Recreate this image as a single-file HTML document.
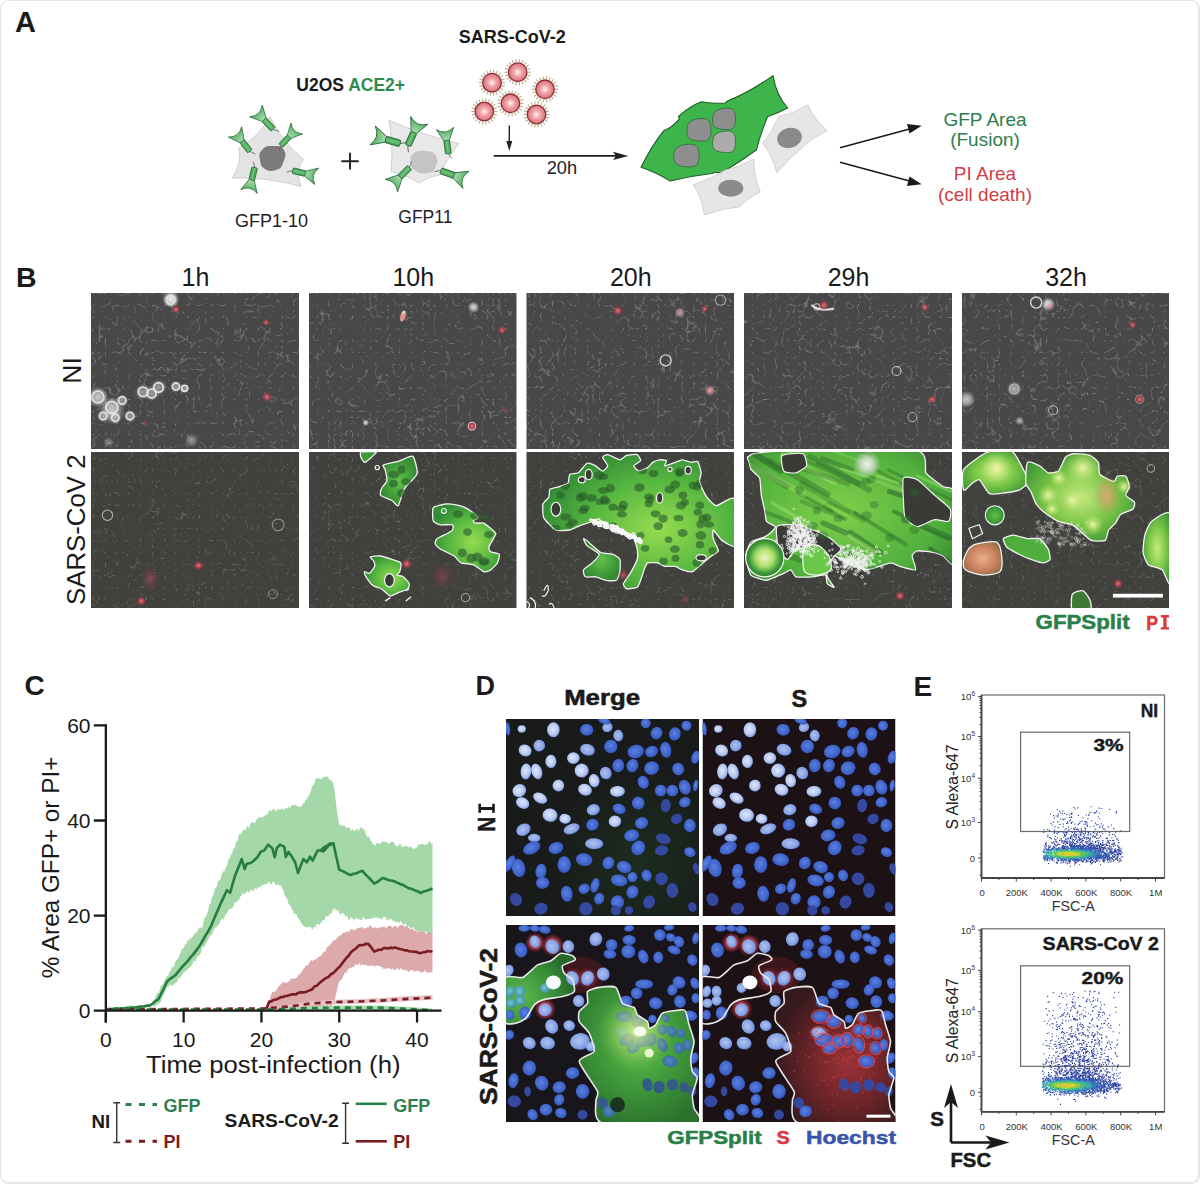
<!DOCTYPE html>
<html><head><meta charset="utf-8"><title>Figure</title>
<style>
html,body{margin:0;padding:0;background:#fff;}
body{width:1200px;height:1184px;overflow:hidden;position:relative;font-family:'Liberation Sans',sans-serif;}
#frame{position:absolute;left:0;top:0;width:1200px;height:1184px;box-sizing:border-box;border-style:solid;border-color:#e6e6e6;border-width:1px 2px 2px 1px;border-radius:9px;}
svg text{font-family:'Liberation Sans',sans-serif;}
</style></head><body>
<div id="frame"></div>
<svg width="1200" height="1184" viewBox="0 0 1200 1184" style="position:absolute;left:0;top:0">
<defs>
<linearGradient id="gstalk" x1="0" x2="1" y1="0" y2="0"><stop offset="0" stop-color="#3f9a4e"/><stop offset="0.5" stop-color="#6cc57a"/><stop offset="1" stop-color="#3f9a4e"/></linearGradient>
<linearGradient id="gcup" x1="0" x2="0" y1="0" y2="1"><stop offset="0" stop-color="#4fae5e"/><stop offset="1" stop-color="#a8dcb0"/></linearGradient>
<radialGradient id="vgrad" cx="0.5" cy="0.5" r="0.5"><stop offset="0" stop-color="#fff4f5"/><stop offset="0.45" stop-color="#f0a5aa"/><stop offset="1" stop-color="#d9717a"/></radialGradient>
</defs>
<text x="15" y="31.5" font-size="29" font-weight="bold" fill="#1a1a1a" text-anchor="start" >A</text>
<text x="296.3" y="90.8" font-size="17.5" font-weight="bold" fill="#1a1a1a">U2OS <tspan fill="#2e8b4e">ACE2+</tspan></text>
<text x="458.8" y="43" font-size="18" font-weight="bold" fill="#1a1a1a" text-anchor="start" >SARS-CoV-2</text>
<text x="235" y="226.5" font-size="18" font-weight="normal" fill="#222" text-anchor="start" >GFP1-10</text>
<text x="398.3" y="223" font-size="17.5" font-weight="normal" fill="#222" text-anchor="start" >GFP11</text>
<path d="M341.3,161.2 H358.7 M350,152.8 V169.5" stroke="#222" stroke-width="1.9"/>
<path d="M238.5,148.3 Q257.49,138.2 270,117 Q282.84,142.56 303.5,159.5 Q294.85,169.67 300.8,186.5 Q266.96,176.88 232,178 Q242.67,161.99 238.5,148.3Z" fill="#e4e4e4" stroke="#c6c6c6" stroke-width="0.8"/>
<path d="M262,150 C265.47,146.27 267.13,146 273,146 C278.87,146 281.33,145.47 284,150 C286.67,154.53 285.13,157.67 283,163 C280.87,168.33 280.8,168.4 276,170 C271.2,171.6 269.27,171.67 265,169 C260.73,166.33 260.8,165.07 260,160 C259.2,154.93 258.53,153.73 262,150Z" fill="#7b7b7b"/>
<g transform="translate(250.2,151.8) rotate(-37.51) scale(1.04)"><path d="M0,-1 C0.5,1.5 1.8,3 2.8,4.5" fill="none" stroke="#555" stroke-width="0.7"/><rect x="-2.7" y="-13" width="5.4" height="12.5" rx="0.9" fill="url(#gstalk)" stroke="#2a6434" stroke-width="0.7"/><path d="M-2.5,-12.8 C-4,-16 -6.2,-20 -8,-24 Q0,-17.5 8,-24 C6.2,-20 4,-16 2.5,-12.8 Z" fill="url(#gcup)" stroke="#2a6434" stroke-width="0.7" stroke-linejoin="round"/></g>
<g transform="translate(273.5,129.7) rotate(-43.1) scale(1.07)"><path d="M0,-1 C0.5,1.5 1.8,3 2.8,4.5" fill="none" stroke="#555" stroke-width="0.7"/><rect x="-2.7" y="-13" width="5.4" height="12.5" rx="0.9" fill="url(#gstalk)" stroke="#2a6434" stroke-width="0.7"/><path d="M-2.5,-12.8 C-4,-16 -6.2,-20 -8,-24 Q0,-17.5 8,-24 C6.2,-20 4,-16 2.5,-12.8 Z" fill="url(#gcup)" stroke="#2a6434" stroke-width="0.7" stroke-linejoin="round"/></g>
<g transform="translate(280.5,146) rotate(42.97) scale(1)"><path d="M0,-1 C0.5,1.5 1.8,3 2.8,4.5" fill="none" stroke="#555" stroke-width="0.7"/><rect x="-2.7" y="-13" width="5.4" height="12.5" rx="0.9" fill="url(#gstalk)" stroke="#2a6434" stroke-width="0.7"/><path d="M-2.5,-12.8 C-4,-16 -6.2,-20 -8,-24 Q0,-17.5 8,-24 C6.2,-20 4,-16 2.5,-12.8 Z" fill="url(#gcup)" stroke="#2a6434" stroke-width="0.7" stroke-linejoin="round"/></g>
<g transform="translate(292.2,170.5) rotate(103.32) scale(1.05)"><path d="M0,-1 C0.5,1.5 1.8,3 2.8,4.5" fill="none" stroke="#555" stroke-width="0.7"/><rect x="-2.7" y="-13" width="5.4" height="12.5" rx="0.9" fill="url(#gstalk)" stroke="#2a6434" stroke-width="0.7"/><path d="M-2.5,-12.8 C-4,-16 -6.2,-20 -8,-24 Q0,-17.5 8,-24 C6.2,-20 4,-16 2.5,-12.8 Z" fill="url(#gcup)" stroke="#2a6434" stroke-width="0.7" stroke-linejoin="round"/></g>
<g transform="translate(254.8,167) rotate(193.32) scale(1.05)"><path d="M0,-1 C0.5,1.5 1.8,3 2.8,4.5" fill="none" stroke="#555" stroke-width="0.7"/><rect x="-2.7" y="-13" width="5.4" height="12.5" rx="0.9" fill="url(#gstalk)" stroke="#2a6434" stroke-width="0.7"/><path d="M-2.5,-12.8 C-4,-16 -6.2,-20 -8,-24 Q0,-17.5 8,-24 C6.2,-20 4,-16 2.5,-12.8 Z" fill="url(#gcup)" stroke="#2a6434" stroke-width="0.7" stroke-linejoin="round"/></g>
<path d="M389,120.3 Q423.48,135.22 459,143.7 Q445.92,159.28 440,175 Q428.45,176.58 419.3,183 Q406.89,175.26 391,172 Q393.56,147.67 389,120.3Z" fill="#e8e8e8" stroke="#c6c6c6" stroke-width="0.8"/>
<path d="M413,154 C416.73,150.8 418.87,150.47 425,151 C431.13,151.53 433.33,151.47 436,156 C438.67,160.53 437.13,163.47 435,168 C432.87,172.53 433.07,172.2 428,173 C422.93,173.8 420.53,173.67 416,171 C411.47,168.33 411.8,167.53 411,163 C410.2,158.47 409.27,157.2 413,154Z" fill="#c4c4c4"/>
<g transform="translate(400.7,143.7) rotate(-73.68) scale(1.22)"><path d="M0,-1 C0.5,1.5 1.8,3 2.8,4.5" fill="none" stroke="#555" stroke-width="0.7"/><rect x="-2.7" y="-13" width="5.4" height="12.5" rx="0.9" fill="url(#gstalk)" stroke="#2a6434" stroke-width="0.7"/><path d="M-2.5,-12.8 C-4,-16 -6.2,-20 -8,-24 Q0,-17.5 8,-24 C6.2,-20 4,-16 2.5,-12.8 Z" fill="url(#gcup)" stroke="#2a6434" stroke-width="0.7" stroke-linejoin="round"/></g>
<g transform="translate(407.7,146) rotate(24.29) scale(1.17)"><path d="M0,-1 C0.5,1.5 1.8,3 2.8,4.5" fill="none" stroke="#555" stroke-width="0.7"/><rect x="-2.7" y="-13" width="5.4" height="12.5" rx="0.9" fill="url(#gstalk)" stroke="#2a6434" stroke-width="0.7"/><path d="M-2.5,-12.8 C-4,-16 -6.2,-20 -8,-24 Q0,-17.5 8,-24 C6.2,-20 4,-16 2.5,-12.8 Z" fill="url(#gcup)" stroke="#2a6434" stroke-width="0.7" stroke-linejoin="round"/></g>
<g transform="translate(448.5,154.2) rotate(-7.76) scale(1.08)"><path d="M0,-1 C0.5,1.5 1.8,3 2.8,4.5" fill="none" stroke="#555" stroke-width="0.7"/><rect x="-2.7" y="-13" width="5.4" height="12.5" rx="0.9" fill="url(#gstalk)" stroke="#2a6434" stroke-width="0.7"/><path d="M-2.5,-12.8 C-4,-16 -6.2,-20 -8,-24 Q0,-17.5 8,-24 C6.2,-20 4,-16 2.5,-12.8 Z" fill="url(#gcup)" stroke="#2a6434" stroke-width="0.7" stroke-linejoin="round"/></g>
<g transform="translate(410,167) rotate(225) scale(1.1)"><path d="M0,-1 C0.5,1.5 1.8,3 2.8,4.5" fill="none" stroke="#555" stroke-width="0.7"/><rect x="-2.7" y="-13" width="5.4" height="12.5" rx="0.9" fill="url(#gstalk)" stroke="#2a6434" stroke-width="0.7"/><path d="M-2.5,-12.8 C-4,-16 -6.2,-20 -8,-24 Q0,-17.5 8,-24 C6.2,-20 4,-16 2.5,-12.8 Z" fill="url(#gcup)" stroke="#2a6434" stroke-width="0.7" stroke-linejoin="round"/></g>
<g transform="translate(440.3,170.5) rotate(109.89) scale(1.14)"><path d="M0,-1 C0.5,1.5 1.8,3 2.8,4.5" fill="none" stroke="#555" stroke-width="0.7"/><rect x="-2.7" y="-13" width="5.4" height="12.5" rx="0.9" fill="url(#gstalk)" stroke="#2a6434" stroke-width="0.7"/><path d="M-2.5,-12.8 C-4,-16 -6.2,-20 -8,-24 Q0,-17.5 8,-24 C6.2,-20 4,-16 2.5,-12.8 Z" fill="url(#gcup)" stroke="#2a6434" stroke-width="0.7" stroke-linejoin="round"/></g>
<g><line x1="502.1" y1="82.7" x2="505.1" y2="82.7" stroke="#b9b38f" stroke-width="1.2"/><line x1="501.69" y1="85.55" x2="504.57" y2="86.39" stroke="#b9b38f" stroke-width="1.2"/><line x1="500.5" y1="88.16" x2="503.02" y2="89.78" stroke="#b9b38f" stroke-width="1.2"/><line x1="498.61" y1="90.33" x2="500.58" y2="92.6" stroke="#b9b38f" stroke-width="1.2"/><line x1="496.2" y1="91.89" x2="497.44" y2="94.62" stroke="#b9b38f" stroke-width="1.2"/><line x1="493.44" y1="92.7" x2="493.86" y2="95.67" stroke="#b9b38f" stroke-width="1.2"/><line x1="490.56" y1="92.7" x2="490.14" y2="95.67" stroke="#b9b38f" stroke-width="1.2"/><line x1="487.8" y1="91.89" x2="486.56" y2="94.62" stroke="#b9b38f" stroke-width="1.2"/><line x1="485.39" y1="90.33" x2="483.42" y2="92.6" stroke="#b9b38f" stroke-width="1.2"/><line x1="483.5" y1="88.16" x2="480.98" y2="89.78" stroke="#b9b38f" stroke-width="1.2"/><line x1="482.31" y1="85.55" x2="479.43" y2="86.39" stroke="#b9b38f" stroke-width="1.2"/><line x1="481.9" y1="82.7" x2="478.9" y2="82.7" stroke="#b9b38f" stroke-width="1.2"/><line x1="482.31" y1="79.85" x2="479.43" y2="79.01" stroke="#b9b38f" stroke-width="1.2"/><line x1="483.5" y1="77.24" x2="480.98" y2="75.62" stroke="#b9b38f" stroke-width="1.2"/><line x1="485.39" y1="75.07" x2="483.42" y2="72.8" stroke="#b9b38f" stroke-width="1.2"/><line x1="487.8" y1="73.51" x2="486.56" y2="70.78" stroke="#b9b38f" stroke-width="1.2"/><line x1="490.56" y1="72.7" x2="490.14" y2="69.73" stroke="#b9b38f" stroke-width="1.2"/><line x1="493.44" y1="72.7" x2="493.86" y2="69.73" stroke="#b9b38f" stroke-width="1.2"/><line x1="496.2" y1="73.51" x2="497.44" y2="70.78" stroke="#b9b38f" stroke-width="1.2"/><line x1="498.61" y1="75.07" x2="500.58" y2="72.8" stroke="#b9b38f" stroke-width="1.2"/><line x1="500.5" y1="77.24" x2="503.02" y2="75.62" stroke="#b9b38f" stroke-width="1.2"/><line x1="501.69" y1="79.85" x2="504.57" y2="79.01" stroke="#b9b38f" stroke-width="1.2"/><circle cx="492" cy="82.7" r="9.3" fill="url(#vgrad)" stroke="#8e2b32" stroke-width="1.3"/></g>
<g><line x1="527.8" y1="72.2" x2="530.8" y2="72.2" stroke="#b9b38f" stroke-width="1.2"/><line x1="527.39" y1="75.05" x2="530.27" y2="75.89" stroke="#b9b38f" stroke-width="1.2"/><line x1="526.2" y1="77.66" x2="528.72" y2="79.28" stroke="#b9b38f" stroke-width="1.2"/><line x1="524.31" y1="79.83" x2="526.28" y2="82.1" stroke="#b9b38f" stroke-width="1.2"/><line x1="521.9" y1="81.39" x2="523.14" y2="84.12" stroke="#b9b38f" stroke-width="1.2"/><line x1="519.14" y1="82.2" x2="519.56" y2="85.17" stroke="#b9b38f" stroke-width="1.2"/><line x1="516.26" y1="82.2" x2="515.84" y2="85.17" stroke="#b9b38f" stroke-width="1.2"/><line x1="513.5" y1="81.39" x2="512.26" y2="84.12" stroke="#b9b38f" stroke-width="1.2"/><line x1="511.09" y1="79.83" x2="509.12" y2="82.1" stroke="#b9b38f" stroke-width="1.2"/><line x1="509.2" y1="77.66" x2="506.68" y2="79.28" stroke="#b9b38f" stroke-width="1.2"/><line x1="508.01" y1="75.05" x2="505.13" y2="75.89" stroke="#b9b38f" stroke-width="1.2"/><line x1="507.6" y1="72.2" x2="504.6" y2="72.2" stroke="#b9b38f" stroke-width="1.2"/><line x1="508.01" y1="69.35" x2="505.13" y2="68.51" stroke="#b9b38f" stroke-width="1.2"/><line x1="509.2" y1="66.74" x2="506.68" y2="65.12" stroke="#b9b38f" stroke-width="1.2"/><line x1="511.09" y1="64.57" x2="509.12" y2="62.3" stroke="#b9b38f" stroke-width="1.2"/><line x1="513.5" y1="63.01" x2="512.26" y2="60.28" stroke="#b9b38f" stroke-width="1.2"/><line x1="516.26" y1="62.2" x2="515.84" y2="59.23" stroke="#b9b38f" stroke-width="1.2"/><line x1="519.14" y1="62.2" x2="519.56" y2="59.23" stroke="#b9b38f" stroke-width="1.2"/><line x1="521.9" y1="63.01" x2="523.14" y2="60.28" stroke="#b9b38f" stroke-width="1.2"/><line x1="524.31" y1="64.57" x2="526.28" y2="62.3" stroke="#b9b38f" stroke-width="1.2"/><line x1="526.2" y1="66.74" x2="528.72" y2="65.12" stroke="#b9b38f" stroke-width="1.2"/><line x1="527.39" y1="69.35" x2="530.27" y2="68.51" stroke="#b9b38f" stroke-width="1.2"/><circle cx="517.7" cy="72.2" r="9.3" fill="url(#vgrad)" stroke="#8e2b32" stroke-width="1.3"/></g>
<g><line x1="555.1" y1="89.3" x2="558.1" y2="89.3" stroke="#b9b38f" stroke-width="1.2"/><line x1="554.69" y1="92.15" x2="557.57" y2="92.99" stroke="#b9b38f" stroke-width="1.2"/><line x1="553.5" y1="94.76" x2="556.02" y2="96.38" stroke="#b9b38f" stroke-width="1.2"/><line x1="551.61" y1="96.93" x2="553.58" y2="99.2" stroke="#b9b38f" stroke-width="1.2"/><line x1="549.2" y1="98.49" x2="550.44" y2="101.22" stroke="#b9b38f" stroke-width="1.2"/><line x1="546.44" y1="99.3" x2="546.86" y2="102.27" stroke="#b9b38f" stroke-width="1.2"/><line x1="543.56" y1="99.3" x2="543.14" y2="102.27" stroke="#b9b38f" stroke-width="1.2"/><line x1="540.8" y1="98.49" x2="539.56" y2="101.22" stroke="#b9b38f" stroke-width="1.2"/><line x1="538.39" y1="96.93" x2="536.42" y2="99.2" stroke="#b9b38f" stroke-width="1.2"/><line x1="536.5" y1="94.76" x2="533.98" y2="96.38" stroke="#b9b38f" stroke-width="1.2"/><line x1="535.31" y1="92.15" x2="532.43" y2="92.99" stroke="#b9b38f" stroke-width="1.2"/><line x1="534.9" y1="89.3" x2="531.9" y2="89.3" stroke="#b9b38f" stroke-width="1.2"/><line x1="535.31" y1="86.45" x2="532.43" y2="85.61" stroke="#b9b38f" stroke-width="1.2"/><line x1="536.5" y1="83.84" x2="533.98" y2="82.22" stroke="#b9b38f" stroke-width="1.2"/><line x1="538.39" y1="81.67" x2="536.42" y2="79.4" stroke="#b9b38f" stroke-width="1.2"/><line x1="540.8" y1="80.11" x2="539.56" y2="77.38" stroke="#b9b38f" stroke-width="1.2"/><line x1="543.56" y1="79.3" x2="543.14" y2="76.33" stroke="#b9b38f" stroke-width="1.2"/><line x1="546.44" y1="79.3" x2="546.86" y2="76.33" stroke="#b9b38f" stroke-width="1.2"/><line x1="549.2" y1="80.11" x2="550.44" y2="77.38" stroke="#b9b38f" stroke-width="1.2"/><line x1="551.61" y1="81.67" x2="553.58" y2="79.4" stroke="#b9b38f" stroke-width="1.2"/><line x1="553.5" y1="83.84" x2="556.02" y2="82.22" stroke="#b9b38f" stroke-width="1.2"/><line x1="554.69" y1="86.45" x2="557.57" y2="85.61" stroke="#b9b38f" stroke-width="1.2"/><circle cx="545" cy="89.3" r="9.3" fill="url(#vgrad)" stroke="#8e2b32" stroke-width="1.3"/></g>
<g><line x1="520.6" y1="103.3" x2="523.6" y2="103.3" stroke="#b9b38f" stroke-width="1.2"/><line x1="520.19" y1="106.15" x2="523.07" y2="106.99" stroke="#b9b38f" stroke-width="1.2"/><line x1="519" y1="108.76" x2="521.52" y2="110.38" stroke="#b9b38f" stroke-width="1.2"/><line x1="517.11" y1="110.93" x2="519.08" y2="113.2" stroke="#b9b38f" stroke-width="1.2"/><line x1="514.7" y1="112.49" x2="515.94" y2="115.22" stroke="#b9b38f" stroke-width="1.2"/><line x1="511.94" y1="113.3" x2="512.36" y2="116.27" stroke="#b9b38f" stroke-width="1.2"/><line x1="509.06" y1="113.3" x2="508.64" y2="116.27" stroke="#b9b38f" stroke-width="1.2"/><line x1="506.3" y1="112.49" x2="505.06" y2="115.22" stroke="#b9b38f" stroke-width="1.2"/><line x1="503.89" y1="110.93" x2="501.92" y2="113.2" stroke="#b9b38f" stroke-width="1.2"/><line x1="502" y1="108.76" x2="499.48" y2="110.38" stroke="#b9b38f" stroke-width="1.2"/><line x1="500.81" y1="106.15" x2="497.93" y2="106.99" stroke="#b9b38f" stroke-width="1.2"/><line x1="500.4" y1="103.3" x2="497.4" y2="103.3" stroke="#b9b38f" stroke-width="1.2"/><line x1="500.81" y1="100.45" x2="497.93" y2="99.61" stroke="#b9b38f" stroke-width="1.2"/><line x1="502" y1="97.84" x2="499.48" y2="96.22" stroke="#b9b38f" stroke-width="1.2"/><line x1="503.89" y1="95.67" x2="501.92" y2="93.4" stroke="#b9b38f" stroke-width="1.2"/><line x1="506.3" y1="94.11" x2="505.06" y2="91.38" stroke="#b9b38f" stroke-width="1.2"/><line x1="509.06" y1="93.3" x2="508.64" y2="90.33" stroke="#b9b38f" stroke-width="1.2"/><line x1="511.94" y1="93.3" x2="512.36" y2="90.33" stroke="#b9b38f" stroke-width="1.2"/><line x1="514.7" y1="94.11" x2="515.94" y2="91.38" stroke="#b9b38f" stroke-width="1.2"/><line x1="517.11" y1="95.67" x2="519.08" y2="93.4" stroke="#b9b38f" stroke-width="1.2"/><line x1="519" y1="97.84" x2="521.52" y2="96.22" stroke="#b9b38f" stroke-width="1.2"/><line x1="520.19" y1="100.45" x2="523.07" y2="99.61" stroke="#b9b38f" stroke-width="1.2"/><circle cx="510.5" cy="103.3" r="9.3" fill="url(#vgrad)" stroke="#8e2b32" stroke-width="1.3"/></g>
<g><line x1="494.4" y1="111.5" x2="497.4" y2="111.5" stroke="#b9b38f" stroke-width="1.2"/><line x1="493.99" y1="114.35" x2="496.87" y2="115.19" stroke="#b9b38f" stroke-width="1.2"/><line x1="492.8" y1="116.96" x2="495.32" y2="118.58" stroke="#b9b38f" stroke-width="1.2"/><line x1="490.91" y1="119.13" x2="492.88" y2="121.4" stroke="#b9b38f" stroke-width="1.2"/><line x1="488.5" y1="120.69" x2="489.74" y2="123.42" stroke="#b9b38f" stroke-width="1.2"/><line x1="485.74" y1="121.5" x2="486.16" y2="124.47" stroke="#b9b38f" stroke-width="1.2"/><line x1="482.86" y1="121.5" x2="482.44" y2="124.47" stroke="#b9b38f" stroke-width="1.2"/><line x1="480.1" y1="120.69" x2="478.86" y2="123.42" stroke="#b9b38f" stroke-width="1.2"/><line x1="477.69" y1="119.13" x2="475.72" y2="121.4" stroke="#b9b38f" stroke-width="1.2"/><line x1="475.8" y1="116.96" x2="473.28" y2="118.58" stroke="#b9b38f" stroke-width="1.2"/><line x1="474.61" y1="114.35" x2="471.73" y2="115.19" stroke="#b9b38f" stroke-width="1.2"/><line x1="474.2" y1="111.5" x2="471.2" y2="111.5" stroke="#b9b38f" stroke-width="1.2"/><line x1="474.61" y1="108.65" x2="471.73" y2="107.81" stroke="#b9b38f" stroke-width="1.2"/><line x1="475.8" y1="106.04" x2="473.28" y2="104.42" stroke="#b9b38f" stroke-width="1.2"/><line x1="477.69" y1="103.87" x2="475.72" y2="101.6" stroke="#b9b38f" stroke-width="1.2"/><line x1="480.1" y1="102.31" x2="478.86" y2="99.58" stroke="#b9b38f" stroke-width="1.2"/><line x1="482.86" y1="101.5" x2="482.44" y2="98.53" stroke="#b9b38f" stroke-width="1.2"/><line x1="485.74" y1="101.5" x2="486.16" y2="98.53" stroke="#b9b38f" stroke-width="1.2"/><line x1="488.5" y1="102.31" x2="489.74" y2="99.58" stroke="#b9b38f" stroke-width="1.2"/><line x1="490.91" y1="103.87" x2="492.88" y2="101.6" stroke="#b9b38f" stroke-width="1.2"/><line x1="492.8" y1="106.04" x2="495.32" y2="104.42" stroke="#b9b38f" stroke-width="1.2"/><line x1="493.99" y1="108.65" x2="496.87" y2="107.81" stroke="#b9b38f" stroke-width="1.2"/><circle cx="484.3" cy="111.5" r="9.3" fill="url(#vgrad)" stroke="#8e2b32" stroke-width="1.3"/></g>
<g><line x1="546.6" y1="114.5" x2="549.6" y2="114.5" stroke="#b9b38f" stroke-width="1.2"/><line x1="546.19" y1="117.35" x2="549.07" y2="118.19" stroke="#b9b38f" stroke-width="1.2"/><line x1="545" y1="119.96" x2="547.52" y2="121.58" stroke="#b9b38f" stroke-width="1.2"/><line x1="543.11" y1="122.13" x2="545.08" y2="124.4" stroke="#b9b38f" stroke-width="1.2"/><line x1="540.7" y1="123.69" x2="541.94" y2="126.42" stroke="#b9b38f" stroke-width="1.2"/><line x1="537.94" y1="124.5" x2="538.36" y2="127.47" stroke="#b9b38f" stroke-width="1.2"/><line x1="535.06" y1="124.5" x2="534.64" y2="127.47" stroke="#b9b38f" stroke-width="1.2"/><line x1="532.3" y1="123.69" x2="531.06" y2="126.42" stroke="#b9b38f" stroke-width="1.2"/><line x1="529.89" y1="122.13" x2="527.92" y2="124.4" stroke="#b9b38f" stroke-width="1.2"/><line x1="528" y1="119.96" x2="525.48" y2="121.58" stroke="#b9b38f" stroke-width="1.2"/><line x1="526.81" y1="117.35" x2="523.93" y2="118.19" stroke="#b9b38f" stroke-width="1.2"/><line x1="526.4" y1="114.5" x2="523.4" y2="114.5" stroke="#b9b38f" stroke-width="1.2"/><line x1="526.81" y1="111.65" x2="523.93" y2="110.81" stroke="#b9b38f" stroke-width="1.2"/><line x1="528" y1="109.04" x2="525.48" y2="107.42" stroke="#b9b38f" stroke-width="1.2"/><line x1="529.89" y1="106.87" x2="527.92" y2="104.6" stroke="#b9b38f" stroke-width="1.2"/><line x1="532.3" y1="105.31" x2="531.06" y2="102.58" stroke="#b9b38f" stroke-width="1.2"/><line x1="535.06" y1="104.5" x2="534.64" y2="101.53" stroke="#b9b38f" stroke-width="1.2"/><line x1="537.94" y1="104.5" x2="538.36" y2="101.53" stroke="#b9b38f" stroke-width="1.2"/><line x1="540.7" y1="105.31" x2="541.94" y2="102.58" stroke="#b9b38f" stroke-width="1.2"/><line x1="543.11" y1="106.87" x2="545.08" y2="104.6" stroke="#b9b38f" stroke-width="1.2"/><line x1="545" y1="109.04" x2="547.52" y2="107.42" stroke="#b9b38f" stroke-width="1.2"/><line x1="546.19" y1="111.65" x2="549.07" y2="110.81" stroke="#b9b38f" stroke-width="1.2"/><circle cx="536.5" cy="114.5" r="9.3" fill="url(#vgrad)" stroke="#8e2b32" stroke-width="1.3"/></g>
<path d="M509.3,125.5 V146" stroke="#222" stroke-width="1.4"/><path d="M506.3,141 L509.3,151 L512.3,141 Z" fill="#222"/>
<path d="M493.7,155.9 H620" stroke="#222" stroke-width="1.6"/><path d="M613,151.8 L628.3,155.9 L613,160 L616,155.9 Z" fill="#222"/>
<text x="546.7" y="173.5" font-size="18.2" font-weight="normal" fill="#222" text-anchor="start" >20h</text>
<path d="M641,167.3 Q652,145 663.9,130.6 Q672,128 679.5,118.7 L678.5,116.5 Q690,106 701.5,101.8 Q714,104 725,103 L728,100.8 Q750,92 773,75.6 Q776,95 787.7,108 Q778,113 767.5,116.8 Q760,135 756.5,149.8 Q740,162 721.7,172.8 Q714,172 712,173.5 Q690,176 670.3,181 Q655,172 641,167.3 Z" fill="#3db54a" stroke="#1d5e2a" stroke-width="1.1" stroke-linejoin="round"/>
<path d="M677.3,147.3 C681.24,144.28 692.54,142.87 696.3,145.8 C700.06,148.73 699.45,159.45 697.8,163.3 C696.15,167.15 691.52,166.98 687.3,166.8 C683.08,166.62 676.63,165.88 674.8,162.3 C672.97,158.73 673.36,150.33 677.3,147.3Z" fill="#8e8e8e" stroke="#2b5e33" stroke-width="0.7"/>
<path d="M690.3,121.6 C694.06,118.57 704.72,117.17 708.3,120.1 C711.88,123.03 711.36,133.75 709.8,137.6 C708.24,141.45 703.83,141.28 699.8,141.1 C695.77,140.92 689.54,140.17 687.8,136.6 C686.06,133.03 686.54,124.62 690.3,121.6Z" fill="#8e8e8e" stroke="#2b5e33" stroke-width="0.7"/>
<path d="M715.9,111.1 C719.48,108.26 729.51,106.85 732.9,109.6 C736.29,112.35 735.87,122.43 734.4,126.1 C732.93,129.77 728.75,129.78 724.9,129.6 C721.05,129.42 715.05,128.49 713.4,125.1 C711.75,121.71 712.32,113.94 715.9,111.1Z" fill="#8e8e8e" stroke="#2b5e33" stroke-width="0.7"/>
<path d="M715.9,134 C719.48,131.16 729.51,129.75 732.9,132.5 C736.29,135.25 735.87,145.33 734.4,149 C732.93,152.67 728.75,152.68 724.9,152.5 C721.05,152.32 715.05,151.39 713.4,148 C711.75,144.61 712.32,136.84 715.9,134Z" fill="#ababab" stroke="#2b5e33" stroke-width="0.7"/>
<path d="M762.9,143.4 Q773.39,130.74 778.5,116.8 Q793.15,113.8 807.8,104.9 Q814.49,119.88 827,130.6 Q813.7,137.21 806,144.3 Q791.57,155.76 776.7,172.75 Q772.6,155.36 762.9,143.4Z" fill="#e6e6e6" stroke="#c8c8c8" stroke-width="0.8"/>
<ellipse cx="789.5" cy="137.9" rx="12.5" ry="10" fill="#8a8a8a" transform="rotate(-15 789.5 137.9)"/>
<path d="M693.3,184.7 Q711.72,178.61 725.3,170 Q738.34,167.31 753.8,159 Q753.7,176.99 760.2,192 Q747.63,197.97 740,206.7 Q723.03,208.05 704.3,214.9 Q702.48,198.37 693.3,184.7Z" fill="#e6e6e6" stroke="#c8c8c8" stroke-width="0.8"/>
<ellipse cx="730.8" cy="188.3" rx="12.5" ry="8.5" fill="#8a8a8a"/>
<path d="M840,147.7 L916,127.3" stroke="#1a1a1a" stroke-width="1.5"/><path d="M907,124 L921.7,125.7 L909.5,133.5 Z" fill="#1a1a1a"/>
<path d="M840,162.3 L916,182.7" stroke="#1a1a1a" stroke-width="1.5"/><path d="M909.5,176.5 L921.7,184.3 L907,186 Z" fill="#1a1a1a"/>
<text x="985" y="125.7" font-size="19" font-weight="normal" fill="#2e7d4c" text-anchor="middle" >GFP Area</text>
<text x="985" y="145.8" font-size="19" font-weight="normal" fill="#2e7d4c" text-anchor="middle" >(Fusion)</text>
<text x="985" y="179.7" font-size="19" font-weight="normal" fill="#d23c46" text-anchor="middle" >PI Area</text>
<text x="985" y="200.8" font-size="19" font-weight="normal" fill="#d23c46" text-anchor="middle" >(cell death)</text>
<defs>
<filter id="tex1" x="0" y="0" width="1" height="1" filterUnits="objectBoundingBox" color-interpolation-filters="sRGB">
 <feTurbulence type="turbulence" baseFrequency="0.085" numOctaves="2" seed="4" result="t"/>
 <feColorMatrix in="t" type="matrix" values="0 0 0 0 1  0 0 0 0 1  0 0 0 0 1  -2.6 0 0 0 0.26" result="c"/>
 <feGaussianBlur in="c" stdDeviation="0.7"/>
</filter>
<filter id="tex2" x="0" y="0" width="1" height="1" filterUnits="objectBoundingBox" color-interpolation-filters="sRGB">
 <feTurbulence type="turbulence" baseFrequency="0.085" numOctaves="2" seed="9" result="t"/>
 <feColorMatrix in="t" type="matrix" values="0 0 0 0 1  0 0 0 0 1  0 0 0 0 1  -2.6 0 0 0 0.2" result="c"/>
 <feGaussianBlur in="c" stdDeviation="0.7"/>
</filter>
<radialGradient id="rdot"><stop offset="0" stop-color="#f07880"/><stop offset="0.45" stop-color="#c84854" stop-opacity="0.75"/><stop offset="1" stop-color="#a03040" stop-opacity="0"/></radialGradient>
<radialGradient id="wdot"><stop offset="0" stop-color="#ffffff"/><stop offset="0.5" stop-color="#e0e0e0" stop-opacity="0.8"/><stop offset="1" stop-color="#d0d0d0" stop-opacity="0"/></radialGradient>
<radialGradient id="pdot"><stop offset="0" stop-color="#b85060" stop-opacity="0.6"/><stop offset="1" stop-color="#803040" stop-opacity="0"/></radialGradient>
<radialGradient id="g2"><stop offset="0" stop-color="#62c04a"/><stop offset="1" stop-color="#348c34"/></radialGradient>
<radialGradient id="g3" cx="0.6" cy="0.55" r="0.6"><stop offset="0" stop-color="#96dc50"/><stop offset="0.6" stop-color="#56b640"/><stop offset="1" stop-color="#348e36"/></radialGradient>
<radialGradient id="g4" cx="0.45" cy="0.45" r="0.7"><stop offset="0" stop-color="#80d04c"/><stop offset="0.7" stop-color="#4fae3c"/><stop offset="1" stop-color="#347e32"/></radialGradient>
<radialGradient id="g5" cx="0.5" cy="0.5" r="0.6"><stop offset="0" stop-color="#c8e880"/><stop offset="0.5" stop-color="#7cc848"/><stop offset="1" stop-color="#3d9436"/></radialGradient>
<radialGradient id="gball" cx="0.5" cy="0.5" r="0.5"><stop offset="0" stop-color="#e8f4c0"/><stop offset="0.45" stop-color="#b0e070"/><stop offset="0.8" stop-color="#3e9e38"/><stop offset="1" stop-color="#2e7a30"/></radialGradient>
<radialGradient id="gorange" cx="0.5" cy="0.5" r="0.6"><stop offset="0" stop-color="#e8b088"/><stop offset="0.6" stop-color="#c88060"/><stop offset="1" stop-color="#8a6a40"/></radialGradient>
</defs>
<text x="16" y="287" font-size="28.5" font-weight="bold" fill="#1a1a1a" text-anchor="start" >B</text>
<text x="195.5" y="285.8" font-size="25" font-weight="normal" fill="#1a1a1a" text-anchor="middle" font-family="'Liberation Mono', monospace" >1h</text>
<text x="413.25" y="285.8" font-size="25" font-weight="normal" fill="#1a1a1a" text-anchor="middle" font-family="'Liberation Mono', monospace" >10h</text>
<text x="630.75" y="285.8" font-size="25" font-weight="normal" fill="#1a1a1a" text-anchor="middle" font-family="'Liberation Mono', monospace" >20h</text>
<text x="848.5" y="285.8" font-size="25" font-weight="normal" fill="#1a1a1a" text-anchor="middle" font-family="'Liberation Mono', monospace" >29h</text>
<text x="1066" y="285.8" font-size="25" font-weight="normal" fill="#1a1a1a" text-anchor="middle" font-family="'Liberation Mono', monospace" >32h</text>
<text transform="translate(81.3,370.5) rotate(-90)" font-family="'Liberation Mono', monospace" font-size="26.5" fill="#1a1a1a" text-anchor="middle">NI</text>
<text transform="translate(85,529.7) rotate(-90)" font-family="'Liberation Mono', monospace" font-size="25.8" fill="#1a1a1a" text-anchor="middle">SARS-CoV 2</text>
<text x="1035.6" y="629" font-size="19.7" font-weight="bold" fill="#2a7f48" stroke="#2a7f48" stroke-width="0.5" textLength="94" lengthAdjust="spacingAndGlyphs">GFPSplit</text>
<text x="1146.2" y="629.6" font-size="20" font-weight="bold" fill="#d93a3a" stroke="#d93a3a" stroke-width="0.5" textLength="11.8" lengthAdjust="spacingAndGlyphs">P</text>
<path d="M1160.8,615.1 H1169 V617.5 H1166.6 V627.2 H1169 V629.6 H1160.8 V627.2 H1163.3 V617.5 H1160.8 Z" fill="#d93a3a"/>
<rect x="91" y="293" width="208" height="156" fill="#484848"/><rect x="91" y="293" width="208" height="156" fill="#fff" filter="url(#tex1)"/><svg x="91" y="293" width="208" height="156" viewBox="0 0 1200 900" preserveAspectRatio="none"><circle cx="300" cy="570" r="48" fill="url(#wdot)" opacity="0.45"/><circle cx="300" cy="570" r="27.2" fill="none" stroke="#e8e8e8" stroke-width="11" opacity="0.9"/><circle cx="350" cy="580" r="45" fill="url(#wdot)" opacity="0.45"/><circle cx="350" cy="580" r="25.5" fill="none" stroke="#e8e8e8" stroke-width="11" opacity="0.9"/><circle cx="390" cy="545" r="48" fill="url(#wdot)" opacity="0.45"/><circle cx="390" cy="545" r="27.2" fill="none" stroke="#e8e8e8" stroke-width="11" opacity="0.9"/><circle cx="490" cy="540" r="36" fill="url(#wdot)" opacity="0.45"/><circle cx="490" cy="540" r="20.4" fill="none" stroke="#e8e8e8" stroke-width="11" opacity="0.9"/><circle cx="540" cy="550" r="30" fill="url(#wdot)" opacity="0.45"/><circle cx="540" cy="550" r="17" fill="none" stroke="#e8e8e8" stroke-width="11" opacity="0.9"/><circle cx="40" cy="600" r="60" fill="url(#wdot)" opacity="0.45"/><circle cx="40" cy="600" r="34" fill="none" stroke="#e8e8e8" stroke-width="11" opacity="0.9"/><circle cx="120" cy="660" r="60" fill="url(#wdot)" opacity="0.45"/><circle cx="120" cy="660" r="34" fill="none" stroke="#e8e8e8" stroke-width="11" opacity="0.9"/><circle cx="70" cy="710" r="37.5" fill="url(#wdot)" opacity="0.45"/><circle cx="70" cy="710" r="21.25" fill="none" stroke="#e8e8e8" stroke-width="11" opacity="0.9"/><circle cx="140" cy="720" r="37.5" fill="url(#wdot)" opacity="0.45"/><circle cx="140" cy="720" r="21.25" fill="none" stroke="#e8e8e8" stroke-width="11" opacity="0.9"/><circle cx="180" cy="620" r="37.5" fill="url(#wdot)" opacity="0.45"/><circle cx="180" cy="620" r="21.25" fill="none" stroke="#e8e8e8" stroke-width="11" opacity="0.9"/><circle cx="225" cy="710" r="37.5" fill="url(#wdot)" opacity="0.45"/><circle cx="225" cy="710" r="21.25" fill="none" stroke="#e8e8e8" stroke-width="11" opacity="0.9"/><circle cx="460" cy="40" r="45" fill="url(#wdot)" opacity="0.45"/><circle cx="460" cy="40" r="25.5" fill="none" stroke="#e8e8e8" stroke-width="11" opacity="0.9"/><circle cx="460" cy="35" r="50" fill="url(#wdot)" opacity="0.9"/><circle cx="120" cy="680" r="80" fill="url(#wdot)" opacity="0.5"/><circle cx="40" cy="600" r="60" fill="url(#wdot)" opacity="0.5"/><circle cx="490" cy="95" r="26" fill="url(#rdot)" opacity="1"/><circle cx="1010" cy="170" r="22" fill="url(#rdot)" opacity="1"/><circle cx="1015" cy="600" r="30" fill="url(#rdot)" opacity="1"/><circle cx="310" cy="750" r="26" fill="url(#pdot)" opacity="1"/><circle cx="580" cy="850" r="40" fill="url(#wdot)" opacity="0.4"/><circle cx="100" cy="860" r="30" fill="url(#wdot)" opacity="0.3"/></svg>
<rect x="309" y="293" width="207.5" height="156" fill="#484848"/><rect x="309" y="293" width="207.5" height="156" fill="#fff" filter="url(#tex1)"/><svg x="309" y="293" width="207.5" height="156" viewBox="0 0 1200 900" preserveAspectRatio="none"><ellipse cx="543" cy="133" rx="14" ry="32" fill="#ffe0d0" opacity="0.9" transform="rotate(15 543 133)"/><circle cx="543" cy="140" r="30" fill="url(#rdot)" opacity="0.6"/><circle cx="952" cy="82" r="34" fill="url(#wdot)" opacity="0.8"/><circle cx="1116" cy="215" r="26" fill="url(#rdot)" opacity="1"/><circle cx="942" cy="768" r="34" fill="url(#rdot)" opacity="1"/><circle cx="942" cy="768" r="22" fill="none" stroke="#e8e8e8" stroke-width="6" opacity="0.8"/><circle cx="1137" cy="676" r="26" fill="url(#pdot)" opacity="1"/><circle cx="328" cy="748" r="20" fill="url(#wdot)" opacity="0.8"/></svg>
<rect x="526.5" y="293" width="207.5" height="156" fill="#484848"/><rect x="526.5" y="293" width="207.5" height="156" fill="#fff" filter="url(#tex1)"/><svg x="526.5" y="293" width="207.5" height="156" viewBox="0 0 1200 900" preserveAspectRatio="none"><circle cx="528" cy="102" r="30" fill="url(#rdot)" opacity="1"/><circle cx="887" cy="113" r="30" fill="url(#wdot)" opacity="0.7"/><circle cx="887" cy="113" r="20" fill="url(#rdot)" opacity="0.6"/><circle cx="1030" cy="92" r="22" fill="url(#rdot)" opacity="1"/><circle cx="805" cy="389" r="32" fill="none" stroke="#e8e8e8" stroke-width="8" opacity="0.85"/><circle cx="1061" cy="563" r="30" fill="url(#rdot)" opacity="1"/><circle cx="1061" cy="563" r="34" fill="url(#wdot)" opacity="0.4"/><circle cx="1122" cy="41" r="30" fill="none" stroke="#e8e8e8" stroke-width="6" opacity="0.6"/></svg>
<rect x="744" y="293" width="208" height="156" fill="#484848"/><rect x="744" y="293" width="208" height="156" fill="#fff" filter="url(#tex1)"/><svg x="744" y="293" width="208" height="156" viewBox="0 0 1200 900" preserveAspectRatio="none"><path d="M390,70 Q440,110 520,90" fill="none" stroke="#f4f4f4" stroke-width="12" opacity="0.85"/><circle cx="420" cy="80" r="18" fill="none" stroke="#e8e8e8" stroke-width="6" opacity="0.8"/><circle cx="461" cy="70" r="30" fill="url(#rdot)" opacity="1"/><circle cx="1044" cy="82" r="24" fill="url(#rdot)" opacity="1"/><circle cx="1085" cy="614" r="26" fill="url(#rdot)" opacity="1"/><circle cx="880" cy="450" r="26" fill="none" stroke="#e8e8e8" stroke-width="6" opacity="0.8"/><circle cx="972" cy="716" r="26" fill="none" stroke="#e8e8e8" stroke-width="6" opacity="0.6"/></svg>
<rect x="962" y="293" width="207" height="156" fill="#484848"/><rect x="962" y="293" width="207" height="156" fill="#fff" filter="url(#tex1)"/><svg x="962" y="293" width="207" height="156" viewBox="0 0 1200 900" preserveAspectRatio="none"><circle cx="430" cy="55" r="32" fill="none" stroke="#e8e8e8" stroke-width="8" opacity="0.9"/><circle cx="500" cy="65" r="40" fill="url(#wdot)" opacity="0.95"/><circle cx="510" cy="75" r="24" fill="url(#rdot)" opacity="0.5"/><circle cx="989" cy="184" r="24" fill="url(#rdot)" opacity="1"/><circle cx="1030" cy="614" r="30" fill="url(#rdot)" opacity="1"/><circle cx="1030" cy="614" r="24" fill="none" stroke="#e8e8e8" stroke-width="5" opacity="0.5"/><circle cx="303" cy="553" r="45" fill="url(#wdot)" opacity="0.6"/><circle cx="303" cy="553" r="28" fill="none" stroke="#e8e8e8" stroke-width="6" opacity="0.6"/><circle cx="27" cy="614" r="50" fill="url(#wdot)" opacity="0.7"/><circle cx="528" cy="676" r="26" fill="none" stroke="#e8e8e8" stroke-width="6" opacity="0.7"/><circle cx="334" cy="737" r="26" fill="url(#wdot)" opacity="0.6"/></svg>
<rect x="91" y="452" width="208" height="156" fill="#41413e"/><rect x="91" y="452" width="208" height="156" fill="#fff" filter="url(#tex2)"/><svg x="91" y="452" width="208" height="156" viewBox="0 0 1200 900" preserveAspectRatio="none"><circle cx="95" cy="365" r="30" fill="none" stroke="#e8e8e8" stroke-width="6" opacity="0.7"/><circle cx="1080" cy="420" r="34" fill="none" stroke="#e8e8e8" stroke-width="6" opacity="0.5"/><circle cx="1050" cy="820" r="26" fill="none" stroke="#e8e8e8" stroke-width="5" opacity="0.5"/><circle cx="620" cy="655" r="30" fill="url(#rdot)" opacity="1"/><circle cx="290" cy="860" r="30" fill="url(#rdot)" opacity="1"/><ellipse cx="340" cy="730" rx="55" ry="75" fill="url(#pdot)"/></svg>
<rect x="309" y="452" width="207.5" height="156" fill="#41413e"/><rect x="309" y="452" width="207.5" height="156" fill="#fff" filter="url(#tex2)"/><svg x="309" y="452" width="207.5" height="156" viewBox="0 0 1200 900" preserveAspectRatio="none"><circle cx="565" cy="645" r="32" fill="url(#rdot)" opacity="1"/><ellipse cx="770" cy="720" rx="70" ry="90" fill="url(#pdot)" opacity="0.7"/><circle cx="905" cy="840" r="24" fill="none" stroke="#e8e8e8" stroke-width="6" opacity="0.6"/><path d="M430,75 C438.17,69.75 497.17,58.5 510,55 C522.83,51.5 529.5,48.5 540,45 C550.5,41.5 590.08,15.67 600,25 C609.92,34.33 629.67,104.58 625,125 C620.33,145.42 569.92,186.58 560,200 C550.08,213.42 545.25,227.17 540,240 C534.75,252.83 522,305.33 515,310 C508,314.67 491.67,287 480,280 C468.33,273 422,258.17 415,250 C408,241.83 415.92,219.92 420,210 C424.08,200.08 447.67,177.83 450,165 C452.33,152.17 442.33,110.5 440,100 C437.67,89.5 421.83,80.25 430,75Z" fill="url(#g2)" stroke="#f4f4f4" stroke-width="1.3" vector-effect="non-scaling-stroke" stroke-linejoin="round" /><path d="M300,0 C306,-2 386.67,-2.67 390,0 C393.33,2.67 354.67,36 350,40 C345.33,44 323.33,60.67 320,60 C316.67,59.33 301.33,34 300,30 C298.67,26 294,2 300,0Z" fill="#3f9a3a" stroke="#f4f4f4" stroke-width="1.3" vector-effect="non-scaling-stroke" stroke-linejoin="round" /><path d="M720,320 C727.5,314 777,301.5 790,300 C803,298.5 839,303 850,305 C861,307 890,315.5 900,320 C910,324.5 942,344 950,350 C958,356 980,375.5 980,380 C980,384.5 952,392 950,395 C948,398 954,408.5 960,410 C966,411.5 1001,407 1010,410 C1019,413 1043,434 1050,440 C1057,446 1079,463 1080,470 C1081,477 1064,502 1060,510 C1056,518 1041,543.5 1040,550 C1039,556.5 1044,571 1050,575 C1056,579 1096,583.5 1100,590 C1104,596.5 1095,631 1090,640 C1085,649 1058,675 1050,680 C1042,685 1020,693 1010,690 C1000,687 963,655 950,650 C937,645 891,645 880,640 C869,635 848,606 840,600 C832,594 808,584 800,580 C792,576 767,565 760,560 C753,555 732,536 730,530 C728,524 733,506 740,500 C747,494 791,475 800,470 C809,465 827,455 830,450 C833,445 837,423 830,420 C823,417 771,422 760,420 C749,418 724.5,406 720,400 C715.5,394 715,368 715,360 C715,352 712.5,326 720,320Z" fill="url(#g3)" stroke="#f4f4f4" stroke-width="1.3" vector-effect="non-scaling-stroke" stroke-linejoin="round" /><path d="M355,605 C358.5,602 397.5,598.5 410,600 C422.5,601.5 468,616 480,620 C492,624 525.5,633 530,640 C534.5,647 527,683 525,690 C523,697 508,707 510,710 C512,713 538,715 545,720 C552,725 577.5,753 580,760 C582.5,767 576,785 570,790 C564,795 530,806 520,810 C510,814 480,832 470,830 C460,828 430,796 420,790 C410,784 379,777 370,770 C361,763 335,728 330,720 C325,712 318,692 320,690 C322,688 344,703 350,700 C356,697 377.5,667 380,660 C382.5,653 377.5,635.5 375,630 C372.5,624.5 351.5,608 355,605Z" fill="url(#g3)" stroke="#f4f4f4" stroke-width="1.3" vector-effect="non-scaling-stroke" stroke-linejoin="round" /><ellipse cx="465" cy="740" rx="28" ry="38" fill="#3a3a36" stroke="#f4f4f4" stroke-width="1.2" vector-effect="non-scaling-stroke"/><ellipse cx="488.56" cy="182.52" rx="25.7" ry="22.83" fill="#2a5e2c" opacity="0.62"/><ellipse cx="535.09" cy="101.14" rx="22.13" ry="24.7" fill="#2a5e2c" opacity="0.62"/><ellipse cx="491.12" cy="129.84" rx="31.96" ry="21.76" fill="#2a5e2c" opacity="0.62"/><ellipse cx="560.38" cy="170.98" rx="28.39" ry="19.2" fill="#2a5e2c" opacity="0.62"/><ellipse cx="536.18" cy="237.57" rx="27.23" ry="23.93" fill="#2a5e2c" opacity="0.62"/><ellipse cx="961.28" cy="368.57" rx="29.58" ry="22.73" fill="#2a5e2c" opacity="0.62"/><ellipse cx="861.34" cy="358.99" rx="30.66" ry="21.78" fill="#2a5e2c" opacity="0.62"/><ellipse cx="974.08" cy="604.86" rx="29.14" ry="25.37" fill="#2a5e2c" opacity="0.62"/><ellipse cx="886.64" cy="582.26" rx="26.45" ry="25.48" fill="#2a5e2c" opacity="0.62"/><ellipse cx="1017.29" cy="378.26" rx="23.36" ry="19.74" fill="#2a5e2c" opacity="0.62"/><ellipse cx="1040.68" cy="476.49" rx="28.27" ry="20.41" fill="#2a5e2c" opacity="0.62"/><ellipse cx="916.96" cy="461.9" rx="25.51" ry="22.68" fill="#2a5e2c" opacity="0.62"/><ellipse cx="937.75" cy="612.22" rx="28.82" ry="25.43" fill="#2a5e2c" opacity="0.62"/><ellipse cx="1011.23" cy="637.39" rx="28.71" ry="19.3" fill="#2a5e2c" opacity="0.62"/><ellipse cx="1012.37" cy="629.74" rx="31.05" ry="22.55" fill="#2a5e2c" opacity="0.62"/><path d="M440,860 L470,840 M560,860 L590,835 M560,800 L580,790" stroke="#f4f4f4" stroke-width="8"/><circle cx="780" cy="340" r="14" fill="none" stroke="#f4f4f4" stroke-width="1.2" vector-effect="non-scaling-stroke"/><circle cx="395" cy="90" r="12" fill="none" stroke="#f4f4f4" stroke-width="1.2" vector-effect="non-scaling-stroke"/></svg>
<rect x="526.5" y="452" width="207.5" height="156" fill="#41413e"/><rect x="526.5" y="452" width="207.5" height="156" fill="#fff" filter="url(#tex2)"/><svg x="526.5" y="452" width="207.5" height="156" viewBox="0 0 1200 900" preserveAspectRatio="none"><defs><clipPath id="clipT3"><path d="M95,300 C97.5,290 126.67,267.08 130,260 C133.33,252.92 130,220 135,215 C140,210 181.25,202.92 190,200 C198.75,197.08 235,185.83 240,180 C245,174.17 245,135 250,130 C255,125 291.67,125.42 300,120 C308.33,114.58 341.67,68.33 350,65 C358.33,61.67 392.5,76.25 400,80 C407.5,83.75 434.17,110 440,110 C445.83,110 470,86.67 470,80 C470,73.33 440,35.42 440,30 C440,24.58 461.67,13.75 470,15 C478.33,16.25 530.83,44.58 540,45 C549.17,45.42 571.67,22.5 580,20 C588.33,17.5 633.33,12.5 640,15 C646.67,17.5 661.67,44.58 660,50 C658.33,55.42 620.83,75 620,80 C619.17,85 643.33,109.17 650,110 C656.67,110.83 693.33,94.17 700,90 C706.67,85.83 724.17,63.75 730,60 C735.83,56.25 763.33,45.83 770,45 C776.67,44.17 807.5,47.08 810,50 C812.5,52.92 795.83,79.17 800,80 C804.17,80.83 851.67,62.92 860,60 C868.33,57.08 892.5,45 900,45 C907.5,45 942.5,59.17 950,60 C957.5,60.83 985,50 990,55 C995,60 1009.17,110.42 1010,120 C1010.83,129.58 998.33,160 1000,170 C1001.67,180 1025,230.83 1030,240 C1035,249.17 1054.17,274.17 1060,280 C1065.83,285.83 1088.33,310.83 1100,310 C1111.67,309.17 1190.83,250.83 1200,270 C1209.17,289.17 1215.83,520 1210,540 C1204.17,560 1140.83,517.5 1130,510 C1119.17,502.5 1084.17,450.83 1080,450 C1075.83,449.17 1077.5,490 1080,500 C1082.5,510 1110.83,561.67 1110,570 C1109.17,578.33 1077.5,594.17 1070,600 C1062.5,605.83 1029.17,632.5 1020,640 C1010.83,647.5 970,686.67 960,690 C950,693.33 908.33,682.5 900,680 C891.67,677.5 868.33,661.67 860,660 C851.67,658.33 808.33,661.67 800,660 C791.67,658.33 768.33,641.67 760,640 C751.67,638.33 706.67,636.67 700,640 C693.33,643.33 683.33,671.67 680,680 C676.67,688.33 663.33,731.67 660,740 C656.67,748.33 646.67,775.83 640,780 C633.33,784.17 586.67,791.67 580,790 C573.33,788.33 558.33,767.5 560,760 C561.67,752.5 593.33,711.67 600,700 C606.67,688.33 636.67,631.67 640,620 C643.33,608.33 641.67,570 640,560 C638.33,550 626.67,509.17 620,500 C613.33,490.83 571.67,456.67 560,450 C548.33,443.33 493.33,424.17 480,420 C466.67,415.83 413.33,400 400,400 C386.67,400 332.5,415.83 320,420 C307.5,424.17 262.5,447.5 250,450 C237.5,452.5 182.5,455.83 170,450 C157.5,444.17 106.25,392.5 100,380 C93.75,367.5 92.5,310 95,300Z"/></clipPath></defs><path d="M95,300 C97.5,290 126.67,267.08 130,260 C133.33,252.92 130,220 135,215 C140,210 181.25,202.92 190,200 C198.75,197.08 235,185.83 240,180 C245,174.17 245,135 250,130 C255,125 291.67,125.42 300,120 C308.33,114.58 341.67,68.33 350,65 C358.33,61.67 392.5,76.25 400,80 C407.5,83.75 434.17,110 440,110 C445.83,110 470,86.67 470,80 C470,73.33 440,35.42 440,30 C440,24.58 461.67,13.75 470,15 C478.33,16.25 530.83,44.58 540,45 C549.17,45.42 571.67,22.5 580,20 C588.33,17.5 633.33,12.5 640,15 C646.67,17.5 661.67,44.58 660,50 C658.33,55.42 620.83,75 620,80 C619.17,85 643.33,109.17 650,110 C656.67,110.83 693.33,94.17 700,90 C706.67,85.83 724.17,63.75 730,60 C735.83,56.25 763.33,45.83 770,45 C776.67,44.17 807.5,47.08 810,50 C812.5,52.92 795.83,79.17 800,80 C804.17,80.83 851.67,62.92 860,60 C868.33,57.08 892.5,45 900,45 C907.5,45 942.5,59.17 950,60 C957.5,60.83 985,50 990,55 C995,60 1009.17,110.42 1010,120 C1010.83,129.58 998.33,160 1000,170 C1001.67,180 1025,230.83 1030,240 C1035,249.17 1054.17,274.17 1060,280 C1065.83,285.83 1088.33,310.83 1100,310 C1111.67,309.17 1190.83,250.83 1200,270 C1209.17,289.17 1215.83,520 1210,540 C1204.17,560 1140.83,517.5 1130,510 C1119.17,502.5 1084.17,450.83 1080,450 C1075.83,449.17 1077.5,490 1080,500 C1082.5,510 1110.83,561.67 1110,570 C1109.17,578.33 1077.5,594.17 1070,600 C1062.5,605.83 1029.17,632.5 1020,640 C1010.83,647.5 970,686.67 960,690 C950,693.33 908.33,682.5 900,680 C891.67,677.5 868.33,661.67 860,660 C851.67,658.33 808.33,661.67 800,660 C791.67,658.33 768.33,641.67 760,640 C751.67,638.33 706.67,636.67 700,640 C693.33,643.33 683.33,671.67 680,680 C676.67,688.33 663.33,731.67 660,740 C656.67,748.33 646.67,775.83 640,780 C633.33,784.17 586.67,791.67 580,790 C573.33,788.33 558.33,767.5 560,760 C561.67,752.5 593.33,711.67 600,700 C606.67,688.33 636.67,631.67 640,620 C643.33,608.33 641.67,570 640,560 C638.33,550 626.67,509.17 620,500 C613.33,490.83 571.67,456.67 560,450 C548.33,443.33 493.33,424.17 480,420 C466.67,415.83 413.33,400 400,400 C386.67,400 332.5,415.83 320,420 C307.5,424.17 262.5,447.5 250,450 C237.5,452.5 182.5,455.83 170,450 C157.5,444.17 106.25,392.5 100,380 C93.75,367.5 92.5,310 95,300Z" fill="url(#g3)" stroke="#f4f4f4" stroke-width="1.3" vector-effect="non-scaling-stroke" stroke-linejoin="round" /><path d="M330,500 C331,498 350,512 360,520 C370,528 416,573 430,580 C444,587 489,586 500,590 C511,594 536,610 540,620 C544,630 542,678 540,690 C538,702 528,735 520,740 C512,745 472,742 460,740 C448,738 412,722 400,720 C388,718 347,724 340,720 C333,716 326,688 330,680 C334,672 371,649 380,640 C389,631 423,600 420,590 C417,580 359,549 350,540 C341,531 329,502 330,500Z" fill="url(#g2)" stroke="#f4f4f4" stroke-width="1.3" vector-effect="non-scaling-stroke" stroke-linejoin="round" /><g clip-path="url(#clipT3)"><ellipse cx="828.13" cy="216.12" rx="30.32" ry="22.59" fill="#2a5e2c" opacity="0.62"/><ellipse cx="420.71" cy="134.9" rx="30.54" ry="25.92" fill="#2a5e2c" opacity="0.62"/><ellipse cx="234.09" cy="540.33" rx="26.1" ry="19.21" fill="#2a5e2c" opacity="0.62"/><ellipse cx="429.2" cy="522.84" rx="30.73" ry="18.35" fill="#2a5e2c" opacity="0.62"/><ellipse cx="733.81" cy="124.72" rx="29.18" ry="20.65" fill="#2a5e2c" opacity="0.62"/><ellipse cx="986.86" cy="639.35" rx="27.05" ry="25.99" fill="#2a5e2c" opacity="0.62"/><ellipse cx="444.19" cy="142.33" rx="28" ry="18.25" fill="#2a5e2c" opacity="0.62"/><ellipse cx="337.52" cy="324.36" rx="28.1" ry="19.25" fill="#2a5e2c" opacity="0.62"/><ellipse cx="190.31" cy="577.28" rx="25.14" ry="25.67" fill="#2a5e2c" opacity="0.62"/><ellipse cx="1001.83" cy="307.78" rx="26.6" ry="22.16" fill="#2a5e2c" opacity="0.62"/><ellipse cx="761.69" cy="427.61" rx="27.59" ry="22.96" fill="#2a5e2c" opacity="0.62"/><ellipse cx="1043.59" cy="378.86" rx="26.31" ry="23.76" fill="#2a5e2c" opacity="0.62"/><ellipse cx="375.75" cy="265.6" rx="31.78" ry="22.17" fill="#2a5e2c" opacity="0.62"/><ellipse cx="671.01" cy="106.3" rx="26.15" ry="22.64" fill="#2a5e2c" opacity="0.62"/><ellipse cx="169.05" cy="438.69" rx="28.32" ry="18.48" fill="#2a5e2c" opacity="0.62"/><ellipse cx="745.97" cy="356.44" rx="28.79" ry="20.82" fill="#2a5e2c" opacity="0.62"/><ellipse cx="821.6" cy="505.92" rx="22.22" ry="18.48" fill="#2a5e2c" opacity="0.62"/><ellipse cx="792.22" cy="629.82" rx="24.51" ry="21.65" fill="#2a5e2c" opacity="0.62"/><ellipse cx="713.04" cy="276.01" rx="25.64" ry="20.5" fill="#2a5e2c" opacity="0.62"/><ellipse cx="500.7" cy="427.59" rx="25" ry="21.02" fill="#2a5e2c" opacity="0.62"/><ellipse cx="883.66" cy="114.81" rx="27.69" ry="23.88" fill="#2a5e2c" opacity="0.62"/><ellipse cx="444.52" cy="222.4" rx="30.04" ry="19.91" fill="#2a5e2c" opacity="0.62"/><ellipse cx="328.02" cy="339.38" rx="28.98" ry="18.81" fill="#2a5e2c" opacity="0.62"/><ellipse cx="455.87" cy="283.56" rx="30.34" ry="21.51" fill="#2a5e2c" opacity="0.62"/><ellipse cx="962.76" cy="193.11" rx="25.37" ry="23.2" fill="#2a5e2c" opacity="0.62"/><ellipse cx="990.65" cy="348.11" rx="24.25" ry="18.97" fill="#2a5e2c" opacity="0.62"/><ellipse cx="653.15" cy="204.94" rx="30.07" ry="24.71" fill="#2a5e2c" opacity="0.62"/><ellipse cx="324.41" cy="253.23" rx="30.07" ry="23.14" fill="#2a5e2c" opacity="0.62"/><ellipse cx="915.94" cy="289.91" rx="23.3" ry="20.34" fill="#2a5e2c" opacity="0.62"/><ellipse cx="904.17" cy="249.15" rx="25.46" ry="21.34" fill="#2a5e2c" opacity="0.62"/><ellipse cx="548.78" cy="325.24" rx="31.21" ry="19.25" fill="#2a5e2c" opacity="0.62"/><ellipse cx="154.43" cy="618.8" rx="30.8" ry="25.9" fill="#2a5e2c" opacity="0.62"/><ellipse cx="562.63" cy="622.59" rx="31.27" ry="19.78" fill="#2a5e2c" opacity="0.62"/><ellipse cx="858.25" cy="560.18" rx="28.63" ry="22.15" fill="#2a5e2c" opacity="0.62"/><ellipse cx="424.59" cy="287.59" rx="24.27" ry="18.54" fill="#2a5e2c" opacity="0.62"/><ellipse cx="709.24" cy="257.86" rx="30.1" ry="18.36" fill="#2a5e2c" opacity="0.62"/><ellipse cx="1008.43" cy="481.54" rx="31.24" ry="25.17" fill="#2a5e2c" opacity="0.62"/><ellipse cx="1004.69" cy="417.32" rx="22.13" ry="23.96" fill="#2a5e2c" opacity="0.62"/><ellipse cx="313.23" cy="264.94" rx="28.63" ry="22.2" fill="#2a5e2c" opacity="0.62"/><ellipse cx="543.06" cy="616.47" rx="28.12" ry="20.73" fill="#2a5e2c" opacity="0.62"/><ellipse cx="389.85" cy="573.92" rx="26.77" ry="24.26" fill="#2a5e2c" opacity="0.62"/><ellipse cx="484.25" cy="208.53" rx="27.35" ry="24.53" fill="#2a5e2c" opacity="0.62"/><ellipse cx="312.74" cy="535.42" rx="31.22" ry="24.45" fill="#2a5e2c" opacity="0.62"/><ellipse cx="932.32" cy="104.13" rx="28.29" ry="24.9" fill="#2a5e2c" opacity="0.62"/><ellipse cx="197.44" cy="249.27" rx="24.69" ry="22.22" fill="#2a5e2c" opacity="0.62"/><ellipse cx="551.83" cy="360.1" rx="29.76" ry="18.01" fill="#2a5e2c" opacity="0.62"/><ellipse cx="202.09" cy="169.77" rx="23.25" ry="18.55" fill="#2a5e2c" opacity="0.62"/><ellipse cx="1075.96" cy="569.95" rx="22.86" ry="22.02" fill="#2a5e2c" opacity="0.62"/><ellipse cx="450.1" cy="273.02" rx="25.51" ry="23.18" fill="#2a5e2c" opacity="0.62"/><ellipse cx="707.28" cy="298.46" rx="23.91" ry="20.63" fill="#2a5e2c" opacity="0.62"/><ellipse cx="267.57" cy="405.54" rx="29.16" ry="21.04" fill="#2a5e2c" opacity="0.62"/><ellipse cx="225.91" cy="198.21" rx="25.73" ry="22.84" fill="#2a5e2c" opacity="0.62"/><ellipse cx="893.49" cy="309.15" rx="30.01" ry="22.98" fill="#2a5e2c" opacity="0.62"/><ellipse cx="560.01" cy="304.83" rx="26.96" ry="23.62" fill="#2a5e2c" opacity="0.62"/><ellipse cx="549.49" cy="481.77" rx="26.61" ry="19.96" fill="#2a5e2c" opacity="0.62"/><ellipse cx="659.05" cy="482.34" rx="22.72" ry="21.4" fill="#2a5e2c" opacity="0.62"/><ellipse cx="554.56" cy="583.82" rx="31.36" ry="20.99" fill="#2a5e2c" opacity="0.62"/><ellipse cx="1002.96" cy="535" rx="24.62" ry="21.71" fill="#2a5e2c" opacity="0.62"/><ellipse cx="266.99" cy="547.27" rx="28.62" ry="25.1" fill="#2a5e2c" opacity="0.62"/><ellipse cx="902.85" cy="467.16" rx="29.34" ry="22.51" fill="#2a5e2c" opacity="0.62"/><ellipse cx="247.98" cy="423.27" rx="22.05" ry="19.15" fill="#2a5e2c" opacity="0.62"/><ellipse cx="885.59" cy="124.37" rx="22.92" ry="18.79" fill="#2a5e2c" opacity="0.62"/><ellipse cx="986.44" cy="198.53" rx="22.23" ry="24.73" fill="#2a5e2c" opacity="0.62"/><ellipse cx="265.22" cy="564.17" rx="28.74" ry="24.69" fill="#2a5e2c" opacity="0.62"/><ellipse cx="1054.79" cy="418.49" rx="29.99" ry="18.29" fill="#2a5e2c" opacity="0.62"/><ellipse cx="879.05" cy="381.23" rx="29.15" ry="18.85" fill="#2a5e2c" opacity="0.62"/><ellipse cx="861.52" cy="614.01" rx="22.61" ry="20.59" fill="#2a5e2c" opacity="0.62"/><ellipse cx="685.78" cy="555.43" rx="24.42" ry="19.44" fill="#2a5e2c" opacity="0.62"/><ellipse cx="387.47" cy="438.79" rx="29.54" ry="21.15" fill="#2a5e2c" opacity="0.62"/><ellipse cx="499.1" cy="318.15" rx="25.5" ry="21.35" fill="#2a5e2c" opacity="0.62"/><ellipse cx="229.1" cy="375.17" rx="31.73" ry="21.3" fill="#2a5e2c" opacity="0.62"/><ellipse cx="860.04" cy="188.34" rx="28.91" ry="24.05" fill="#2a5e2c" opacity="0.62"/><ellipse cx="790.16" cy="384.4" rx="26.84" ry="23.14" fill="#2a5e2c" opacity="0.62"/><ellipse cx="1002.53" cy="182.13" rx="22.96" ry="23.99" fill="#2a5e2c" opacity="0.62"/><ellipse cx="1020.78" cy="384.49" rx="26.43" ry="23.75" fill="#2a5e2c" opacity="0.62"/></g><ellipse cx="170" cy="330" rx="28" ry="40" fill="#3a3a36" stroke="#f4f4f4" stroke-width="1.2" vector-effect="non-scaling-stroke"/><ellipse cx="360" cy="130" rx="20" ry="30" fill="#3a3a36" stroke="#f4f4f4" stroke-width="1.2" vector-effect="non-scaling-stroke"/><ellipse cx="320" cy="160" rx="20" ry="18" fill="#3a3a36" stroke="#f4f4f4" stroke-width="1.2" vector-effect="non-scaling-stroke"/><ellipse cx="770" cy="265" rx="18" ry="30" fill="#3a3a36" stroke="#f4f4f4" stroke-width="1.2" vector-effect="non-scaling-stroke"/><ellipse cx="935" cy="105" rx="18" ry="22" fill="#3a3a36" stroke="#f4f4f4" stroke-width="1.2" vector-effect="non-scaling-stroke"/><ellipse cx="1010" cy="610" rx="30" ry="18" fill="#3a3a36" stroke="#f4f4f4" stroke-width="1.2" vector-effect="non-scaling-stroke"/><ellipse cx="830" cy="100" rx="12" ry="12" fill="#3a3a36" stroke="#f4f4f4" stroke-width="1.2" vector-effect="non-scaling-stroke"/><path d="M100,800 Q130,740 125,800 Q110,840 90,830 M20,840 Q60,860 50,900 M0,860 Q30,880 10,900 M130,880 Q150,860 160,900" fill="none" stroke="#f4f4f4" stroke-width="1.2" vector-effect="non-scaling-stroke"/><circle cx="372.47" cy="393.49" r="7" fill="none" stroke="#f8f8f8" stroke-width="8" opacity="0.95"/><circle cx="386.05" cy="395.72" r="7.16" fill="none" stroke="#f8f8f8" stroke-width="8" opacity="0.95"/><circle cx="392.59" cy="414.55" r="7.48" fill="none" stroke="#f8f8f8" stroke-width="8" opacity="0.95"/><circle cx="396.93" cy="400.42" r="10.27" fill="none" stroke="#f8f8f8" stroke-width="8" opacity="0.95"/><circle cx="398.03" cy="397.36" r="7.09" fill="none" stroke="#f8f8f8" stroke-width="8" opacity="0.95"/><circle cx="388.55" cy="404.38" r="7.91" fill="none" stroke="#f8f8f8" stroke-width="8" opacity="0.95"/><circle cx="396.13" cy="402.15" r="7.61" fill="none" stroke="#f8f8f8" stroke-width="8" opacity="0.95"/><circle cx="414.58" cy="397.22" r="10.96" fill="none" stroke="#f8f8f8" stroke-width="8" opacity="0.95"/><circle cx="411.51" cy="411.15" r="8.34" fill="none" stroke="#f8f8f8" stroke-width="8" opacity="0.95"/><circle cx="424.03" cy="418.59" r="8.79" fill="none" stroke="#f8f8f8" stroke-width="8" opacity="0.95"/><circle cx="419.55" cy="417" r="10.28" fill="none" stroke="#f8f8f8" stroke-width="8" opacity="0.95"/><circle cx="421.61" cy="418.62" r="10.8" fill="none" stroke="#f8f8f8" stroke-width="8" opacity="0.95"/><circle cx="427.22" cy="405.8" r="7.17" fill="none" stroke="#f8f8f8" stroke-width="8" opacity="0.95"/><circle cx="437.22" cy="419.59" r="10.79" fill="none" stroke="#f8f8f8" stroke-width="8" opacity="0.95"/><circle cx="444.49" cy="408.8" r="6.95" fill="none" stroke="#f8f8f8" stroke-width="8" opacity="0.95"/><circle cx="434.21" cy="408.62" r="9.52" fill="none" stroke="#f8f8f8" stroke-width="8" opacity="0.95"/><circle cx="452.61" cy="429.96" r="7.28" fill="none" stroke="#f8f8f8" stroke-width="8" opacity="0.95"/><circle cx="456.76" cy="414.94" r="8.12" fill="none" stroke="#f8f8f8" stroke-width="8" opacity="0.95"/><circle cx="457.5" cy="409.99" r="6.46" fill="none" stroke="#f8f8f8" stroke-width="8" opacity="0.95"/><circle cx="464.01" cy="417.19" r="7.78" fill="none" stroke="#f8f8f8" stroke-width="8" opacity="0.95"/><circle cx="461.93" cy="429.38" r="6.03" fill="none" stroke="#f8f8f8" stroke-width="8" opacity="0.95"/><circle cx="460.04" cy="424.15" r="8.43" fill="none" stroke="#f8f8f8" stroke-width="8" opacity="0.95"/><circle cx="461.04" cy="429.79" r="10.78" fill="none" stroke="#f8f8f8" stroke-width="8" opacity="0.95"/><circle cx="469.38" cy="430.14" r="6.6" fill="none" stroke="#f8f8f8" stroke-width="8" opacity="0.95"/><circle cx="470.59" cy="435.04" r="6.56" fill="none" stroke="#f8f8f8" stroke-width="8" opacity="0.95"/><circle cx="489.29" cy="443.36" r="6.48" fill="none" stroke="#f8f8f8" stroke-width="8" opacity="0.95"/><circle cx="494.59" cy="429.92" r="9.86" fill="none" stroke="#f8f8f8" stroke-width="8" opacity="0.95"/><circle cx="494.18" cy="429.25" r="9.38" fill="none" stroke="#f8f8f8" stroke-width="8" opacity="0.95"/><circle cx="495.7" cy="445.09" r="7.33" fill="none" stroke="#f8f8f8" stroke-width="8" opacity="0.95"/><circle cx="502.1" cy="450.98" r="9.36" fill="none" stroke="#f8f8f8" stroke-width="8" opacity="0.95"/><circle cx="500.87" cy="428.79" r="8.47" fill="none" stroke="#f8f8f8" stroke-width="8" opacity="0.95"/><circle cx="500.45" cy="447.29" r="9.39" fill="none" stroke="#f8f8f8" stroke-width="8" opacity="0.95"/><circle cx="509.59" cy="433.85" r="9.23" fill="none" stroke="#f8f8f8" stroke-width="8" opacity="0.95"/><circle cx="515.14" cy="435.34" r="10.45" fill="none" stroke="#f8f8f8" stroke-width="8" opacity="0.95"/><circle cx="519.73" cy="435.36" r="10.66" fill="none" stroke="#f8f8f8" stroke-width="8" opacity="0.95"/><circle cx="511.39" cy="442.78" r="9.6" fill="none" stroke="#f8f8f8" stroke-width="8" opacity="0.95"/><circle cx="526.34" cy="450.63" r="9.24" fill="none" stroke="#f8f8f8" stroke-width="8" opacity="0.95"/><circle cx="526.98" cy="445.44" r="6.88" fill="none" stroke="#f8f8f8" stroke-width="8" opacity="0.95"/><circle cx="521.65" cy="458.33" r="9.77" fill="none" stroke="#f8f8f8" stroke-width="8" opacity="0.95"/><circle cx="537.04" cy="460.61" r="7.8" fill="none" stroke="#f8f8f8" stroke-width="8" opacity="0.95"/><circle cx="534.38" cy="452.25" r="10.36" fill="none" stroke="#f8f8f8" stroke-width="8" opacity="0.95"/><circle cx="533.01" cy="457.27" r="7.24" fill="none" stroke="#f8f8f8" stroke-width="8" opacity="0.95"/><circle cx="554.45" cy="454.68" r="7.66" fill="none" stroke="#f8f8f8" stroke-width="8" opacity="0.95"/><circle cx="549.68" cy="461.57" r="9.86" fill="none" stroke="#f8f8f8" stroke-width="8" opacity="0.95"/><circle cx="552.47" cy="471.76" r="6.56" fill="none" stroke="#f8f8f8" stroke-width="8" opacity="0.95"/><circle cx="554.49" cy="452.49" r="6.56" fill="none" stroke="#f8f8f8" stroke-width="8" opacity="0.95"/><circle cx="570.7" cy="471.73" r="6.92" fill="none" stroke="#f8f8f8" stroke-width="8" opacity="0.95"/><circle cx="560.54" cy="464.7" r="9.72" fill="none" stroke="#f8f8f8" stroke-width="8" opacity="0.95"/><circle cx="579.58" cy="475.68" r="8.96" fill="none" stroke="#f8f8f8" stroke-width="8" opacity="0.95"/><circle cx="567.52" cy="467.57" r="6.97" fill="none" stroke="#f8f8f8" stroke-width="8" opacity="0.95"/><circle cx="580.66" cy="474.04" r="7.01" fill="none" stroke="#f8f8f8" stroke-width="8" opacity="0.95"/><circle cx="578" cy="481.73" r="6.15" fill="none" stroke="#f8f8f8" stroke-width="8" opacity="0.95"/><circle cx="595.28" cy="486.53" r="10.75" fill="none" stroke="#f8f8f8" stroke-width="8" opacity="0.95"/><circle cx="589.2" cy="478.8" r="8.92" fill="none" stroke="#f8f8f8" stroke-width="8" opacity="0.95"/><circle cx="599.21" cy="492.45" r="9.43" fill="none" stroke="#f8f8f8" stroke-width="8" opacity="0.95"/><circle cx="595.19" cy="490.96" r="8.42" fill="none" stroke="#f8f8f8" stroke-width="8" opacity="0.95"/><circle cx="606.43" cy="489.04" r="6.01" fill="none" stroke="#f8f8f8" stroke-width="8" opacity="0.95"/><circle cx="614.49" cy="489.05" r="8.46" fill="none" stroke="#f8f8f8" stroke-width="8" opacity="0.95"/><circle cx="612.57" cy="485.26" r="6.97" fill="none" stroke="#f8f8f8" stroke-width="8" opacity="0.95"/><circle cx="616.71" cy="475.27" r="8.5" fill="none" stroke="#f8f8f8" stroke-width="8" opacity="0.95"/><circle cx="623.5" cy="488.57" r="8.83" fill="none" stroke="#f8f8f8" stroke-width="8" opacity="0.95"/><circle cx="635.02" cy="503.03" r="6.68" fill="none" stroke="#f8f8f8" stroke-width="8" opacity="0.95"/><circle cx="635.02" cy="497.46" r="6.25" fill="none" stroke="#f8f8f8" stroke-width="8" opacity="0.95"/><circle cx="628.64" cy="488.52" r="6.39" fill="none" stroke="#f8f8f8" stroke-width="8" opacity="0.95"/><circle cx="636.93" cy="510.04" r="7.62" fill="none" stroke="#f8f8f8" stroke-width="8" opacity="0.95"/><circle cx="648.89" cy="505.5" r="6.67" fill="none" stroke="#f8f8f8" stroke-width="8" opacity="0.95"/><circle cx="652.6" cy="504.96" r="10.63" fill="none" stroke="#f8f8f8" stroke-width="8" opacity="0.95"/><circle cx="653.18" cy="510.96" r="7.72" fill="none" stroke="#f8f8f8" stroke-width="8" opacity="0.95"/><circle cx="659.36" cy="518.49" r="10.31" fill="none" stroke="#f8f8f8" stroke-width="8" opacity="0.95"/><circle cx="654.49" cy="515.79" r="8.43" fill="none" stroke="#f8f8f8" stroke-width="8" opacity="0.95"/><circle cx="560" cy="710" r="34" fill="url(#rdot)" opacity="0.6"/><circle cx="920" cy="850" r="30" fill="url(#pdot)" opacity="1"/></svg>
<rect x="744" y="452" width="208" height="156" fill="#41413e"/><rect x="744" y="452" width="208" height="156" fill="#fff" filter="url(#tex2)"/><svg x="744" y="452" width="208" height="156" viewBox="0 0 1200 900" preserveAspectRatio="none"><defs><clipPath id="clipT4"><path d="M20,30 C22.5,25.83 45,12.92 60,10 C75,7.08 121.67,-3.75 200,-5 C278.33,-6.25 929.17,-15.42 1000,-5 C1070.83,5.42 1037.5,102.92 1050,120 C1062.5,137.08 1136.67,190.83 1150,200 C1163.33,209.17 1205,193.33 1210,230 C1215,266.67 1215,609.17 1210,640 C1205,670.83 1159.17,605 1150,600 C1140.83,595 1112.5,582.5 1100,580 C1087.5,577.5 1010.83,568.33 1000,570 C989.17,571.67 970.83,590.83 970,600 C969.17,609.17 995.83,675 990,680 C984.17,685 911.67,663.33 900,660 C888.33,656.67 860,640 850,640 C840,640 792.5,656.67 780,660 C767.5,663.33 715,681.67 700,680 C685,678.33 615,646.67 600,640 C585,633.33 530,599.17 520,600 C510,600.83 483.33,640 480,650 C476.67,660 476.67,709.17 480,720 C483.33,730.83 520,776.67 520,780 C520,783.33 484.17,765.83 480,760 C475.83,754.17 476.67,713.33 470,710 C463.33,706.67 414.17,719.17 400,720 C385.83,720.83 310.83,723.33 300,720 C289.17,716.67 275.83,681.67 270,680 C264.17,678.33 241.67,695 230,700 C218.33,705 145.83,739.17 130,740 C114.17,740.83 50,721.67 40,710 C30,698.33 10,615.83 10,600 C10,584.17 30.83,529.17 40,520 C49.17,510.83 110,495 120,490 C130,485 155,465 160,460 C165,455 182.5,435 180,430 C177.5,425 135,407.5 130,400 C125,392.5 122.5,352.5 120,340 C117.5,327.5 102.5,265.83 100,250 C97.5,234.17 95,162.5 90,150 C85,137.5 45,107.5 40,100 C35,92.5 31.67,65.83 30,60 C28.33,54.17 17.5,34.17 20,30Z"/></clipPath></defs><path d="M20,30 C22.5,25.83 45,12.92 60,10 C75,7.08 121.67,-3.75 200,-5 C278.33,-6.25 929.17,-15.42 1000,-5 C1070.83,5.42 1037.5,102.92 1050,120 C1062.5,137.08 1136.67,190.83 1150,200 C1163.33,209.17 1205,193.33 1210,230 C1215,266.67 1215,609.17 1210,640 C1205,670.83 1159.17,605 1150,600 C1140.83,595 1112.5,582.5 1100,580 C1087.5,577.5 1010.83,568.33 1000,570 C989.17,571.67 970.83,590.83 970,600 C969.17,609.17 995.83,675 990,680 C984.17,685 911.67,663.33 900,660 C888.33,656.67 860,640 850,640 C840,640 792.5,656.67 780,660 C767.5,663.33 715,681.67 700,680 C685,678.33 615,646.67 600,640 C585,633.33 530,599.17 520,600 C510,600.83 483.33,640 480,650 C476.67,660 476.67,709.17 480,720 C483.33,730.83 520,776.67 520,780 C520,783.33 484.17,765.83 480,760 C475.83,754.17 476.67,713.33 470,710 C463.33,706.67 414.17,719.17 400,720 C385.83,720.83 310.83,723.33 300,720 C289.17,716.67 275.83,681.67 270,680 C264.17,678.33 241.67,695 230,700 C218.33,705 145.83,739.17 130,740 C114.17,740.83 50,721.67 40,710 C30,698.33 10,615.83 10,600 C10,584.17 30.83,529.17 40,520 C49.17,510.83 110,495 120,490 C130,485 155,465 160,460 C165,455 182.5,435 180,430 C177.5,425 135,407.5 130,400 C125,392.5 122.5,352.5 120,340 C117.5,327.5 102.5,265.83 100,250 C97.5,234.17 95,162.5 90,150 C85,137.5 45,107.5 40,100 C35,92.5 31.67,65.83 30,60 C28.33,54.17 17.5,34.17 20,30Z" fill="url(#g4)" stroke="#f4f4f4" stroke-width="1.3" vector-effect="non-scaling-stroke" stroke-linejoin="round" /><g clip-path="url(#clipT4)"><path d="M30.95,-70.11 L164.62,-18.25" stroke="#245a26" stroke-width="22.18" opacity="0.39" stroke-linecap="round"/><path d="M-18.42,496.25 L145.87,575.76" stroke="#245a26" stroke-width="24.07" opacity="0.48" stroke-linecap="round"/><path d="M381.75,26.41 L720.98,218.46" stroke="#2c6a2c" stroke-width="34.07" opacity="0.38" stroke-linecap="round"/><path d="M333.83,181.27 L686.55,392.09" stroke="#2c6a2c" stroke-width="32.36" opacity="0.29" stroke-linecap="round"/><path d="M451.99,36.71 L622.94,101.42" stroke="#2c6a2c" stroke-width="25.09" opacity="0.44" stroke-linecap="round"/><path d="M67.11,326.08 L303.21,416.5" stroke="#245a26" stroke-width="22.48" opacity="0.35" stroke-linecap="round"/><path d="M-60.59,399.8 L121.13,461.05" stroke="#2c6a2c" stroke-width="12.69" opacity="0.54" stroke-linecap="round"/><path d="M162.69,-34.01 L408.23,58.46" stroke="#9ee070" stroke-width="15.02" opacity="0.52" stroke-linecap="round"/><path d="M613.3,465.22 L785.71,580.21" stroke="#2c6a2c" stroke-width="32.52" opacity="0.54" stroke-linecap="round"/><path d="M486.28,292.79 L604.71,344.01" stroke="#2c6a2c" stroke-width="20.24" opacity="0.27" stroke-linecap="round"/><path d="M422.47,-37.43 L709.93,65.36" stroke="#9ee070" stroke-width="14.35" opacity="0.3" stroke-linecap="round"/><path d="M-56.07,-62.24 L210.97,107.26" stroke="#245a26" stroke-width="35.4" opacity="0.48" stroke-linecap="round"/><path d="M307.98,235.04 L506.05,342.76" stroke="#2c6a2c" stroke-width="19.92" opacity="0.43" stroke-linecap="round"/><path d="M1035.85,-38.55 L1213.04,70.45" stroke="#245a26" stroke-width="25.19" opacity="0.41" stroke-linecap="round"/><path d="M543.82,444.84 L749.39,570.31" stroke="#9ee070" stroke-width="22.03" opacity="0.53" stroke-linecap="round"/><path d="M331.08,28.75 L657.77,181.19" stroke="#2c6a2c" stroke-width="32.27" opacity="0.39" stroke-linecap="round"/><path d="M223.35,18.82 L521.03,175.05" stroke="#9ee070" stroke-width="30.12" opacity="0.53" stroke-linecap="round"/><path d="M-48.72,20.17 L246.92,198.97" stroke="#245a26" stroke-width="31.72" opacity="0.45" stroke-linecap="round"/><path d="M16.5,66.02 L345.08,242.77" stroke="#9ee070" stroke-width="34.68" opacity="0.38" stroke-linecap="round"/><path d="M976.27,413 L1177.48,502.25" stroke="#245a26" stroke-width="17.07" opacity="0.49" stroke-linecap="round"/><path d="M998.85,136.93 L1191.93,227.81" stroke="#9ee070" stroke-width="17.47" opacity="0.46" stroke-linecap="round"/><path d="M1073.17,554.81 L1208.62,645.37" stroke="#245a26" stroke-width="17.98" opacity="0.54" stroke-linecap="round"/><path d="M164.1,293.72 L375.96,418.51" stroke="#9ee070" stroke-width="20.29" opacity="0.51" stroke-linecap="round"/><path d="M838.61,227.24 L1129.2,325.38" stroke="#245a26" stroke-width="27.55" opacity="0.51" stroke-linecap="round"/><path d="M21.69,560.23 L206.64,626.61" stroke="#2c6a2c" stroke-width="17.79" opacity="0.5" stroke-linecap="round"/><path d="M638.51,349.26 L934.15,533.63" stroke="#2c6a2c" stroke-width="22.47" opacity="0.45" stroke-linecap="round"/><path d="M833.37,104.31 L1198.79,275.48" stroke="#2c6a2c" stroke-width="17.36" opacity="0.41" stroke-linecap="round"/><path d="M457.01,409.61 L588.27,466.78" stroke="#2c6a2c" stroke-width="31.59" opacity="0.53" stroke-linecap="round"/><path d="M723.62,155.25 L1059.35,271.33" stroke="#9ee070" stroke-width="17.57" opacity="0.36" stroke-linecap="round"/><path d="M1094.89,134.64 L1330.07,217.22" stroke="#245a26" stroke-width="20.4" opacity="0.47" stroke-linecap="round"/><path d="M148.32,53.11 L480.5,243.06" stroke="#2c6a2c" stroke-width="36.21" opacity="0.41" stroke-linecap="round"/><path d="M402.49,563.64 L729.63,777.66" stroke="#2c6a2c" stroke-width="35.24" opacity="0.54" stroke-linecap="round"/><path d="M463.27,311.3 L572.31,382.98" stroke="#245a26" stroke-width="16.8" opacity="0.28" stroke-linecap="round"/><path d="M766.83,106.01 L1009.86,236.47" stroke="#245a26" stroke-width="17.07" opacity="0.31" stroke-linecap="round"/><path d="M490.11,-73.66 L733.02,20.3" stroke="#2c6a2c" stroke-width="15.72" opacity="0.38" stroke-linecap="round"/><path d="M990.16,210.69 L1153.74,289.76" stroke="#9ee070" stroke-width="19.39" opacity="0.36" stroke-linecap="round"/><path d="M867.22,343.98 L1232.61,513.59" stroke="#2c6a2c" stroke-width="24.33" opacity="0.55" stroke-linecap="round"/><path d="M167.14,569.57 L363.02,635" stroke="#2c6a2c" stroke-width="35.06" opacity="0.49" stroke-linecap="round"/><path d="M256.88,69.82 L600.85,182.65" stroke="#245a26" stroke-width="28.36" opacity="0.29" stroke-linecap="round"/><path d="M-74.97,565.08 L25.3,632.05" stroke="#2c6a2c" stroke-width="21.23" opacity="0.54" stroke-linecap="round"/><path d="M335.39,286.85 L583.31,386.11" stroke="#2c6a2c" stroke-width="23.24" opacity="0.35" stroke-linecap="round"/><path d="M-38.48,282.21 L97.9,340.06" stroke="#245a26" stroke-width="29.47" opacity="0.4" stroke-linecap="round"/><path d="M767.47,137.67 L889.55,178.75" stroke="#9ee070" stroke-width="16.31" opacity="0.48" stroke-linecap="round"/><path d="M576.49,567.47 L869.14,746.54" stroke="#2c6a2c" stroke-width="25.23" opacity="0.5" stroke-linecap="round"/><path d="M562.23,95.72 L724.25,149.21" stroke="#9ee070" stroke-width="13.57" opacity="0.49" stroke-linecap="round"/></g><path d="M190,430 C200,416 279,418 300,420 C321,422 380,442 400,450 C420,458 484,489 500,500 C516,511 558,550 560,560 C562,570 528,592 520,600 C512,608 494,644 480,640 C466,636 398,568 380,560 C362,552 313,554 300,560 C287,566 260,620 250,620 C240,620 206,579 200,560 C194,541 180,444 190,430Z" fill="#3a3a36" stroke="#f4f4f4" stroke-width="1.2" vector-effect="non-scaling-stroke"/><path d="M360,540 C372,532 412.67,532 430,540 C447.33,548 480.67,581.33 490,600 C499.33,618.67 509.33,665.33 500,680 C490.67,694.67 440,708.67 420,710 C400,711.33 360.67,704.67 350,690 C339.33,675.33 338.67,620 340,600 C341.33,580 348,548 360,540Z" fill="#6ac848" stroke="#f4f4f4" stroke-width="1.3" vector-effect="non-scaling-stroke" stroke-linejoin="round" /><path d="M920,150 C928,138 982,150 1000,160 C1018,170 1081,233 1100,250 C1119,267 1182,315 1190,330 C1198,345 1189,394 1180,400 C1171,406 1118,387 1100,390 C1082,393 1017,431 1000,430 C983,429 938,395 930,380 C922,365 921,303 920,280 C919,257 912,162 920,150Z" fill="#3a3a36" stroke="#f4f4f4" stroke-width="1.2" vector-effect="non-scaling-stroke"/><path d="M220,20 C231,10 326,4 340,10 C354,16 364,69 360,80 C356,91 313,117 300,120 C287,123 238,120 230,110 C222,100 209,30 220,20Z" fill="#3a3a36" stroke="#f4f4f4" stroke-width="1.2" vector-effect="non-scaling-stroke"/><circle cx="120" cy="610" r="110" fill="url(#gball)" stroke="#f4f4f4" stroke-width="1.2" vector-effect="non-scaling-stroke"/><circle cx="710" cy="70" r="80" fill="url(#wdot)" opacity="0.9"/><circle cx="255" cy="488" r="8" fill="none" stroke="#f4f4f4" stroke-width="5" opacity="0.9"/><circle cx="572" cy="616" r="7" fill="none" stroke="#f4f4f4" stroke-width="5" opacity="0.9"/><circle cx="352" cy="512" r="8" fill="none" stroke="#f4f4f4" stroke-width="5" opacity="0.9"/><circle cx="337" cy="446" r="5" fill="none" stroke="#f4f4f4" stroke-width="5" opacity="0.9"/><circle cx="318" cy="560" r="6" fill="none" stroke="#f4f4f4" stroke-width="5" opacity="0.9"/><circle cx="380" cy="513" r="5" fill="none" stroke="#f4f4f4" stroke-width="5" opacity="0.9"/><circle cx="299" cy="479" r="5" fill="none" stroke="#f4f4f4" stroke-width="5" opacity="0.9"/><circle cx="667" cy="633" r="7" fill="none" stroke="#f4f4f4" stroke-width="5" opacity="0.9"/><circle cx="631" cy="662" r="4" fill="none" stroke="#f4f4f4" stroke-width="5" opacity="0.9"/><circle cx="255" cy="506" r="8" fill="none" stroke="#f4f4f4" stroke-width="5" opacity="0.9"/><circle cx="314" cy="542" r="7" fill="none" stroke="#f4f4f4" stroke-width="5" opacity="0.9"/><circle cx="622" cy="627" r="5" fill="none" stroke="#f4f4f4" stroke-width="5" opacity="0.9"/><circle cx="304" cy="562" r="6" fill="none" stroke="#f4f4f4" stroke-width="5" opacity="0.9"/><circle cx="289" cy="525" r="8" fill="none" stroke="#f4f4f4" stroke-width="5" opacity="0.9"/><circle cx="400" cy="478" r="7" fill="none" stroke="#f4f4f4" stroke-width="5" opacity="0.9"/><circle cx="314" cy="481" r="8" fill="none" stroke="#f4f4f4" stroke-width="5" opacity="0.9"/><circle cx="817" cy="581" r="7" fill="none" stroke="#f4f4f4" stroke-width="5" opacity="0.9"/><circle cx="379" cy="494" r="5" fill="none" stroke="#f4f4f4" stroke-width="5" opacity="0.9"/><circle cx="676" cy="661" r="4" fill="none" stroke="#f4f4f4" stroke-width="5" opacity="0.9"/><circle cx="311" cy="426" r="6" fill="none" stroke="#f4f4f4" stroke-width="5" opacity="0.9"/><circle cx="374" cy="502" r="4" fill="none" stroke="#f4f4f4" stroke-width="5" opacity="0.9"/><circle cx="602" cy="673" r="4" fill="none" stroke="#f4f4f4" stroke-width="5" opacity="0.9"/><circle cx="304" cy="495" r="5" fill="none" stroke="#f4f4f4" stroke-width="5" opacity="0.9"/><circle cx="599" cy="630" r="4" fill="none" stroke="#f4f4f4" stroke-width="5" opacity="0.9"/><circle cx="358" cy="527" r="5" fill="none" stroke="#f4f4f4" stroke-width="5" opacity="0.9"/><circle cx="510" cy="563" r="4" fill="none" stroke="#f4f4f4" stroke-width="5" opacity="0.9"/><circle cx="362" cy="544" r="4" fill="none" stroke="#f4f4f4" stroke-width="5" opacity="0.9"/><circle cx="665" cy="608" r="8" fill="none" stroke="#f4f4f4" stroke-width="5" opacity="0.9"/><circle cx="326" cy="438" r="8" fill="none" stroke="#f4f4f4" stroke-width="5" opacity="0.9"/><circle cx="283" cy="534" r="5" fill="none" stroke="#f4f4f4" stroke-width="5" opacity="0.9"/><circle cx="287" cy="513" r="7" fill="none" stroke="#f4f4f4" stroke-width="5" opacity="0.9"/><circle cx="329" cy="417" r="5" fill="none" stroke="#f4f4f4" stroke-width="5" opacity="0.9"/><circle cx="699" cy="611" r="8" fill="none" stroke="#f4f4f4" stroke-width="5" opacity="0.9"/><circle cx="317" cy="489" r="7" fill="none" stroke="#f4f4f4" stroke-width="5" opacity="0.9"/><circle cx="306" cy="486" r="4" fill="none" stroke="#f4f4f4" stroke-width="5" opacity="0.9"/><circle cx="290" cy="479" r="7" fill="none" stroke="#f4f4f4" stroke-width="5" opacity="0.9"/><circle cx="272" cy="515" r="5" fill="none" stroke="#f4f4f4" stroke-width="5" opacity="0.9"/><circle cx="655" cy="663" r="6" fill="none" stroke="#f4f4f4" stroke-width="5" opacity="0.9"/><circle cx="548" cy="586" r="7" fill="none" stroke="#f4f4f4" stroke-width="5" opacity="0.9"/><circle cx="580" cy="670" r="5" fill="none" stroke="#f4f4f4" stroke-width="5" opacity="0.9"/><circle cx="626" cy="644" r="7" fill="none" stroke="#f4f4f4" stroke-width="5" opacity="0.9"/><circle cx="402" cy="497" r="5" fill="none" stroke="#f4f4f4" stroke-width="5" opacity="0.9"/><circle cx="327" cy="526" r="5" fill="none" stroke="#f4f4f4" stroke-width="5" opacity="0.9"/><circle cx="683" cy="669" r="6" fill="none" stroke="#f4f4f4" stroke-width="5" opacity="0.9"/><circle cx="708" cy="633" r="6" fill="none" stroke="#f4f4f4" stroke-width="5" opacity="0.9"/><circle cx="626" cy="648" r="5" fill="none" stroke="#f4f4f4" stroke-width="5" opacity="0.9"/><circle cx="378" cy="527" r="4" fill="none" stroke="#f4f4f4" stroke-width="5" opacity="0.9"/><circle cx="383" cy="554" r="5" fill="none" stroke="#f4f4f4" stroke-width="5" opacity="0.9"/><circle cx="707" cy="622" r="5" fill="none" stroke="#f4f4f4" stroke-width="5" opacity="0.9"/><circle cx="387" cy="458" r="4" fill="none" stroke="#f4f4f4" stroke-width="5" opacity="0.9"/><circle cx="329" cy="500" r="4" fill="none" stroke="#f4f4f4" stroke-width="5" opacity="0.9"/><circle cx="353" cy="477" r="6" fill="none" stroke="#f4f4f4" stroke-width="5" opacity="0.9"/><circle cx="401" cy="514" r="5" fill="none" stroke="#f4f4f4" stroke-width="5" opacity="0.9"/><circle cx="282" cy="560" r="8" fill="none" stroke="#f4f4f4" stroke-width="5" opacity="0.9"/><circle cx="298" cy="556" r="6" fill="none" stroke="#f4f4f4" stroke-width="5" opacity="0.9"/><circle cx="646" cy="641" r="5" fill="none" stroke="#f4f4f4" stroke-width="5" opacity="0.9"/><circle cx="672" cy="636" r="8" fill="none" stroke="#f4f4f4" stroke-width="5" opacity="0.9"/><circle cx="342" cy="452" r="6" fill="none" stroke="#f4f4f4" stroke-width="5" opacity="0.9"/><circle cx="602" cy="623" r="5" fill="none" stroke="#f4f4f4" stroke-width="5" opacity="0.9"/><circle cx="493" cy="569" r="5" fill="none" stroke="#f4f4f4" stroke-width="5" opacity="0.9"/><circle cx="282" cy="436" r="8" fill="none" stroke="#f4f4f4" stroke-width="5" opacity="0.9"/><circle cx="383" cy="442" r="5" fill="none" stroke="#f4f4f4" stroke-width="5" opacity="0.9"/><circle cx="570" cy="698" r="7" fill="none" stroke="#f4f4f4" stroke-width="5" opacity="0.9"/><circle cx="295" cy="439" r="8" fill="none" stroke="#f4f4f4" stroke-width="5" opacity="0.9"/><circle cx="301" cy="564" r="8" fill="none" stroke="#f4f4f4" stroke-width="5" opacity="0.9"/><circle cx="233" cy="487" r="6" fill="none" stroke="#f4f4f4" stroke-width="5" opacity="0.9"/><circle cx="343" cy="472" r="8" fill="none" stroke="#f4f4f4" stroke-width="5" opacity="0.9"/><circle cx="701" cy="600" r="5" fill="none" stroke="#f4f4f4" stroke-width="5" opacity="0.9"/><circle cx="361" cy="491" r="6" fill="none" stroke="#f4f4f4" stroke-width="5" opacity="0.9"/><circle cx="279" cy="465" r="5" fill="none" stroke="#f4f4f4" stroke-width="5" opacity="0.9"/><circle cx="584" cy="692" r="6" fill="none" stroke="#f4f4f4" stroke-width="5" opacity="0.9"/><circle cx="564" cy="612" r="7" fill="none" stroke="#f4f4f4" stroke-width="5" opacity="0.9"/><circle cx="583" cy="586" r="8" fill="none" stroke="#f4f4f4" stroke-width="5" opacity="0.9"/><circle cx="369" cy="533" r="8" fill="none" stroke="#f4f4f4" stroke-width="5" opacity="0.9"/><circle cx="673" cy="590" r="7" fill="none" stroke="#f4f4f4" stroke-width="5" opacity="0.9"/><circle cx="331" cy="602" r="7" fill="none" stroke="#f4f4f4" stroke-width="5" opacity="0.9"/><circle cx="645" cy="658" r="5" fill="none" stroke="#f4f4f4" stroke-width="5" opacity="0.9"/><circle cx="321" cy="513" r="8" fill="none" stroke="#f4f4f4" stroke-width="5" opacity="0.9"/><circle cx="655" cy="652" r="4" fill="none" stroke="#f4f4f4" stroke-width="5" opacity="0.9"/><circle cx="299" cy="503" r="8" fill="none" stroke="#f4f4f4" stroke-width="5" opacity="0.9"/><circle cx="337" cy="575" r="6" fill="none" stroke="#f4f4f4" stroke-width="5" opacity="0.9"/><circle cx="601" cy="631" r="5" fill="none" stroke="#f4f4f4" stroke-width="5" opacity="0.9"/><circle cx="379" cy="529" r="6" fill="none" stroke="#f4f4f4" stroke-width="5" opacity="0.9"/><circle cx="354" cy="554" r="6" fill="none" stroke="#f4f4f4" stroke-width="5" opacity="0.9"/><circle cx="289" cy="537" r="6" fill="none" stroke="#f4f4f4" stroke-width="5" opacity="0.9"/><circle cx="274" cy="442" r="4" fill="none" stroke="#f4f4f4" stroke-width="5" opacity="0.9"/><circle cx="346" cy="478" r="5" fill="none" stroke="#f4f4f4" stroke-width="5" opacity="0.9"/><circle cx="352" cy="533" r="7" fill="none" stroke="#f4f4f4" stroke-width="5" opacity="0.9"/><circle cx="368" cy="477" r="4" fill="none" stroke="#f4f4f4" stroke-width="5" opacity="0.9"/><circle cx="288" cy="447" r="7" fill="none" stroke="#f4f4f4" stroke-width="5" opacity="0.9"/><circle cx="562" cy="590" r="7" fill="none" stroke="#f4f4f4" stroke-width="5" opacity="0.9"/><circle cx="309" cy="546" r="8" fill="none" stroke="#f4f4f4" stroke-width="5" opacity="0.9"/><circle cx="705" cy="600" r="6" fill="none" stroke="#f4f4f4" stroke-width="5" opacity="0.9"/><circle cx="580" cy="637" r="4" fill="none" stroke="#f4f4f4" stroke-width="5" opacity="0.9"/><circle cx="361" cy="587" r="7" fill="none" stroke="#f4f4f4" stroke-width="5" opacity="0.9"/><circle cx="382" cy="594" r="6" fill="none" stroke="#f4f4f4" stroke-width="5" opacity="0.9"/><circle cx="490" cy="638" r="6" fill="none" stroke="#f4f4f4" stroke-width="5" opacity="0.9"/><circle cx="319" cy="432" r="7" fill="none" stroke="#f4f4f4" stroke-width="5" opacity="0.9"/><circle cx="318" cy="478" r="6" fill="none" stroke="#f4f4f4" stroke-width="5" opacity="0.9"/><circle cx="286" cy="541" r="5" fill="none" stroke="#f4f4f4" stroke-width="5" opacity="0.9"/><circle cx="262" cy="509" r="5" fill="none" stroke="#f4f4f4" stroke-width="5" opacity="0.9"/><circle cx="335" cy="523" r="5" fill="none" stroke="#f4f4f4" stroke-width="5" opacity="0.9"/><circle cx="283" cy="555" r="5" fill="none" stroke="#f4f4f4" stroke-width="5" opacity="0.9"/><circle cx="738" cy="600" r="5" fill="none" stroke="#f4f4f4" stroke-width="5" opacity="0.9"/><circle cx="306" cy="537" r="4" fill="none" stroke="#f4f4f4" stroke-width="5" opacity="0.9"/><circle cx="659" cy="632" r="8" fill="none" stroke="#f4f4f4" stroke-width="5" opacity="0.9"/><circle cx="393" cy="562" r="4" fill="none" stroke="#f4f4f4" stroke-width="5" opacity="0.9"/><circle cx="183" cy="509" r="4" fill="none" stroke="#f4f4f4" stroke-width="5" opacity="0.9"/><circle cx="571" cy="635" r="6" fill="none" stroke="#f4f4f4" stroke-width="5" opacity="0.9"/><circle cx="713" cy="614" r="5" fill="none" stroke="#f4f4f4" stroke-width="5" opacity="0.9"/><circle cx="351" cy="483" r="4" fill="none" stroke="#f4f4f4" stroke-width="5" opacity="0.9"/><circle cx="409" cy="500" r="4" fill="none" stroke="#f4f4f4" stroke-width="5" opacity="0.9"/><circle cx="668" cy="679" r="7" fill="none" stroke="#f4f4f4" stroke-width="5" opacity="0.9"/><circle cx="289" cy="453" r="8" fill="none" stroke="#f4f4f4" stroke-width="5" opacity="0.9"/><circle cx="353" cy="523" r="8" fill="none" stroke="#f4f4f4" stroke-width="5" opacity="0.9"/><circle cx="296" cy="518" r="4" fill="none" stroke="#f4f4f4" stroke-width="5" opacity="0.9"/><circle cx="358" cy="425" r="5" fill="none" stroke="#f4f4f4" stroke-width="5" opacity="0.9"/><circle cx="389" cy="536" r="4" fill="none" stroke="#f4f4f4" stroke-width="5" opacity="0.9"/><circle cx="581" cy="584" r="7" fill="none" stroke="#f4f4f4" stroke-width="5" opacity="0.9"/><circle cx="600" cy="583" r="4" fill="none" stroke="#f4f4f4" stroke-width="5" opacity="0.9"/><circle cx="735" cy="645" r="6" fill="none" stroke="#f4f4f4" stroke-width="5" opacity="0.9"/><circle cx="292" cy="568" r="8" fill="none" stroke="#f4f4f4" stroke-width="5" opacity="0.9"/><circle cx="359" cy="509" r="4" fill="none" stroke="#f4f4f4" stroke-width="5" opacity="0.9"/><circle cx="742" cy="594" r="7" fill="none" stroke="#f4f4f4" stroke-width="5" opacity="0.9"/><circle cx="330" cy="505" r="5" fill="none" stroke="#f4f4f4" stroke-width="5" opacity="0.9"/><circle cx="294" cy="531" r="8" fill="none" stroke="#f4f4f4" stroke-width="5" opacity="0.9"/><circle cx="313" cy="467" r="4" fill="none" stroke="#f4f4f4" stroke-width="5" opacity="0.9"/><circle cx="302" cy="481" r="6" fill="none" stroke="#f4f4f4" stroke-width="5" opacity="0.9"/><circle cx="509" cy="529" r="5" fill="none" stroke="#f4f4f4" stroke-width="5" opacity="0.9"/><circle cx="663" cy="671" r="7" fill="none" stroke="#f4f4f4" stroke-width="5" opacity="0.9"/><circle cx="673" cy="659" r="6" fill="none" stroke="#f4f4f4" stroke-width="5" opacity="0.9"/><circle cx="428" cy="455" r="4" fill="none" stroke="#f4f4f4" stroke-width="5" opacity="0.9"/><circle cx="609" cy="665" r="5" fill="none" stroke="#f4f4f4" stroke-width="5" opacity="0.9"/><circle cx="632" cy="634" r="4" fill="none" stroke="#f4f4f4" stroke-width="5" opacity="0.9"/><circle cx="632" cy="551" r="4" fill="none" stroke="#f4f4f4" stroke-width="5" opacity="0.9"/><circle cx="318" cy="488" r="6" fill="none" stroke="#f4f4f4" stroke-width="5" opacity="0.9"/><circle cx="371" cy="503" r="5" fill="none" stroke="#f4f4f4" stroke-width="5" opacity="0.9"/><circle cx="518" cy="623" r="8" fill="none" stroke="#f4f4f4" stroke-width="5" opacity="0.9"/><circle cx="287" cy="480" r="7" fill="none" stroke="#f4f4f4" stroke-width="5" opacity="0.9"/><circle cx="316" cy="466" r="4" fill="none" stroke="#f4f4f4" stroke-width="5" opacity="0.9"/><circle cx="329" cy="419" r="4" fill="none" stroke="#f4f4f4" stroke-width="5" opacity="0.9"/><circle cx="366" cy="489" r="8" fill="none" stroke="#f4f4f4" stroke-width="5" opacity="0.9"/><circle cx="573" cy="620" r="6" fill="none" stroke="#f4f4f4" stroke-width="5" opacity="0.9"/><circle cx="309" cy="461" r="7" fill="none" stroke="#f4f4f4" stroke-width="5" opacity="0.9"/><circle cx="271" cy="598" r="5" fill="none" stroke="#f4f4f4" stroke-width="5" opacity="0.9"/><circle cx="277" cy="434" r="7" fill="none" stroke="#f4f4f4" stroke-width="5" opacity="0.9"/><circle cx="358" cy="522" r="6" fill="none" stroke="#f4f4f4" stroke-width="5" opacity="0.9"/><circle cx="331" cy="420" r="6" fill="none" stroke="#f4f4f4" stroke-width="5" opacity="0.9"/><circle cx="662" cy="619" r="6" fill="none" stroke="#f4f4f4" stroke-width="5" opacity="0.9"/><circle cx="302" cy="566" r="8" fill="none" stroke="#f4f4f4" stroke-width="5" opacity="0.9"/><circle cx="287" cy="521" r="6" fill="none" stroke="#f4f4f4" stroke-width="5" opacity="0.9"/><circle cx="348" cy="456" r="8" fill="none" stroke="#f4f4f4" stroke-width="5" opacity="0.9"/><circle cx="366" cy="471" r="6" fill="none" stroke="#f4f4f4" stroke-width="5" opacity="0.9"/><circle cx="385" cy="441" r="4" fill="none" stroke="#f4f4f4" stroke-width="5" opacity="0.9"/><circle cx="364" cy="443" r="6" fill="none" stroke="#f4f4f4" stroke-width="5" opacity="0.9"/><circle cx="272" cy="498" r="7" fill="none" stroke="#f4f4f4" stroke-width="5" opacity="0.9"/><circle cx="383" cy="522" r="4" fill="none" stroke="#f4f4f4" stroke-width="5" opacity="0.9"/><circle cx="267" cy="469" r="8" fill="none" stroke="#f4f4f4" stroke-width="5" opacity="0.9"/><circle cx="348" cy="454" r="6" fill="none" stroke="#f4f4f4" stroke-width="5" opacity="0.9"/><circle cx="354" cy="521" r="8" fill="none" stroke="#f4f4f4" stroke-width="5" opacity="0.9"/><circle cx="690" cy="650" r="8" fill="none" stroke="#f4f4f4" stroke-width="5" opacity="0.9"/><circle cx="306" cy="434" r="6" fill="none" stroke="#f4f4f4" stroke-width="5" opacity="0.9"/><circle cx="623" cy="619" r="6" fill="none" stroke="#f4f4f4" stroke-width="5" opacity="0.9"/><circle cx="591" cy="662" r="5" fill="none" stroke="#f4f4f4" stroke-width="5" opacity="0.9"/><circle cx="339" cy="532" r="5" fill="none" stroke="#f4f4f4" stroke-width="5" opacity="0.9"/><circle cx="683" cy="594" r="7" fill="none" stroke="#f4f4f4" stroke-width="5" opacity="0.9"/><circle cx="257" cy="469" r="8" fill="none" stroke="#f4f4f4" stroke-width="5" opacity="0.9"/><circle cx="329" cy="497" r="7" fill="none" stroke="#f4f4f4" stroke-width="5" opacity="0.9"/><circle cx="642" cy="642" r="5" fill="none" stroke="#f4f4f4" stroke-width="5" opacity="0.9"/><circle cx="656" cy="584" r="5" fill="none" stroke="#f4f4f4" stroke-width="5" opacity="0.9"/><circle cx="336" cy="532" r="7" fill="none" stroke="#f4f4f4" stroke-width="5" opacity="0.9"/><circle cx="588" cy="628" r="6" fill="none" stroke="#f4f4f4" stroke-width="5" opacity="0.9"/><circle cx="255" cy="455" r="6" fill="none" stroke="#f4f4f4" stroke-width="5" opacity="0.9"/><circle cx="341" cy="544" r="4" fill="none" stroke="#f4f4f4" stroke-width="5" opacity="0.9"/><circle cx="340" cy="421" r="7" fill="none" stroke="#f4f4f4" stroke-width="5" opacity="0.9"/><circle cx="648" cy="686" r="7" fill="none" stroke="#f4f4f4" stroke-width="5" opacity="0.9"/><circle cx="348" cy="538" r="7" fill="none" stroke="#f4f4f4" stroke-width="5" opacity="0.9"/><circle cx="404" cy="525" r="7" fill="none" stroke="#f4f4f4" stroke-width="5" opacity="0.9"/><circle cx="374" cy="459" r="4" fill="none" stroke="#f4f4f4" stroke-width="5" opacity="0.9"/><circle cx="287" cy="328" r="4" fill="none" stroke="#f4f4f4" stroke-width="5" opacity="0.9"/><circle cx="338" cy="452" r="8" fill="none" stroke="#f4f4f4" stroke-width="5" opacity="0.9"/><circle cx="347" cy="472" r="6" fill="none" stroke="#f4f4f4" stroke-width="5" opacity="0.9"/><circle cx="306" cy="423" r="8" fill="none" stroke="#f4f4f4" stroke-width="5" opacity="0.9"/><circle cx="278" cy="475" r="4" fill="none" stroke="#f4f4f4" stroke-width="5" opacity="0.9"/><circle cx="318" cy="534" r="6" fill="none" stroke="#f4f4f4" stroke-width="5" opacity="0.9"/><circle cx="692" cy="677" r="8" fill="none" stroke="#f4f4f4" stroke-width="5" opacity="0.9"/><circle cx="327" cy="503" r="5" fill="none" stroke="#f4f4f4" stroke-width="5" opacity="0.9"/><circle cx="391" cy="506" r="8" fill="none" stroke="#f4f4f4" stroke-width="5" opacity="0.9"/><circle cx="296" cy="454" r="5" fill="none" stroke="#f4f4f4" stroke-width="5" opacity="0.9"/><circle cx="379" cy="502" r="6" fill="none" stroke="#f4f4f4" stroke-width="5" opacity="0.9"/><circle cx="638" cy="600" r="7" fill="none" stroke="#f4f4f4" stroke-width="5" opacity="0.9"/><circle cx="649" cy="637" r="4" fill="none" stroke="#f4f4f4" stroke-width="5" opacity="0.9"/><circle cx="334" cy="484" r="6" fill="none" stroke="#f4f4f4" stroke-width="5" opacity="0.9"/><circle cx="385" cy="448" r="5" fill="none" stroke="#f4f4f4" stroke-width="5" opacity="0.9"/><circle cx="367" cy="494" r="5" fill="none" stroke="#f4f4f4" stroke-width="5" opacity="0.9"/><circle cx="709" cy="572" r="7" fill="none" stroke="#f4f4f4" stroke-width="5" opacity="0.9"/><circle cx="331" cy="446" r="7" fill="none" stroke="#f4f4f4" stroke-width="5" opacity="0.9"/><circle cx="284" cy="493" r="6" fill="none" stroke="#f4f4f4" stroke-width="5" opacity="0.9"/><circle cx="691" cy="602" r="7" fill="none" stroke="#f4f4f4" stroke-width="5" opacity="0.9"/><circle cx="333" cy="437" r="5" fill="none" stroke="#f4f4f4" stroke-width="5" opacity="0.9"/><circle cx="648" cy="707" r="6" fill="none" stroke="#f4f4f4" stroke-width="5" opacity="0.9"/><circle cx="287" cy="569" r="4" fill="none" stroke="#f4f4f4" stroke-width="5" opacity="0.9"/><circle cx="347" cy="545" r="5" fill="none" stroke="#f4f4f4" stroke-width="5" opacity="0.9"/><circle cx="382" cy="487" r="8" fill="none" stroke="#f4f4f4" stroke-width="5" opacity="0.9"/><circle cx="633" cy="616" r="7" fill="none" stroke="#f4f4f4" stroke-width="5" opacity="0.9"/><circle cx="390" cy="524" r="6" fill="none" stroke="#f4f4f4" stroke-width="5" opacity="0.9"/><circle cx="638" cy="703" r="6" fill="none" stroke="#f4f4f4" stroke-width="5" opacity="0.9"/><circle cx="659" cy="555" r="8" fill="none" stroke="#f4f4f4" stroke-width="5" opacity="0.9"/><circle cx="731" cy="651" r="8" fill="none" stroke="#f4f4f4" stroke-width="5" opacity="0.9"/><circle cx="606" cy="634" r="8" fill="none" stroke="#f4f4f4" stroke-width="5" opacity="0.9"/><circle cx="787" cy="598" r="5" fill="none" stroke="#f4f4f4" stroke-width="5" opacity="0.9"/><circle cx="730" cy="598" r="5" fill="none" stroke="#f4f4f4" stroke-width="5" opacity="0.9"/><circle cx="689" cy="645" r="4" fill="none" stroke="#f4f4f4" stroke-width="5" opacity="0.9"/><circle cx="689" cy="641" r="5" fill="none" stroke="#f4f4f4" stroke-width="5" opacity="0.9"/><circle cx="724" cy="590" r="7" fill="none" stroke="#f4f4f4" stroke-width="5" opacity="0.9"/><circle cx="273" cy="516" r="5" fill="none" stroke="#f4f4f4" stroke-width="5" opacity="0.9"/><circle cx="588" cy="624" r="5" fill="none" stroke="#f4f4f4" stroke-width="5" opacity="0.9"/><circle cx="342" cy="486" r="8" fill="none" stroke="#f4f4f4" stroke-width="5" opacity="0.9"/><circle cx="290" cy="507" r="4" fill="none" stroke="#f4f4f4" stroke-width="5" opacity="0.9"/><circle cx="353" cy="449" r="6" fill="none" stroke="#f4f4f4" stroke-width="5" opacity="0.9"/><circle cx="727" cy="623" r="7" fill="none" stroke="#f4f4f4" stroke-width="5" opacity="0.9"/><circle cx="277" cy="472" r="5" fill="none" stroke="#f4f4f4" stroke-width="5" opacity="0.9"/><circle cx="600" cy="651" r="6" fill="none" stroke="#f4f4f4" stroke-width="5" opacity="0.9"/><circle cx="575" cy="645" r="6" fill="none" stroke="#f4f4f4" stroke-width="5" opacity="0.9"/><circle cx="283" cy="431" r="4" fill="none" stroke="#f4f4f4" stroke-width="5" opacity="0.9"/><circle cx="581" cy="638" r="4" fill="none" stroke="#f4f4f4" stroke-width="5" opacity="0.9"/><circle cx="661" cy="580" r="4" fill="none" stroke="#f4f4f4" stroke-width="5" opacity="0.9"/><circle cx="592" cy="634" r="4" fill="none" stroke="#f4f4f4" stroke-width="5" opacity="0.9"/><circle cx="431" cy="461" r="4" fill="none" stroke="#f4f4f4" stroke-width="5" opacity="0.9"/><circle cx="598" cy="653" r="4" fill="none" stroke="#f4f4f4" stroke-width="5" opacity="0.9"/><circle cx="233" cy="423" r="5" fill="none" stroke="#f4f4f4" stroke-width="5" opacity="0.9"/><circle cx="559" cy="661" r="5" fill="none" stroke="#f4f4f4" stroke-width="5" opacity="0.9"/><circle cx="281" cy="561" r="5" fill="none" stroke="#f4f4f4" stroke-width="5" opacity="0.9"/><circle cx="327" cy="527" r="8" fill="none" stroke="#f4f4f4" stroke-width="5" opacity="0.9"/><circle cx="644" cy="570" r="8" fill="none" stroke="#f4f4f4" stroke-width="5" opacity="0.9"/><circle cx="386" cy="445" r="6" fill="none" stroke="#f4f4f4" stroke-width="5" opacity="0.9"/><circle cx="286" cy="544" r="4" fill="none" stroke="#f4f4f4" stroke-width="5" opacity="0.9"/><circle cx="401" cy="562" r="7" fill="none" stroke="#f4f4f4" stroke-width="5" opacity="0.9"/><circle cx="339" cy="462" r="8" fill="none" stroke="#f4f4f4" stroke-width="5" opacity="0.9"/><circle cx="579" cy="574" r="7" fill="none" stroke="#f4f4f4" stroke-width="5" opacity="0.9"/><circle cx="320" cy="516" r="8" fill="none" stroke="#f4f4f4" stroke-width="5" opacity="0.9"/><circle cx="265" cy="446" r="7" fill="none" stroke="#f4f4f4" stroke-width="5" opacity="0.9"/><circle cx="314" cy="452" r="8" fill="none" stroke="#f4f4f4" stroke-width="5" opacity="0.9"/><circle cx="650" cy="648" r="8" fill="none" stroke="#f4f4f4" stroke-width="5" opacity="0.9"/><circle cx="332" cy="607" r="4" fill="none" stroke="#f4f4f4" stroke-width="5" opacity="0.9"/><circle cx="465" cy="611" r="4" fill="none" stroke="#f4f4f4" stroke-width="5" opacity="0.9"/><circle cx="523" cy="660" r="8" fill="none" stroke="#f4f4f4" stroke-width="5" opacity="0.9"/><circle cx="481" cy="592" r="5" fill="none" stroke="#f4f4f4" stroke-width="5" opacity="0.9"/><circle cx="328" cy="473" r="8" fill="none" stroke="#f4f4f4" stroke-width="5" opacity="0.9"/><circle cx="406" cy="495" r="7" fill="none" stroke="#f4f4f4" stroke-width="5" opacity="0.9"/><circle cx="334" cy="574" r="6" fill="none" stroke="#f4f4f4" stroke-width="5" opacity="0.9"/><circle cx="594" cy="623" r="5" fill="none" stroke="#f4f4f4" stroke-width="5" opacity="0.9"/><circle cx="573" cy="548" r="6" fill="none" stroke="#f4f4f4" stroke-width="5" opacity="0.9"/><circle cx="363" cy="533" r="6" fill="none" stroke="#f4f4f4" stroke-width="5" opacity="0.9"/><circle cx="290" cy="449" r="8" fill="none" stroke="#f4f4f4" stroke-width="5" opacity="0.9"/><circle cx="353" cy="571" r="6" fill="none" stroke="#f4f4f4" stroke-width="5" opacity="0.9"/><circle cx="637" cy="634" r="5" fill="none" stroke="#f4f4f4" stroke-width="5" opacity="0.9"/><circle cx="622" cy="676" r="5" fill="none" stroke="#f4f4f4" stroke-width="5" opacity="0.9"/><circle cx="759" cy="578" r="4" fill="none" stroke="#f4f4f4" stroke-width="5" opacity="0.9"/><circle cx="307" cy="487" r="7" fill="none" stroke="#f4f4f4" stroke-width="5" opacity="0.9"/><circle cx="691" cy="643" r="6" fill="none" stroke="#f4f4f4" stroke-width="5" opacity="0.9"/><circle cx="287" cy="536" r="4" fill="none" stroke="#f4f4f4" stroke-width="5" opacity="0.9"/><circle cx="310" cy="543" r="8" fill="none" stroke="#f4f4f4" stroke-width="5" opacity="0.9"/><circle cx="663" cy="630" r="4" fill="none" stroke="#f4f4f4" stroke-width="5" opacity="0.9"/><circle cx="577" cy="551" r="4" fill="none" stroke="#f4f4f4" stroke-width="5" opacity="0.9"/><circle cx="323" cy="482" r="6" fill="none" stroke="#f4f4f4" stroke-width="5" opacity="0.9"/><circle cx="671" cy="642" r="6" fill="none" stroke="#f4f4f4" stroke-width="5" opacity="0.9"/><circle cx="286" cy="408" r="5" fill="none" stroke="#f4f4f4" stroke-width="5" opacity="0.9"/><circle cx="287" cy="408" r="7" fill="none" stroke="#f4f4f4" stroke-width="5" opacity="0.9"/><circle cx="294" cy="462" r="7" fill="none" stroke="#f4f4f4" stroke-width="5" opacity="0.9"/><circle cx="351" cy="519" r="4" fill="none" stroke="#f4f4f4" stroke-width="5" opacity="0.9"/><circle cx="620" cy="645" r="7" fill="none" stroke="#f4f4f4" stroke-width="5" opacity="0.9"/><circle cx="619" cy="661" r="6" fill="none" stroke="#f4f4f4" stroke-width="5" opacity="0.9"/><circle cx="256" cy="554" r="7" fill="none" stroke="#f4f4f4" stroke-width="5" opacity="0.9"/><circle cx="695" cy="669" r="8" fill="none" stroke="#f4f4f4" stroke-width="5" opacity="0.9"/><circle cx="704" cy="645" r="8" fill="none" stroke="#f4f4f4" stroke-width="5" opacity="0.9"/><circle cx="656" cy="618" r="5" fill="none" stroke="#f4f4f4" stroke-width="5" opacity="0.9"/><circle cx="504" cy="598" r="4" fill="none" stroke="#f4f4f4" stroke-width="5" opacity="0.9"/><circle cx="248" cy="515" r="4" fill="none" stroke="#f4f4f4" stroke-width="5" opacity="0.9"/><circle cx="253" cy="431" r="5" fill="none" stroke="#f4f4f4" stroke-width="5" opacity="0.9"/><circle cx="612" cy="624" r="8" fill="none" stroke="#f4f4f4" stroke-width="5" opacity="0.9"/><circle cx="582" cy="660" r="4" fill="none" stroke="#f4f4f4" stroke-width="5" opacity="0.9"/><circle cx="357" cy="506" r="4" fill="none" stroke="#f4f4f4" stroke-width="5" opacity="0.9"/><circle cx="602" cy="568" r="6" fill="none" stroke="#f4f4f4" stroke-width="5" opacity="0.9"/><circle cx="372" cy="478" r="8" fill="none" stroke="#f4f4f4" stroke-width="5" opacity="0.9"/><circle cx="281" cy="580" r="5" fill="none" stroke="#f4f4f4" stroke-width="5" opacity="0.9"/><circle cx="751" cy="648" r="5" fill="none" stroke="#f4f4f4" stroke-width="5" opacity="0.9"/><circle cx="589" cy="647" r="4" fill="none" stroke="#f4f4f4" stroke-width="5" opacity="0.9"/><circle cx="556" cy="623" r="4" fill="none" stroke="#f4f4f4" stroke-width="5" opacity="0.9"/><circle cx="412" cy="544" r="7" fill="none" stroke="#f4f4f4" stroke-width="5" opacity="0.9"/><circle cx="619" cy="647" r="5" fill="none" stroke="#f4f4f4" stroke-width="5" opacity="0.9"/><circle cx="503" cy="681" r="7" fill="none" stroke="#f4f4f4" stroke-width="5" opacity="0.9"/><circle cx="292" cy="385" r="4" fill="none" stroke="#f4f4f4" stroke-width="5" opacity="0.9"/><circle cx="592" cy="576" r="5" fill="none" stroke="#f4f4f4" stroke-width="5" opacity="0.9"/><circle cx="530" cy="638" r="6" fill="none" stroke="#f4f4f4" stroke-width="5" opacity="0.9"/><circle cx="636" cy="572" r="5" fill="none" stroke="#f4f4f4" stroke-width="5" opacity="0.9"/><circle cx="246" cy="586" r="4" fill="none" stroke="#f4f4f4" stroke-width="5" opacity="0.9"/><circle cx="594" cy="596" r="4" fill="none" stroke="#f4f4f4" stroke-width="5" opacity="0.9"/><circle cx="585" cy="647" r="7" fill="none" stroke="#f4f4f4" stroke-width="5" opacity="0.9"/><circle cx="379" cy="499" r="6" fill="none" stroke="#f4f4f4" stroke-width="5" opacity="0.9"/><circle cx="500" cy="628" r="6" fill="none" stroke="#f4f4f4" stroke-width="5" opacity="0.9"/><circle cx="657" cy="661" r="4" fill="none" stroke="#f4f4f4" stroke-width="5" opacity="0.9"/><circle cx="744" cy="613" r="5" fill="none" stroke="#f4f4f4" stroke-width="5" opacity="0.9"/><circle cx="385" cy="448" r="4" fill="none" stroke="#f4f4f4" stroke-width="5" opacity="0.9"/><circle cx="267" cy="558" r="8" fill="none" stroke="#f4f4f4" stroke-width="5" opacity="0.9"/><circle cx="405" cy="507" r="5" fill="none" stroke="#f4f4f4" stroke-width="5" opacity="0.9"/><circle cx="590" cy="629" r="8" fill="none" stroke="#f4f4f4" stroke-width="5" opacity="0.9"/><circle cx="618" cy="604" r="6" fill="none" stroke="#f4f4f4" stroke-width="5" opacity="0.9"/><circle cx="772" cy="572" r="7" fill="none" stroke="#f4f4f4" stroke-width="5" opacity="0.9"/><circle cx="372" cy="507" r="4" fill="none" stroke="#f4f4f4" stroke-width="5" opacity="0.9"/><circle cx="628" cy="655" r="4" fill="none" stroke="#f4f4f4" stroke-width="5" opacity="0.9"/><circle cx="309" cy="395" r="8" fill="none" stroke="#f4f4f4" stroke-width="5" opacity="0.9"/><circle cx="692" cy="621" r="5" fill="none" stroke="#f4f4f4" stroke-width="5" opacity="0.9"/><circle cx="285" cy="506" r="5" fill="none" stroke="#f4f4f4" stroke-width="5" opacity="0.9"/><circle cx="217" cy="539" r="6" fill="none" stroke="#f4f4f4" stroke-width="5" opacity="0.9"/><circle cx="641" cy="662" r="6" fill="none" stroke="#f4f4f4" stroke-width="5" opacity="0.9"/><circle cx="352" cy="471" r="4" fill="none" stroke="#f4f4f4" stroke-width="5" opacity="0.9"/><circle cx="592" cy="685" r="4" fill="none" stroke="#f4f4f4" stroke-width="5" opacity="0.9"/><circle cx="349" cy="511" r="7" fill="none" stroke="#f4f4f4" stroke-width="5" opacity="0.9"/><circle cx="541" cy="671" r="8" fill="none" stroke="#f4f4f4" stroke-width="5" opacity="0.9"/><circle cx="370" cy="485" r="6" fill="none" stroke="#f4f4f4" stroke-width="5" opacity="0.9"/><circle cx="676" cy="606" r="4" fill="none" stroke="#f4f4f4" stroke-width="5" opacity="0.9"/><circle cx="621" cy="634" r="8" fill="none" stroke="#f4f4f4" stroke-width="5" opacity="0.9"/><circle cx="313" cy="552" r="5" fill="none" stroke="#f4f4f4" stroke-width="5" opacity="0.9"/><circle cx="349" cy="509" r="4" fill="none" stroke="#f4f4f4" stroke-width="5" opacity="0.9"/><circle cx="643" cy="654" r="7" fill="none" stroke="#f4f4f4" stroke-width="5" opacity="0.9"/><circle cx="402" cy="487" r="7" fill="none" stroke="#f4f4f4" stroke-width="5" opacity="0.9"/><circle cx="599" cy="543" r="4" fill="none" stroke="#f4f4f4" stroke-width="5" opacity="0.9"/><circle cx="569" cy="702" r="5" fill="none" stroke="#f4f4f4" stroke-width="5" opacity="0.9"/><circle cx="691" cy="676" r="5" fill="none" stroke="#f4f4f4" stroke-width="5" opacity="0.9"/><circle cx="314" cy="545" r="8" fill="none" stroke="#f4f4f4" stroke-width="5" opacity="0.9"/><circle cx="290" cy="489" r="6" fill="none" stroke="#f4f4f4" stroke-width="5" opacity="0.9"/><circle cx="665" cy="609" r="5" fill="none" stroke="#f4f4f4" stroke-width="5" opacity="0.9"/><circle cx="622" cy="590" r="8" fill="none" stroke="#f4f4f4" stroke-width="5" opacity="0.9"/><circle cx="263" cy="525" r="7" fill="none" stroke="#f4f4f4" stroke-width="5" opacity="0.9"/><circle cx="669" cy="577" r="4" fill="none" stroke="#f4f4f4" stroke-width="5" opacity="0.9"/><circle cx="357" cy="567" r="4" fill="none" stroke="#f4f4f4" stroke-width="5" opacity="0.9"/><circle cx="327" cy="497" r="5" fill="none" stroke="#f4f4f4" stroke-width="5" opacity="0.9"/><circle cx="326" cy="567" r="7" fill="none" stroke="#f4f4f4" stroke-width="5" opacity="0.9"/><circle cx="558" cy="727" r="6" fill="none" stroke="#f4f4f4" stroke-width="5" opacity="0.9"/><circle cx="595" cy="542" r="6" fill="none" stroke="#f4f4f4" stroke-width="5" opacity="0.9"/><circle cx="652" cy="591" r="8" fill="none" stroke="#f4f4f4" stroke-width="5" opacity="0.9"/><circle cx="258" cy="463" r="8" fill="none" stroke="#f4f4f4" stroke-width="5" opacity="0.9"/><circle cx="585" cy="622" r="5" fill="none" stroke="#f4f4f4" stroke-width="5" opacity="0.9"/><circle cx="270" cy="548" r="8" fill="none" stroke="#f4f4f4" stroke-width="5" opacity="0.9"/><circle cx="258" cy="539" r="8" fill="none" stroke="#f4f4f4" stroke-width="5" opacity="0.9"/><circle cx="684" cy="660" r="5" fill="none" stroke="#f4f4f4" stroke-width="5" opacity="0.9"/><circle cx="224" cy="556" r="5" fill="none" stroke="#f4f4f4" stroke-width="5" opacity="0.9"/><circle cx="358" cy="444" r="5" fill="none" stroke="#f4f4f4" stroke-width="5" opacity="0.9"/><circle cx="713" cy="683" r="4" fill="none" stroke="#f4f4f4" stroke-width="5" opacity="0.9"/><circle cx="697" cy="682" r="7" fill="none" stroke="#f4f4f4" stroke-width="5" opacity="0.9"/><circle cx="376" cy="502" r="7" fill="none" stroke="#f4f4f4" stroke-width="5" opacity="0.9"/><circle cx="609" cy="623" r="7" fill="none" stroke="#f4f4f4" stroke-width="5" opacity="0.9"/><circle cx="624" cy="619" r="6" fill="none" stroke="#f4f4f4" stroke-width="5" opacity="0.9"/><circle cx="676" cy="570" r="7" fill="none" stroke="#f4f4f4" stroke-width="5" opacity="0.9"/><circle cx="563" cy="568" r="7" fill="none" stroke="#f4f4f4" stroke-width="5" opacity="0.9"/><circle cx="319" cy="472" r="5" fill="none" stroke="#f4f4f4" stroke-width="5" opacity="0.9"/><circle cx="345" cy="466" r="6" fill="none" stroke="#f4f4f4" stroke-width="5" opacity="0.9"/><circle cx="320" cy="493" r="6" fill="none" stroke="#f4f4f4" stroke-width="5" opacity="0.9"/><circle cx="348" cy="492" r="6" fill="none" stroke="#f4f4f4" stroke-width="5" opacity="0.9"/><circle cx="276" cy="504" r="5" fill="none" stroke="#f4f4f4" stroke-width="5" opacity="0.9"/><circle cx="324" cy="535" r="8" fill="none" stroke="#f4f4f4" stroke-width="5" opacity="0.9"/><circle cx="366" cy="460" r="6" fill="none" stroke="#f4f4f4" stroke-width="5" opacity="0.9"/><circle cx="387" cy="506" r="6" fill="none" stroke="#f4f4f4" stroke-width="5" opacity="0.9"/><circle cx="267" cy="460" r="7" fill="none" stroke="#f4f4f4" stroke-width="5" opacity="0.9"/><circle cx="282" cy="557" r="6" fill="none" stroke="#f4f4f4" stroke-width="5" opacity="0.9"/><circle cx="611" cy="628" r="6" fill="none" stroke="#f4f4f4" stroke-width="5" opacity="0.9"/><circle cx="323" cy="516" r="8" fill="none" stroke="#f4f4f4" stroke-width="5" opacity="0.9"/><circle cx="645" cy="589" r="8" fill="none" stroke="#f4f4f4" stroke-width="5" opacity="0.9"/><circle cx="653" cy="620" r="6" fill="none" stroke="#f4f4f4" stroke-width="5" opacity="0.9"/><circle cx="279" cy="424" r="6" fill="none" stroke="#f4f4f4" stroke-width="5" opacity="0.9"/><circle cx="309" cy="487" r="8" fill="none" stroke="#f4f4f4" stroke-width="5" opacity="0.9"/><circle cx="372" cy="550" r="7" fill="none" stroke="#f4f4f4" stroke-width="5" opacity="0.9"/><circle cx="656" cy="644" r="6" fill="none" stroke="#f4f4f4" stroke-width="5" opacity="0.9"/><circle cx="718" cy="608" r="8" fill="none" stroke="#f4f4f4" stroke-width="5" opacity="0.9"/><circle cx="615" cy="651" r="7" fill="none" stroke="#f4f4f4" stroke-width="5" opacity="0.9"/><circle cx="584" cy="661" r="7" fill="none" stroke="#f4f4f4" stroke-width="5" opacity="0.9"/><circle cx="593" cy="646" r="5" fill="none" stroke="#f4f4f4" stroke-width="5" opacity="0.9"/><circle cx="737" cy="586" r="6" fill="none" stroke="#f4f4f4" stroke-width="5" opacity="0.9"/><circle cx="366" cy="462" r="4" fill="none" stroke="#f4f4f4" stroke-width="5" opacity="0.9"/><circle cx="306" cy="451" r="8" fill="none" stroke="#f4f4f4" stroke-width="5" opacity="0.9"/><circle cx="541" cy="691" r="5" fill="none" stroke="#f4f4f4" stroke-width="5" opacity="0.9"/><circle cx="723" cy="693" r="4" fill="none" stroke="#f4f4f4" stroke-width="5" opacity="0.9"/><circle cx="319" cy="553" r="6" fill="none" stroke="#f4f4f4" stroke-width="5" opacity="0.9"/><circle cx="639" cy="616" r="8" fill="none" stroke="#f4f4f4" stroke-width="5" opacity="0.9"/><circle cx="666" cy="670" r="6" fill="none" stroke="#f4f4f4" stroke-width="5" opacity="0.9"/><circle cx="593" cy="608" r="8" fill="none" stroke="#f4f4f4" stroke-width="5" opacity="0.9"/><circle cx="278" cy="570" r="7" fill="none" stroke="#f4f4f4" stroke-width="5" opacity="0.9"/><circle cx="292" cy="411" r="6" fill="none" stroke="#f4f4f4" stroke-width="5" opacity="0.9"/><circle cx="699" cy="760" r="4" fill="none" stroke="#f4f4f4" stroke-width="5" opacity="0.9"/><circle cx="631" cy="576" r="7" fill="none" stroke="#f4f4f4" stroke-width="5" opacity="0.9"/><circle cx="372" cy="404" r="6" fill="none" stroke="#f4f4f4" stroke-width="5" opacity="0.9"/><circle cx="297" cy="507" r="6" fill="none" stroke="#f4f4f4" stroke-width="5" opacity="0.9"/><circle cx="686" cy="633" r="5" fill="none" stroke="#f4f4f4" stroke-width="5" opacity="0.9"/><circle cx="250" cy="532" r="8" fill="none" stroke="#f4f4f4" stroke-width="5" opacity="0.9"/><circle cx="634" cy="607" r="4" fill="none" stroke="#f4f4f4" stroke-width="5" opacity="0.9"/><circle cx="267" cy="512" r="5" fill="none" stroke="#f4f4f4" stroke-width="5" opacity="0.9"/><circle cx="709" cy="657" r="7" fill="none" stroke="#f4f4f4" stroke-width="5" opacity="0.9"/><circle cx="392" cy="469" r="6" fill="none" stroke="#f4f4f4" stroke-width="5" opacity="0.9"/><circle cx="604" cy="541" r="8" fill="none" stroke="#f4f4f4" stroke-width="5" opacity="0.9"/><circle cx="288" cy="483" r="6" fill="none" stroke="#f4f4f4" stroke-width="5" opacity="0.9"/><circle cx="429" cy="569" r="5" fill="none" stroke="#f4f4f4" stroke-width="5" opacity="0.9"/><circle cx="356" cy="467" r="6" fill="none" stroke="#f4f4f4" stroke-width="5" opacity="0.9"/><circle cx="288" cy="551" r="8" fill="none" stroke="#f4f4f4" stroke-width="5" opacity="0.9"/><circle cx="703" cy="650" r="8" fill="none" stroke="#f4f4f4" stroke-width="5" opacity="0.9"/><circle cx="338" cy="481" r="6" fill="none" stroke="#f4f4f4" stroke-width="5" opacity="0.9"/><circle cx="349" cy="578" r="7" fill="none" stroke="#f4f4f4" stroke-width="5" opacity="0.9"/><circle cx="391" cy="599" r="7" fill="none" stroke="#f4f4f4" stroke-width="5" opacity="0.9"/><circle cx="630" cy="568" r="5" fill="none" stroke="#f4f4f4" stroke-width="5" opacity="0.9"/><circle cx="662" cy="616" r="7" fill="none" stroke="#f4f4f4" stroke-width="5" opacity="0.9"/><circle cx="567" cy="621" r="6" fill="none" stroke="#f4f4f4" stroke-width="5" opacity="0.9"/><circle cx="320" cy="402" r="8" fill="none" stroke="#f4f4f4" stroke-width="5" opacity="0.9"/><circle cx="795" cy="665" r="6" fill="none" stroke="#f4f4f4" stroke-width="5" opacity="0.9"/><circle cx="340" cy="555" r="7" fill="none" stroke="#f4f4f4" stroke-width="5" opacity="0.9"/><circle cx="271" cy="568" r="7" fill="none" stroke="#f4f4f4" stroke-width="5" opacity="0.9"/><circle cx="372" cy="538" r="6" fill="none" stroke="#f4f4f4" stroke-width="5" opacity="0.9"/><circle cx="311" cy="542" r="6" fill="none" stroke="#f4f4f4" stroke-width="5" opacity="0.9"/><circle cx="561" cy="545" r="6" fill="none" stroke="#f4f4f4" stroke-width="5" opacity="0.9"/><circle cx="601" cy="641" r="7" fill="none" stroke="#f4f4f4" stroke-width="5" opacity="0.9"/><circle cx="298" cy="395" r="4" fill="none" stroke="#f4f4f4" stroke-width="5" opacity="0.9"/><circle cx="310" cy="493" r="4" fill="none" stroke="#f4f4f4" stroke-width="5" opacity="0.9"/><circle cx="586" cy="621" r="6" fill="none" stroke="#f4f4f4" stroke-width="5" opacity="0.9"/><circle cx="610" cy="612" r="6" fill="none" stroke="#f4f4f4" stroke-width="5" opacity="0.9"/><circle cx="524" cy="627" r="8" fill="none" stroke="#f4f4f4" stroke-width="5" opacity="0.9"/><circle cx="555" cy="578" r="6" fill="none" stroke="#f4f4f4" stroke-width="5" opacity="0.9"/><circle cx="783" cy="631" r="5" fill="none" stroke="#f4f4f4" stroke-width="5" opacity="0.9"/><circle cx="574" cy="661" r="6" fill="none" stroke="#f4f4f4" stroke-width="5" opacity="0.9"/><circle cx="617" cy="650" r="5" fill="none" stroke="#f4f4f4" stroke-width="5" opacity="0.9"/><circle cx="330" cy="501" r="6" fill="none" stroke="#f4f4f4" stroke-width="5" opacity="0.9"/><circle cx="688" cy="572" r="5" fill="none" stroke="#f4f4f4" stroke-width="5" opacity="0.9"/><circle cx="659" cy="690" r="5" fill="none" stroke="#f4f4f4" stroke-width="5" opacity="0.9"/><circle cx="326" cy="577" r="5" fill="none" stroke="#f4f4f4" stroke-width="5" opacity="0.9"/><circle cx="623" cy="612" r="5" fill="none" stroke="#f4f4f4" stroke-width="5" opacity="0.9"/><circle cx="662" cy="610" r="7" fill="none" stroke="#f4f4f4" stroke-width="5" opacity="0.9"/><circle cx="681" cy="720" r="8" fill="none" stroke="#f4f4f4" stroke-width="5" opacity="0.9"/><circle cx="358" cy="475" r="7" fill="none" stroke="#f4f4f4" stroke-width="5" opacity="0.9"/><circle cx="687" cy="626" r="7" fill="none" stroke="#f4f4f4" stroke-width="5" opacity="0.9"/><circle cx="394" cy="496" r="4" fill="none" stroke="#f4f4f4" stroke-width="5" opacity="0.9"/><circle cx="325" cy="535" r="7" fill="none" stroke="#f4f4f4" stroke-width="5" opacity="0.9"/><circle cx="572" cy="554" r="7" fill="none" stroke="#f4f4f4" stroke-width="5" opacity="0.9"/><circle cx="320" cy="409" r="8" fill="none" stroke="#f4f4f4" stroke-width="5" opacity="0.9"/><circle cx="292" cy="527" r="6" fill="none" stroke="#f4f4f4" stroke-width="5" opacity="0.9"/><circle cx="713" cy="649" r="8" fill="none" stroke="#f4f4f4" stroke-width="5" opacity="0.9"/><circle cx="341" cy="469" r="4" fill="none" stroke="#f4f4f4" stroke-width="5" opacity="0.9"/><circle cx="677" cy="615" r="6" fill="none" stroke="#f4f4f4" stroke-width="5" opacity="0.9"/><circle cx="557" cy="590" r="4" fill="none" stroke="#f4f4f4" stroke-width="5" opacity="0.9"/><circle cx="703" cy="684" r="7" fill="none" stroke="#f4f4f4" stroke-width="5" opacity="0.9"/><circle cx="697" cy="624" r="8" fill="none" stroke="#f4f4f4" stroke-width="5" opacity="0.9"/><circle cx="628" cy="625" r="7" fill="none" stroke="#f4f4f4" stroke-width="5" opacity="0.9"/><circle cx="468" cy="582" r="5" fill="none" stroke="#f4f4f4" stroke-width="5" opacity="0.9"/><circle cx="274" cy="503" r="7" fill="none" stroke="#f4f4f4" stroke-width="5" opacity="0.9"/><circle cx="340" cy="579" r="6" fill="none" stroke="#f4f4f4" stroke-width="5" opacity="0.9"/><circle cx="377" cy="457" r="8" fill="none" stroke="#f4f4f4" stroke-width="5" opacity="0.9"/><circle cx="334" cy="569" r="4" fill="none" stroke="#f4f4f4" stroke-width="5" opacity="0.9"/><circle cx="653" cy="633" r="5" fill="none" stroke="#f4f4f4" stroke-width="5" opacity="0.9"/><circle cx="480" cy="648" r="8" fill="none" stroke="#f4f4f4" stroke-width="5" opacity="0.9"/><circle cx="311" cy="383" r="7" fill="none" stroke="#f4f4f4" stroke-width="5" opacity="0.9"/><circle cx="569" cy="687" r="7" fill="none" stroke="#f4f4f4" stroke-width="5" opacity="0.9"/><circle cx="395" cy="517" r="4" fill="none" stroke="#f4f4f4" stroke-width="5" opacity="0.9"/><circle cx="537" cy="663" r="4" fill="none" stroke="#f4f4f4" stroke-width="5" opacity="0.9"/><circle cx="356" cy="537" r="4" fill="none" stroke="#f4f4f4" stroke-width="5" opacity="0.9"/><circle cx="663" cy="646" r="8" fill="none" stroke="#f4f4f4" stroke-width="5" opacity="0.9"/><circle cx="337" cy="488" r="5" fill="none" stroke="#f4f4f4" stroke-width="5" opacity="0.9"/><circle cx="536" cy="642" r="5" fill="none" stroke="#f4f4f4" stroke-width="5" opacity="0.9"/><circle cx="690" cy="627" r="7" fill="none" stroke="#f4f4f4" stroke-width="5" opacity="0.9"/><circle cx="524" cy="637" r="4" fill="none" stroke="#f4f4f4" stroke-width="5" opacity="0.9"/><circle cx="659" cy="643" r="6" fill="none" stroke="#f4f4f4" stroke-width="5" opacity="0.9"/><circle cx="318" cy="442" r="6" fill="none" stroke="#f4f4f4" stroke-width="5" opacity="0.9"/><circle cx="370" cy="570" r="5" fill="none" stroke="#f4f4f4" stroke-width="5" opacity="0.9"/><circle cx="784" cy="578" r="5" fill="none" stroke="#f4f4f4" stroke-width="5" opacity="0.9"/><circle cx="668" cy="657" r="5" fill="none" stroke="#f4f4f4" stroke-width="5" opacity="0.9"/><circle cx="359" cy="505" r="7" fill="none" stroke="#f4f4f4" stroke-width="5" opacity="0.9"/><circle cx="554" cy="615" r="8" fill="none" stroke="#f4f4f4" stroke-width="5" opacity="0.9"/><circle cx="292" cy="487" r="5" fill="none" stroke="#f4f4f4" stroke-width="5" opacity="0.9"/><circle cx="303" cy="462" r="7" fill="none" stroke="#f4f4f4" stroke-width="5" opacity="0.9"/><circle cx="365" cy="512" r="5" fill="none" stroke="#f4f4f4" stroke-width="5" opacity="0.9"/><circle cx="494" cy="638" r="4" fill="none" stroke="#f4f4f4" stroke-width="5" opacity="0.9"/><circle cx="660" cy="674" r="5" fill="none" stroke="#f4f4f4" stroke-width="5" opacity="0.9"/><circle cx="623" cy="563" r="5" fill="none" stroke="#f4f4f4" stroke-width="5" opacity="0.9"/><circle cx="643" cy="628" r="5" fill="none" stroke="#f4f4f4" stroke-width="5" opacity="0.9"/><circle cx="377" cy="420" r="5" fill="none" stroke="#f4f4f4" stroke-width="5" opacity="0.9"/><circle cx="328" cy="378" r="6" fill="none" stroke="#f4f4f4" stroke-width="5" opacity="0.9"/><circle cx="648" cy="645" r="4" fill="none" stroke="#f4f4f4" stroke-width="5" opacity="0.9"/><circle cx="584" cy="660" r="7" fill="none" stroke="#f4f4f4" stroke-width="5" opacity="0.9"/><circle cx="306" cy="453" r="7" fill="none" stroke="#f4f4f4" stroke-width="5" opacity="0.9"/><circle cx="264" cy="581" r="4" fill="none" stroke="#f4f4f4" stroke-width="5" opacity="0.9"/><circle cx="390" cy="420" r="5" fill="none" stroke="#f4f4f4" stroke-width="5" opacity="0.9"/><circle cx="716" cy="698" r="7" fill="none" stroke="#f4f4f4" stroke-width="5" opacity="0.9"/><circle cx="406" cy="577" r="4" fill="none" stroke="#f4f4f4" stroke-width="5" opacity="0.9"/><circle cx="698" cy="618" r="4" fill="none" stroke="#f4f4f4" stroke-width="5" opacity="0.9"/><circle cx="624" cy="644" r="6" fill="none" stroke="#f4f4f4" stroke-width="5" opacity="0.9"/><circle cx="274" cy="434" r="8" fill="none" stroke="#f4f4f4" stroke-width="5" opacity="0.9"/><circle cx="371" cy="579" r="8" fill="none" stroke="#f4f4f4" stroke-width="5" opacity="0.9"/><circle cx="666" cy="591" r="4" fill="none" stroke="#f4f4f4" stroke-width="5" opacity="0.9"/><circle cx="677" cy="571" r="5" fill="none" stroke="#f4f4f4" stroke-width="5" opacity="0.9"/><circle cx="764" cy="548" r="7" fill="none" stroke="#f4f4f4" stroke-width="5" opacity="0.9"/><circle cx="682" cy="659" r="8" fill="none" stroke="#f4f4f4" stroke-width="5" opacity="0.9"/><circle cx="330" cy="474" r="4" fill="none" stroke="#f4f4f4" stroke-width="5" opacity="0.9"/><circle cx="701" cy="611" r="7" fill="none" stroke="#f4f4f4" stroke-width="5" opacity="0.9"/><circle cx="421" cy="479" r="7" fill="none" stroke="#f4f4f4" stroke-width="5" opacity="0.9"/><circle cx="731" cy="634" r="5" fill="none" stroke="#f4f4f4" stroke-width="5" opacity="0.9"/><circle cx="374" cy="539" r="7" fill="none" stroke="#f4f4f4" stroke-width="5" opacity="0.9"/><circle cx="602" cy="614" r="8" fill="none" stroke="#f4f4f4" stroke-width="5" opacity="0.9"/><circle cx="413" cy="518" r="7" fill="none" stroke="#f4f4f4" stroke-width="5" opacity="0.9"/><circle cx="315" cy="477" r="5" fill="none" stroke="#f4f4f4" stroke-width="5" opacity="0.9"/><circle cx="364" cy="543" r="6" fill="none" stroke="#f4f4f4" stroke-width="5" opacity="0.9"/><circle cx="832" cy="541" r="5" fill="none" stroke="#f4f4f4" stroke-width="5" opacity="0.9"/><circle cx="527" cy="636" r="7" fill="none" stroke="#f4f4f4" stroke-width="5" opacity="0.9"/><circle cx="307" cy="471" r="5" fill="none" stroke="#f4f4f4" stroke-width="5" opacity="0.9"/><circle cx="647" cy="637" r="4" fill="none" stroke="#f4f4f4" stroke-width="5" opacity="0.9"/><circle cx="321" cy="520" r="4" fill="none" stroke="#f4f4f4" stroke-width="5" opacity="0.9"/><circle cx="687" cy="592" r="6" fill="none" stroke="#f4f4f4" stroke-width="5" opacity="0.9"/><circle cx="304" cy="483" r="7" fill="none" stroke="#f4f4f4" stroke-width="5" opacity="0.9"/><circle cx="348" cy="452" r="7" fill="none" stroke="#f4f4f4" stroke-width="5" opacity="0.9"/><circle cx="676" cy="629" r="5" fill="none" stroke="#f4f4f4" stroke-width="5" opacity="0.9"/><circle cx="334" cy="438" r="8" fill="none" stroke="#f4f4f4" stroke-width="5" opacity="0.9"/><circle cx="385" cy="518" r="4" fill="none" stroke="#f4f4f4" stroke-width="5" opacity="0.9"/><circle cx="640" cy="629" r="5" fill="none" stroke="#f4f4f4" stroke-width="5" opacity="0.9"/><circle cx="613" cy="606" r="8" fill="none" stroke="#f4f4f4" stroke-width="5" opacity="0.9"/><circle cx="348" cy="393" r="6" fill="none" stroke="#f4f4f4" stroke-width="5" opacity="0.9"/><ellipse cx="982.74" cy="236.1" rx="28.82" ry="23.36" fill="#2c6e2a" opacity="0.4"/><ellipse cx="930.15" cy="391.61" rx="28.43" ry="18.71" fill="#2c6e2a" opacity="0.4"/><ellipse cx="702.03" cy="167.6" rx="29.39" ry="20.13" fill="#2c6e2a" opacity="0.4"/><ellipse cx="840.35" cy="496.19" rx="26.73" ry="22.71" fill="#2c6e2a" opacity="0.4"/><ellipse cx="940.16" cy="390.07" rx="27.66" ry="24" fill="#2c6e2a" opacity="0.4"/><ellipse cx="734.41" cy="158.32" rx="26.73" ry="22.69" fill="#2c6e2a" opacity="0.4"/><ellipse cx="705.66" cy="366.26" rx="31.61" ry="24.79" fill="#2c6e2a" opacity="0.4"/><ellipse cx="541.78" cy="386.45" rx="25.69" ry="19.06" fill="#2c6e2a" opacity="0.4"/><ellipse cx="454.95" cy="481.7" rx="31.38" ry="24.19" fill="#2c6e2a" opacity="0.4"/><ellipse cx="751.45" cy="303.5" rx="25.65" ry="21.43" fill="#2c6e2a" opacity="0.4"/><ellipse cx="319.29" cy="218.33" rx="27.53" ry="22.84" fill="#2c6e2a" opacity="0.4"/><ellipse cx="419.99" cy="337.99" rx="23.62" ry="23.12" fill="#2c6e2a" opacity="0.4"/><ellipse cx="395.69" cy="426.21" rx="30.44" ry="22.69" fill="#2c6e2a" opacity="0.4"/><ellipse cx="982.49" cy="448.65" rx="28.77" ry="25.04" fill="#2c6e2a" opacity="0.4"/><circle cx="900" cy="830" r="30" fill="url(#rdot)" opacity="1"/></svg>
<rect x="962" y="452" width="207" height="156" fill="#41413e"/><rect x="962" y="452" width="207" height="156" fill="#fff" filter="url(#tex2)"/><svg x="962" y="452" width="207" height="156" viewBox="0 0 1200 900" preserveAspectRatio="none"><path d="M10,100 C24,78 122,10.5 150,0 C178,-10.5 268,-18 290,-5 C312,8 361,111.5 370,130 C379,148.5 384,171 380,180 C376,189 343,214.5 330,220 C317,225.5 267,233 250,235 C233,237 175,247.5 160,240 C145,232.5 110,166 100,160 C90,154 69,174 60,180 C51,186 15,228 10,220 C5,212 -4,122 10,100Z" fill="url(#g5)" stroke="#f4f4f4" stroke-width="1.3" vector-effect="non-scaling-stroke" stroke-linejoin="round" /><path d="M380,60 C388,50 438,74 450,80 C462,86 489,117 500,120 C511,123 550,119 560,110 C570,101 591,40 600,30 C609,20 636,11 650,10 C664,9 726,15 740,20 C754,25 784,49 790,60 C796,71 791,119 800,130 C809,141 870,169 880,170 C890,171 893,143 900,140 C907,137 943,134 950,140 C957,146 970,189 970,200 C970,211 947,241 950,250 C953,259 996,282 1000,290 C1004,298 998,323 990,330 C982,337 930,352 920,360 C910,368 897,401 890,410 C883,419 856,440 850,450 C844,460 840,504 830,510 C820,516 763,514 750,510 C737,506 711,479 700,470 C689,461 654,427 640,420 C626,413 576,407 560,400 C544,393 493,360 480,350 C467,340 438,312 430,300 C422,288 406,242 400,230 C394,218 372,197 370,180 C368,163 372,70 380,60Z" fill="url(#g5)" stroke="#f4f4f4" stroke-width="1.3" vector-effect="non-scaling-stroke" stroke-linejoin="round" /><defs><radialGradient id="ybright"><stop offset="0" stop-color="#f4f8b0" stop-opacity="0.9"/><stop offset="1" stop-color="#c8e870" stop-opacity="0"/></radialGradient><radialGradient id="pinkr"><stop offset="0" stop-color="#f0a080" stop-opacity="0.8"/><stop offset="1" stop-color="#d08060" stop-opacity="0"/></radialGradient></defs><circle cx="700" cy="90" r="100" fill="url(#ybright)"/><circle cx="560" cy="150" r="50" fill="url(#ybright)"/><circle cx="500" cy="250" r="60" fill="url(#ybright)"/><circle cx="640" cy="280" r="55" fill="url(#ybright)"/><circle cx="760" cy="420" r="60" fill="url(#ybright)"/><circle cx="520" cy="330" r="45" fill="url(#ybright)"/><circle cx="200" cy="90" r="90" fill="url(#ybright)"/><circle cx="940" cy="200" r="45" fill="url(#ybright)"/><circle cx="1150" cy="540" r="90" fill="url(#ybright)"/><ellipse cx="840" cy="250" rx="80" ry="120" fill="url(#pinkr)"/><circle cx="190" cy="365" r="55" fill="url(#g2)" stroke="#f4f4f4" stroke-width="1.2" vector-effect="non-scaling-stroke"/><path d="M10,620 C15.33,601.33 34.67,553.33 60,540 C85.33,526.67 177.33,512 200,520 C222.67,528 227.33,577.33 230,600 C232.67,622.67 234.67,675.33 220,690 C205.33,704.67 146.67,711.33 120,710 C93.33,708.67 34.67,692 20,680 C5.33,668 4.67,638.67 10,620Z" fill="url(#gorange)" stroke="#f4f4f4" stroke-width="1.3" vector-effect="non-scaling-stroke" stroke-linejoin="round" /><path d="M240,500 C244,493 286,480 300,480 C314,480 365,498 380,500 C395,502 438,494 450,500 C462,506 494,548 500,560 C506,572 513,612 510,620 C507,628 481,640 470,640 C459,640 414,625 400,620 C386,615 344,597 330,590 C316,583 269,559 260,550 C251,541 236,507 240,500Z" fill="#4fae3e" stroke="#f4f4f4" stroke-width="1.3" vector-effect="non-scaling-stroke" stroke-linejoin="round" /><path d="M1060,480 C1065,462 1085,412 1100,400 C1115,388 1199,324 1210,360 C1221,396 1215,728 1210,760 C1205,792 1173,691 1160,680 C1147,669 1091,660 1080,650 C1069,640 1052,597 1050,580 C1048,563 1055,498 1060,480Z" fill="url(#g5)" stroke="#f4f4f4" stroke-width="1.3" vector-effect="non-scaling-stroke" stroke-linejoin="round" /><path d="M640,820 C646,809 690,797 700,800 C710,803 735.5,839 740,850 C744.5,861 755,904 745,910 C735,916 650.5,919 640,910 C629.5,901 634,831 640,820Z" fill="#3e7a36" stroke="#f4f4f4" stroke-width="1.3" vector-effect="non-scaling-stroke" stroke-linejoin="round" /><circle cx="501.32" cy="415.59" r="8.54" fill="none" stroke="#f0f0f0" stroke-width="2.5" opacity="0.8"/><circle cx="686.44" cy="470.6" r="6.98" fill="none" stroke="#f0f0f0" stroke-width="2.5" opacity="0.8"/><circle cx="477.18" cy="490.1" r="8.23" fill="none" stroke="#f0f0f0" stroke-width="2.5" opacity="0.8"/><circle cx="714.73" cy="471.33" r="8.06" fill="none" stroke="#f0f0f0" stroke-width="2.5" opacity="0.8"/><circle cx="703.75" cy="500.12" r="4.46" fill="none" stroke="#f0f0f0" stroke-width="2.5" opacity="0.8"/><circle cx="519.52" cy="458.76" r="6.53" fill="none" stroke="#f0f0f0" stroke-width="2.5" opacity="0.8"/><circle cx="516.06" cy="436.16" r="6.56" fill="none" stroke="#f0f0f0" stroke-width="2.5" opacity="0.8"/><circle cx="565.33" cy="528.53" r="5.98" fill="none" stroke="#f0f0f0" stroke-width="2.5" opacity="0.8"/><circle cx="615.77" cy="416.35" r="5.09" fill="none" stroke="#f0f0f0" stroke-width="2.5" opacity="0.8"/><circle cx="552.41" cy="404.15" r="4.36" fill="none" stroke="#f0f0f0" stroke-width="2.5" opacity="0.8"/><circle cx="569.62" cy="495.07" r="6.53" fill="none" stroke="#f0f0f0" stroke-width="2.5" opacity="0.8"/><circle cx="460.07" cy="462.02" r="4.44" fill="none" stroke="#f0f0f0" stroke-width="2.5" opacity="0.8"/><circle cx="635.1" cy="405.76" r="4.36" fill="none" stroke="#f0f0f0" stroke-width="2.5" opacity="0.8"/><circle cx="481.5" cy="404.45" r="4.89" fill="none" stroke="#f0f0f0" stroke-width="2.5" opacity="0.8"/><circle cx="549.92" cy="450.1" r="7.46" fill="none" stroke="#f0f0f0" stroke-width="2.5" opacity="0.8"/><circle cx="452.75" cy="456.02" r="4.4" fill="none" stroke="#f0f0f0" stroke-width="2.5" opacity="0.8"/><circle cx="605.58" cy="449.13" r="6.66" fill="none" stroke="#f0f0f0" stroke-width="2.5" opacity="0.8"/><circle cx="525.25" cy="469.98" r="6.14" fill="none" stroke="#f0f0f0" stroke-width="2.5" opacity="0.8"/><circle cx="668.82" cy="500.37" r="4.93" fill="none" stroke="#f0f0f0" stroke-width="2.5" opacity="0.8"/><circle cx="476.55" cy="462.3" r="7.27" fill="none" stroke="#f0f0f0" stroke-width="2.5" opacity="0.8"/><circle cx="471.99" cy="449.98" r="6.79" fill="none" stroke="#f0f0f0" stroke-width="2.5" opacity="0.8"/><circle cx="675.68" cy="521.24" r="6.3" fill="none" stroke="#f0f0f0" stroke-width="2.5" opacity="0.8"/><circle cx="697.26" cy="441.64" r="5.5" fill="none" stroke="#f0f0f0" stroke-width="2.5" opacity="0.8"/><circle cx="585.57" cy="523.86" r="7.72" fill="none" stroke="#f0f0f0" stroke-width="2.5" opacity="0.8"/><circle cx="513.54" cy="460.46" r="4.43" fill="none" stroke="#f0f0f0" stroke-width="2.5" opacity="0.8"/><circle cx="707.64" cy="462.73" r="4.47" fill="none" stroke="#f0f0f0" stroke-width="2.5" opacity="0.8"/><circle cx="529.96" cy="470.02" r="4.04" fill="none" stroke="#f0f0f0" stroke-width="2.5" opacity="0.8"/><circle cx="508.52" cy="430.06" r="8.45" fill="none" stroke="#f0f0f0" stroke-width="2.5" opacity="0.8"/><circle cx="522.32" cy="463.7" r="8.03" fill="none" stroke="#f0f0f0" stroke-width="2.5" opacity="0.8"/><circle cx="615.7" cy="479.48" r="5.1" fill="none" stroke="#f0f0f0" stroke-width="2.5" opacity="0.8"/><circle cx="687.82" cy="440.19" r="4.12" fill="none" stroke="#f0f0f0" stroke-width="2.5" opacity="0.8"/><circle cx="464.68" cy="495.34" r="5.85" fill="none" stroke="#f0f0f0" stroke-width="2.5" opacity="0.8"/><circle cx="512.33" cy="495.5" r="4.93" fill="none" stroke="#f0f0f0" stroke-width="2.5" opacity="0.8"/><circle cx="714.54" cy="537.6" r="4.14" fill="none" stroke="#f0f0f0" stroke-width="2.5" opacity="0.8"/><circle cx="602.02" cy="496.49" r="4.21" fill="none" stroke="#f0f0f0" stroke-width="2.5" opacity="0.8"/><circle cx="623.06" cy="446.34" r="7.19" fill="none" stroke="#f0f0f0" stroke-width="2.5" opacity="0.8"/><circle cx="461.81" cy="518.18" r="5.61" fill="none" stroke="#f0f0f0" stroke-width="2.5" opacity="0.8"/><circle cx="635.3" cy="492.18" r="6.41" fill="none" stroke="#f0f0f0" stroke-width="2.5" opacity="0.8"/><circle cx="455.9" cy="428.96" r="7.27" fill="none" stroke="#f0f0f0" stroke-width="2.5" opacity="0.8"/><circle cx="566.32" cy="426.05" r="5.52" fill="none" stroke="#f0f0f0" stroke-width="2.5" opacity="0.8"/><circle cx="628.42" cy="528.95" r="5.02" fill="none" stroke="#f0f0f0" stroke-width="2.5" opacity="0.8"/><circle cx="544.91" cy="491.53" r="4.43" fill="none" stroke="#f0f0f0" stroke-width="2.5" opacity="0.8"/><circle cx="675.03" cy="518.42" r="8.12" fill="none" stroke="#f0f0f0" stroke-width="2.5" opacity="0.8"/><circle cx="684.97" cy="464.62" r="4.68" fill="none" stroke="#f0f0f0" stroke-width="2.5" opacity="0.8"/><circle cx="684.58" cy="505.14" r="6.78" fill="none" stroke="#f0f0f0" stroke-width="2.5" opacity="0.8"/><circle cx="563.32" cy="531.09" r="6.98" fill="none" stroke="#f0f0f0" stroke-width="2.5" opacity="0.8"/><circle cx="534.65" cy="483.67" r="5.16" fill="none" stroke="#f0f0f0" stroke-width="2.5" opacity="0.8"/><circle cx="488.54" cy="429.39" r="6.38" fill="none" stroke="#f0f0f0" stroke-width="2.5" opacity="0.8"/><circle cx="633.26" cy="535.64" r="6.54" fill="none" stroke="#f0f0f0" stroke-width="2.5" opacity="0.8"/><circle cx="483.5" cy="537.39" r="5.21" fill="none" stroke="#f0f0f0" stroke-width="2.5" opacity="0.8"/><circle cx="440" cy="412.73" r="5.75" fill="none" stroke="#f0f0f0" stroke-width="2.5" opacity="0.8"/><circle cx="657.74" cy="498.07" r="7" fill="none" stroke="#f0f0f0" stroke-width="2.5" opacity="0.8"/><circle cx="516.97" cy="460.79" r="7.72" fill="none" stroke="#f0f0f0" stroke-width="2.5" opacity="0.8"/><circle cx="673.02" cy="423.6" r="7.94" fill="none" stroke="#f0f0f0" stroke-width="2.5" opacity="0.8"/><circle cx="602.4" cy="516.64" r="4.07" fill="none" stroke="#f0f0f0" stroke-width="2.5" opacity="0.8"/><circle cx="616.86" cy="460.3" r="7.11" fill="none" stroke="#f0f0f0" stroke-width="2.5" opacity="0.8"/><circle cx="438.71" cy="494.24" r="6.34" fill="none" stroke="#f0f0f0" stroke-width="2.5" opacity="0.8"/><circle cx="520.05" cy="408.93" r="6.84" fill="none" stroke="#f0f0f0" stroke-width="2.5" opacity="0.8"/><circle cx="591.35" cy="498.34" r="4.85" fill="none" stroke="#f0f0f0" stroke-width="2.5" opacity="0.8"/><circle cx="562.38" cy="467.25" r="6.45" fill="none" stroke="#f0f0f0" stroke-width="2.5" opacity="0.8"/><circle cx="622.3" cy="426.62" r="6.77" fill="none" stroke="#f0f0f0" stroke-width="2.5" opacity="0.8"/><circle cx="464.62" cy="507.75" r="7.93" fill="none" stroke="#f0f0f0" stroke-width="2.5" opacity="0.8"/><circle cx="646.78" cy="528.37" r="5.25" fill="none" stroke="#f0f0f0" stroke-width="2.5" opacity="0.8"/><circle cx="436.15" cy="483.14" r="4.99" fill="none" stroke="#f0f0f0" stroke-width="2.5" opacity="0.8"/><circle cx="499.1" cy="457.25" r="4.58" fill="none" stroke="#f0f0f0" stroke-width="2.5" opacity="0.8"/><circle cx="499.66" cy="501.89" r="5.99" fill="none" stroke="#f0f0f0" stroke-width="2.5" opacity="0.8"/><circle cx="667.5" cy="422.91" r="7.78" fill="none" stroke="#f0f0f0" stroke-width="2.5" opacity="0.8"/><circle cx="578.38" cy="429.9" r="8.71" fill="none" stroke="#f0f0f0" stroke-width="2.5" opacity="0.8"/><circle cx="477.49" cy="433.22" r="8.15" fill="none" stroke="#f0f0f0" stroke-width="2.5" opacity="0.8"/><circle cx="590.62" cy="536.24" r="4.01" fill="none" stroke="#f0f0f0" stroke-width="2.5" opacity="0.8"/><circle cx="495.61" cy="501" r="5.23" fill="none" stroke="#f0f0f0" stroke-width="2.5" opacity="0.8"/><circle cx="662.5" cy="470.22" r="4.31" fill="none" stroke="#f0f0f0" stroke-width="2.5" opacity="0.8"/><circle cx="580.55" cy="427.65" r="5.79" fill="none" stroke="#f0f0f0" stroke-width="2.5" opacity="0.8"/><circle cx="446.4" cy="400.09" r="4.33" fill="none" stroke="#f0f0f0" stroke-width="2.5" opacity="0.8"/><circle cx="499.88" cy="410.47" r="6.5" fill="none" stroke="#f0f0f0" stroke-width="2.5" opacity="0.8"/><circle cx="616.43" cy="513.14" r="5.37" fill="none" stroke="#f0f0f0" stroke-width="2.5" opacity="0.8"/><circle cx="550.3" cy="469.38" r="5.79" fill="none" stroke="#f0f0f0" stroke-width="2.5" opacity="0.8"/><circle cx="591.62" cy="412.98" r="6.62" fill="none" stroke="#f0f0f0" stroke-width="2.5" opacity="0.8"/><circle cx="664.16" cy="514.24" r="5.59" fill="none" stroke="#f0f0f0" stroke-width="2.5" opacity="0.8"/><circle cx="432.2" cy="516.26" r="7.37" fill="none" stroke="#f0f0f0" stroke-width="2.5" opacity="0.8"/><circle cx="462.05" cy="448.26" r="5.05" fill="none" stroke="#f0f0f0" stroke-width="2.5" opacity="0.8"/><circle cx="666.59" cy="442.2" r="7.46" fill="none" stroke="#f0f0f0" stroke-width="2.5" opacity="0.8"/><circle cx="525.35" cy="447.04" r="6.53" fill="none" stroke="#f0f0f0" stroke-width="2.5" opacity="0.8"/><circle cx="659.13" cy="496.83" r="8.76" fill="none" stroke="#f0f0f0" stroke-width="2.5" opacity="0.8"/><circle cx="475.18" cy="497.5" r="4.41" fill="none" stroke="#f0f0f0" stroke-width="2.5" opacity="0.8"/><circle cx="697.35" cy="451.75" r="7.23" fill="none" stroke="#f0f0f0" stroke-width="2.5" opacity="0.8"/><circle cx="439.11" cy="508.56" r="5.05" fill="none" stroke="#f0f0f0" stroke-width="2.5" opacity="0.8"/><circle cx="500.16" cy="520.84" r="7.83" fill="none" stroke="#f0f0f0" stroke-width="2.5" opacity="0.8"/><circle cx="632.65" cy="417.34" r="4.64" fill="none" stroke="#f0f0f0" stroke-width="2.5" opacity="0.8"/><circle cx="480.07" cy="458.07" r="4.61" fill="none" stroke="#f0f0f0" stroke-width="2.5" opacity="0.8"/><circle cx="559.48" cy="527.32" r="7.25" fill="none" stroke="#f0f0f0" stroke-width="2.5" opacity="0.8"/><circle cx="712.16" cy="529.83" r="8.93" fill="none" stroke="#f0f0f0" stroke-width="2.5" opacity="0.8"/><circle cx="565.11" cy="529.33" r="7.29" fill="none" stroke="#f0f0f0" stroke-width="2.5" opacity="0.8"/><circle cx="669.6" cy="506.62" r="4.75" fill="none" stroke="#f0f0f0" stroke-width="2.5" opacity="0.8"/><circle cx="656.77" cy="534.55" r="7.11" fill="none" stroke="#f0f0f0" stroke-width="2.5" opacity="0.8"/><circle cx="460.9" cy="494.72" r="7.39" fill="none" stroke="#f0f0f0" stroke-width="2.5" opacity="0.8"/><circle cx="464.12" cy="435.99" r="5.66" fill="none" stroke="#f0f0f0" stroke-width="2.5" opacity="0.8"/><circle cx="693.22" cy="539.82" r="8.41" fill="none" stroke="#f0f0f0" stroke-width="2.5" opacity="0.8"/><circle cx="668.56" cy="517.05" r="4.25" fill="none" stroke="#f0f0f0" stroke-width="2.5" opacity="0.8"/><circle cx="436.74" cy="404.28" r="7.33" fill="none" stroke="#f0f0f0" stroke-width="2.5" opacity="0.8"/><circle cx="515.46" cy="421.72" r="4.41" fill="none" stroke="#f0f0f0" stroke-width="2.5" opacity="0.8"/><circle cx="597.89" cy="513.7" r="8.27" fill="none" stroke="#f0f0f0" stroke-width="2.5" opacity="0.8"/><circle cx="577.6" cy="498.61" r="6.84" fill="none" stroke="#f0f0f0" stroke-width="2.5" opacity="0.8"/><circle cx="574.72" cy="444.25" r="4.21" fill="none" stroke="#f0f0f0" stroke-width="2.5" opacity="0.8"/><circle cx="559.86" cy="442.32" r="4.12" fill="none" stroke="#f0f0f0" stroke-width="2.5" opacity="0.8"/><circle cx="440.92" cy="439.73" r="6.09" fill="none" stroke="#f0f0f0" stroke-width="2.5" opacity="0.8"/><circle cx="482.34" cy="518.81" r="7.83" fill="none" stroke="#f0f0f0" stroke-width="2.5" opacity="0.8"/><circle cx="515.15" cy="505.33" r="4.78" fill="none" stroke="#f0f0f0" stroke-width="2.5" opacity="0.8"/><circle cx="588.72" cy="449.53" r="4.61" fill="none" stroke="#f0f0f0" stroke-width="2.5" opacity="0.8"/><circle cx="571.6" cy="419.88" r="7.33" fill="none" stroke="#f0f0f0" stroke-width="2.5" opacity="0.8"/><circle cx="711.35" cy="535.91" r="4.03" fill="none" stroke="#f0f0f0" stroke-width="2.5" opacity="0.8"/><circle cx="571.27" cy="539.53" r="7.39" fill="none" stroke="#f0f0f0" stroke-width="2.5" opacity="0.8"/><circle cx="552.29" cy="463.46" r="4.84" fill="none" stroke="#f0f0f0" stroke-width="2.5" opacity="0.8"/><circle cx="675.91" cy="470.31" r="4.63" fill="none" stroke="#f0f0f0" stroke-width="2.5" opacity="0.8"/><circle cx="638.78" cy="532.72" r="7.99" fill="none" stroke="#f0f0f0" stroke-width="2.5" opacity="0.8"/><circle cx="719.55" cy="406.6" r="6.03" fill="none" stroke="#f0f0f0" stroke-width="2.5" opacity="0.8"/><circle cx="563.54" cy="410.02" r="8.37" fill="none" stroke="#f0f0f0" stroke-width="2.5" opacity="0.8"/><circle cx="525.01" cy="408" r="5.49" fill="none" stroke="#f0f0f0" stroke-width="2.5" opacity="0.8"/><circle cx="539.06" cy="458.92" r="4.49" fill="none" stroke="#f0f0f0" stroke-width="2.5" opacity="0.8"/><circle cx="462.23" cy="521.59" r="8.92" fill="none" stroke="#f0f0f0" stroke-width="2.5" opacity="0.8"/><path d="M40,440 L100,420 L120,470 L60,500 Z" fill="none" stroke="#f4f4f4" stroke-width="1.2" vector-effect="non-scaling-stroke"/><circle cx="905" cy="760" r="30" fill="url(#rdot)" opacity="1"/><circle cx="1095" cy="95" r="22" fill="none" stroke="#e8e8e8" stroke-width="6" opacity="0.6"/><rect x="875" y="818" width="290" height="22" fill="#ffffff"/></svg>
<text x="24.5" y="695" font-size="28" font-weight="bold" fill="#1a1a1a" text-anchor="start" >C</text>
<path d="M105.83,1010.5 L107.05,1010.41 L108.26,1006.43 L109.48,1006.5 L110.69,1009.75 L111.91,1009.25 L113.12,1008.9 L114.34,1007.26 L115.56,1008.51 L116.77,1008.46 L117.99,1008.29 L119.2,1006.37 L120.42,1007.51 L121.63,1007.29 L122.85,1008.69 L124.06,1009.82 L125.28,1009.57 L126.49,1007.73 L127.71,1007.23 L128.92,1006.4 L130.14,1005.32 L131.35,1005.23 L132.57,1007.1 L133.78,1006.39 L135,1006.61 L136.21,1008.8 L137.43,1007.14 L138.65,1007.23 L139.86,1005.75 L141.08,1004.76 L142.29,1006.03 L143.51,1005.14 L144.72,1006.73 L145.94,1008.82 L147.15,1007.34 L148.37,1005.11 L149.58,1008.19 L150.83,1005.57 L152.08,1003.11 L153.33,1001.68 L154.58,998.86 L155.83,996.79 L157.08,992.69 L158.33,993.26 L159.58,990.99 L160.83,985.28 L162.08,985.7 L163.33,983.34 L164.58,980.04 L165.83,978.15 L167.08,975.79 L168.28,975.64 L169.48,971.72 L170.69,971.11 L171.89,966.95 L173.09,967.22 L174.29,965.24 L175.49,961.25 L176.69,959.66 L177.89,959.15 L179.09,956.23 L180.29,953.13 L181.49,949.9 L182.7,948.3 L183.9,947.89 L185.1,943.48 L186.3,944.69 L187.5,939.81 L188.71,941.43 L189.93,937.56 L191.15,939.2 L192.36,936.88 L193.58,934.77 L194.79,933.62 L196.01,932.99 L197.22,931.5 L198.44,929.07 L199.65,927.39 L200.87,927.52 L202.08,928.16 L203.3,923.39 L204.51,917.57 L205.73,917.45 L206.94,913.63 L208.16,911.03 L209.37,904.47 L210.59,903.51 L211.8,897.09 L213.02,896.3 L214.24,891.22 L215.45,887.62 L216.67,887.07 L217.96,881.09 L219.26,880.33 L220.55,879.2 L221.85,873.92 L223.15,871.18 L224.44,871.53 L225.74,866.93 L227.04,865.63 L228.33,860.02 L229.63,858.4 L230.92,854.48 L232.22,853.61 L233.52,847.93 L234.81,848.69 L236.11,841.52 L237.41,841.54 L238.7,835.35 L240,833.3 L241.3,834.62 L242.59,830.6 L243.89,829.58 L245.18,830.68 L246.48,828.2 L247.78,825.56 L249.07,828.59 L250.37,823.77 L251.67,822.13 L252.92,822.54 L254.17,822.8 L255.42,822.42 L256.67,818.71 L257.92,818.76 L259.17,816.48 L260.42,817.38 L261.67,817.84 L262.92,816.78 L264.17,816.56 L265.42,814.98 L266.67,814.51 L267.92,812.88 L269.17,810.92 L270.37,809.66 L271.57,811.41 L272.77,809.72 L273.97,808.6 L275.17,809.95 L276.37,811.66 L277.57,808.2 L278.77,810.04 L279.97,809.03 L281.17,809.39 L282.38,807.59 L283.58,811.01 L284.78,807.75 L285.98,809.11 L287.18,808.11 L288.38,806.18 L289.58,808.38 L290.8,806.18 L292.01,805.45 L293.23,804.98 L294.44,805.18 L295.66,804.52 L296.87,806.53 L298.09,805.61 L299.3,807.34 L300.52,806.75 L301.73,806.65 L302.95,802.94 L304.16,803.51 L305.46,800.06 L306.76,798.97 L308.05,796.52 L309.35,794.7 L310.65,791.71 L311.94,787.12 L313.24,785.26 L314.54,783.12 L315.83,778.24 L317.13,778.05 L318.42,779.37 L319.72,777.73 L321.02,780.1 L322.31,777.66 L323.61,776.71 L324.91,776.75 L326.2,776.64 L327.5,776.26 L328.96,779.05 L330.41,780.26 L331.87,781.04 L333.33,783.96 L334.79,792.28 L336.25,805.54 L337.71,816 L339.16,825.17 L340.46,824.52 L341.76,825.51 L343.05,826.47 L344.35,824.78 L345.65,827.05 L346.94,828.17 L348.24,827.3 L349.53,827.56 L350.83,831.33 L352.13,829.25 L353.42,829.76 L354.72,831.37 L356.02,829.84 L357.31,828.26 L358.61,831.15 L359.91,828.3 L361.2,826.59 L362.5,829.36 L363.79,828.73 L365.09,831.58 L366.39,835.87 L367.68,837.08 L368.98,836.13 L370.28,839.99 L371.57,841.76 L372.87,844.03 L374.16,844.76 L375.41,845.81 L376.66,842.92 L377.91,843.22 L379.16,842.98 L380.41,844.83 L381.66,840.43 L382.91,842.79 L384.13,840.56 L385.34,842.47 L386.56,841.92 L387.78,842.48 L388.99,844 L390.21,842.66 L391.42,841.7 L392.64,841.95 L393.85,842.01 L395.07,845.64 L396.28,844.96 L397.5,846.61 L398.71,845.67 L399.93,842.98 L401.14,846.01 L402.36,846.77 L403.57,846.78 L404.79,846.03 L406,845.66 L407.22,846.34 L408.43,848.08 L409.65,846 L410.87,847.37 L412.08,847.4 L413.28,849.16 L414.48,848.15 L415.68,848.37 L416.88,847.61 L418.09,844.89 L419.29,844.26 L420.49,845.05 L421.69,843.7 L422.89,844.09 L424.09,844.86 L425.29,845.57 L426.49,843.76 L427.69,844.44 L428.89,840.92 L430.1,841.72 L431.3,844.2 L432.5,841.67 L432.5,933.95 L431.2,934.85 L429.9,933.83 L428.61,934.44 L427.31,934.21 L426.02,931.64 L424.72,931.11 L423.42,934.08 L422.13,931.44 L420.83,931.02 L419.53,933.42 L418.24,930.67 L416.94,931.48 L415.65,929.39 L414.35,929.4 L413.05,926.8 L411.76,928.08 L410.46,928.37 L409.16,926.34 L407.91,926.69 L406.66,925.89 L405.41,922.94 L404.16,925.2 L402.91,924.01 L401.66,922.33 L400.41,920.73 L399.16,923.54 L397.91,921.45 L396.66,921.92 L395.41,922.03 L394.16,920.86 L392.91,921.16 L391.66,918.54 L390.44,920.08 L389.21,918.58 L387.98,920.47 L386.75,920.17 L385.52,916.96 L384.3,917.04 L383.07,917.29 L381.84,920.2 L380.61,918.01 L379.38,918.7 L378.16,917.32 L376.93,918.06 L375.7,917.5 L374.47,917.29 L373.24,918.15 L372.02,918.07 L370.79,919.27 L369.56,918.3 L368.33,919.21 L367.08,919.03 L365.83,919.67 L364.58,918.5 L363.33,916.57 L362.08,919.46 L360.83,919.98 L359.58,919.85 L358.33,918.61 L357.08,919.29 L355.83,917.38 L354.58,919.97 L353.33,919.04 L352.08,917.99 L350.83,917.21 L349.58,919.64 L348.33,919.46 L347.08,915.12 L345.83,917.24 L344.58,914.95 L343.33,913.19 L342.08,913.03 L340.83,914.2 L339.58,913.89 L338.33,909.84 L337.08,911.39 L335.83,908.39 L334.58,910.35 L333.33,908.07 L332.04,911.89 L330.74,913.91 L329.44,913.63 L328.15,917.22 L326.85,916.09 L325.55,916.78 L324.26,920.49 L322.96,919.84 L321.66,922.12 L320.41,923.59 L319.16,925.02 L317.91,923.83 L316.66,924 L315.41,927.93 L314.16,926.34 L312.91,929.54 L311.66,929.09 L310.41,926.8 L309.16,926.92 L307.91,926.95 L306.66,927.24 L305.41,926.84 L304.16,926.49 L302.95,925.03 L301.73,924.61 L300.52,921.17 L299.3,919.17 L298.09,918.62 L296.87,914.99 L295.66,913.54 L294.44,914.55 L293.23,911.02 L292.01,909.43 L290.8,905.58 L289.58,905.49 L288.33,903.24 L287.08,898.08 L285.83,897.55 L284.58,894.69 L283.33,889.49 L282.08,888.84 L280.83,885.28 L279.54,885.81 L278.24,884.18 L276.94,885.27 L275.65,885.07 L274.35,881.88 L273.05,881.71 L271.76,883.85 L270.46,884.68 L269.17,881.5 L267.87,882.97 L266.57,884.17 L265.28,883.72 L263.98,884.55 L262.68,884.99 L261.39,885.86 L260.09,887.42 L258.79,886.89 L257.5,887.84 L256.28,889.91 L255.07,887.41 L253.85,890.07 L252.64,891.22 L251.42,890 L250.21,890.14 L248.99,892.95 L247.78,891.18 L246.56,891.46 L245.35,892.93 L244.13,894.47 L242.92,892.57 L241.7,894.91 L240.48,896.42 L239.27,899.87 L238.05,899.75 L236.84,902.88 L235.62,901.59 L234.41,903.72 L233.19,906.43 L231.98,908.83 L230.76,908.55 L229.55,909.11 L228.33,910.15 L227.04,913.4 L225.74,913.67 L224.44,917.75 L223.15,919.5 L221.85,918.5 L220.55,920.5 L219.26,924.24 L217.96,925.2 L216.67,927.47 L215.45,927.57 L214.24,928.66 L213.02,931.25 L211.8,935.2 L210.59,935.06 L209.37,937.3 L208.16,939.53 L206.94,941.48 L205.73,943.39 L204.51,947.38 L203.3,946.26 L202.08,947.6 L200.87,953.06 L199.65,954.5 L198.44,956.63 L197.22,956.12 L196.01,959.89 L194.79,961.5 L193.58,960.38 L192.36,964.17 L191.15,966.24 L189.93,967.25 L188.71,968.37 L187.5,969.15 L186.2,970.66 L184.91,971.5 L183.61,972.16 L182.31,975.54 L181.02,975.63 L179.72,979.02 L178.43,977.25 L177.13,981.98 L175.83,982.44 L174.58,984.19 L173.33,984.92 L172.08,985.76 L170.83,985.31 L169.58,983.88 L168.33,987.65 L167.08,986.19 L165.83,989.2 L164.58,993.15 L163.33,995.1 L162.08,997.15 L160.83,1001.75 L159.58,1002.95 L158.33,1004.36 L157.11,1004.12 L155.89,1006.66 L154.67,1005.23 L153.45,1006.56 L152.23,1004.95 L151.01,1004.44 L149.79,1005.9 L148.57,1007.13 L147.34,1004.66 L146.12,1007.25 L144.9,1007.88 L143.68,1007.52 L142.46,1007.7 L141.24,1004.55 L140.02,1007.14 L138.8,1008.18 L137.58,1005.04 L136.36,1006.04 L135.14,1006.13 L133.91,1007.28 L132.69,1006.97 L131.47,1007.28 L130.25,1008.6 L129.03,1005.61 L127.81,1005.93 L126.59,1006.33 L125.37,1006.43 L124.15,1006.31 L122.93,1010.04 L121.71,1009.67 L120.48,1006.71 L119.26,1008.48 L118.04,1007.84 L116.82,1007.95 L115.6,1008.2 L114.38,1009.49 L113.16,1009.36 L111.94,1008.57 L110.72,1007.99 L109.5,1008.65 L108.28,1007.94 L107.05,1009.78 L105.83,1009.66 Z" fill="#9fd6a4" opacity="0.95"/>
<path d="M266.25,1008.58 L267.71,1004.17 L269.17,1001.04 L270.62,996.31 L272.08,992.03 L273.33,991.79 L274.58,992.09 L275.83,990.48 L277.08,989.13 L278.33,986.25 L279.58,985.94 L280.83,983.91 L282.08,982.97 L283.33,982.15 L284.58,981.85 L285.83,983.36 L287.08,982.44 L288.33,981.75 L289.58,981.11 L290.83,978.66 L292.08,978.39 L293.33,978.71 L294.58,978.4 L295.83,978.15 L297.08,977.6 L298.33,974.59 L299.63,974.53 L300.92,973.11 L302.22,970.99 L303.52,968.38 L304.81,967.65 L306.11,964.88 L307.41,965.79 L308.7,963.97 L310,961.39 L311.29,960 L312.59,961.18 L313.89,959.52 L315.18,959.8 L316.48,959.05 L317.78,957.38 L319.07,956.45 L320.37,956.36 L321.66,955.21 L322.96,952.78 L324.26,951.59 L325.55,951.49 L326.85,947.56 L328.15,945.95 L329.44,946.07 L330.74,943.41 L332.04,942.56 L333.33,940.75 L334.63,939.39 L335.92,940.38 L337.22,937 L338.52,936.68 L339.81,935.08 L341.11,935.4 L342.41,933.36 L343.7,932.62 L345,932.82 L346.29,931.22 L347.59,931.61 L348.89,932.32 L350.18,929.59 L351.48,929.15 L352.78,929.32 L354.07,930.61 L355.37,929.84 L356.66,928.38 L357.96,928.33 L359.26,927.55 L360.55,928.07 L361.85,926.5 L363.15,928.14 L364.44,928.41 L365.74,928.26 L367.03,927.28 L368.33,927.63 L369.63,924.97 L370.92,925.94 L372.22,928.13 L373.52,927.72 L374.81,926.79 L376.11,928.55 L377.41,927.74 L378.7,928.5 L380,927.09 L381.23,926.7 L382.45,927.39 L383.68,926.39 L384.91,927.04 L386.14,928.71 L387.37,926.74 L388.59,925.7 L389.82,925.73 L391.05,926.02 L392.28,927.79 L393.51,926.45 L394.73,926.16 L395.96,925.5 L397.19,928.08 L398.42,926.33 L399.65,925.6 L400.87,925.08 L402.1,924.99 L403.33,925.25 L404.58,927.2 L405.83,926.03 L407.08,926.12 L408.33,927.89 L409.58,927.58 L410.83,930.24 L412.08,928.03 L413.33,929.67 L414.58,930.82 L415.83,930.14 L417.08,932.29 L418.33,931.18 L419.58,930.89 L420.83,931.81 L422.13,930.85 L423.42,932.17 L424.72,931.81 L426.02,933.9 L427.31,933.89 L428.61,933.05 L429.9,931.81 L431.2,932.64 L432.5,933.54 L432.5,971.83 L431.25,972.18 L430,972.34 L428.75,972.78 L427.5,972.18 L426.25,972.72 L425,970.04 L423.75,971.35 L422.5,972.79 L421.25,971.9 L420,972.66 L418.75,970.3 L417.5,971.36 L416.25,970.7 L415,971.59 L413.77,971.52 L412.54,969.69 L411.31,970.15 L410.09,970.18 L408.86,971.94 L407.63,971.33 L406.4,969.36 L405.17,971.12 L403.94,968.99 L402.72,970.27 L401.49,968.65 L400.26,968.12 L399.03,970.58 L397.8,968.44 L396.58,968.3 L395.35,970.45 L394.12,969.96 L392.89,968.06 L391.66,969.92 L390.44,968.5 L389.21,968.77 L387.98,967.19 L386.75,969.25 L385.52,968.34 L384.3,969.02 L383.07,968.65 L381.84,966.71 L380.61,966.74 L379.38,966 L378.16,965.79 L376.93,965.39 L375.7,965.95 L374.47,966.7 L373.24,964.75 L372.02,966.62 L370.79,965.44 L369.56,965.21 L368.33,966.58 L367.03,965.4 L365.74,964.75 L364.44,965.08 L363.15,965.59 L361.85,963.48 L360.55,966.08 L359.26,963.06 L357.96,965.08 L356.66,965.2 L355.37,963.69 L354.07,966.97 L352.78,966.68 L351.48,968.29 L350.18,967.55 L348.89,968.64 L347.59,970.01 L346.29,973.31 L345,972 L343.54,975.87 L342.08,978.58 L340.62,980.8 L339.16,981.2 L337.71,987.06 L336.25,993.41 L334.79,999.99 L333.33,1003.82 L332.04,1005.91 L330.74,1006.21 L329.44,1006.56 L328.15,1004.26 L326.85,1007.15 L325.55,1004.74 L324.26,1005.65 L322.96,1006.63 L321.66,1007.71 L320.37,1006.14 L319.07,1008.05 L317.78,1007.08 L316.48,1006.54 L315.18,1006.72 L313.89,1006.46 L312.59,1006.33 L311.29,1006.7 L310,1008.48 L308.7,1009.47 L307.41,1007.03 L306.11,1006.75 L304.81,1009.63 L303.52,1008.34 L302.22,1008.02 L300.92,1007.58 L299.63,1008.71 L298.33,1009.48 L297.1,1008.41 L295.88,1008.36 L294.65,1007.3 L293.42,1009.93 L292.19,1007.33 L290.96,1008.75 L289.74,1009.84 L288.51,1007.76 L287.28,1009.61 L286.05,1010.31 L284.82,1009.4 L283.59,1009.91 L282.37,1007.92 L281.14,1008.95 L279.91,1008.14 L278.68,1010.27 L277.45,1008.67 L276.23,1009.19 L275,1009.37 Z" fill="#dba5a8" opacity="0.95"/>
<path d="M275,1009.66 L304.16,1006.75 L333.33,1005.58 L377.08,1005.58 L406.25,1006.75 L432.5,1008.5 L432.5,1011.41 L275,1011.41 Z" fill="#a8dcae"/>
<path d="M263.33,1007.91 L289.58,1005 L310,1001.5 L333.33,999.75 L356.66,999.16 L380,998 L403.33,996.25 L432.5,995.08 L432.5,999.75 L403.33,1001.5 L380,1002.66 L356.66,1003.83 L333.33,1004.41 L310,1005.58 L289.58,1007.91 L263.33,1009.66 Z" fill="#e8c4c6"/>
<path d="M105.83,1009.64 L108.43,1009.5 L111.02,1009.04 L113.61,1008.67 L116.2,1008.28 L118.8,1008.71 L121.39,1008.37 L123.98,1008.47 L126.57,1007.96 L129.17,1008.16 L131.72,1007.42 L134.27,1007.6 L136.82,1007.25 L139.37,1006.67 L141.93,1006.49 L144.48,1006.33 L147.03,1005.6 L149.58,1005.63 L152.5,1003.72 L155.42,1001.09 L158.33,999.44 L161.25,993.5 L164.17,987.81 L167.08,981.52 L170,978.87 L172.92,977.07 L175.83,974.65 L178.75,971.04 L181.67,967.45 L184.58,964.26 L187.5,961.37 L190.42,957.41 L193.33,954.36 L196.25,950.39 L199.17,946.4 L202.08,941.7 L205,936.33 L207.92,931.74 L210.83,926.62 L213.75,919.46 L216.67,912.77 L219.58,906.01 L223.23,898.09 L226.87,890.22 L230.08,892.87 L235.04,875.67 L238.39,867.57 L241.75,858.99 L244.67,869.16 L246.71,863.75 L249.62,863.3 L252.54,861.81 L257.5,857.07 L260.71,851.73 L264.21,850.54 L268.29,844.6 L272.37,848.36 L274.71,857.09 L276.75,848.11 L279.96,844.62 L284.33,846.8 L285.79,856.98 L288.42,851.83 L291.77,856.54 L295.12,862.22 L298.04,872.95 L300.66,865.98 L303.29,858.99 L306.79,862.26 L310,856.73 L312.62,860.58 L317.58,850.57 L320.5,850.45 L323.41,851.51 L326.77,847.72 L330.12,843.32 L327.3,845.7 L324.48,846.88 L321.66,849.39 L324.58,847.85 L327.5,846.19 L330.41,844.93 L333.33,843.08 L336.25,856.55 L339.16,869.64 L342.08,870.85 L345,872.26 L347.91,873.93 L350.83,875.13 L353.75,873.74 L356.66,873.24 L359.58,871.72 L362.5,870.82 L365.41,874.37 L368.33,877.1 L371.25,880.25 L374.16,883.62 L377.08,882.09 L380,879.94 L382.91,877.9 L385.83,878.96 L388.75,880.26 L391.66,880.53 L394.58,881.54 L397.5,882.84 L400.41,884.06 L403.33,885.21 L406.25,886.85 L409.16,888.31 L412.08,889.1 L415,890.41 L417.91,891.44 L420.83,892.98 L423.75,891.45 L426.66,890.66 L429.58,889.85 L432.5,888.33" fill="none" stroke="#277c42" stroke-width="2.6" stroke-linejoin="round"/>
<path d="M266.25,1009.13 L269.17,1001.59 L271.5,1001.42 L273.83,999.73 L276.17,999.51 L278.5,998.39 L280.83,997.09 L283.02,997.17 L285.21,995.97 L287.39,995.97 L289.58,994.92 L291.77,994.4 L293.96,994.32 L296.14,994.34 L298.33,992.8 L300.66,992.36 L303,992.34 L305.33,992.21 L307.66,991.11 L310,990.27 L312.33,989.33 L314.66,986.28 L317,985.67 L319.33,983.12 L321.66,981.17 L324,979.38 L326.33,977.9 L328.66,976.86 L331,974.22 L333.33,973.03 L335.52,970.92 L337.71,968.36 L339.89,966.42 L342.08,963.55 L344.27,960.63 L346.46,957.92 L348.64,955.67 L350.83,952.4 L353.02,950.42 L355.21,948.97 L357.39,946.96 L359.58,944.93 L361.77,945.25 L363.96,944.76 L366.14,943.75 L368.33,943.85 L371.25,947.43 L374.16,951.57 L376.5,950.78 L378.83,949.58 L381.16,949.96 L383.5,948.17 L385.83,948.01 L388.16,948.48 L390.5,947.64 L392.83,948.11 L395.16,947.48 L397.5,948.36 L399.83,949.08 L402.16,949.39 L404.5,950.4 L406.83,950.2 L409.16,951.31 L411.5,951.46 L413.83,951.74 L416.16,951.85 L418.5,952.68 L420.83,953.12 L423.16,952.17 L425.5,952.14 L427.83,951.01 L430.16,951.61 L432.5,951.04" fill="none" stroke="#7a1c22" stroke-width="2.6" stroke-linejoin="round"/>
<path d="M105.83,1009.37 L263.33,1008.5 L289.58,1006.46 L310,1003.54 L333.33,1002.08 L356.66,1001.5 L380,1000.62 L403.33,999.16 L432.5,997.71" fill="none" stroke="#7a1c22" stroke-width="2.6" stroke-dasharray="6,5"/>
<path d="M105.83,1009.66 L263.33,1009.66 L304.16,1008.21 L333.33,1007.62 L377.08,1007.62 L406.25,1008.79 L432.5,1010.25" fill="none" stroke="#277c42" stroke-width="2.6" stroke-dasharray="6,5" stroke-dashoffset="3"/>
<path d="M105.85,724.2 V1022.5 M105.85,1010.7 H441.5" stroke="#1a1a1a" stroke-width="2.3" fill="none"/>
<text x="90.5" y="1018" font-size="21" font-weight="normal" fill="#1a1a1a" text-anchor="end" >0</text>
<text x="90.5" y="922.9" font-size="21" font-weight="normal" fill="#1a1a1a" text-anchor="end" >20</text>
<text x="90.5" y="827.8" font-size="21" font-weight="normal" fill="#1a1a1a" text-anchor="end" >40</text>
<text x="90.5" y="732.7" font-size="21" font-weight="normal" fill="#1a1a1a" text-anchor="end" >60</text>
<text x="105.85" y="1047.2" font-size="21" font-weight="normal" fill="#1a1a1a" text-anchor="middle" >0</text>
<text x="183.65" y="1047.2" font-size="21" font-weight="normal" fill="#1a1a1a" text-anchor="middle" >10</text>
<text x="261.45" y="1047.2" font-size="21" font-weight="normal" fill="#1a1a1a" text-anchor="middle" >20</text>
<text x="339.25" y="1047.2" font-size="21" font-weight="normal" fill="#1a1a1a" text-anchor="middle" >30</text>
<text x="417.05" y="1047.2" font-size="21" font-weight="normal" fill="#1a1a1a" text-anchor="middle" >40</text>
<path d="M93.8,1010.7 H105.85 M93.8,915.6 H105.85 M93.8,820.5 H105.85 M93.8,725.4 H105.85 M105.85,1010.7 V1022.5 M183.65,1010.7 V1022.5 M261.45,1010.7 V1022.5 M339.25,1010.7 V1022.5 M417.05,1010.7 V1022.5 " stroke="#1a1a1a" stroke-width="2.3" fill="none"/>
<text x="146" y="1072.8" font-size="23" fill="#1a1a1a" textLength="254.5" lengthAdjust="spacingAndGlyphs">Time post-infection (h)</text>
<text transform="translate(58.6,867.4) rotate(-90)" font-size="23.5" fill="#1a1a1a" text-anchor="middle" textLength="221.5" lengthAdjust="spacingAndGlyphs">% Area GFP+ or PI+</text>
<text x="91.5" y="1128" font-size="18.7" font-weight="bold" fill="#1a1a1a" text-anchor="start" >NI</text>
<path d="M116.75,1102.8 V1142.5 M113.3,1102.8 H120.2 M113.3,1142.5 H120.2" stroke="#333" stroke-width="1.4"/>
<path d="M125.5,1104.6 H157" stroke="#2e8050" stroke-width="3" stroke-dasharray="6,7.5"/>
<path d="M125.5,1141.3 H157" stroke="#7a1c22" stroke-width="3" stroke-dasharray="6,7.5"/>
<text x="163.4" y="1111.6" font-size="18" font-weight="bold" fill="#2e8050" text-anchor="start" >GFP</text>
<text x="163.4" y="1147.8" font-size="18" font-weight="bold" fill="#7a1c22" text-anchor="start" >PI</text>
<text x="224.6" y="1126.7" font-size="19.2" font-weight="bold" fill="#1a1a1a" text-anchor="start" >SARS-CoV-2</text>
<path d="M345.6,1103.2 V1143.2 M342.2,1103.2 H349 M342.2,1143.2 H349" stroke="#333" stroke-width="1.4"/>
<path d="M355.7,1103.8 H386.8" stroke="#2e8050" stroke-width="2.6"/>
<path d="M355.7,1141.3 H386.8" stroke="#7a1c22" stroke-width="2.6"/>
<text x="393.3" y="1111.6" font-size="18" font-weight="bold" fill="#2e8050" text-anchor="start" >GFP</text>
<text x="393.3" y="1147.8" font-size="18" font-weight="bold" fill="#7a1c22" text-anchor="start" >PI</text>
<defs>
<radialGradient id="nucW" cx="0.45" cy="0.45" r="0.6"><stop offset="0" stop-color="#e0e8fc"/><stop offset="0.65" stop-color="#b4c6f0"/><stop offset="1" stop-color="#6f8fdc"/></radialGradient>
<radialGradient id="nucL" cx="0.45" cy="0.45" r="0.6"><stop offset="0" stop-color="#b0c4f0"/><stop offset="0.7" stop-color="#86a2e4"/><stop offset="1" stop-color="#5576d0"/></radialGradient>
<radialGradient id="nucN" cx="0.45" cy="0.45" r="0.6"><stop offset="0" stop-color="#5a80e0"/><stop offset="1" stop-color="#3456c0"/></radialGradient>
<radialGradient id="nucT" cx="0.45" cy="0.45" r="0.6"><stop offset="0" stop-color="#70c8c8"/><stop offset="1" stop-color="#3a8aa8"/></radialGradient>
<radialGradient id="dGreenNI" cx="0.7" cy="0.72" r="0.5"><stop offset="0" stop-color="#1f4424" stop-opacity="0.45"/><stop offset="1" stop-color="#1f4424" stop-opacity="0"/></radialGradient>
<radialGradient id="dG2" cx="0.5" cy="0.4" r="0.65"><stop offset="0" stop-color="#7ccc5c"/><stop offset="0.4" stop-color="#48a23e"/><stop offset="1" stop-color="#25642a"/></radialGradient>
<radialGradient id="dGlow"><stop offset="0" stop-color="#e8f4a0" stop-opacity="0.85"/><stop offset="0.5" stop-color="#b8e070" stop-opacity="0.45"/><stop offset="1" stop-color="#80c050" stop-opacity="0"/></radialGradient>
<radialGradient id="dG1" cx="0.25" cy="0.6" r="0.75"><stop offset="0" stop-color="#5cb84a"/><stop offset="0.6" stop-color="#3a9038"/><stop offset="1" stop-color="#26682a"/></radialGradient>
<radialGradient id="dR2" cx="0.6" cy="0.55" r="0.6"><stop offset="0" stop-color="#9a3236"/><stop offset="0.55" stop-color="#6a2428"/><stop offset="1" stop-color="#361a1e"/></radialGradient>
<radialGradient id="halo"><stop offset="0.5" stop-color="#e05060" stop-opacity="0.85"/><stop offset="0.75" stop-color="#a83040" stop-opacity="0.5"/><stop offset="1" stop-color="#601820" stop-opacity="0"/></radialGradient>
<clipPath id="clipO2"><path d="M440,520 C445,509 485,482 490,470 C495,458 483,409.5 490,400 C497,390.5 543,377.5 560,375 C577,372.5 646,365.5 660,375 C674,384.5 689,458 700,470 C711,482 761,488 770,495 C779,502 782,531.5 790,540 C798,548.5 843,572 850,580 C857,588 855,618 860,620 C865,622 892,609 900,600 C908,591 925,539 940,530 C955,521 1036,511 1050,510 C1064,509 1075,511 1080,520 C1085,529 1095,582 1100,600 C1105,618 1129,680 1130,700 C1131,720 1111,782 1110,800 C1109,818 1116,868 1120,880 C1124,892 1150,906 1150,920 C1150,934 1122,1002 1120,1020 C1118,1038 1127,1083 1130,1100 C1133,1117 1205,1181 1150,1190 C1095,1199 641,1203 580,1190 C519,1177 543,1079 540,1060 C537,1041 560,1024 550,1000 C540,976 442,844 440,820 C438,796 524,777 530,760 C536,743 509,668 500,650 C491,632 446,593 440,580 C434,567 435,531 440,520Z"/></clipPath>
<g id="niNuc"><ellipse cx="95" cy="60" rx="25" ry="22" fill="url(#nucW)" transform="rotate(-2.86 95 60)"/><ellipse cx="285" cy="65" rx="38" ry="45" fill="url(#nucW)" transform="rotate(3.59 285 65)"/><ellipse cx="115" cy="190" rx="40" ry="35" fill="url(#nucW)" transform="rotate(25.45 115 190)"/><ellipse cx="200" cy="160" rx="35" ry="35" fill="url(#nucL)" transform="rotate(-2.06 200 160)"/><ellipse cx="270" cy="255" rx="33" ry="40" fill="url(#nucW)" transform="rotate(0.47 270 255)"/><ellipse cx="120" cy="315" rx="32" ry="48" fill="url(#nucW)" transform="rotate(5.24 120 315)"/><ellipse cx="185" cy="315" rx="32" ry="48" fill="url(#nucW)" transform="rotate(-18.92 185 315)"/><ellipse cx="405" cy="235" rx="38" ry="35" fill="url(#nucW)" transform="rotate(0.71 405 235)"/><ellipse cx="485" cy="65" rx="40" ry="35" fill="url(#nucN)" transform="rotate(7.79 485 65)"/><ellipse cx="490" cy="185" rx="45" ry="35" fill="url(#nucL)" transform="rotate(17.58 490 185)"/><ellipse cx="455" cy="310" rx="42" ry="42" fill="url(#nucW)" transform="rotate(-24.35 455 310)"/><ellipse cx="530" cy="370" rx="32" ry="40" fill="url(#nucW)" transform="rotate(-11.8 530 370)"/><ellipse cx="600" cy="325" rx="35" ry="38" fill="url(#nucL)" transform="rotate(-24.56 600 325)"/><ellipse cx="475" cy="425" rx="42" ry="35" fill="url(#nucW)" transform="rotate(18.58 475 425)"/><ellipse cx="315" cy="400" rx="35" ry="35" fill="url(#nucW)" transform="rotate(11.61 315 400)"/><ellipse cx="80" cy="430" rx="42" ry="38" fill="url(#nucW)" transform="rotate(-27.49 80 430)"/><ellipse cx="100" cy="505" rx="42" ry="33" fill="url(#nucW)" transform="rotate(28.93 100 505)"/><ellipse cx="205" cy="475" rx="45" ry="30" fill="url(#nucW)" transform="rotate(27.89 205 475)"/><ellipse cx="265" cy="578" rx="45" ry="40" fill="url(#nucW)" transform="rotate(9.24 265 578)"/><ellipse cx="355" cy="600" rx="35" ry="30" fill="url(#nucW)" transform="rotate(6.93 355 600)"/><ellipse cx="395" cy="660" rx="50" ry="30" fill="url(#nucL)" transform="rotate(-20.55 395 660)"/><ellipse cx="105" cy="665" rx="45" ry="35" fill="url(#nucL)" transform="rotate(-29.1 105 665)"/><ellipse cx="170" cy="715" rx="38" ry="25" fill="url(#nucL)" transform="rotate(1.7 170 715)"/><ellipse cx="155" cy="775" rx="55" ry="35" fill="url(#nucN)" transform="rotate(-26.43 155 775)"/><ellipse cx="300" cy="775" rx="45" ry="35" fill="url(#nucN)" transform="rotate(-18.59 300 775)"/><ellipse cx="525" cy="545" rx="40" ry="33" fill="url(#nucL)" transform="rotate(-15.48 525 545)"/><ellipse cx="520" cy="635" rx="38" ry="35" fill="url(#nucN)" transform="rotate(-28.2 520 635)"/><ellipse cx="655" cy="615" rx="38" ry="35" fill="url(#nucW)" transform="rotate(-2.16 655 615)"/><ellipse cx="670" cy="435" rx="45" ry="33" fill="url(#nucW)" transform="rotate(-3.57 670 435)"/><ellipse cx="680" cy="540" rx="40" ry="30" fill="url(#nucN)" transform="rotate(20.55 680 540)"/><ellipse cx="530" cy="750" rx="55" ry="33" fill="url(#nucL)" transform="rotate(1.15 530 750)"/><ellipse cx="470" cy="845" rx="50" ry="38" fill="url(#nucN)" transform="rotate(8.42 470 845)"/><ellipse cx="350" cy="875" rx="40" ry="50" fill="url(#nucN)" transform="rotate(-0.01 350 875)"/><ellipse cx="210" cy="915" rx="33" ry="45" fill="url(#nucN)" transform="rotate(9.75 210 915)"/><ellipse cx="220" cy="985" rx="40" ry="35" fill="url(#nucN)" transform="rotate(-2.56 220 985)"/><ellipse cx="75" cy="895" rx="40" ry="55" fill="url(#nucN)" transform="rotate(-13.31 75 895)"/><ellipse cx="20" cy="870" rx="25" ry="55" fill="url(#nucN)" transform="rotate(29.86 20 870)"/><ellipse cx="615" cy="865" rx="35" ry="38" fill="url(#nucN)" transform="rotate(29.74 615 865)"/><ellipse cx="710" cy="890" rx="45" ry="35" fill="url(#nucN)" transform="rotate(20.41 710 890)"/><ellipse cx="680" cy="970" rx="50" ry="35" fill="url(#nucN)" transform="rotate(12.47 680 970)"/><ellipse cx="760" cy="950" rx="30" ry="30" fill="url(#nucN)" transform="rotate(-11.08 760 950)"/><ellipse cx="845" cy="940" rx="30" ry="35" fill="url(#nucN)" transform="rotate(-16.22 845 940)"/><ellipse cx="935" cy="960" rx="38" ry="38" fill="#33489e" transform="rotate(-12.66 935 960)"/><ellipse cx="470" cy="1020" rx="35" ry="30" fill="url(#nucN)" transform="rotate(-25.79 470 1020)"/><ellipse cx="535" cy="1000" rx="25" ry="45" fill="url(#nucN)" transform="rotate(15.98 535 1000)"/><ellipse cx="365" cy="1050" rx="35" ry="48" fill="url(#nucN)" transform="rotate(-5.98 365 1050)"/><ellipse cx="560" cy="1080" rx="30" ry="35" fill="url(#nucN)" transform="rotate(20.8 560 1080)"/><ellipse cx="670" cy="1100" rx="40" ry="40" fill="url(#nucN)" transform="rotate(-6.81 670 1100)"/><ellipse cx="760" cy="1040" rx="35" ry="40" fill="url(#nucN)" transform="rotate(27.48 760 1040)"/><ellipse cx="860" cy="1100" rx="35" ry="40" fill="#33489e" transform="rotate(20.84 860 1100)"/><ellipse cx="60" cy="1085" rx="35" ry="40" fill="#33489e" transform="rotate(-29.97 60 1085)"/><ellipse cx="210" cy="1140" rx="40" ry="35" fill="#33489e" transform="rotate(-17.42 210 1140)"/><ellipse cx="480" cy="1140" rx="40" ry="40" fill="#33489e" transform="rotate(24.62 480 1140)"/><ellipse cx="1000" cy="1030" rx="35" ry="45" fill="#33489e" transform="rotate(-1.8 1000 1030)"/><ellipse cx="630" cy="165" rx="40" ry="40" fill="url(#nucN)" transform="rotate(28.82 630 165)"/><ellipse cx="675" cy="100" rx="30" ry="35" fill="url(#nucL)" transform="rotate(-6.15 675 100)"/><ellipse cx="610" cy="50" rx="32" ry="28" fill="url(#nucL)" transform="rotate(-25.62 610 50)"/><ellipse cx="675" cy="280" rx="35" ry="40" fill="url(#nucN)" transform="rotate(7.77 675 280)"/><ellipse cx="760" cy="280" rx="35" ry="40" fill="url(#nucN)" transform="rotate(16.71 760 280)"/><ellipse cx="780" cy="195" rx="50" ry="40" fill="url(#nucN)" transform="rotate(-13.81 780 195)"/><ellipse cx="875" cy="195" rx="40" ry="33" fill="url(#nucN)" transform="rotate(-24.77 875 195)"/><ellipse cx="960" cy="185" rx="33" ry="48" fill="url(#nucN)" transform="rotate(-10.04 960 185)"/><ellipse cx="905" cy="85" rx="35" ry="38" fill="url(#nucN)" transform="rotate(27.84 905 85)"/><ellipse cx="1015" cy="90" rx="35" ry="40" fill="url(#nucN)" transform="rotate(15.48 1015 90)"/><ellipse cx="1085" cy="40" rx="30" ry="30" fill="url(#nucN)" transform="rotate(-22.92 1085 40)"/><ellipse cx="840" cy="25" rx="30" ry="30" fill="url(#nucN)" transform="rotate(-15.22 840 25)"/><ellipse cx="875" cy="295" rx="45" ry="40" fill="url(#nucN)" transform="rotate(-23.94 875 295)"/><ellipse cx="1035" cy="300" rx="35" ry="38" fill="url(#nucN)" transform="rotate(-26.41 1035 300)"/><ellipse cx="1140" cy="230" rx="25" ry="40" fill="url(#nucN)" transform="rotate(17.82 1140 230)"/><ellipse cx="825" cy="380" rx="33" ry="40" fill="url(#nucN)" transform="rotate(-19.34 825 380)"/><ellipse cx="930" cy="430" rx="35" ry="35" fill="url(#nucN)" transform="rotate(3.56 930 430)"/><ellipse cx="1000" cy="430" rx="35" ry="35" fill="url(#nucN)" transform="rotate(-3.15 1000 430)"/><ellipse cx="1075" cy="410" rx="35" ry="45" fill="url(#nucN)" transform="rotate(-18.56 1075 410)"/><ellipse cx="795" cy="505" rx="38" ry="38" fill="url(#nucN)" transform="rotate(13.91 795 505)"/><ellipse cx="1075" cy="500" rx="35" ry="30" fill="url(#nucN)" transform="rotate(-22.14 1075 500)"/><ellipse cx="960" cy="520" rx="30" ry="40" fill="#33489e" transform="rotate(8.62 960 520)"/><ellipse cx="1025" cy="600" rx="35" ry="30" fill="#33489e" transform="rotate(-23.01 1025 600)"/><ellipse cx="1105" cy="640" rx="35" ry="40" fill="url(#nucN)" transform="rotate(-4.75 1105 640)"/><ellipse cx="815" cy="625" rx="40" ry="35" fill="url(#nucN)" transform="rotate(-17.23 815 625)"/><ellipse cx="755" cy="700" rx="45" ry="35" fill="url(#nucN)" transform="rotate(-13.81 755 700)"/><ellipse cx="795" cy="775" rx="40" ry="45" fill="url(#nucN)" transform="rotate(28.26 795 775)"/><ellipse cx="945" cy="720" rx="45" ry="30" fill="#33489e" transform="rotate(18.2 945 720)"/><ellipse cx="935" cy="790" rx="40" ry="30" fill="#33489e" transform="rotate(-11.75 935 790)"/><ellipse cx="1105" cy="800" rx="35" ry="28" fill="url(#nucN)" transform="rotate(23.09 1105 800)"/><ellipse cx="1145" cy="900" rx="20" ry="35" fill="#33489e" transform="rotate(-17.36 1145 900)"/><ellipse cx="10" cy="60" rx="15" ry="40" fill="url(#nucN)" transform="rotate(-6.34 10 60)"/><ellipse cx="590" cy="10" rx="40" ry="20" fill="url(#nucN)" transform="rotate(21.26 590 10)"/><ellipse cx="1140" cy="400" rx="15" ry="35" fill="url(#nucN)" transform="rotate(8.51 1140 400)"/><ellipse cx="660" cy="1150" rx="30" ry="30" fill="#33489e" transform="rotate(-23.98 660 1150)"/><ellipse cx="740" cy="1150" rx="25" ry="25" fill="#33489e" transform="rotate(29.36 740 1150)"/><ellipse cx="1120" cy="1130" rx="25" ry="30" fill="#33489e" transform="rotate(-17.21 1120 1130)"/></g>
<g id="scNuc"><ellipse cx="110" cy="20" rx="35" ry="20" fill="url(#nucN)" transform="rotate(-1.53 110 20)"/><ellipse cx="173" cy="20" rx="30" ry="20" fill="url(#nucN)" transform="rotate(9.45 173 20)"/><ellipse cx="233" cy="28" rx="35" ry="24" fill="url(#nucN)" transform="rotate(9.98 233 28)"/><ellipse cx="175" cy="100" rx="30" ry="38" fill="url(#nucL)" transform="rotate(-21.44 175 100)"/><ellipse cx="280" cy="130" rx="40" ry="45" fill="url(#nucL)" transform="rotate(-29.35 280 130)"/><ellipse cx="375" cy="130" rx="35" ry="38" fill="url(#nucL)" transform="rotate(-7.51 375 130)"/><ellipse cx="90" cy="150" rx="38" ry="45" fill="url(#nucN)" transform="rotate(-13.56 90 150)"/><ellipse cx="540" cy="85" rx="38" ry="42" fill="url(#nucL)" transform="rotate(18.62 540 85)"/><ellipse cx="635" cy="120" rx="35" ry="35" fill="url(#nucN)" transform="rotate(11.44 635 120)"/><ellipse cx="625" cy="175" rx="38" ry="28" fill="url(#nucN)" transform="rotate(6.09 625 175)"/><ellipse cx="740" cy="90" rx="40" ry="30" fill="url(#nucN)" transform="rotate(3.49 740 90)"/><ellipse cx="735" cy="160" rx="42" ry="40" fill="url(#nucN)" transform="rotate(9.68 735 160)"/><ellipse cx="825" cy="190" rx="30" ry="42" fill="url(#nucN)" transform="rotate(-21.28 825 190)"/><ellipse cx="915" cy="195" rx="30" ry="35" fill="url(#nucN)" transform="rotate(-3.6 915 195)"/><ellipse cx="925" cy="60" rx="35" ry="35" fill="url(#nucN)" transform="rotate(-20.26 925 60)"/><ellipse cx="990" cy="75" rx="30" ry="25" fill="url(#nucN)" transform="rotate(24.36 990 75)"/><ellipse cx="1040" cy="100" rx="30" ry="35" fill="url(#nucN)" transform="rotate(-26.47 1040 100)"/><ellipse cx="1010" cy="150" rx="40" ry="25" fill="url(#nucN)" transform="rotate(19.13 1010 150)"/><ellipse cx="1120" cy="210" rx="30" ry="35" fill="url(#nucN)" transform="rotate(-25.52 1120 210)"/><ellipse cx="1140" cy="80" rx="20" ry="35" fill="url(#nucN)" transform="rotate(11.22 1140 80)"/><ellipse cx="740" cy="20" rx="30" ry="20" fill="url(#nucN)" transform="rotate(-9.78 740 20)"/><ellipse cx="980" cy="15" rx="30" ry="18" fill="url(#nucN)" transform="rotate(-5.72 980 15)"/><ellipse cx="15" cy="274" rx="30" ry="36" fill="url(#nucL)" transform="rotate(20.54 15 274)"/><ellipse cx="585" cy="295" rx="38" ry="40" fill="url(#nucL)" transform="rotate(-28.88 585 295)"/><ellipse cx="400" cy="320" rx="38" ry="45" fill="url(#nucL)" transform="rotate(-26.35 400 320)"/><ellipse cx="490" cy="320" rx="38" ry="45" fill="url(#nucL)" transform="rotate(24.9 490 320)"/><ellipse cx="830" cy="355" rx="55" ry="28" fill="url(#nucN)" transform="rotate(0.54 830 355)"/><ellipse cx="785" cy="410" rx="35" ry="35" fill="url(#nucN)" transform="rotate(-24.54 785 410)"/><ellipse cx="1040" cy="345" rx="40" ry="35" fill="url(#nucN)" transform="rotate(29.23 1040 345)"/><ellipse cx="1000" cy="390" rx="30" ry="35" fill="url(#nucN)" transform="rotate(26.8 1000 390)"/><ellipse cx="1135" cy="350" rx="25" ry="35" fill="url(#nucN)" transform="rotate(-23.25 1135 350)"/><ellipse cx="1140" cy="440" rx="25" ry="30" fill="url(#nucN)" transform="rotate(-4.61 1140 440)"/><ellipse cx="437" cy="457" rx="34" ry="36" fill="url(#nucL)" transform="rotate(-21.9 437 457)"/><ellipse cx="720" cy="460" rx="40" ry="35" fill="url(#nucN)" transform="rotate(-11.25 720 460)"/><ellipse cx="900" cy="470" rx="40" ry="35" fill="url(#nucN)" transform="rotate(7.29 900 470)"/><ellipse cx="1045" cy="460" rx="35" ry="38" fill="url(#nucN)" transform="rotate(-20.19 1045 460)"/><ellipse cx="1110" cy="545" rx="40" ry="30" fill="url(#nucN)" transform="rotate(11.81 1110 545)"/><ellipse cx="235" cy="510" rx="40" ry="38" fill="url(#nucL)" transform="rotate(-26.92 235 510)"/><ellipse cx="235" cy="378" rx="30" ry="30" fill="url(#nucT)" transform="rotate(-19.73 235 378)"/><ellipse cx="25" cy="400" rx="25" ry="35" fill="url(#nucT)" transform="rotate(18.94 25 400)"/><ellipse cx="85" cy="400" rx="30" ry="35" fill="url(#nucT)" transform="rotate(-5.97 85 400)"/><ellipse cx="30" cy="470" rx="30" ry="28" fill="url(#nucT)" transform="rotate(-4.87 30 470)"/><ellipse cx="85" cy="455" rx="30" ry="30" fill="url(#nucT)" transform="rotate(5.76 85 455)"/><ellipse cx="115" cy="530" rx="35" ry="40" fill="url(#nucN)" transform="rotate(-1.39 115 530)"/><ellipse cx="25" cy="540" rx="25" ry="30" fill="url(#nucN)" transform="rotate(-6.93 25 540)"/><ellipse cx="275" cy="610" rx="38" ry="45" fill="url(#nucL)" transform="rotate(-28.17 275 610)"/><ellipse cx="380" cy="605" rx="35" ry="32" fill="url(#nucL)" transform="rotate(13.58 380 605)"/><ellipse cx="20" cy="660" rx="28" ry="30" fill="url(#nucN)" transform="rotate(28.05 20 660)"/><ellipse cx="140" cy="710" rx="40" ry="35" fill="url(#nucL)" transform="rotate(28.58 140 710)"/><ellipse cx="250" cy="710" rx="45" ry="38" fill="url(#nucL)" transform="rotate(9.82 250 710)"/><ellipse cx="445" cy="700" rx="60" ry="50" fill="url(#nucL)" transform="rotate(-8.62 445 700)"/><ellipse cx="510" cy="730" rx="30" ry="30" fill="url(#nucL)" transform="rotate(-8.21 510 730)"/><ellipse cx="140" cy="860" rx="40" ry="45" fill="url(#nucN)" transform="rotate(11.41 140 860)"/><ellipse cx="45" cy="935" rx="30" ry="45" fill="url(#nucN)" transform="rotate(10.43 45 935)"/><ellipse cx="215" cy="950" rx="40" ry="45" fill="url(#nucN)" transform="rotate(-23.17 215 950)"/><ellipse cx="320" cy="975" rx="40" ry="35" fill="url(#nucN)" transform="rotate(-15.9 320 975)"/><ellipse cx="400" cy="890" rx="40" ry="35" fill="url(#nucN)" transform="rotate(-8.2 400 890)"/><ellipse cx="460" cy="1000" rx="40" ry="45" fill="url(#nucN)" transform="rotate(0.68 460 1000)"/><ellipse cx="320" cy="1050" rx="30" ry="35" fill="url(#nucN)" transform="rotate(18.61 320 1050)"/><ellipse cx="240" cy="1110" rx="38" ry="35" fill="url(#nucN)" transform="rotate(0 240 1110)"/><ellipse cx="160" cy="1140" rx="30" ry="35" fill="url(#nucN)" transform="rotate(-28.31 160 1140)"/><ellipse cx="330" cy="1130" rx="35" ry="30" fill="url(#nucN)" transform="rotate(19.35 330 1130)"/><ellipse cx="50" cy="1060" rx="40" ry="35" fill="#33489e" transform="rotate(-4.19 50 1060)"/><ellipse cx="130" cy="1000" rx="20" ry="30" fill="#33489e" transform="rotate(1.14 130 1000)"/><ellipse cx="580" cy="1070" rx="30" ry="35" fill="#33489e" transform="rotate(-16.67 580 1070)"/><ellipse cx="710" cy="550" rx="50" ry="35" fill="url(#nucN)" transform="rotate(-4.37 710 550)"/><ellipse cx="790" cy="580" rx="40" ry="35" fill="url(#nucN)" transform="rotate(-6.71 790 580)"/><ellipse cx="700" cy="650" rx="45" ry="35" fill="url(#nucT)" transform="rotate(16.32 700 650)"/><ellipse cx="730" cy="690" rx="50" ry="35" fill="url(#nucN)" transform="rotate(-23.84 730 690)"/><ellipse cx="820" cy="700" rx="40" ry="35" fill="url(#nucN)" transform="rotate(3 820 700)"/><ellipse cx="765" cy="740" rx="40" ry="30" fill="url(#nucN)" transform="rotate(-19.32 765 740)"/><ellipse cx="870" cy="690" rx="35" ry="40" fill="url(#nucN)" transform="rotate(11.75 870 690)"/><ellipse cx="940" cy="720" rx="30" ry="45" fill="url(#nucN)" transform="rotate(-27.79 940 720)"/><ellipse cx="995" cy="640" rx="25" ry="35" fill="url(#nucN)" transform="rotate(-13.41 995 640)"/><ellipse cx="940" cy="630" rx="30" ry="30" fill="url(#nucN)" transform="rotate(-9.35 940 630)"/><ellipse cx="985" cy="820" rx="45" ry="35" fill="url(#nucN)" transform="rotate(8.22 985 820)"/><ellipse cx="1040" cy="740" rx="30" ry="35" fill="url(#nucN)" transform="rotate(-26.88 1040 740)"/><ellipse cx="1090" cy="720" rx="25" ry="35" fill="url(#nucN)" transform="rotate(-2.44 1090 720)"/><ellipse cx="1050" cy="650" rx="25" ry="30" fill="url(#nucN)" transform="rotate(-17.47 1050 650)"/><ellipse cx="850" cy="960" rx="30" ry="40" fill="#33489e" transform="rotate(-13.09 850 960)"/><ellipse cx="920" cy="975" rx="35" ry="38" fill="#33489e" transform="rotate(-1.42 920 975)"/><ellipse cx="1000" cy="960" rx="35" ry="35" fill="#33489e" transform="rotate(27.52 1000 960)"/><ellipse cx="1070" cy="975" rx="30" ry="30" fill="#33489e" transform="rotate(-1.14 1070 975)"/><ellipse cx="880" cy="565" rx="25" ry="25" fill="url(#nucN)" transform="rotate(27.35 880 565)"/><ellipse cx="960" cy="560" rx="20" ry="25" fill="url(#nucN)" transform="rotate(-19.95 960 560)"/><ellipse cx="1130" cy="800" rx="25" ry="35" fill="url(#nucN)" transform="rotate(25.45 1130 800)"/><ellipse cx="1140" cy="890" rx="25" ry="35" fill="url(#nucN)" transform="rotate(-8.15 1140 890)"/><ellipse cx="620" cy="1120" rx="38" ry="35" fill="url(#nucN)" transform="rotate(-18.65 620 1120)"/><ellipse cx="1120" cy="1000" rx="25" ry="30" fill="#33489e" transform="rotate(14.91 1120 1000)"/><ellipse cx="460" cy="1140" rx="30" ry="30" fill="#33489e" transform="rotate(24.72 460 1140)"/></g>
<g id="scNucS"><ellipse cx="110" cy="20" rx="35" ry="20" fill="url(#nucN)" transform="rotate(-1.53 110 20)"/><ellipse cx="173" cy="20" rx="30" ry="20" fill="url(#nucN)" transform="rotate(9.45 173 20)"/><ellipse cx="233" cy="28" rx="35" ry="24" fill="url(#nucN)" transform="rotate(9.98 233 28)"/><ellipse cx="175" cy="100" rx="30" ry="38" fill="url(#nucL)" transform="rotate(-21.44 175 100)"/><ellipse cx="280" cy="130" rx="40" ry="45" fill="url(#nucL)" transform="rotate(-29.35 280 130)"/><ellipse cx="375" cy="130" rx="35" ry="38" fill="url(#nucL)" transform="rotate(-7.51 375 130)"/><ellipse cx="90" cy="150" rx="38" ry="45" fill="url(#nucN)" transform="rotate(-13.56 90 150)"/><ellipse cx="540" cy="85" rx="38" ry="42" fill="url(#nucL)" transform="rotate(18.62 540 85)"/><ellipse cx="635" cy="120" rx="35" ry="35" fill="url(#nucN)" transform="rotate(11.44 635 120)"/><ellipse cx="625" cy="175" rx="38" ry="28" fill="url(#nucN)" transform="rotate(6.09 625 175)"/><ellipse cx="740" cy="90" rx="40" ry="30" fill="url(#nucN)" transform="rotate(3.49 740 90)"/><ellipse cx="735" cy="160" rx="42" ry="40" fill="url(#nucN)" transform="rotate(9.68 735 160)"/><ellipse cx="825" cy="190" rx="30" ry="42" fill="url(#nucN)" transform="rotate(-21.28 825 190)"/><ellipse cx="915" cy="195" rx="30" ry="35" fill="url(#nucN)" transform="rotate(-3.6 915 195)"/><ellipse cx="925" cy="60" rx="35" ry="35" fill="url(#nucN)" transform="rotate(-20.26 925 60)"/><ellipse cx="990" cy="75" rx="30" ry="25" fill="url(#nucN)" transform="rotate(24.36 990 75)"/><ellipse cx="1040" cy="100" rx="30" ry="35" fill="url(#nucN)" transform="rotate(-26.47 1040 100)"/><ellipse cx="1010" cy="150" rx="40" ry="25" fill="url(#nucN)" transform="rotate(19.13 1010 150)"/><ellipse cx="1120" cy="210" rx="30" ry="35" fill="url(#nucN)" transform="rotate(-25.52 1120 210)"/><ellipse cx="1140" cy="80" rx="20" ry="35" fill="url(#nucN)" transform="rotate(11.22 1140 80)"/><ellipse cx="740" cy="20" rx="30" ry="20" fill="url(#nucN)" transform="rotate(-9.78 740 20)"/><ellipse cx="980" cy="15" rx="30" ry="18" fill="url(#nucN)" transform="rotate(-5.72 980 15)"/><ellipse cx="15" cy="274" rx="30" ry="36" fill="url(#nucL)" transform="rotate(20.54 15 274)"/><ellipse cx="585" cy="295" rx="38" ry="40" fill="url(#nucL)" transform="rotate(-28.88 585 295)"/><ellipse cx="400" cy="320" rx="38" ry="45" fill="url(#nucL)" transform="rotate(-26.35 400 320)"/><ellipse cx="490" cy="320" rx="38" ry="45" fill="url(#nucL)" transform="rotate(24.9 490 320)"/><ellipse cx="830" cy="355" rx="55" ry="28" fill="url(#nucN)" transform="rotate(0.54 830 355)"/><ellipse cx="785" cy="410" rx="35" ry="35" fill="url(#nucN)" transform="rotate(-24.54 785 410)"/><ellipse cx="1040" cy="345" rx="40" ry="35" fill="url(#nucN)" transform="rotate(29.23 1040 345)"/><ellipse cx="1000" cy="390" rx="30" ry="35" fill="url(#nucN)" transform="rotate(26.8 1000 390)"/><ellipse cx="1135" cy="350" rx="25" ry="35" fill="url(#nucN)" transform="rotate(-23.25 1135 350)"/><ellipse cx="1140" cy="440" rx="25" ry="30" fill="url(#nucN)" transform="rotate(-4.61 1140 440)"/><ellipse cx="437" cy="457" rx="34" ry="36" fill="url(#nucL)" transform="rotate(-21.9 437 457)"/><ellipse cx="720" cy="460" rx="40" ry="35" fill="url(#nucN)" transform="rotate(-11.25 720 460)"/><ellipse cx="900" cy="470" rx="40" ry="35" fill="url(#nucN)" transform="rotate(7.29 900 470)"/><ellipse cx="1045" cy="460" rx="35" ry="38" fill="url(#nucN)" transform="rotate(-20.19 1045 460)"/><ellipse cx="1110" cy="545" rx="40" ry="30" fill="url(#nucN)" transform="rotate(11.81 1110 545)"/><ellipse cx="235" cy="510" rx="40" ry="38" fill="url(#nucL)" transform="rotate(-26.92 235 510)"/><ellipse cx="235" cy="378" rx="30" ry="30" fill="url(#nucL)" transform="rotate(-19.73 235 378)"/><ellipse cx="25" cy="400" rx="25" ry="35" fill="url(#nucL)" transform="rotate(18.94 25 400)"/><ellipse cx="85" cy="400" rx="30" ry="35" fill="url(#nucL)" transform="rotate(-5.97 85 400)"/><ellipse cx="30" cy="470" rx="30" ry="28" fill="url(#nucL)" transform="rotate(-4.87 30 470)"/><ellipse cx="85" cy="455" rx="30" ry="30" fill="url(#nucL)" transform="rotate(5.76 85 455)"/><ellipse cx="115" cy="530" rx="35" ry="40" fill="url(#nucN)" transform="rotate(-1.39 115 530)"/><ellipse cx="25" cy="540" rx="25" ry="30" fill="url(#nucN)" transform="rotate(-6.93 25 540)"/><ellipse cx="275" cy="610" rx="38" ry="45" fill="url(#nucL)" transform="rotate(-28.17 275 610)"/><ellipse cx="380" cy="605" rx="35" ry="32" fill="url(#nucL)" transform="rotate(13.58 380 605)"/><ellipse cx="20" cy="660" rx="28" ry="30" fill="url(#nucN)" transform="rotate(28.05 20 660)"/><ellipse cx="140" cy="710" rx="40" ry="35" fill="url(#nucL)" transform="rotate(28.58 140 710)"/><ellipse cx="250" cy="710" rx="45" ry="38" fill="url(#nucL)" transform="rotate(9.82 250 710)"/><ellipse cx="445" cy="700" rx="60" ry="50" fill="url(#nucL)" transform="rotate(-8.62 445 700)"/><ellipse cx="510" cy="730" rx="30" ry="30" fill="url(#nucL)" transform="rotate(-8.21 510 730)"/><ellipse cx="140" cy="860" rx="40" ry="45" fill="url(#nucN)" transform="rotate(11.41 140 860)"/><ellipse cx="45" cy="935" rx="30" ry="45" fill="url(#nucN)" transform="rotate(10.43 45 935)"/><ellipse cx="215" cy="950" rx="40" ry="45" fill="url(#nucN)" transform="rotate(-23.17 215 950)"/><ellipse cx="320" cy="975" rx="40" ry="35" fill="url(#nucN)" transform="rotate(-15.9 320 975)"/><ellipse cx="400" cy="890" rx="40" ry="35" fill="url(#nucN)" transform="rotate(-8.2 400 890)"/><ellipse cx="460" cy="1000" rx="40" ry="45" fill="url(#nucN)" transform="rotate(0.68 460 1000)"/><ellipse cx="320" cy="1050" rx="30" ry="35" fill="url(#nucN)" transform="rotate(18.61 320 1050)"/><ellipse cx="240" cy="1110" rx="38" ry="35" fill="url(#nucN)" transform="rotate(0 240 1110)"/><ellipse cx="160" cy="1140" rx="30" ry="35" fill="url(#nucN)" transform="rotate(-28.31 160 1140)"/><ellipse cx="330" cy="1130" rx="35" ry="30" fill="url(#nucN)" transform="rotate(19.35 330 1130)"/><ellipse cx="50" cy="1060" rx="40" ry="35" fill="#33489e" transform="rotate(-4.19 50 1060)"/><ellipse cx="130" cy="1000" rx="20" ry="30" fill="#33489e" transform="rotate(1.14 130 1000)"/><ellipse cx="580" cy="1070" rx="30" ry="35" fill="#33489e" transform="rotate(-16.67 580 1070)"/><ellipse cx="710" cy="550" rx="50" ry="35" fill="url(#nucN)" transform="rotate(-4.37 710 550)"/><ellipse cx="790" cy="580" rx="40" ry="35" fill="url(#nucN)" transform="rotate(-6.71 790 580)"/><ellipse cx="700" cy="650" rx="45" ry="35" fill="url(#nucL)" transform="rotate(16.32 700 650)"/><ellipse cx="730" cy="690" rx="50" ry="35" fill="url(#nucN)" transform="rotate(-23.84 730 690)"/><ellipse cx="820" cy="700" rx="40" ry="35" fill="url(#nucN)" transform="rotate(3 820 700)"/><ellipse cx="765" cy="740" rx="40" ry="30" fill="url(#nucN)" transform="rotate(-19.32 765 740)"/><ellipse cx="870" cy="690" rx="35" ry="40" fill="url(#nucN)" transform="rotate(11.75 870 690)"/><ellipse cx="940" cy="720" rx="30" ry="45" fill="url(#nucN)" transform="rotate(-27.79 940 720)"/><ellipse cx="995" cy="640" rx="25" ry="35" fill="url(#nucN)" transform="rotate(-13.41 995 640)"/><ellipse cx="940" cy="630" rx="30" ry="30" fill="url(#nucN)" transform="rotate(-9.35 940 630)"/><ellipse cx="985" cy="820" rx="45" ry="35" fill="url(#nucN)" transform="rotate(8.22 985 820)"/><ellipse cx="1040" cy="740" rx="30" ry="35" fill="url(#nucN)" transform="rotate(-26.88 1040 740)"/><ellipse cx="1090" cy="720" rx="25" ry="35" fill="url(#nucN)" transform="rotate(-2.44 1090 720)"/><ellipse cx="1050" cy="650" rx="25" ry="30" fill="url(#nucN)" transform="rotate(-17.47 1050 650)"/><ellipse cx="850" cy="960" rx="30" ry="40" fill="#33489e" transform="rotate(-13.09 850 960)"/><ellipse cx="920" cy="975" rx="35" ry="38" fill="#33489e" transform="rotate(-1.42 920 975)"/><ellipse cx="1000" cy="960" rx="35" ry="35" fill="#33489e" transform="rotate(27.52 1000 960)"/><ellipse cx="1070" cy="975" rx="30" ry="30" fill="#33489e" transform="rotate(-1.14 1070 975)"/><ellipse cx="880" cy="565" rx="25" ry="25" fill="url(#nucN)" transform="rotate(27.35 880 565)"/><ellipse cx="960" cy="560" rx="20" ry="25" fill="url(#nucN)" transform="rotate(-19.95 960 560)"/><ellipse cx="1130" cy="800" rx="25" ry="35" fill="url(#nucN)" transform="rotate(25.45 1130 800)"/><ellipse cx="1140" cy="890" rx="25" ry="35" fill="url(#nucN)" transform="rotate(-8.15 1140 890)"/><ellipse cx="620" cy="1120" rx="38" ry="35" fill="url(#nucN)" transform="rotate(-18.65 620 1120)"/><ellipse cx="1120" cy="1000" rx="25" ry="30" fill="#33489e" transform="rotate(14.91 1120 1000)"/><ellipse cx="460" cy="1140" rx="30" ry="30" fill="#33489e" transform="rotate(24.72 460 1140)"/></g>
<g id="halos"><circle cx="175" cy="105" r="62" fill="url(#halo)"/><circle cx="280" cy="122" r="70" fill="url(#halo)"/><circle cx="400" cy="320" r="68" fill="url(#halo)"/><circle cx="490" cy="320" r="68" fill="url(#halo)"/><circle cx="235" cy="505" r="68" fill="url(#halo)"/><ellipse cx="445" cy="300" rx="150" ry="110" fill="#5a1a22" opacity="0.55"/></g>
</defs>
<text x="475.5" y="695" font-size="27" font-weight="bold" fill="#1a1a1a" text-anchor="start" >D</text>
<text x="564.2" y="705" font-size="21.5" font-weight="bold" fill="#1a1a1a" stroke="#1a1a1a" stroke-width="0.55" textLength="75.8" lengthAdjust="spacingAndGlyphs">Merge</text>
<text x="791.5" y="707" font-size="23.5" font-weight="bold" fill="#1a1a1a" text-anchor="start" stroke="#1a1a1a" stroke-width="0.55">S</text>
<text transform="translate(494.8,831.8) rotate(-90)" font-size="23" font-weight="bold" fill="#1a1a1a" stroke="#1a1a1a" stroke-width="0.55" textLength="15" lengthAdjust="spacingAndGlyphs">N</text>
<path d="M478.4,803.7 H481 V807 H492.2 V803.7 H494.8 V812.8 H492.2 V810 H481 V812.8 H478.4 Z" fill="#1a1a1a"/>
<text transform="translate(497,1026.5) rotate(-90)" font-size="24.5" font-weight="bold" fill="#1a1a1a" stroke="#1a1a1a" stroke-width="0.55" text-anchor="middle" textLength="157" lengthAdjust="spacingAndGlyphs">SARS-CoV-2</text>
<text x="667.3" y="1144.3" font-size="18.5" font-weight="bold" fill="#2a7f48" stroke="#2a7f48" stroke-width="0.5" textLength="94.3" lengthAdjust="spacingAndGlyphs">GFPSplit</text>
<text x="776.5" y="1144.3" font-size="18.5" font-weight="bold" fill="#d93a44" stroke="#d93a44" stroke-width="0.5" textLength="13.2" lengthAdjust="spacingAndGlyphs">S</text>
<text x="806" y="1144.3" font-size="18.5" font-weight="bold" fill="#3a55a8" stroke="#3a55a8" stroke-width="0.5" textLength="90" lengthAdjust="spacingAndGlyphs">Hoechst</text>
<svg x="506" y="719" width="193" height="197" viewBox="0 0 1160 1184" preserveAspectRatio="none"><rect width="1160" height="1184" fill="#191a1a"/><rect width="1160" height="1184" fill="url(#dGreenNI)"/><use href="#niNuc"/></svg>
<svg x="702.5" y="719" width="193" height="197" viewBox="0 0 1160 1184" preserveAspectRatio="none"><rect width="1160" height="1184" fill="#1c1216"/><use href="#niNuc"/></svg>
<svg x="506" y="925" width="193" height="197" viewBox="0 0 1160 1184" preserveAspectRatio="none"><rect width="1160" height="1184" fill="#18161a"/><use href="#halos"/><path d="M-10,320 C1,293.5 80,323 100,315 C120,307 173,250 190,240 C207,230 256,222 270,215 C284,208 317,173 330,170 C343,167 391.5,181 400,185 C408.5,189 421,204 415,210 C409,216 346.5,237 340,245 C333.5,253 344,281.5 350,290 C356,298.5 394,319 400,330 C406,341 416,390 410,400 C404,410 359,425 340,430 C321,435 237,445 220,450 C203,455 180,469 170,480 C160,491 131,549 120,560 C109,571 73,588 60,590 C47,592 -3,607 -10,580 C-17,553 -21,346.5 -10,320Z" fill="url(#dG1)"/><path d="M440,520 C445,509 485,482 490,470 C495,458 483,409.5 490,400 C497,390.5 543,377.5 560,375 C577,372.5 646,365.5 660,375 C674,384.5 689,458 700,470 C711,482 761,488 770,495 C779,502 782,531.5 790,540 C798,548.5 843,572 850,580 C857,588 855,618 860,620 C865,622 892,609 900,600 C908,591 925,539 940,530 C955,521 1036,511 1050,510 C1064,509 1075,511 1080,520 C1085,529 1095,582 1100,600 C1105,618 1129,680 1130,700 C1131,720 1111,782 1110,800 C1109,818 1116,868 1120,880 C1124,892 1150,906 1150,920 C1150,934 1122,1002 1120,1020 C1118,1038 1127,1083 1130,1100 C1133,1117 1205,1181 1150,1190 C1095,1199 641,1203 580,1190 C519,1177 543,1079 540,1060 C537,1041 560,1024 550,1000 C540,976 442,844 440,820 C438,796 524,777 530,760 C536,743 509,668 500,650 C491,632 446,593 440,580 C434,567 435,531 440,520Z" fill="url(#dG2)"/><use href="#scNuc"/><g clip-path="url(#clipO2)"><rect width="1160" height="1184" fill="#3aa03a" opacity="0.22"/><circle cx="780" cy="640" r="230" fill="url(#dGlow)"/></g><ellipse cx="285" cy="345" rx="45" ry="42" fill="#fafcff"/><ellipse cx="805" cy="640" rx="38" ry="30" fill="#f4fff0"/><ellipse cx="860" cy="770" rx="28" ry="26" fill="#e8f8d0"/><circle cx="670" cy="1080" r="45" fill="#14201a" opacity="0.8"/><path d="M-10,320 C1,293.5 80,323 100,315 C120,307 173,250 190,240 C207,230 256,222 270,215 C284,208 317,173 330,170 C343,167 391.5,181 400,185 C408.5,189 421,204 415,210 C409,216 346.5,237 340,245 C333.5,253 344,281.5 350,290 C356,298.5 394,319 400,330 C406,341 416,390 410,400 C404,410 359,425 340,430 C321,435 237,445 220,450 C203,455 180,469 170,480 C160,491 131,549 120,560 C109,571 73,588 60,590 C47,592 -3,607 -10,580 C-17,553 -21,346.5 -10,320Z" fill="none" stroke="#e8e8e8" stroke-width="1.6" vector-effect="non-scaling-stroke"/><path d="M440,520 C445,509 485,482 490,470 C495,458 483,409.5 490,400 C497,390.5 543,377.5 560,375 C577,372.5 646,365.5 660,375 C674,384.5 689,458 700,470 C711,482 761,488 770,495 C779,502 782,531.5 790,540 C798,548.5 843,572 850,580 C857,588 855,618 860,620 C865,622 892,609 900,600 C908,591 925,539 940,530 C955,521 1036,511 1050,510 C1064,509 1075,511 1080,520 C1085,529 1095,582 1100,600 C1105,618 1129,680 1130,700 C1131,720 1111,782 1110,800 C1109,818 1116,868 1120,880 C1124,892 1150,906 1150,920 C1150,934 1122,1002 1120,1020 C1118,1038 1127,1083 1130,1100 C1133,1117 1205,1181 1150,1190 C1095,1199 641,1203 580,1190 C519,1177 543,1079 540,1060 C537,1041 560,1024 550,1000 C540,976 442,844 440,820 C438,796 524,777 530,760 C536,743 509,668 500,650 C491,632 446,593 440,580 C434,567 435,531 440,520Z" fill="none" stroke="#e8e8e8" stroke-width="1.6" vector-effect="non-scaling-stroke"/></svg>
<svg x="702.5" y="925" width="193" height="197" viewBox="0 0 1160 1184" preserveAspectRatio="none"><rect width="1160" height="1184" fill="#1c1216"/><use href="#halos"/><path d="M440,520 C445,509 485,482 490,470 C495,458 483,409.5 490,400 C497,390.5 543,377.5 560,375 C577,372.5 646,365.5 660,375 C674,384.5 689,458 700,470 C711,482 761,488 770,495 C779,502 782,531.5 790,540 C798,548.5 843,572 850,580 C857,588 855,618 860,620 C865,622 892,609 900,600 C908,591 925,539 940,530 C955,521 1036,511 1050,510 C1064,509 1075,511 1080,520 C1085,529 1095,582 1100,600 C1105,618 1129,680 1130,700 C1131,720 1111,782 1110,800 C1109,818 1116,868 1120,880 C1124,892 1150,906 1150,920 C1150,934 1122,1002 1120,1020 C1118,1038 1127,1083 1130,1100 C1133,1117 1205,1181 1150,1190 C1095,1199 641,1203 580,1190 C519,1177 543,1079 540,1060 C537,1041 560,1024 550,1000 C540,976 442,844 440,820 C438,796 524,777 530,760 C536,743 509,668 500,650 C491,632 446,593 440,580 C434,567 435,531 440,520Z" fill="url(#dR2)"/><use href="#scNucS"/><g clip-path="url(#clipO2)"><ellipse cx="710" cy="550" rx="55" ry="40" fill="none" stroke="#e8505a" stroke-width="7" opacity="0.75"/><ellipse cx="790" cy="580" rx="45" ry="40" fill="none" stroke="#e8505a" stroke-width="7" opacity="0.75"/><ellipse cx="700" cy="650" rx="50" ry="40" fill="none" stroke="#e8505a" stroke-width="7" opacity="0.75"/><ellipse cx="730" cy="690" rx="55" ry="40" fill="none" stroke="#e8505a" stroke-width="7" opacity="0.75"/><ellipse cx="820" cy="700" rx="45" ry="40" fill="none" stroke="#e8505a" stroke-width="7" opacity="0.75"/><ellipse cx="765" cy="740" rx="45" ry="35" fill="none" stroke="#e8505a" stroke-width="7" opacity="0.75"/><ellipse cx="870" cy="690" rx="40" ry="45" fill="none" stroke="#e8505a" stroke-width="7" opacity="0.75"/><ellipse cx="940" cy="720" rx="35" ry="50" fill="none" stroke="#e8505a" stroke-width="7" opacity="0.75"/><ellipse cx="995" cy="640" rx="30" ry="40" fill="none" stroke="#e8505a" stroke-width="7" opacity="0.75"/><ellipse cx="940" cy="630" rx="35" ry="35" fill="none" stroke="#e8505a" stroke-width="7" opacity="0.75"/><ellipse cx="985" cy="820" rx="50" ry="40" fill="none" stroke="#e8505a" stroke-width="7" opacity="0.75"/><ellipse cx="1040" cy="740" rx="35" ry="40" fill="none" stroke="#e8505a" stroke-width="7" opacity="0.75"/><ellipse cx="1050" cy="650" rx="30" ry="35" fill="none" stroke="#e8505a" stroke-width="7" opacity="0.75"/><ellipse cx="880" cy="565" rx="30" ry="30" fill="none" stroke="#e8505a" stroke-width="7" opacity="0.75"/><ellipse cx="960" cy="560" rx="25" ry="30" fill="none" stroke="#e8505a" stroke-width="7" opacity="0.75"/><circle cx="686.75" cy="587.78" r="6.18" fill="#d04048" opacity="0.45"/><circle cx="1039.55" cy="672.91" r="6.69" fill="#d04048" opacity="0.45"/><circle cx="983.13" cy="790.43" r="6.77" fill="#d04048" opacity="0.45"/><circle cx="674.25" cy="500.3" r="3.45" fill="#d04048" opacity="0.45"/><circle cx="744.02" cy="781.8" r="5.18" fill="#d04048" opacity="0.45"/><circle cx="821.12" cy="749.08" r="3.87" fill="#d04048" opacity="0.45"/><circle cx="786.66" cy="1088.42" r="6.06" fill="#d04048" opacity="0.45"/><circle cx="964.91" cy="985.86" r="3.56" fill="#d04048" opacity="0.45"/><circle cx="789.94" cy="707.47" r="3.01" fill="#d04048" opacity="0.45"/><circle cx="901.58" cy="685.66" r="3.86" fill="#d04048" opacity="0.45"/><circle cx="1102.19" cy="726.45" r="4.16" fill="#d04048" opacity="0.45"/><circle cx="997.11" cy="715.24" r="5.71" fill="#d04048" opacity="0.45"/><circle cx="926.69" cy="1102.54" r="5.76" fill="#d04048" opacity="0.45"/><circle cx="1109.22" cy="693.76" r="4.2" fill="#d04048" opacity="0.45"/><circle cx="789.63" cy="829.2" r="3.58" fill="#d04048" opacity="0.45"/><circle cx="941" cy="810.55" r="5.41" fill="#d04048" opacity="0.45"/><circle cx="1035.65" cy="764.8" r="4.35" fill="#d04048" opacity="0.45"/><circle cx="751.65" cy="1017.69" r="4.92" fill="#d04048" opacity="0.45"/><circle cx="780.17" cy="917.37" r="5.82" fill="#d04048" opacity="0.45"/><circle cx="1170.88" cy="902.9" r="3.09" fill="#d04048" opacity="0.45"/><circle cx="839.68" cy="470.41" r="3.07" fill="#d04048" opacity="0.45"/><circle cx="869.16" cy="620.76" r="5.31" fill="#d04048" opacity="0.45"/><circle cx="880.15" cy="762.65" r="3.72" fill="#d04048" opacity="0.45"/><circle cx="922.61" cy="732.42" r="6.02" fill="#d04048" opacity="0.45"/><circle cx="1120.45" cy="606.87" r="4.38" fill="#d04048" opacity="0.45"/><circle cx="742.98" cy="904.71" r="6.1" fill="#d04048" opacity="0.45"/><circle cx="1008.08" cy="916.48" r="6.19" fill="#d04048" opacity="0.45"/><circle cx="862.59" cy="728.37" r="6.78" fill="#d04048" opacity="0.45"/><circle cx="939.72" cy="834.22" r="5.44" fill="#d04048" opacity="0.45"/><circle cx="943.15" cy="692.69" r="6.7" fill="#d04048" opacity="0.45"/><circle cx="731.97" cy="723.66" r="4.27" fill="#d04048" opacity="0.45"/><circle cx="863.09" cy="814.36" r="3.6" fill="#d04048" opacity="0.45"/><circle cx="675.99" cy="289.17" r="3.65" fill="#d04048" opacity="0.45"/><circle cx="1204.47" cy="892.43" r="5.13" fill="#d04048" opacity="0.45"/><circle cx="760.55" cy="821.55" r="5.38" fill="#d04048" opacity="0.45"/><circle cx="906.13" cy="613.21" r="4.69" fill="#d04048" opacity="0.45"/><circle cx="1111.85" cy="874.5" r="3.13" fill="#d04048" opacity="0.45"/><circle cx="591.99" cy="771.58" r="3.52" fill="#d04048" opacity="0.45"/><circle cx="803.45" cy="395.52" r="5.52" fill="#d04048" opacity="0.45"/><circle cx="854.6" cy="690.79" r="4.74" fill="#d04048" opacity="0.45"/><circle cx="988.44" cy="993.41" r="4.18" fill="#d04048" opacity="0.45"/><circle cx="365.79" cy="925.87" r="6.41" fill="#d04048" opacity="0.45"/><circle cx="981.3" cy="735.23" r="4.95" fill="#d04048" opacity="0.45"/><circle cx="820.93" cy="590.12" r="4.16" fill="#d04048" opacity="0.45"/><circle cx="779.79" cy="807.99" r="4.51" fill="#d04048" opacity="0.45"/><circle cx="1168.73" cy="732.28" r="5.51" fill="#d04048" opacity="0.45"/><circle cx="721.82" cy="760.58" r="3.36" fill="#d04048" opacity="0.45"/><circle cx="808.3" cy="1019.25" r="6.47" fill="#d04048" opacity="0.45"/><circle cx="693.02" cy="961.55" r="6.1" fill="#d04048" opacity="0.45"/><circle cx="774.5" cy="551.74" r="6.04" fill="#d04048" opacity="0.45"/><circle cx="707.27" cy="937.2" r="4.12" fill="#d04048" opacity="0.45"/><circle cx="618.1" cy="783.09" r="5.76" fill="#d04048" opacity="0.45"/><circle cx="754.67" cy="1108.25" r="5.6" fill="#d04048" opacity="0.45"/><circle cx="822.65" cy="748.89" r="5.19" fill="#d04048" opacity="0.45"/><circle cx="839.16" cy="983.86" r="4.85" fill="#d04048" opacity="0.45"/><circle cx="916.37" cy="562.14" r="6.19" fill="#d04048" opacity="0.45"/><circle cx="732.19" cy="936.1" r="5.95" fill="#d04048" opacity="0.45"/><circle cx="896.93" cy="637.23" r="6.37" fill="#d04048" opacity="0.45"/><circle cx="975.81" cy="592.94" r="6.9" fill="#d04048" opacity="0.45"/><circle cx="991.26" cy="711.09" r="5.12" fill="#d04048" opacity="0.45"/><circle cx="964.39" cy="1006.83" r="6.75" fill="#d04048" opacity="0.45"/><circle cx="642.68" cy="792.78" r="5.88" fill="#d04048" opacity="0.45"/><circle cx="830.17" cy="668.59" r="6.12" fill="#d04048" opacity="0.45"/><circle cx="671.89" cy="652.01" r="4.68" fill="#d04048" opacity="0.45"/><circle cx="680.04" cy="578.34" r="5.55" fill="#d04048" opacity="0.45"/><circle cx="834.31" cy="725.11" r="3.64" fill="#d04048" opacity="0.45"/><circle cx="664.37" cy="838.67" r="3.88" fill="#d04048" opacity="0.45"/><circle cx="768.12" cy="565.14" r="3.17" fill="#d04048" opacity="0.45"/><circle cx="748.37" cy="779.08" r="3.22" fill="#d04048" opacity="0.45"/><circle cx="915.91" cy="857.51" r="3.73" fill="#d04048" opacity="0.45"/><circle cx="852.21" cy="797.89" r="4.86" fill="#d04048" opacity="0.45"/><circle cx="709.4" cy="900.97" r="5.36" fill="#d04048" opacity="0.45"/><circle cx="861.43" cy="1083.2" r="3" fill="#d04048" opacity="0.45"/><circle cx="752.98" cy="827.89" r="4.64" fill="#d04048" opacity="0.45"/><circle cx="1023.92" cy="947.27" r="4.5" fill="#d04048" opacity="0.45"/><circle cx="1014.68" cy="806.47" r="3.38" fill="#d04048" opacity="0.45"/><circle cx="726.37" cy="721.71" r="5.32" fill="#d04048" opacity="0.45"/><circle cx="1071.98" cy="688.22" r="4.68" fill="#d04048" opacity="0.45"/><circle cx="911.87" cy="561.54" r="4.48" fill="#d04048" opacity="0.45"/><circle cx="949.76" cy="917.29" r="5.26" fill="#d04048" opacity="0.45"/><circle cx="1168.83" cy="655.47" r="5.43" fill="#d04048" opacity="0.45"/><circle cx="676.73" cy="1015.5" r="3" fill="#d04048" opacity="0.45"/><circle cx="970.78" cy="881.54" r="5.46" fill="#d04048" opacity="0.45"/><circle cx="956.14" cy="923.45" r="6.57" fill="#d04048" opacity="0.45"/><circle cx="741.76" cy="872.15" r="3.91" fill="#d04048" opacity="0.45"/><circle cx="750.18" cy="1148.45" r="4.52" fill="#d04048" opacity="0.45"/><circle cx="1119.26" cy="679.72" r="5.38" fill="#d04048" opacity="0.45"/><circle cx="817.42" cy="1181.46" r="4.99" fill="#d04048" opacity="0.45"/><circle cx="741.71" cy="826.6" r="6.94" fill="#d04048" opacity="0.45"/><circle cx="733.35" cy="766.38" r="4.91" fill="#d04048" opacity="0.45"/><circle cx="970.65" cy="904.97" r="4.77" fill="#d04048" opacity="0.45"/><circle cx="779.32" cy="1012.16" r="6.31" fill="#d04048" opacity="0.45"/><circle cx="999.78" cy="775.33" r="4.1" fill="#d04048" opacity="0.45"/><circle cx="1048.36" cy="656.42" r="3.98" fill="#d04048" opacity="0.45"/><circle cx="831.64" cy="846.45" r="6.96" fill="#d04048" opacity="0.45"/><circle cx="792.31" cy="957.78" r="4.9" fill="#d04048" opacity="0.45"/><circle cx="731.46" cy="598.8" r="5.97" fill="#d04048" opacity="0.45"/><circle cx="1001.91" cy="931.45" r="4.2" fill="#d04048" opacity="0.45"/><circle cx="724.93" cy="731.63" r="4.19" fill="#d04048" opacity="0.45"/><circle cx="697.29" cy="728.73" r="4.44" fill="#d04048" opacity="0.45"/><circle cx="834.56" cy="559.57" r="3.15" fill="#d04048" opacity="0.45"/><circle cx="837.82" cy="925.4" r="6.67" fill="#d04048" opacity="0.45"/><circle cx="964.45" cy="638.04" r="3.06" fill="#d04048" opacity="0.45"/><circle cx="864.36" cy="604.03" r="5.3" fill="#d04048" opacity="0.45"/><circle cx="792.24" cy="555.12" r="4.93" fill="#d04048" opacity="0.45"/><circle cx="949.05" cy="682.04" r="4.57" fill="#d04048" opacity="0.45"/><circle cx="891.37" cy="680.44" r="4.19" fill="#d04048" opacity="0.45"/><circle cx="863.16" cy="711.41" r="6.35" fill="#d04048" opacity="0.45"/><circle cx="792.79" cy="609.83" r="4.15" fill="#d04048" opacity="0.45"/><circle cx="894.83" cy="436.43" r="3.57" fill="#d04048" opacity="0.45"/><circle cx="677.43" cy="785.6" r="4.99" fill="#d04048" opacity="0.45"/><circle cx="803.54" cy="835.7" r="5.34" fill="#d04048" opacity="0.45"/><circle cx="858.54" cy="707.73" r="3.92" fill="#d04048" opacity="0.45"/><circle cx="937.52" cy="519.28" r="5.65" fill="#d04048" opacity="0.45"/><circle cx="1045.51" cy="798.4" r="6.91" fill="#d04048" opacity="0.45"/><circle cx="1042.07" cy="757.56" r="3.2" fill="#d04048" opacity="0.45"/><circle cx="890" cy="671.64" r="5.58" fill="#d04048" opacity="0.45"/><circle cx="1036.08" cy="690" r="3.54" fill="#d04048" opacity="0.45"/><circle cx="763.29" cy="1083.59" r="3.6" fill="#d04048" opacity="0.45"/><circle cx="736.78" cy="660.7" r="3.64" fill="#d04048" opacity="0.45"/><circle cx="812.12" cy="728.86" r="3.43" fill="#d04048" opacity="0.45"/><circle cx="803.54" cy="799.91" r="3.23" fill="#d04048" opacity="0.45"/><circle cx="649.4" cy="647.5" r="6.51" fill="#d04048" opacity="0.45"/><circle cx="931.83" cy="879.17" r="4.26" fill="#d04048" opacity="0.45"/><circle cx="718.15" cy="657.55" r="6.75" fill="#d04048" opacity="0.45"/><circle cx="809.02" cy="796.11" r="5.79" fill="#d04048" opacity="0.45"/><circle cx="946.91" cy="932.3" r="5.02" fill="#d04048" opacity="0.45"/><circle cx="979.89" cy="658.16" r="5.48" fill="#d04048" opacity="0.45"/><circle cx="826.31" cy="949.34" r="4.02" fill="#d04048" opacity="0.45"/><circle cx="840.57" cy="579.04" r="3.54" fill="#d04048" opacity="0.45"/><circle cx="852.24" cy="903.8" r="5.95" fill="#d04048" opacity="0.45"/><circle cx="928.29" cy="974.11" r="5.62" fill="#d04048" opacity="0.45"/><circle cx="1006.01" cy="873.68" r="3.36" fill="#d04048" opacity="0.45"/><circle cx="963.58" cy="902.22" r="3.95" fill="#d04048" opacity="0.45"/><circle cx="946.46" cy="640.1" r="4.29" fill="#d04048" opacity="0.45"/><circle cx="849.15" cy="724.87" r="5.9" fill="#d04048" opacity="0.45"/><circle cx="910.15" cy="788.37" r="6.81" fill="#d04048" opacity="0.45"/><circle cx="801.26" cy="663.25" r="3.46" fill="#d04048" opacity="0.45"/><circle cx="1029.46" cy="722.13" r="6.28" fill="#d04048" opacity="0.45"/><circle cx="956.24" cy="921.63" r="4.42" fill="#d04048" opacity="0.45"/><circle cx="851" cy="894.46" r="5.46" fill="#d04048" opacity="0.45"/><circle cx="765.43" cy="880.53" r="3.55" fill="#d04048" opacity="0.45"/><circle cx="931.62" cy="570.81" r="6.22" fill="#d04048" opacity="0.45"/><circle cx="607.99" cy="879.07" r="5.07" fill="#d04048" opacity="0.45"/><circle cx="698.27" cy="652.39" r="5.96" fill="#d04048" opacity="0.45"/><circle cx="793.48" cy="801.36" r="3.13" fill="#d04048" opacity="0.45"/><circle cx="850.87" cy="800.67" r="6.56" fill="#d04048" opacity="0.45"/><circle cx="621.83" cy="790.21" r="3" fill="#d04048" opacity="0.45"/><circle cx="571.76" cy="818.67" r="5.48" fill="#d04048" opacity="0.45"/><circle cx="708.86" cy="832.79" r="3.4" fill="#d04048" opacity="0.45"/><circle cx="883.14" cy="832.92" r="4.5" fill="#d04048" opacity="0.45"/><circle cx="638.33" cy="963.45" r="3.61" fill="#d04048" opacity="0.45"/><circle cx="837.32" cy="880.88" r="3.65" fill="#d04048" opacity="0.45"/><circle cx="818.04" cy="866.88" r="4.93" fill="#d04048" opacity="0.45"/><circle cx="1129.54" cy="828.3" r="4.48" fill="#d04048" opacity="0.45"/><circle cx="1023.45" cy="673.01" r="5.7" fill="#d04048" opacity="0.45"/><circle cx="531.43" cy="823.91" r="3.47" fill="#d04048" opacity="0.45"/><circle cx="787.2" cy="651.51" r="5.7" fill="#d04048" opacity="0.45"/><circle cx="829.93" cy="671.21" r="3.8" fill="#d04048" opacity="0.45"/><circle cx="932.95" cy="776.94" r="3.31" fill="#d04048" opacity="0.45"/><circle cx="555.08" cy="995.49" r="4.46" fill="#d04048" opacity="0.45"/><circle cx="784.67" cy="915.97" r="4.13" fill="#d04048" opacity="0.45"/><circle cx="817.11" cy="522.82" r="3.65" fill="#d04048" opacity="0.45"/><circle cx="851.54" cy="983.63" r="6.76" fill="#d04048" opacity="0.45"/><circle cx="756.03" cy="633.67" r="6.9" fill="#d04048" opacity="0.45"/><circle cx="886.04" cy="762.09" r="6.12" fill="#d04048" opacity="0.45"/><circle cx="806.69" cy="784.34" r="5.19" fill="#d04048" opacity="0.45"/><circle cx="996.93" cy="748.16" r="4.4" fill="#d04048" opacity="0.45"/><circle cx="881.54" cy="792.05" r="6.6" fill="#d04048" opacity="0.45"/><circle cx="535.88" cy="779.51" r="3.22" fill="#d04048" opacity="0.45"/><circle cx="841.72" cy="808.23" r="4.59" fill="#d04048" opacity="0.45"/><circle cx="932.8" cy="802.5" r="4.63" fill="#d04048" opacity="0.45"/><circle cx="825.47" cy="805.72" r="3.15" fill="#d04048" opacity="0.45"/><circle cx="920.45" cy="743.27" r="5.03" fill="#d04048" opacity="0.45"/><circle cx="709.14" cy="866.32" r="3.34" fill="#d04048" opacity="0.45"/><circle cx="815.72" cy="826.01" r="5.17" fill="#d04048" opacity="0.45"/><circle cx="994.54" cy="663.86" r="6.43" fill="#d04048" opacity="0.45"/><circle cx="845.4" cy="787.41" r="5.16" fill="#d04048" opacity="0.45"/><circle cx="671.38" cy="776.49" r="4.51" fill="#d04048" opacity="0.45"/><circle cx="692.25" cy="589.31" r="6.65" fill="#d04048" opacity="0.45"/><circle cx="789.73" cy="913.17" r="6.31" fill="#d04048" opacity="0.45"/><circle cx="850.49" cy="833.39" r="4.25" fill="#d04048" opacity="0.45"/><circle cx="1030.61" cy="895.04" r="6.28" fill="#d04048" opacity="0.45"/><circle cx="813.62" cy="833.01" r="3.33" fill="#d04048" opacity="0.45"/><circle cx="841.77" cy="822.93" r="4.71" fill="#d04048" opacity="0.45"/><circle cx="753.64" cy="707.65" r="3.25" fill="#d04048" opacity="0.45"/><circle cx="827.54" cy="715.18" r="3.8" fill="#d04048" opacity="0.45"/><circle cx="811.78" cy="901.42" r="3.39" fill="#d04048" opacity="0.45"/><circle cx="740.91" cy="822.31" r="6.01" fill="#d04048" opacity="0.45"/><circle cx="580.36" cy="649.83" r="5.62" fill="#d04048" opacity="0.45"/><circle cx="850.37" cy="564.21" r="4.77" fill="#d04048" opacity="0.45"/><circle cx="917.34" cy="560.03" r="6.82" fill="#d04048" opacity="0.45"/><circle cx="812.18" cy="529.08" r="4.07" fill="#d04048" opacity="0.45"/><circle cx="888.53" cy="623.8" r="3.52" fill="#d04048" opacity="0.45"/><circle cx="912.5" cy="796.78" r="4.05" fill="#d04048" opacity="0.45"/><circle cx="792.14" cy="650.09" r="3.25" fill="#d04048" opacity="0.45"/><circle cx="854.36" cy="569.25" r="3.11" fill="#d04048" opacity="0.45"/><circle cx="905.2" cy="784.77" r="4.43" fill="#d04048" opacity="0.45"/><circle cx="1042" cy="477.53" r="5.45" fill="#d04048" opacity="0.45"/><circle cx="856.3" cy="917.65" r="4.45" fill="#d04048" opacity="0.45"/><circle cx="830.05" cy="780.78" r="5.34" fill="#d04048" opacity="0.45"/><circle cx="937.33" cy="546.03" r="3.38" fill="#d04048" opacity="0.45"/><circle cx="761.77" cy="742.6" r="5.84" fill="#d04048" opacity="0.45"/><circle cx="550.32" cy="877.46" r="6.18" fill="#d04048" opacity="0.45"/><circle cx="923.64" cy="848.59" r="6.66" fill="#d04048" opacity="0.45"/><circle cx="705.41" cy="798.84" r="4.77" fill="#d04048" opacity="0.45"/><circle cx="873.48" cy="410.12" r="5.13" fill="#d04048" opacity="0.45"/><circle cx="1011.86" cy="721.74" r="3.41" fill="#d04048" opacity="0.45"/><circle cx="893.26" cy="616.15" r="3.21" fill="#d04048" opacity="0.45"/><circle cx="873.29" cy="754.66" r="5.31" fill="#d04048" opacity="0.45"/><circle cx="573.07" cy="794.99" r="4.57" fill="#d04048" opacity="0.45"/><circle cx="862.44" cy="878.02" r="3.8" fill="#d04048" opacity="0.45"/><circle cx="727.11" cy="706.11" r="6" fill="#d04048" opacity="0.45"/><circle cx="846.42" cy="899.47" r="3.99" fill="#d04048" opacity="0.45"/><circle cx="1087.45" cy="728.33" r="6.4" fill="#d04048" opacity="0.45"/><circle cx="743.04" cy="657.36" r="3.57" fill="#d04048" opacity="0.45"/><circle cx="914.08" cy="608.33" r="3.15" fill="#d04048" opacity="0.45"/><circle cx="868.7" cy="819.84" r="5.87" fill="#d04048" opacity="0.45"/><circle cx="910.18" cy="701.3" r="6.19" fill="#d04048" opacity="0.45"/><circle cx="751.59" cy="963.17" r="6.45" fill="#d04048" opacity="0.45"/><circle cx="673.03" cy="571.88" r="4.51" fill="#d04048" opacity="0.45"/><circle cx="995.35" cy="771.37" r="5.35" fill="#d04048" opacity="0.45"/><circle cx="891.45" cy="896.57" r="4.27" fill="#d04048" opacity="0.45"/><circle cx="950.82" cy="781.94" r="4.53" fill="#d04048" opacity="0.45"/><circle cx="639.61" cy="794.98" r="4.6" fill="#d04048" opacity="0.45"/><circle cx="1077.56" cy="729.54" r="6.7" fill="#d04048" opacity="0.45"/><circle cx="771.91" cy="550.86" r="5.15" fill="#d04048" opacity="0.45"/><circle cx="877.17" cy="624.2" r="5.37" fill="#d04048" opacity="0.45"/><circle cx="772.24" cy="595.31" r="4.14" fill="#d04048" opacity="0.45"/><circle cx="889.06" cy="790.08" r="4.42" fill="#d04048" opacity="0.45"/><circle cx="647.91" cy="637.43" r="5.86" fill="#d04048" opacity="0.45"/><circle cx="735.5" cy="1083.44" r="4.1" fill="#d04048" opacity="0.45"/><circle cx="829.36" cy="703.31" r="6.01" fill="#d04048" opacity="0.45"/><circle cx="682.84" cy="430.43" r="6.59" fill="#d04048" opacity="0.45"/><circle cx="745.29" cy="495.36" r="5.95" fill="#d04048" opacity="0.45"/><circle cx="771.81" cy="694.09" r="5.07" fill="#d04048" opacity="0.45"/><circle cx="916.35" cy="692.66" r="6.9" fill="#d04048" opacity="0.45"/><circle cx="714.94" cy="719.1" r="3.01" fill="#d04048" opacity="0.45"/><circle cx="777.2" cy="819.81" r="5.61" fill="#d04048" opacity="0.45"/><circle cx="1070.41" cy="565.66" r="5.45" fill="#d04048" opacity="0.45"/><circle cx="792.74" cy="807.07" r="5.76" fill="#d04048" opacity="0.45"/><circle cx="645.44" cy="681.68" r="4.5" fill="#d04048" opacity="0.45"/><circle cx="908.1" cy="692.26" r="4.22" fill="#d04048" opacity="0.45"/><circle cx="819.91" cy="968" r="6.59" fill="#d04048" opacity="0.45"/><circle cx="931.25" cy="944.39" r="6.07" fill="#d04048" opacity="0.45"/><circle cx="847.42" cy="813.29" r="5.26" fill="#d04048" opacity="0.45"/><circle cx="969.01" cy="490.32" r="5.91" fill="#d04048" opacity="0.45"/><circle cx="721.41" cy="838.79" r="5.12" fill="#d04048" opacity="0.45"/><circle cx="931.13" cy="688.28" r="4.12" fill="#d04048" opacity="0.45"/><circle cx="572.69" cy="519.61" r="3.75" fill="#d04048" opacity="0.45"/><circle cx="903.26" cy="774.15" r="5.25" fill="#d04048" opacity="0.45"/><circle cx="774.03" cy="702.13" r="3.76" fill="#d04048" opacity="0.45"/><circle cx="684.65" cy="638.97" r="5.76" fill="#d04048" opacity="0.45"/><circle cx="833.89" cy="707.07" r="4.94" fill="#d04048" opacity="0.45"/><circle cx="1005.49" cy="435.42" r="4.27" fill="#d04048" opacity="0.45"/><circle cx="950.32" cy="585.58" r="6.71" fill="#d04048" opacity="0.45"/><circle cx="866.34" cy="989.73" r="6.36" fill="#d04048" opacity="0.45"/><circle cx="780.71" cy="770.08" r="3.77" fill="#d04048" opacity="0.45"/><circle cx="871.76" cy="815.15" r="3.61" fill="#d04048" opacity="0.45"/><circle cx="794.28" cy="713.06" r="6.03" fill="#d04048" opacity="0.45"/></g><ellipse cx="285" cy="345" rx="45" ry="42" fill="#fafcff"/><path d="M-10,320 C1,293.5 80,323 100,315 C120,307 173,250 190,240 C207,230 256,222 270,215 C284,208 317,173 330,170 C343,167 391.5,181 400,185 C408.5,189 421,204 415,210 C409,216 346.5,237 340,245 C333.5,253 344,281.5 350,290 C356,298.5 394,319 400,330 C406,341 416,390 410,400 C404,410 359,425 340,430 C321,435 237,445 220,450 C203,455 180,469 170,480 C160,491 131,549 120,560 C109,571 73,588 60,590 C47,592 -3,607 -10,580 C-17,553 -21,346.5 -10,320Z" fill="none" stroke="#e8e8e8" stroke-width="1.6" vector-effect="non-scaling-stroke"/><path d="M440,520 C445,509 485,482 490,470 C495,458 483,409.5 490,400 C497,390.5 543,377.5 560,375 C577,372.5 646,365.5 660,375 C674,384.5 689,458 700,470 C711,482 761,488 770,495 C779,502 782,531.5 790,540 C798,548.5 843,572 850,580 C857,588 855,618 860,620 C865,622 892,609 900,600 C908,591 925,539 940,530 C955,521 1036,511 1050,510 C1064,509 1075,511 1080,520 C1085,529 1095,582 1100,600 C1105,618 1129,680 1130,700 C1131,720 1111,782 1110,800 C1109,818 1116,868 1120,880 C1124,892 1150,906 1150,920 C1150,934 1122,1002 1120,1020 C1118,1038 1127,1083 1130,1100 C1133,1117 1205,1181 1150,1190 C1095,1199 641,1203 580,1190 C519,1177 543,1079 540,1060 C537,1041 560,1024 550,1000 C540,976 442,844 440,820 C438,796 524,777 530,760 C536,743 509,668 500,650 C491,632 446,593 440,580 C434,567 435,531 440,520Z" fill="none" stroke="#e8e8e8" stroke-width="1.6" vector-effect="non-scaling-stroke"/><rect x="985" y="1140" width="145" height="18" fill="#ffffff"/></svg>
<text x="913.5" y="695.5" font-size="28" font-weight="bold" fill="#1a1a1a" text-anchor="start" >E</text>
<rect x="981.5" y="695" width="183" height="183" fill="none" stroke="#6b6b6b" stroke-width="1.2"/>
<rect x="1020.6" y="732.2" width="109.1" height="99.3" fill="none" stroke="#6b6b6b" stroke-width="1.2"/>
<path d="M978,696.6 H981.5 M979.5,724.49 H981.5 M979.5,717.46 H981.5 M979.5,712.48 H981.5 M979.5,708.61 H981.5 M979.5,705.45 H981.5 M979.5,702.78 H981.5 M979.5,700.47 H981.5 M979.5,698.43 H981.5 M978,736.5 H981.5 M979.5,765.65 H981.5 M979.5,758.3 H981.5 M979.5,753.09 H981.5 M979.5,749.05 H981.5 M979.5,745.75 H981.5 M979.5,742.96 H981.5 M979.5,740.54 H981.5 M979.5,738.41 H981.5 M978,778.2 H981.5 M979.5,809.16 H981.5 M979.5,801.36 H981.5 M979.5,795.83 H981.5 M979.5,791.54 H981.5 M979.5,788.03 H981.5 M979.5,785.06 H981.5 M979.5,782.49 H981.5 M979.5,780.23 H981.5 M978,822.5 H981.5 M978,858 H981.5 M979.5,854 H981.5 M979.5,862 H981.5 M979.5,875 H981.5 M981.5,878 V881.5 M998.9,878 V880 M1016.3,878 V881.5 M1033.7,878 V880 M1051.1,878 V881.5 M1068.5,878 V880 M1085.9,878 V881.5 M1103.3,878 V880 M1120.7,878 V881.5 M1138.1,878 V880 M1155.5,878 V881.5 " stroke="#444" stroke-width="1" fill="none"/>
<path d="M981.5,878 H1164.5 M981.5,695 V878" stroke="#444" stroke-width="1.8" fill="none"/>
<text x="975" y="700.1" font-size="9.5" fill="#333" text-anchor="end">10<tspan dy="-4" font-size="6.5">6</tspan></text>
<text x="975" y="740" font-size="9.5" fill="#333" text-anchor="end">10<tspan dy="-4" font-size="6.5">5</tspan></text>
<text x="975" y="781.7" font-size="9.5" fill="#333" text-anchor="end">10<tspan dy="-4" font-size="6.5">4</tspan></text>
<text x="975" y="826" font-size="9.5" fill="#333" text-anchor="end">10<tspan dy="-4" font-size="6.5">3</tspan></text>
<text x="975" y="861.5" font-size="9.5" font-weight="normal" fill="#333" text-anchor="end" >0</text>
<text x="982.1" y="896" font-size="9.5" font-weight="normal" fill="#333" text-anchor="middle" >0</text>
<text x="1016.82" y="896" font-size="9.5" font-weight="normal" fill="#333" text-anchor="middle" >200K</text>
<text x="1051.54" y="896" font-size="9.5" font-weight="normal" fill="#333" text-anchor="middle" >400K</text>
<text x="1086.26" y="896" font-size="9.5" font-weight="normal" fill="#333" text-anchor="middle" >600K</text>
<text x="1120.98" y="896" font-size="9.5" font-weight="normal" fill="#333" text-anchor="middle" >800K</text>
<text x="1155.7" y="896" font-size="9.5" font-weight="normal" fill="#333" text-anchor="middle" >1M</text>
<text x="1073.3" y="911" font-size="14.3" font-weight="normal" fill="#333" text-anchor="middle" >FSC-A</text>
<text transform="translate(957.6,787) rotate(-90)" font-size="16.5" fill="#222" text-anchor="middle" textLength="85" lengthAdjust="spacingAndGlyphs">S Alexa-647</text>
<text x="1140.7" y="716.6" font-size="18.5" font-weight="bold" fill="#1a1a1a" stroke="#1a1a1a" stroke-width="0.4" textLength="17.4" lengthAdjust="spacingAndGlyphs">NI</text>
<text x="1093.5" y="750.7" font-size="16.5" font-weight="bold" fill="#1a1a1a" stroke="#1a1a1a" stroke-width="0.45" textLength="30.2" lengthAdjust="spacingAndGlyphs">3%</text>
<path d="M1102.3 845.2h1.1v1.1h-1.1zM1114.8 848.5h1.1v1.1h-1.1zM1118.4 848.1h1.1v1.1h-1.1zM1114.7 848.3h1.1v1.1h-1.1zM1120.2 850.4h1.1v1.1h-1.1zM1043.6 845.2h1.1v1.1h-1.1zM1069.8 865.7h1.1v1.1h-1.1zM1119.3 860.3h1.1v1.1h-1.1zM1064.7 844.0h1.1v1.1h-1.1zM1120.8 856.4h1.1v1.1h-1.1zM1119.0 850.4h1.1v1.1h-1.1zM1107.1 844.8h1.1v1.1h-1.1zM1045.3 843.7h1.1v1.1h-1.1zM1106.0 844.4h1.1v1.1h-1.1zM1103.5 861.3h1.1v1.1h-1.1zM1109.1 860.5h1.1v1.1h-1.1zM1101.7 843.8h1.1v1.1h-1.1zM1048.1 863.0h1.1v1.1h-1.1zM1108.3 842.1h1.1v1.1h-1.1zM1069.1 862.7h1.1v1.1h-1.1zM1119.7 859.7h1.1v1.1h-1.1zM1094.9 861.8h1.1v1.1h-1.1zM1109.2 847.3h1.1v1.1h-1.1zM1117.8 849.7h1.1v1.1h-1.1zM1098.6 845.7h1.1v1.1h-1.1zM1051.3 842.1h1.1v1.1h-1.1zM1116.3 858.3h1.1v1.1h-1.1zM1069.8 843.0h1.1v1.1h-1.1zM1110.8 860.5h1.1v1.1h-1.1zM1056.5 862.8h1.1v1.1h-1.1zM1045.1 843.6h1.1v1.1h-1.1zM1056.6 844.5h1.1v1.1h-1.1zM1058.7 844.1h1.1v1.1h-1.1zM1116.2 858.5h1.1v1.1h-1.1zM1079.1 864.2h1.1v1.1h-1.1zM1100.0 864.2h1.1v1.1h-1.1zM1082.9 843.9h1.1v1.1h-1.1zM1104.6 846.1h1.1v1.1h-1.1zM1117.1 849.3h1.1v1.1h-1.1zM1116.7 857.7h1.1v1.1h-1.1zM1092.1 861.9h1.1v1.1h-1.1zM1115.7 857.8h1.1v1.1h-1.1zM1067.0 863.2h1.1v1.1h-1.1zM1089.9 861.8h1.1v1.1h-1.1zM1118.7 846.7h1.1v1.1h-1.1zM1114.8 858.8h1.1v1.1h-1.1zM1096.3 844.6h1.1v1.1h-1.1zM1107.1 859.9h1.1v1.1h-1.1zM1120.5 847.7h1.1v1.1h-1.1zM1112.5 859.0h1.1v1.1h-1.1zM1110.7 846.2h1.1v1.1h-1.1zM1091.3 862.4h1.1v1.1h-1.1zM1113.5 859.8h1.1v1.1h-1.1zM1118.5 847.2h1.1v1.1h-1.1zM1119.0 849.6h1.1v1.1h-1.1zM1110.8 846.4h1.1v1.1h-1.1zM1118.4 861.4h1.1v1.1h-1.1zM1112.7 860.7h1.1v1.1h-1.1zM1120.5 851.5h1.1v1.1h-1.1zM1107.5 861.8h1.1v1.1h-1.1zM1120.4 849.5h1.1v1.1h-1.1zM1102.5 860.4h1.1v1.1h-1.1zM1109.4 847.6h1.1v1.1h-1.1zM1071.6 843.5h1.1v1.1h-1.1zM1070.4 813.3h1.1v1.1h-1.1zM1094.9 841.1h1.1v1.1h-1.1zM1067.3 842.2h1.1v1.1h-1.1zM1062.2 818.7h1.1v1.1h-1.1zM1083.5 844.4h1.1v1.1h-1.1zM1096.3 833.6h1.1v1.1h-1.1zM1075.9 835.1h1.1v1.1h-1.1zM1090.5 811.7h1.1v1.1h-1.1zM1075.3 848.4h1.1v1.1h-1.1zM1062.8 842.8h1.1v1.1h-1.1zM1074.1 829.0h1.1v1.1h-1.1zM1087.4 817.9h1.1v1.1h-1.1zM1080.8 828.3h1.1v1.1h-1.1zM1087.6 834.7h1.1v1.1h-1.1zM1081.9 840.2h1.1v1.1h-1.1zM1067.0 842.8h1.1v1.1h-1.1zM1088.0 837.3h1.1v1.1h-1.1zM1063.3 847.8h1.1v1.1h-1.1zM1099.3 825.7h1.1v1.1h-1.1zM1066.4 832.3h1.1v1.1h-1.1zM1056.3 848.7h1.1v1.1h-1.1zM1091.2 820.2h1.1v1.1h-1.1zM1072.9 841.8h1.1v1.1h-1.1zM1096.5 844.4h1.1v1.1h-1.1zM1095.0 822.6h1.1v1.1h-1.1zM1064.4 818.5h1.1v1.1h-1.1zM1083.2 847.4h1.1v1.1h-1.1zM1109.7 840.1h1.1v1.1h-1.1zM1066.1 848.8h1.1v1.1h-1.1zM1057.7 813.5h1.1v1.1h-1.1zM1065.0 841.2h1.1v1.1h-1.1zM1070.9 821.7h1.1v1.1h-1.1zM1087.9 832.5h1.1v1.1h-1.1zM1076.0 828.9h1.1v1.1h-1.1zM1076.2 834.4h1.1v1.1h-1.1zM1092.7 846.2h1.1v1.1h-1.1zM1118.6 842.2h1.1v1.1h-1.1zM1096.8 832.6h1.1v1.1h-1.1zM1086.5 836.9h1.1v1.1h-1.1zM1079.7 846.9h1.1v1.1h-1.1zM1066.6 832.3h1.1v1.1h-1.1zM1057.4 814.7h1.1v1.1h-1.1zM1063.2 832.3h1.1v1.1h-1.1zM1117.2 844.6h1.1v1.1h-1.1zM1078.1 833.4h1.1v1.1h-1.1zM1112.1 833.9h1.1v1.1h-1.1zM1067.3 849.2h1.1v1.1h-1.1zM1069.2 820.2h1.1v1.1h-1.1zM1099.0 846.8h1.1v1.1h-1.1zM1096.3 845.5h1.1v1.1h-1.1zM1082.9 836.1h1.1v1.1h-1.1zM1108.9 831.9h1.1v1.1h-1.1zM1095.0 841.7h1.1v1.1h-1.1zM1094.4 849.4h1.1v1.1h-1.1zM1071.0 845.0h1.1v1.1h-1.1zM1084.5 828.3h1.1v1.1h-1.1zM1077.8 830.3h1.1v1.1h-1.1zM1070.6 836.5h1.1v1.1h-1.1zM1114.1 834.2h1.1v1.1h-1.1zM1052.7 821.6h1.1v1.1h-1.1zM1097.3 848.8h1.1v1.1h-1.1zM1061.6 847.6h1.1v1.1h-1.1zM1074.0 846.3h1.1v1.1h-1.1zM1077.2 807.3h1.1v1.1h-1.1zM1097.5 844.8h1.1v1.1h-1.1zM1080.6 848.6h1.1v1.1h-1.1zM1074.1 843.0h1.1v1.1h-1.1zM1057.7 843.4h1.1v1.1h-1.1zM1098.7 812.5h1.1v1.1h-1.1zM1054.0 838.5h1.1v1.1h-1.1zM1068.4 829.2h1.1v1.1h-1.1zM1100.2 849.1h1.1v1.1h-1.1zM1061.3 840.0h1.1v1.1h-1.1zM1100.0 842.9h1.1v1.1h-1.1zM1083.5 823.7h1.1v1.1h-1.1zM1053.1 815.1h1.1v1.1h-1.1zM1055.6 815.5h1.1v1.1h-1.1zM1066.6 822.7h1.1v1.1h-1.1zM1113.2 828.1h1.1v1.1h-1.1zM1117.5 849.3h1.1v1.1h-1.1zM1096.6 846.6h1.1v1.1h-1.1zM1069.9 819.3h1.1v1.1h-1.1zM1055.2 840.6h1.1v1.1h-1.1zM1074.5 843.2h1.1v1.1h-1.1zM1063.7 840.0h1.1v1.1h-1.1zM1104.4 828.6h1.1v1.1h-1.1zM1071.4 812.6h1.1v1.1h-1.1zM1097.7 816.2h1.1v1.1h-1.1zM1089.5 848.1h1.1v1.1h-1.1zM1090.3 834.6h1.1v1.1h-1.1zM1077.7 824.1h1.1v1.1h-1.1zM1074.7 826.9h1.1v1.1h-1.1zM1102.1 832.9h1.1v1.1h-1.1zM1070.0 838.1h1.1v1.1h-1.1zM1086.8 843.2h1.1v1.1h-1.1zM1084.1 836.7h1.1v1.1h-1.1zM1072.6 835.3h1.1v1.1h-1.1zM1106.9 842.0h1.1v1.1h-1.1zM1074.8 834.5h1.1v1.1h-1.1zM1086.4 848.0h1.1v1.1h-1.1zM1079.7 838.8h1.1v1.1h-1.1zM1077.2 828.5h1.1v1.1h-1.1zM1079.4 848.9h1.1v1.1h-1.1zM1053.9 846.6h1.1v1.1h-1.1zM1095.9 837.9h1.1v1.1h-1.1zM1078.2 837.0h1.1v1.1h-1.1zM1074.9 848.2h1.1v1.1h-1.1zM1089.7 848.1h1.1v1.1h-1.1zM1080.7 849.3h1.1v1.1h-1.1zM1077.9 836.2h1.1v1.1h-1.1zM1099.9 835.6h1.1v1.1h-1.1zM1069.4 843.7h1.1v1.1h-1.1zM1113.5 843.7h1.1v1.1h-1.1zM1093.4 812.4h1.1v1.1h-1.1zM1088.6 843.6h1.1v1.1h-1.1zM1097.4 840.3h1.1v1.1h-1.1zM1082.8 833.5h1.1v1.1h-1.1zM1118.0 846.5h1.1v1.1h-1.1zM1078.4 839.3h1.1v1.1h-1.1zM1092.7 832.1h1.1v1.1h-1.1zM1088.3 831.5h1.1v1.1h-1.1zM1065.8 834.0h1.1v1.1h-1.1zM1116.6 848.9h1.1v1.1h-1.1zM1049.0 830.0h1.1v1.1h-1.1zM1115.8 812.3h1.1v1.1h-1.1zM1049.4 849.1h1.1v1.1h-1.1zM1064.6 836.0h1.1v1.1h-1.1zM1057.2 849.2h1.1v1.1h-1.1zM1069.5 844.8h1.1v1.1h-1.1zM1085.0 828.1h1.1v1.1h-1.1zM1047.2 828.8h1.1v1.1h-1.1zM1051.6 824.5h1.1v1.1h-1.1zM1081.9 838.1h1.1v1.1h-1.1zM1094.6 828.8h1.1v1.1h-1.1zM1068.9 844.3h1.1v1.1h-1.1zM1056.4 832.6h1.1v1.1h-1.1zM1056.8 809.2h1.1v1.1h-1.1zM1066.2 823.0h1.1v1.1h-1.1zM1045.8 842.2h1.1v1.1h-1.1zM1079.2 843.4h1.1v1.1h-1.1zM1043.1 832.0h1.1v1.1h-1.1zM1045.0 843.1h1.1v1.1h-1.1zM1066.2 841.3h1.1v1.1h-1.1zM1100.8 823.2h1.1v1.1h-1.1zM1059.3 839.8h1.1v1.1h-1.1zM1079.4 837.8h1.1v1.1h-1.1zM1049.1 837.0h1.1v1.1h-1.1zM1070.1 846.1h1.1v1.1h-1.1zM1068.1 826.5h1.1v1.1h-1.1zM1106.2 837.5h1.1v1.1h-1.1zM1062.9 848.6h1.1v1.1h-1.1zM1065.0 838.6h1.1v1.1h-1.1zM1115.0 836.0h1.1v1.1h-1.1zM1057.7 827.1h1.1v1.1h-1.1zM1079.4 835.2h1.1v1.1h-1.1zM1100.7 846.6h1.1v1.1h-1.1zM1079.7 842.0h1.1v1.1h-1.1zM1057.4 816.3h1.1v1.1h-1.1zM1062.7 846.3h1.1v1.1h-1.1zM1073.6 844.6h1.1v1.1h-1.1zM1079.7 821.1h1.1v1.1h-1.1zM1062.9 845.7h1.1v1.1h-1.1zM1098.6 807.6h1.1v1.1h-1.1zM1081.4 839.7h1.1v1.1h-1.1zM1080.3 834.7h1.1v1.1h-1.1zM1065.6 842.6h1.1v1.1h-1.1zM1093.9 847.9h1.1v1.1h-1.1zM1074.0 846.3h1.1v1.1h-1.1zM1091.2 846.8h1.1v1.1h-1.1zM1075.7 831.4h1.1v1.1h-1.1zM1070.6 841.7h1.1v1.1h-1.1zM1064.1 813.0h1.1v1.1h-1.1zM1088.7 844.5h1.1v1.1h-1.1zM1062.7 823.6h1.1v1.1h-1.1zM1115.6 810.9h1.1v1.1h-1.1zM1081.9 842.6h1.1v1.1h-1.1zM1053.8 831.8h1.1v1.1h-1.1zM1095.2 841.8h1.1v1.1h-1.1zM1111.9 840.0h1.1v1.1h-1.1zM1100.0 843.9h1.1v1.1h-1.1zM1060.6 831.1h1.1v1.1h-1.1zM1085.7 837.3h1.1v1.1h-1.1zM1089.6 847.1h1.1v1.1h-1.1zM1074.2 835.7h1.1v1.1h-1.1zM1074.3 823.5h1.1v1.1h-1.1zM1116.0 838.5h1.1v1.1h-1.1zM1071.8 842.4h1.1v1.1h-1.1zM1087.5 834.1h1.1v1.1h-1.1zM1053.8 842.9h1.1v1.1h-1.1zM1105.7 843.3h1.1v1.1h-1.1zM1093.5 845.0h1.1v1.1h-1.1zM1105.8 837.6h1.1v1.1h-1.1zM1081.7 820.6h1.1v1.1h-1.1zM1079.0 839.8h1.1v1.1h-1.1zM1048.2 848.4h1.1v1.1h-1.1zM1074.4 808.5h1.1v1.1h-1.1zM1084.3 834.6h1.1v1.1h-1.1zM1100.6 831.3h1.1v1.1h-1.1zM1050.7 838.1h1.1v1.1h-1.1zM1089.5 839.4h1.1v1.1h-1.1zM1071.6 847.7h1.1v1.1h-1.1zM1067.0 849.1h1.1v1.1h-1.1zM1117.8 839.7h1.1v1.1h-1.1zM1065.2 849.2h1.1v1.1h-1.1zM1086.2 848.6h1.1v1.1h-1.1zM1072.8 845.6h1.1v1.1h-1.1zM1073.9 844.9h1.1v1.1h-1.1zM1081.1 831.3h1.1v1.1h-1.1zM1072.9 839.0h1.1v1.1h-1.1zM1099.9 843.8h1.1v1.1h-1.1zM1084.5 827.5h1.1v1.1h-1.1zM1094.9 847.3h1.1v1.1h-1.1zM1093.5 848.3h1.1v1.1h-1.1zM1107.7 826.3h1.1v1.1h-1.1zM1089.6 826.2h1.1v1.1h-1.1zM1106.8 838.1h1.1v1.1h-1.1zM1059.5 824.0h1.1v1.1h-1.1zM1080.4 832.2h1.1v1.1h-1.1zM1089.7 845.3h1.1v1.1h-1.1zM1075.9 852.3h1.1v1.1h-1.1zM1080.7 859.6h1.1v1.1h-1.1zM1076.8 855.8h1.1v1.1h-1.1zM1056.7 853.8h1.1v1.1h-1.1zM1114.3 854.1h1.1v1.1h-1.1zM1113.6 854.1h1.1v1.1h-1.1zM1077.7 858.8h1.1v1.1h-1.1zM1067.7 857.3h1.1v1.1h-1.1zM1112.2 856.0h1.1v1.1h-1.1zM1074.1 860.4h1.1v1.1h-1.1zM1089.3 857.3h1.1v1.1h-1.1zM1060.3 849.6h1.1v1.1h-1.1zM1098.1 851.7h1.1v1.1h-1.1zM1097.2 851.7h1.1v1.1h-1.1zM1089.5 855.0h1.1v1.1h-1.1zM1114.9 851.3h1.1v1.1h-1.1zM1101.7 851.4h1.1v1.1h-1.1zM1088.0 853.7h1.1v1.1h-1.1zM1103.5 855.4h1.1v1.1h-1.1zM1096.5 854.8h1.1v1.1h-1.1zM1092.7 856.4h1.1v1.1h-1.1zM1097.0 853.1h1.1v1.1h-1.1zM1076.0 854.8h1.1v1.1h-1.1zM1069.8 852.0h1.1v1.1h-1.1zM1120.8 860.4h1.1v1.1h-1.1zM1081.1 853.7h1.1v1.1h-1.1zM1079.3 856.2h1.1v1.1h-1.1zM1069.3 855.7h1.1v1.1h-1.1zM1103.1 861.5h1.1v1.1h-1.1zM1074.6 856.1h1.1v1.1h-1.1zM1069.0 858.2h1.1v1.1h-1.1zM1078.5 854.8h1.1v1.1h-1.1zM1092.7 852.9h1.1v1.1h-1.1zM1066.4 852.7h1.1v1.1h-1.1zM1092.0 854.1h1.1v1.1h-1.1zM1068.6 860.0h1.1v1.1h-1.1zM1070.3 851.3h1.1v1.1h-1.1zM1103.5 858.6h1.1v1.1h-1.1zM1080.0 849.8h1.1v1.1h-1.1zM1096.1 856.2h1.1v1.1h-1.1zM1119.7 858.2h1.1v1.1h-1.1zM1089.8 853.0h1.1v1.1h-1.1zM1094.2 850.7h1.1v1.1h-1.1zM1080.6 859.5h1.1v1.1h-1.1zM1085.5 856.6h1.1v1.1h-1.1zM1103.1 857.9h1.1v1.1h-1.1zM1066.2 854.5h1.1v1.1h-1.1zM1084.5 850.9h1.1v1.1h-1.1zM1099.3 848.4h1.1v1.1h-1.1zM1070.1 856.6h1.1v1.1h-1.1zM1076.6 860.4h1.1v1.1h-1.1zM1067.4 854.0h1.1v1.1h-1.1zM1043.5 858.3h1.1v1.1h-1.1zM1103.6 857.3h1.1v1.1h-1.1zM1082.3 855.7h1.1v1.1h-1.1zM1074.8 862.8h1.1v1.1h-1.1zM1093.5 855.2h1.1v1.1h-1.1zM1108.5 853.7h1.1v1.1h-1.1zM1090.4 855.2h1.1v1.1h-1.1zM1071.1 857.9h1.1v1.1h-1.1zM1086.2 850.9h1.1v1.1h-1.1zM1055.4 853.5h1.1v1.1h-1.1zM1091.3 852.2h1.1v1.1h-1.1zM1068.7 852.4h1.1v1.1h-1.1zM1117.0 858.9h1.1v1.1h-1.1zM1097.2 853.9h1.1v1.1h-1.1zM1102.2 851.9h1.1v1.1h-1.1zM1107.4 856.0h1.1v1.1h-1.1zM1101.5 847.0h1.1v1.1h-1.1zM1075.8 851.5h1.1v1.1h-1.1zM1081.6 850.8h1.1v1.1h-1.1zM1090.4 855.2h1.1v1.1h-1.1zM1103.3 858.5h1.1v1.1h-1.1zM1077.2 850.4h1.1v1.1h-1.1zM1056.1 851.2h1.1v1.1h-1.1zM1098.0 857.7h1.1v1.1h-1.1zM1082.8 853.7h1.1v1.1h-1.1zM1072.9 851.3h1.1v1.1h-1.1zM1100.4 852.0h1.1v1.1h-1.1zM1087.7 859.5h1.1v1.1h-1.1zM1096.2 860.1h1.1v1.1h-1.1zM1081.6 853.4h1.1v1.1h-1.1zM1076.8 855.6h1.1v1.1h-1.1zM1100.5 858.2h1.1v1.1h-1.1zM1101.4 854.8h1.1v1.1h-1.1zM1071.9 855.5h1.1v1.1h-1.1zM1068.0 853.8h1.1v1.1h-1.1zM1069.9 859.7h1.1v1.1h-1.1zM1051.9 857.0h1.1v1.1h-1.1zM1101.9 847.1h1.1v1.1h-1.1zM1088.6 857.5h1.1v1.1h-1.1zM1095.4 858.8h1.1v1.1h-1.1zM1095.6 851.0h1.1v1.1h-1.1zM1072.9 857.6h1.1v1.1h-1.1zM1097.1 852.5h1.1v1.1h-1.1zM1064.5 859.4h1.1v1.1h-1.1zM1069.7 854.2h1.1v1.1h-1.1zM1081.2 850.3h1.1v1.1h-1.1zM1062.6 853.7h1.1v1.1h-1.1zM1088.7 855.0h1.1v1.1h-1.1zM1068.0 856.7h1.1v1.1h-1.1zM1099.7 850.1h1.1v1.1h-1.1zM1067.8 852.4h1.1v1.1h-1.1zM1084.7 854.1h1.1v1.1h-1.1zM1080.6 860.7h1.1v1.1h-1.1zM1058.8 854.1h1.1v1.1h-1.1zM1096.1 857.8h1.1v1.1h-1.1zM1089.4 853.8h1.1v1.1h-1.1zM1062.3 855.7h1.1v1.1h-1.1zM1090.5 848.4h1.1v1.1h-1.1zM1046.2 855.0h1.1v1.1h-1.1zM1084.6 850.6h1.1v1.1h-1.1zM1061.4 853.6h1.1v1.1h-1.1zM1089.5 857.9h1.1v1.1h-1.1zM1070.5 849.6h1.1v1.1h-1.1zM1074.5 850.5h1.1v1.1h-1.1zM1119.1 857.9h1.1v1.1h-1.1zM1046.7 851.9h1.1v1.1h-1.1zM1062.0 851.5h1.1v1.1h-1.1zM1062.0 846.9h1.1v1.1h-1.1zM1072.7 852.7h1.1v1.1h-1.1zM1117.1 859.8h1.1v1.1h-1.1zM1074.0 855.3h1.1v1.1h-1.1zM1063.3 856.8h1.1v1.1h-1.1zM1086.5 851.5h1.1v1.1h-1.1zM1094.5 852.6h1.1v1.1h-1.1zM1075.3 852.6h1.1v1.1h-1.1zM1084.8 854.5h1.1v1.1h-1.1zM1097.4 853.4h1.1v1.1h-1.1zM1076.3 859.5h1.1v1.1h-1.1zM1112.7 845.7h1.1v1.1h-1.1zM1056.9 856.8h1.1v1.1h-1.1zM1082.4 861.2h1.1v1.1h-1.1zM1085.2 859.1h1.1v1.1h-1.1zM1094.4 854.4h1.1v1.1h-1.1zM1112.7 856.0h1.1v1.1h-1.1zM1072.6 847.2h1.1v1.1h-1.1zM1074.6 858.0h1.1v1.1h-1.1zM1095.4 852.7h1.1v1.1h-1.1zM1086.0 859.6h1.1v1.1h-1.1z" fill="#283698"/><path d="M1113.2 857.0h1.1v1.1h-1.1zM1110.3 857.2h1.1v1.1h-1.1zM1082.4 861.3h1.1v1.1h-1.1zM1113.7 851.6h1.1v1.1h-1.1zM1102.8 847.2h1.1v1.1h-1.1zM1116.2 851.6h1.1v1.1h-1.1zM1118.1 852.8h1.1v1.1h-1.1zM1108.8 859.2h1.1v1.1h-1.1zM1086.2 845.7h1.1v1.1h-1.1zM1094.5 846.7h1.1v1.1h-1.1zM1106.5 858.6h1.1v1.1h-1.1zM1106.7 858.0h1.1v1.1h-1.1zM1114.1 850.5h1.1v1.1h-1.1zM1093.6 860.6h1.1v1.1h-1.1zM1109.9 857.2h1.1v1.1h-1.1zM1085.4 861.5h1.1v1.1h-1.1zM1106.7 847.4h1.1v1.1h-1.1zM1084.4 845.4h1.1v1.1h-1.1zM1114.6 855.2h1.1v1.1h-1.1zM1112.0 858.4h1.1v1.1h-1.1zM1105.2 847.7h1.1v1.1h-1.1zM1063.2 861.9h1.1v1.1h-1.1zM1074.8 861.4h1.1v1.1h-1.1zM1116.1 850.5h1.1v1.1h-1.1zM1111.4 849.7h1.1v1.1h-1.1zM1110.6 848.3h1.1v1.1h-1.1zM1116.7 856.5h1.1v1.1h-1.1zM1109.7 857.2h1.1v1.1h-1.1zM1109.2 849.5h1.1v1.1h-1.1zM1118.5 853.8h1.1v1.1h-1.1zM1119.3 852.9h1.1v1.1h-1.1zM1102.8 860.2h1.1v1.1h-1.1zM1117.5 854.8h1.1v1.1h-1.1zM1099.9 847.5h1.1v1.1h-1.1zM1116.7 852.5h1.1v1.1h-1.1zM1104.6 858.4h1.1v1.1h-1.1zM1110.1 858.7h1.1v1.1h-1.1zM1072.1 845.2h1.1v1.1h-1.1zM1068.2 861.5h1.1v1.1h-1.1zM1080.2 845.8h1.1v1.1h-1.1zM1108.4 857.8h1.1v1.1h-1.1zM1114.5 850.2h1.1v1.1h-1.1zM1100.4 847.5h1.1v1.1h-1.1zM1109.7 857.4h1.1v1.1h-1.1zM1115.1 850.0h1.1v1.1h-1.1zM1115.2 854.3h1.1v1.1h-1.1zM1114.0 850.2h1.1v1.1h-1.1zM1093.1 846.2h1.1v1.1h-1.1zM1080.2 845.8h1.1v1.1h-1.1zM1111.2 856.7h1.1v1.1h-1.1zM1093.1 860.7h1.1v1.1h-1.1zM1103.4 859.6h1.1v1.1h-1.1zM1118.8 852.4h1.1v1.1h-1.1zM1061.5 862.2h1.1v1.1h-1.1zM1068.7 861.5h1.1v1.1h-1.1zM1049.7 845.2h1.1v1.1h-1.1zM1045.6 845.8h1.1v1.1h-1.1zM1102.8 859.7h1.1v1.1h-1.1zM1117.0 854.3h1.1v1.1h-1.1zM1045.4 846.5h1.1v1.1h-1.1zM1084.2 845.2h1.1v1.1h-1.1zM1087.8 845.5h1.1v1.1h-1.1zM1116.9 856.8h1.1v1.1h-1.1zM1116.8 853.9h1.1v1.1h-1.1zM1108.3 858.6h1.1v1.1h-1.1zM1120.2 852.9h1.1v1.1h-1.1zM1102.1 859.2h1.1v1.1h-1.1zM1056.3 861.8h1.1v1.1h-1.1zM1116.5 853.6h1.1v1.1h-1.1zM1081.9 845.8h1.1v1.1h-1.1zM1120.1 853.7h1.1v1.1h-1.1zM1080.2 845.6h1.1v1.1h-1.1zM1118.1 853.0h1.1v1.1h-1.1zM1065.3 862.3h1.1v1.1h-1.1zM1087.5 861.0h1.1v1.1h-1.1zM1104.7 848.3h1.1v1.1h-1.1zM1109.1 857.1h1.1v1.1h-1.1zM1077.0 845.3h1.1v1.1h-1.1zM1095.6 861.0h1.1v1.1h-1.1zM1048.2 845.2h1.1v1.1h-1.1zM1100.1 847.6h1.1v1.1h-1.1zM1120.0 854.2h1.1v1.1h-1.1zM1117.3 854.7h1.1v1.1h-1.1zM1114.0 856.2h1.1v1.1h-1.1zM1090.2 860.6h1.1v1.1h-1.1zM1055.8 862.0h1.1v1.1h-1.1zM1117.6 856.2h1.1v1.1h-1.1zM1070.2 844.6h1.1v1.1h-1.1zM1103.4 859.7h1.1v1.1h-1.1zM1086.1 846.0h1.1v1.1h-1.1zM1117.5 856.0h1.1v1.1h-1.1zM1099.1 860.6h1.1v1.1h-1.1zM1083.7 844.9h1.1v1.1h-1.1zM1076.1 862.0h1.1v1.1h-1.1zM1074.7 862.1h1.1v1.1h-1.1zM1103.8 848.3h1.1v1.1h-1.1zM1114.2 855.9h1.1v1.1h-1.1zM1117.9 852.4h1.1v1.1h-1.1zM1114.2 851.7h1.1v1.1h-1.1zM1086.0 861.3h1.1v1.1h-1.1zM1114.0 849.3h1.1v1.1h-1.1zM1107.0 858.9h1.1v1.1h-1.1zM1067.1 821.1h1.1v1.1h-1.1zM1090.4 846.4h1.1v1.1h-1.1zM1090.1 848.5h1.1v1.1h-1.1zM1108.5 849.1h1.1v1.1h-1.1zM1070.3 837.4h1.1v1.1h-1.1zM1081.6 849.4h1.1v1.1h-1.1zM1064.0 834.1h1.1v1.1h-1.1zM1068.0 837.7h1.1v1.1h-1.1zM1110.2 849.5h1.1v1.1h-1.1zM1091.6 845.0h1.1v1.1h-1.1zM1060.9 838.1h1.1v1.1h-1.1zM1043.7 848.7h1.1v1.1h-1.1zM1066.5 837.7h1.1v1.1h-1.1zM1080.9 829.8h1.1v1.1h-1.1zM1090.5 842.6h1.1v1.1h-1.1zM1071.5 848.8h1.1v1.1h-1.1zM1064.6 828.9h1.1v1.1h-1.1zM1077.9 815.0h1.1v1.1h-1.1zM1109.0 809.0h1.1v1.1h-1.1zM1088.9 812.5h1.1v1.1h-1.1zM1098.0 843.3h1.1v1.1h-1.1zM1072.4 841.1h1.1v1.1h-1.1zM1070.5 847.3h1.1v1.1h-1.1zM1101.9 841.9h1.1v1.1h-1.1zM1101.8 826.6h1.1v1.1h-1.1zM1080.2 846.5h1.1v1.1h-1.1zM1102.3 842.2h1.1v1.1h-1.1zM1047.4 834.3h1.1v1.1h-1.1zM1108.1 841.1h1.1v1.1h-1.1zM1077.4 828.8h1.1v1.1h-1.1zM1068.8 816.9h1.1v1.1h-1.1zM1055.3 839.1h1.1v1.1h-1.1zM1061.8 812.9h1.1v1.1h-1.1zM1089.4 843.7h1.1v1.1h-1.1zM1074.3 831.1h1.1v1.1h-1.1zM1093.6 831.2h1.1v1.1h-1.1zM1063.7 847.6h1.1v1.1h-1.1zM1086.1 823.4h1.1v1.1h-1.1zM1058.1 831.9h1.1v1.1h-1.1zM1090.0 849.5h1.1v1.1h-1.1zM1053.8 832.7h1.1v1.1h-1.1zM1111.4 844.1h1.1v1.1h-1.1zM1102.2 844.8h1.1v1.1h-1.1zM1071.4 848.9h1.1v1.1h-1.1zM1070.9 822.4h1.1v1.1h-1.1zM1088.3 814.3h1.1v1.1h-1.1zM1053.5 841.4h1.1v1.1h-1.1zM1092.9 834.9h1.1v1.1h-1.1zM1059.3 848.5h1.1v1.1h-1.1zM1097.4 824.0h1.1v1.1h-1.1zM1093.0 848.7h1.1v1.1h-1.1zM1098.7 831.9h1.1v1.1h-1.1zM1063.4 842.6h1.1v1.1h-1.1zM1064.1 849.4h1.1v1.1h-1.1zM1120.2 830.2h1.1v1.1h-1.1zM1084.7 823.4h1.1v1.1h-1.1zM1068.1 847.4h1.1v1.1h-1.1zM1048.7 846.3h1.1v1.1h-1.1zM1095.0 836.0h1.1v1.1h-1.1zM1078.5 823.0h1.1v1.1h-1.1zM1072.9 848.3h1.1v1.1h-1.1zM1085.2 830.6h1.1v1.1h-1.1zM1073.1 846.5h1.1v1.1h-1.1zM1086.7 826.0h1.1v1.1h-1.1zM1116.7 838.4h1.1v1.1h-1.1zM1061.4 841.7h1.1v1.1h-1.1zM1080.6 840.7h1.1v1.1h-1.1zM1064.8 840.8h1.1v1.1h-1.1zM1099.1 845.3h1.1v1.1h-1.1zM1095.0 836.5h1.1v1.1h-1.1zM1050.2 837.4h1.1v1.1h-1.1zM1108.9 845.6h1.1v1.1h-1.1zM1113.7 842.8h1.1v1.1h-1.1zM1083.5 837.3h1.1v1.1h-1.1zM1054.5 826.3h1.1v1.1h-1.1zM1096.2 810.8h1.1v1.1h-1.1zM1061.6 840.6h1.1v1.1h-1.1zM1084.3 821.1h1.1v1.1h-1.1zM1097.5 837.8h1.1v1.1h-1.1zM1052.8 841.5h1.1v1.1h-1.1zM1087.0 846.0h1.1v1.1h-1.1zM1111.4 843.6h1.1v1.1h-1.1zM1113.3 841.5h1.1v1.1h-1.1zM1088.5 839.8h1.1v1.1h-1.1zM1111.3 837.4h1.1v1.1h-1.1zM1113.2 845.7h1.1v1.1h-1.1zM1070.0 841.2h1.1v1.1h-1.1zM1100.4 845.6h1.1v1.1h-1.1zM1062.8 826.2h1.1v1.1h-1.1zM1084.8 841.3h1.1v1.1h-1.1zM1091.1 843.4h1.1v1.1h-1.1zM1071.4 844.1h1.1v1.1h-1.1zM1111.8 848.2h1.1v1.1h-1.1zM1095.8 824.5h1.1v1.1h-1.1zM1079.2 844.4h1.1v1.1h-1.1zM1071.1 813.5h1.1v1.1h-1.1zM1087.5 848.7h1.1v1.1h-1.1zM1095.8 845.3h1.1v1.1h-1.1zM1063.7 841.6h1.1v1.1h-1.1zM1064.1 848.0h1.1v1.1h-1.1zM1089.9 837.6h1.1v1.1h-1.1zM1108.9 843.1h1.1v1.1h-1.1zM1106.6 849.3h1.1v1.1h-1.1zM1062.9 819.2h1.1v1.1h-1.1zM1071.9 837.4h1.1v1.1h-1.1zM1060.2 818.4h1.1v1.1h-1.1zM1074.0 836.2h1.1v1.1h-1.1zM1059.2 810.8h1.1v1.1h-1.1zM1086.0 838.4h1.1v1.1h-1.1zM1066.5 839.5h1.1v1.1h-1.1zM1076.3 848.4h1.1v1.1h-1.1zM1074.8 839.0h1.1v1.1h-1.1zM1072.3 821.5h1.1v1.1h-1.1zM1080.9 841.4h1.1v1.1h-1.1zM1080.7 841.1h1.1v1.1h-1.1zM1102.8 848.2h1.1v1.1h-1.1zM1062.5 848.0h1.1v1.1h-1.1zM1069.6 837.8h1.1v1.1h-1.1zM1084.9 832.2h1.1v1.1h-1.1zM1073.4 806.8h1.1v1.1h-1.1zM1057.1 821.3h1.1v1.1h-1.1zM1112.6 843.6h1.1v1.1h-1.1zM1095.1 846.4h1.1v1.1h-1.1zM1096.5 834.6h1.1v1.1h-1.1zM1077.1 841.4h1.1v1.1h-1.1zM1073.4 843.4h1.1v1.1h-1.1zM1056.9 844.7h1.1v1.1h-1.1zM1051.6 842.5h1.1v1.1h-1.1zM1058.3 831.5h1.1v1.1h-1.1zM1109.1 834.3h1.1v1.1h-1.1zM1090.5 806.2h1.1v1.1h-1.1zM1090.4 842.4h1.1v1.1h-1.1zM1074.4 828.3h1.1v1.1h-1.1zM1063.1 836.7h1.1v1.1h-1.1zM1069.2 841.3h1.1v1.1h-1.1zM1086.6 841.1h1.1v1.1h-1.1zM1092.0 840.8h1.1v1.1h-1.1zM1070.7 816.3h1.1v1.1h-1.1zM1088.6 848.4h1.1v1.1h-1.1zM1086.4 821.8h1.1v1.1h-1.1zM1113.2 839.8h1.1v1.1h-1.1zM1065.8 831.8h1.1v1.1h-1.1zM1082.1 845.8h1.1v1.1h-1.1zM1093.5 846.6h1.1v1.1h-1.1zM1115.0 831.7h1.1v1.1h-1.1zM1070.6 827.9h1.1v1.1h-1.1zM1090.8 845.4h1.1v1.1h-1.1zM1064.6 832.2h1.1v1.1h-1.1zM1088.3 843.7h1.1v1.1h-1.1zM1079.2 837.9h1.1v1.1h-1.1zM1090.1 846.6h1.1v1.1h-1.1zM1049.6 846.7h1.1v1.1h-1.1zM1087.8 841.5h1.1v1.1h-1.1zM1068.0 838.2h1.1v1.1h-1.1zM1093.5 845.0h1.1v1.1h-1.1zM1089.4 838.6h1.1v1.1h-1.1zM1079.0 831.5h1.1v1.1h-1.1zM1053.7 817.6h1.1v1.1h-1.1zM1076.1 840.9h1.1v1.1h-1.1zM1102.3 840.3h1.1v1.1h-1.1zM1054.9 835.9h1.1v1.1h-1.1zM1078.2 836.7h1.1v1.1h-1.1zM1077.0 841.9h1.1v1.1h-1.1zM1047.3 836.1h1.1v1.1h-1.1zM1062.4 848.0h1.1v1.1h-1.1zM1099.1 837.2h1.1v1.1h-1.1zM1071.0 834.8h1.1v1.1h-1.1zM1073.8 832.4h1.1v1.1h-1.1zM1085.2 849.3h1.1v1.1h-1.1zM1067.3 848.4h1.1v1.1h-1.1zM1082.6 849.0h1.1v1.1h-1.1zM1062.4 848.9h1.1v1.1h-1.1zM1064.8 845.8h1.1v1.1h-1.1zM1110.9 824.5h1.1v1.1h-1.1zM1069.2 844.5h1.1v1.1h-1.1zM1070.7 831.1h1.1v1.1h-1.1zM1067.5 846.2h1.1v1.1h-1.1zM1062.2 845.7h1.1v1.1h-1.1zM1083.8 837.7h1.1v1.1h-1.1zM1067.3 822.4h1.1v1.1h-1.1zM1079.1 845.4h1.1v1.1h-1.1zM1071.9 832.0h1.1v1.1h-1.1zM1080.5 834.2h1.1v1.1h-1.1zM1076.2 837.4h1.1v1.1h-1.1zM1079.7 843.7h1.1v1.1h-1.1zM1055.0 844.4h1.1v1.1h-1.1zM1093.5 845.3h1.1v1.1h-1.1zM1066.2 839.3h1.1v1.1h-1.1zM1059.0 844.0h1.1v1.1h-1.1zM1094.6 844.2h1.1v1.1h-1.1zM1102.4 840.0h1.1v1.1h-1.1zM1099.2 840.5h1.1v1.1h-1.1zM1089.0 831.2h1.1v1.1h-1.1zM1076.8 839.6h1.1v1.1h-1.1zM1090.3 847.7h1.1v1.1h-1.1zM1096.0 810.4h1.1v1.1h-1.1zM1060.6 838.3h1.1v1.1h-1.1zM1088.4 815.0h1.1v1.1h-1.1zM1101.3 807.9h1.1v1.1h-1.1zM1071.4 845.8h1.1v1.1h-1.1zM1097.0 846.2h1.1v1.1h-1.1zM1062.1 840.6h1.1v1.1h-1.1zM1055.1 844.6h1.1v1.1h-1.1zM1074.7 836.9h1.1v1.1h-1.1zM1102.6 824.8h1.1v1.1h-1.1zM1076.5 849.5h1.1v1.1h-1.1zM1078.4 845.9h1.1v1.1h-1.1zM1084.6 832.9h1.1v1.1h-1.1zM1072.0 847.8h1.1v1.1h-1.1zM1092.4 836.3h1.1v1.1h-1.1zM1086.8 824.8h1.1v1.1h-1.1zM1063.9 834.9h1.1v1.1h-1.1zM1070.4 845.9h1.1v1.1h-1.1zM1062.6 845.1h1.1v1.1h-1.1zM1085.8 842.5h1.1v1.1h-1.1zM1053.2 846.0h1.1v1.1h-1.1zM1056.4 841.8h1.1v1.1h-1.1zM1104.3 844.1h1.1v1.1h-1.1zM1088.2 846.2h1.1v1.1h-1.1zM1093.0 843.7h1.1v1.1h-1.1zM1070.7 822.9h1.1v1.1h-1.1zM1110.0 849.3h1.1v1.1h-1.1zM1066.4 814.0h1.1v1.1h-1.1zM1045.7 844.8h1.1v1.1h-1.1zM1082.4 817.2h1.1v1.1h-1.1zM1094.0 836.3h1.1v1.1h-1.1zM1074.1 833.5h1.1v1.1h-1.1zM1054.1 844.0h1.1v1.1h-1.1zM1085.7 814.4h1.1v1.1h-1.1zM1079.5 839.0h1.1v1.1h-1.1zM1070.6 816.9h1.1v1.1h-1.1zM1071.6 839.2h1.1v1.1h-1.1zM1085.1 821.3h1.1v1.1h-1.1zM1062.5 848.1h1.1v1.1h-1.1zM1053.8 831.5h1.1v1.1h-1.1zM1090.6 844.7h1.1v1.1h-1.1zM1087.6 832.3h1.1v1.1h-1.1zM1106.2 844.8h1.1v1.1h-1.1zM1107.6 847.6h1.1v1.1h-1.1zM1089.6 843.1h1.1v1.1h-1.1zM1069.6 842.6h1.1v1.1h-1.1zM1075.7 845.5h1.1v1.1h-1.1zM1082.8 840.1h1.1v1.1h-1.1zM1081.0 829.9h1.1v1.1h-1.1zM1094.3 832.7h1.1v1.1h-1.1zM1086.5 838.5h1.1v1.1h-1.1zM1093.4 825.4h1.1v1.1h-1.1zM1074.3 843.1h1.1v1.1h-1.1zM1081.0 847.0h1.1v1.1h-1.1zM1094.2 812.4h1.1v1.1h-1.1zM1103.9 846.8h1.1v1.1h-1.1zM1071.9 839.7h1.1v1.1h-1.1zM1092.1 836.6h1.1v1.1h-1.1zM1086.1 842.7h1.1v1.1h-1.1zM1073.0 828.3h1.1v1.1h-1.1zM1090.7 843.4h1.1v1.1h-1.1zM1071.2 816.7h1.1v1.1h-1.1zM1096.6 840.5h1.1v1.1h-1.1zM1098.1 855.7h1.1v1.1h-1.1zM1094.9 853.2h1.1v1.1h-1.1zM1069.2 859.8h1.1v1.1h-1.1zM1097.1 850.2h1.1v1.1h-1.1zM1097.5 855.0h1.1v1.1h-1.1zM1121.4 852.1h1.1v1.1h-1.1zM1078.4 851.9h1.1v1.1h-1.1zM1063.1 861.2h1.1v1.1h-1.1zM1065.5 853.1h1.1v1.1h-1.1zM1069.3 857.7h1.1v1.1h-1.1zM1059.4 856.9h1.1v1.1h-1.1zM1071.2 853.7h1.1v1.1h-1.1zM1076.5 856.4h1.1v1.1h-1.1zM1046.7 855.7h1.1v1.1h-1.1zM1071.8 859.3h1.1v1.1h-1.1zM1078.3 845.1h1.1v1.1h-1.1zM1048.3 846.9h1.1v1.1h-1.1zM1118.2 850.9h1.1v1.1h-1.1zM1102.7 855.3h1.1v1.1h-1.1zM1092.6 852.4h1.1v1.1h-1.1zM1086.4 848.5h1.1v1.1h-1.1zM1103.5 854.5h1.1v1.1h-1.1zM1093.3 861.1h1.1v1.1h-1.1zM1083.1 854.0h1.1v1.1h-1.1zM1104.7 853.1h1.1v1.1h-1.1zM1082.5 855.7h1.1v1.1h-1.1zM1075.0 859.3h1.1v1.1h-1.1zM1084.9 856.9h1.1v1.1h-1.1zM1080.6 859.2h1.1v1.1h-1.1zM1098.0 857.5h1.1v1.1h-1.1zM1098.9 854.8h1.1v1.1h-1.1zM1050.5 854.5h1.1v1.1h-1.1zM1089.8 857.2h1.1v1.1h-1.1zM1075.1 846.1h1.1v1.1h-1.1zM1080.0 852.5h1.1v1.1h-1.1zM1101.8 855.8h1.1v1.1h-1.1zM1062.5 853.2h1.1v1.1h-1.1zM1091.2 856.4h1.1v1.1h-1.1zM1091.4 859.0h1.1v1.1h-1.1zM1092.7 852.4h1.1v1.1h-1.1zM1058.9 856.0h1.1v1.1h-1.1zM1093.2 858.2h1.1v1.1h-1.1zM1100.1 855.1h1.1v1.1h-1.1zM1074.2 864.4h1.1v1.1h-1.1zM1107.3 858.8h1.1v1.1h-1.1zM1077.2 853.5h1.1v1.1h-1.1zM1087.9 854.8h1.1v1.1h-1.1zM1084.0 853.8h1.1v1.1h-1.1zM1060.7 855.4h1.1v1.1h-1.1zM1098.0 851.1h1.1v1.1h-1.1zM1104.1 853.1h1.1v1.1h-1.1zM1108.2 856.1h1.1v1.1h-1.1zM1091.6 850.5h1.1v1.1h-1.1zM1106.4 856.4h1.1v1.1h-1.1zM1068.4 851.4h1.1v1.1h-1.1zM1111.1 850.9h1.1v1.1h-1.1zM1090.7 863.5h1.1v1.1h-1.1zM1086.5 850.6h1.1v1.1h-1.1zM1064.6 854.5h1.1v1.1h-1.1zM1073.7 859.5h1.1v1.1h-1.1zM1064.2 857.5h1.1v1.1h-1.1zM1084.9 850.8h1.1v1.1h-1.1zM1096.7 860.1h1.1v1.1h-1.1zM1057.6 849.0h1.1v1.1h-1.1zM1094.3 853.4h1.1v1.1h-1.1zM1075.3 856.0h1.1v1.1h-1.1zM1056.5 853.0h1.1v1.1h-1.1zM1095.6 855.5h1.1v1.1h-1.1zM1060.7 855.3h1.1v1.1h-1.1zM1082.5 848.7h1.1v1.1h-1.1zM1083.5 853.0h1.1v1.1h-1.1zM1089.0 847.0h1.1v1.1h-1.1zM1089.8 850.4h1.1v1.1h-1.1zM1087.6 856.4h1.1v1.1h-1.1zM1087.0 856.9h1.1v1.1h-1.1zM1095.0 851.2h1.1v1.1h-1.1zM1074.0 856.6h1.1v1.1h-1.1zM1061.2 853.3h1.1v1.1h-1.1zM1095.8 858.8h1.1v1.1h-1.1zM1089.0 854.2h1.1v1.1h-1.1zM1055.6 848.1h1.1v1.1h-1.1zM1096.2 857.3h1.1v1.1h-1.1zM1075.7 860.0h1.1v1.1h-1.1zM1064.0 858.2h1.1v1.1h-1.1zM1069.4 853.5h1.1v1.1h-1.1zM1067.4 860.1h1.1v1.1h-1.1zM1090.0 856.4h1.1v1.1h-1.1zM1069.2 855.0h1.1v1.1h-1.1zM1096.8 856.1h1.1v1.1h-1.1zM1114.8 850.0h1.1v1.1h-1.1zM1062.1 859.8h1.1v1.1h-1.1zM1095.9 854.7h1.1v1.1h-1.1zM1066.7 855.8h1.1v1.1h-1.1zM1087.7 853.7h1.1v1.1h-1.1zM1078.2 860.6h1.1v1.1h-1.1zM1068.8 857.1h1.1v1.1h-1.1zM1073.8 858.7h1.1v1.1h-1.1zM1111.6 857.5h1.1v1.1h-1.1zM1107.1 853.4h1.1v1.1h-1.1zM1069.6 858.4h1.1v1.1h-1.1zM1064.7 851.6h1.1v1.1h-1.1zM1077.1 855.9h1.1v1.1h-1.1zM1090.2 850.6h1.1v1.1h-1.1zM1094.0 853.1h1.1v1.1h-1.1zM1070.2 855.5h1.1v1.1h-1.1zM1068.8 853.6h1.1v1.1h-1.1zM1094.5 853.4h1.1v1.1h-1.1zM1098.1 850.2h1.1v1.1h-1.1zM1087.3 856.2h1.1v1.1h-1.1zM1060.9 858.5h1.1v1.1h-1.1zM1067.9 853.7h1.1v1.1h-1.1zM1089.4 858.8h1.1v1.1h-1.1zM1087.7 854.5h1.1v1.1h-1.1zM1079.8 857.8h1.1v1.1h-1.1zM1088.1 854.1h1.1v1.1h-1.1zM1086.8 850.7h1.1v1.1h-1.1zM1051.3 856.0h1.1v1.1h-1.1zM1088.8 857.7h1.1v1.1h-1.1zM1064.9 853.7h1.1v1.1h-1.1zM1081.5 852.6h1.1v1.1h-1.1zM1083.2 855.6h1.1v1.1h-1.1zM1061.1 854.2h1.1v1.1h-1.1zM1089.8 861.1h1.1v1.1h-1.1zM1082.4 852.1h1.1v1.1h-1.1z" fill="#2a3e9e"/><path d="M1111.6 852.0h1.1v1.1h-1.1zM1044.4 860.1h1.1v1.1h-1.1zM1080.2 846.4h1.1v1.1h-1.1zM1110.6 852.1h1.1v1.1h-1.1zM1102.4 848.9h1.1v1.1h-1.1zM1075.8 845.8h1.1v1.1h-1.1zM1077.7 845.9h1.1v1.1h-1.1zM1053.3 846.7h1.1v1.1h-1.1zM1113.1 852.3h1.1v1.1h-1.1zM1077.4 860.6h1.1v1.1h-1.1zM1047.0 860.2h1.1v1.1h-1.1zM1086.5 846.8h1.1v1.1h-1.1zM1094.6 847.6h1.1v1.1h-1.1zM1109.0 851.4h1.1v1.1h-1.1zM1092.3 859.9h1.1v1.1h-1.1zM1052.3 846.5h1.1v1.1h-1.1zM1106.9 857.1h1.1v1.1h-1.1zM1069.4 861.2h1.1v1.1h-1.1zM1091.7 859.6h1.1v1.1h-1.1zM1097.7 847.9h1.1v1.1h-1.1zM1081.8 861.0h1.1v1.1h-1.1zM1053.7 860.4h1.1v1.1h-1.1zM1086.0 860.0h1.1v1.1h-1.1zM1084.1 846.2h1.1v1.1h-1.1zM1112.4 851.5h1.1v1.1h-1.1zM1111.9 852.8h1.1v1.1h-1.1zM1044.4 847.2h1.1v1.1h-1.1zM1089.5 860.4h1.1v1.1h-1.1zM1102.7 848.6h1.1v1.1h-1.1zM1101.1 858.1h1.1v1.1h-1.1zM1070.1 861.2h1.1v1.1h-1.1zM1104.3 857.1h1.1v1.1h-1.1zM1063.8 845.9h1.1v1.1h-1.1zM1113.8 853.7h1.1v1.1h-1.1zM1105.9 849.9h1.1v1.1h-1.1zM1108.6 856.0h1.1v1.1h-1.1zM1103.6 858.2h1.1v1.1h-1.1zM1108.2 855.6h1.1v1.1h-1.1zM1090.2 846.7h1.1v1.1h-1.1zM1107.9 856.0h1.1v1.1h-1.1zM1099.6 848.3h1.1v1.1h-1.1zM1096.5 847.8h1.1v1.1h-1.1zM1097.4 847.4h1.1v1.1h-1.1zM1108.7 856.7h1.1v1.1h-1.1zM1101.0 848.4h1.1v1.1h-1.1zM1105.1 857.0h1.1v1.1h-1.1zM1111.0 853.7h1.1v1.1h-1.1zM1095.5 847.8h1.1v1.1h-1.1zM1074.4 846.2h1.1v1.1h-1.1zM1110.0 850.6h1.1v1.1h-1.1zM1108.4 856.0h1.1v1.1h-1.1zM1073.5 845.9h1.1v1.1h-1.1zM1061.8 845.8h1.1v1.1h-1.1zM1046.9 859.9h1.1v1.1h-1.1zM1104.9 857.5h1.1v1.1h-1.1zM1046.8 860.1h1.1v1.1h-1.1zM1090.7 859.7h1.1v1.1h-1.1zM1065.6 846.2h1.1v1.1h-1.1zM1083.0 846.6h1.1v1.1h-1.1zM1109.5 851.8h1.1v1.1h-1.1zM1110.4 853.1h1.1v1.1h-1.1zM1082.7 860.4h1.1v1.1h-1.1zM1086.7 860.7h1.1v1.1h-1.1zM1110.3 853.5h1.1v1.1h-1.1zM1112.0 854.9h1.1v1.1h-1.1zM1110.4 851.1h1.1v1.1h-1.1zM1049.1 860.2h1.1v1.1h-1.1zM1092.5 847.2h1.1v1.1h-1.1zM1098.8 848.5h1.1v1.1h-1.1zM1098.4 845.1h1.1v1.1h-1.1zM1077.3 845.5h1.1v1.1h-1.1zM1066.7 845.8h1.1v1.1h-1.1zM1054.0 829.3h1.1v1.1h-1.1zM1087.8 848.8h1.1v1.1h-1.1zM1099.5 849.0h1.1v1.1h-1.1zM1061.4 848.2h1.1v1.1h-1.1zM1118.0 841.9h1.1v1.1h-1.1zM1077.4 841.4h1.1v1.1h-1.1zM1075.5 837.5h1.1v1.1h-1.1zM1067.0 849.4h1.1v1.1h-1.1zM1085.0 848.3h1.1v1.1h-1.1zM1064.8 835.1h1.1v1.1h-1.1zM1078.0 849.1h1.1v1.1h-1.1zM1080.1 833.3h1.1v1.1h-1.1zM1082.7 845.8h1.1v1.1h-1.1zM1088.7 844.7h1.1v1.1h-1.1zM1078.2 848.6h1.1v1.1h-1.1zM1073.0 834.1h1.1v1.1h-1.1zM1109.3 845.5h1.1v1.1h-1.1zM1092.3 849.1h1.1v1.1h-1.1zM1088.3 847.0h1.1v1.1h-1.1zM1080.5 839.0h1.1v1.1h-1.1zM1083.8 830.8h1.1v1.1h-1.1zM1064.0 846.8h1.1v1.1h-1.1zM1108.3 848.0h1.1v1.1h-1.1zM1088.3 848.2h1.1v1.1h-1.1zM1088.3 848.9h1.1v1.1h-1.1zM1090.4 842.2h1.1v1.1h-1.1zM1100.1 835.2h1.1v1.1h-1.1zM1067.2 841.2h1.1v1.1h-1.1zM1114.7 844.8h1.1v1.1h-1.1zM1085.0 847.3h1.1v1.1h-1.1zM1101.2 844.6h1.1v1.1h-1.1zM1104.7 830.8h1.1v1.1h-1.1zM1081.3 832.1h1.1v1.1h-1.1zM1043.5 829.3h1.1v1.1h-1.1zM1083.0 833.2h1.1v1.1h-1.1zM1075.9 845.1h1.1v1.1h-1.1zM1058.9 840.1h1.1v1.1h-1.1zM1107.5 839.9h1.1v1.1h-1.1zM1075.9 841.0h1.1v1.1h-1.1zM1056.8 833.2h1.1v1.1h-1.1zM1095.2 812.1h1.1v1.1h-1.1zM1090.1 833.3h1.1v1.1h-1.1zM1065.7 827.9h1.1v1.1h-1.1zM1077.2 847.1h1.1v1.1h-1.1zM1056.9 837.1h1.1v1.1h-1.1zM1067.8 829.7h1.1v1.1h-1.1zM1076.0 843.3h1.1v1.1h-1.1zM1061.0 848.4h1.1v1.1h-1.1zM1045.9 848.7h1.1v1.1h-1.1zM1082.8 845.8h1.1v1.1h-1.1zM1081.5 845.0h1.1v1.1h-1.1zM1070.2 837.1h1.1v1.1h-1.1zM1062.5 831.4h1.1v1.1h-1.1zM1091.0 848.7h1.1v1.1h-1.1zM1075.1 834.0h1.1v1.1h-1.1zM1063.0 845.0h1.1v1.1h-1.1zM1089.6 838.2h1.1v1.1h-1.1zM1102.9 844.4h1.1v1.1h-1.1zM1080.8 848.5h1.1v1.1h-1.1zM1076.1 834.5h1.1v1.1h-1.1zM1117.1 846.2h1.1v1.1h-1.1zM1071.1 849.0h1.1v1.1h-1.1zM1088.4 847.0h1.1v1.1h-1.1zM1106.7 840.5h1.1v1.1h-1.1zM1082.4 845.5h1.1v1.1h-1.1zM1080.0 847.8h1.1v1.1h-1.1zM1102.8 828.3h1.1v1.1h-1.1zM1084.9 849.0h1.1v1.1h-1.1zM1050.4 823.0h1.1v1.1h-1.1zM1074.5 843.2h1.1v1.1h-1.1zM1089.4 840.9h1.1v1.1h-1.1zM1097.9 842.1h1.1v1.1h-1.1zM1050.0 813.4h1.1v1.1h-1.1zM1068.6 839.7h1.1v1.1h-1.1zM1079.2 822.7h1.1v1.1h-1.1zM1081.0 847.9h1.1v1.1h-1.1zM1092.1 846.8h1.1v1.1h-1.1zM1054.1 831.8h1.1v1.1h-1.1zM1070.1 836.0h1.1v1.1h-1.1zM1081.0 846.6h1.1v1.1h-1.1zM1055.6 845.6h1.1v1.1h-1.1zM1062.3 810.3h1.1v1.1h-1.1zM1079.6 845.1h1.1v1.1h-1.1zM1073.9 840.0h1.1v1.1h-1.1zM1084.2 849.0h1.1v1.1h-1.1zM1079.3 845.0h1.1v1.1h-1.1zM1085.1 844.8h1.1v1.1h-1.1zM1098.9 818.2h1.1v1.1h-1.1zM1087.7 837.3h1.1v1.1h-1.1zM1065.4 841.4h1.1v1.1h-1.1zM1065.5 832.4h1.1v1.1h-1.1zM1085.5 841.3h1.1v1.1h-1.1zM1077.0 845.0h1.1v1.1h-1.1zM1060.2 812.2h1.1v1.1h-1.1zM1055.8 841.0h1.1v1.1h-1.1zM1092.0 843.3h1.1v1.1h-1.1zM1069.1 814.5h1.1v1.1h-1.1zM1099.4 826.9h1.1v1.1h-1.1zM1087.9 845.2h1.1v1.1h-1.1zM1103.0 844.0h1.1v1.1h-1.1zM1093.2 845.9h1.1v1.1h-1.1zM1076.1 850.2h1.1v1.1h-1.1zM1056.6 848.8h1.1v1.1h-1.1zM1093.8 852.1h1.1v1.1h-1.1zM1097.2 857.0h1.1v1.1h-1.1zM1122.0 856.2h1.1v1.1h-1.1zM1079.1 858.7h1.1v1.1h-1.1zM1080.6 855.0h1.1v1.1h-1.1zM1085.7 854.8h1.1v1.1h-1.1zM1077.1 854.3h1.1v1.1h-1.1zM1056.2 850.6h1.1v1.1h-1.1zM1089.6 852.2h1.1v1.1h-1.1zM1046.9 857.2h1.1v1.1h-1.1zM1110.7 858.2h1.1v1.1h-1.1zM1091.4 858.8h1.1v1.1h-1.1zM1067.8 857.3h1.1v1.1h-1.1zM1074.4 852.0h1.1v1.1h-1.1zM1076.9 847.3h1.1v1.1h-1.1zM1060.0 859.0h1.1v1.1h-1.1zM1072.6 850.8h1.1v1.1h-1.1zM1080.9 850.7h1.1v1.1h-1.1zM1079.9 854.9h1.1v1.1h-1.1zM1070.6 852.1h1.1v1.1h-1.1zM1083.1 853.5h1.1v1.1h-1.1zM1074.1 853.5h1.1v1.1h-1.1zM1098.5 849.4h1.1v1.1h-1.1zM1087.1 857.6h1.1v1.1h-1.1zM1057.6 859.4h1.1v1.1h-1.1zM1080.0 850.6h1.1v1.1h-1.1zM1062.7 852.3h1.1v1.1h-1.1zM1062.5 857.9h1.1v1.1h-1.1zM1056.0 855.2h1.1v1.1h-1.1zM1065.9 853.5h1.1v1.1h-1.1zM1054.5 856.5h1.1v1.1h-1.1zM1083.4 859.6h1.1v1.1h-1.1zM1078.0 856.2h1.1v1.1h-1.1zM1111.2 851.4h1.1v1.1h-1.1zM1106.1 852.7h1.1v1.1h-1.1zM1097.4 852.6h1.1v1.1h-1.1zM1091.2 862.4h1.1v1.1h-1.1zM1042.5 851.2h1.1v1.1h-1.1zM1086.6 853.4h1.1v1.1h-1.1zM1054.5 852.7h1.1v1.1h-1.1zM1079.4 856.6h1.1v1.1h-1.1zM1094.3 852.0h1.1v1.1h-1.1zM1108.7 854.4h1.1v1.1h-1.1zM1052.4 856.8h1.1v1.1h-1.1zM1091.0 856.1h1.1v1.1h-1.1zM1047.5 854.9h1.1v1.1h-1.1zM1114.5 857.0h1.1v1.1h-1.1zM1086.9 853.1h1.1v1.1h-1.1zM1075.5 856.3h1.1v1.1h-1.1zM1086.7 845.6h1.1v1.1h-1.1zM1091.4 859.9h1.1v1.1h-1.1zM1081.2 856.5h1.1v1.1h-1.1zM1068.9 861.0h1.1v1.1h-1.1zM1057.6 860.3h1.1v1.1h-1.1zM1060.3 862.4h1.1v1.1h-1.1zM1097.8 859.4h1.1v1.1h-1.1zM1097.0 854.2h1.1v1.1h-1.1zM1051.9 858.8h1.1v1.1h-1.1zM1104.3 860.1h1.1v1.1h-1.1zM1078.5 854.7h1.1v1.1h-1.1zM1080.1 854.3h1.1v1.1h-1.1zM1071.4 855.1h1.1v1.1h-1.1zM1043.2 857.6h1.1v1.1h-1.1zM1072.5 853.5h1.1v1.1h-1.1zM1079.9 856.1h1.1v1.1h-1.1zM1092.1 853.2h1.1v1.1h-1.1zM1072.4 859.0h1.1v1.1h-1.1zM1050.6 850.4h1.1v1.1h-1.1zM1098.5 853.3h1.1v1.1h-1.1zM1051.1 853.0h1.1v1.1h-1.1zM1072.6 852.3h1.1v1.1h-1.1zM1091.2 855.2h1.1v1.1h-1.1zM1075.0 857.7h1.1v1.1h-1.1zM1094.3 854.5h1.1v1.1h-1.1zM1084.3 853.7h1.1v1.1h-1.1zM1097.9 853.6h1.1v1.1h-1.1zM1096.6 858.2h1.1v1.1h-1.1zM1056.6 859.4h1.1v1.1h-1.1zM1047.2 858.0h1.1v1.1h-1.1zM1088.6 856.5h1.1v1.1h-1.1zM1073.8 858.6h1.1v1.1h-1.1zM1099.5 851.6h1.1v1.1h-1.1zM1088.0 852.4h1.1v1.1h-1.1zM1089.5 848.3h1.1v1.1h-1.1zM1109.8 861.4h1.1v1.1h-1.1zM1089.5 848.8h1.1v1.1h-1.1zM1088.7 857.8h1.1v1.1h-1.1zM1077.9 847.4h1.1v1.1h-1.1zM1075.5 851.1h1.1v1.1h-1.1zM1080.0 849.6h1.1v1.1h-1.1zM1062.2 852.9h1.1v1.1h-1.1zM1078.0 848.1h1.1v1.1h-1.1zM1065.8 859.0h1.1v1.1h-1.1zM1081.7 854.4h1.1v1.1h-1.1zM1052.5 848.4h1.1v1.1h-1.1zM1073.2 855.6h1.1v1.1h-1.1zM1067.1 862.4h1.1v1.1h-1.1zM1077.3 859.9h1.1v1.1h-1.1zM1099.5 856.6h1.1v1.1h-1.1zM1095.0 854.6h1.1v1.1h-1.1zM1112.0 852.6h1.1v1.1h-1.1zM1089.5 857.0h1.1v1.1h-1.1zM1060.0 855.3h1.1v1.1h-1.1zM1074.6 858.9h1.1v1.1h-1.1zM1088.7 851.8h1.1v1.1h-1.1zM1067.9 851.5h1.1v1.1h-1.1z" fill="#2b47a4"/><path d="M1098.4 858.0h1.1v1.1h-1.1zM1078.1 847.0h1.1v1.1h-1.1zM1094.6 858.6h1.1v1.1h-1.1zM1095.3 848.1h1.1v1.1h-1.1zM1097.6 858.1h1.1v1.1h-1.1zM1099.7 857.7h1.1v1.1h-1.1zM1104.6 856.4h1.1v1.1h-1.1zM1104.8 856.4h1.1v1.1h-1.1zM1097.6 858.1h1.1v1.1h-1.1zM1103.2 857.1h1.1v1.1h-1.1zM1099.2 858.0h1.1v1.1h-1.1zM1058.1 846.9h1.1v1.1h-1.1zM1101.5 857.0h1.1v1.1h-1.1zM1093.7 847.9h1.1v1.1h-1.1zM1046.7 859.0h1.1v1.1h-1.1zM1085.8 847.5h1.1v1.1h-1.1zM1062.6 860.1h1.1v1.1h-1.1zM1072.3 846.5h1.1v1.1h-1.1zM1107.2 854.5h1.1v1.1h-1.1zM1093.5 847.8h1.1v1.1h-1.1zM1095.4 858.3h1.1v1.1h-1.1zM1044.6 858.8h1.1v1.1h-1.1zM1101.3 856.8h1.1v1.1h-1.1zM1065.3 860.6h1.1v1.1h-1.1zM1073.2 846.7h1.1v1.1h-1.1zM1069.0 860.1h1.1v1.1h-1.1zM1100.4 857.1h1.1v1.1h-1.1zM1105.5 855.2h1.1v1.1h-1.1zM1045.2 848.2h1.1v1.1h-1.1zM1073.4 860.3h1.1v1.1h-1.1zM1108.2 852.7h1.1v1.1h-1.1zM1108.6 854.9h1.1v1.1h-1.1zM1108.7 852.6h1.1v1.1h-1.1zM1060.9 860.3h1.1v1.1h-1.1zM1106.4 856.2h1.1v1.1h-1.1zM1096.8 848.5h1.1v1.1h-1.1zM1107.6 855.2h1.1v1.1h-1.1zM1100.0 857.7h1.1v1.1h-1.1zM1088.7 847.8h1.1v1.1h-1.1zM1107.2 851.4h1.1v1.1h-1.1zM1102.7 856.6h1.1v1.1h-1.1zM1057.8 860.4h1.1v1.1h-1.1zM1078.3 860.0h1.1v1.1h-1.1zM1101.2 856.9h1.1v1.1h-1.1zM1091.9 848.0h1.1v1.1h-1.1zM1085.2 847.0h1.1v1.1h-1.1zM1102.2 849.9h1.1v1.1h-1.1zM1105.6 856.2h1.1v1.1h-1.1zM1094.5 858.2h1.1v1.1h-1.1zM1090.1 847.9h1.1v1.1h-1.1zM1105.6 856.1h1.1v1.1h-1.1zM1071.0 846.5h1.1v1.1h-1.1zM1105.9 854.8h1.1v1.1h-1.1zM1107.3 854.0h1.1v1.1h-1.1zM1106.3 855.4h1.1v1.1h-1.1zM1080.5 846.8h1.1v1.1h-1.1zM1099.4 849.4h1.1v1.1h-1.1zM1105.2 855.3h1.1v1.1h-1.1zM1060.6 846.8h1.1v1.1h-1.1zM1052.2 860.0h1.1v1.1h-1.1zM1094.5 858.6h1.1v1.1h-1.1zM1048.1 847.8h1.1v1.1h-1.1zM1051.9 859.7h1.1v1.1h-1.1zM1104.9 855.5h1.1v1.1h-1.1zM1103.0 850.4h1.1v1.1h-1.1zM1071.8 846.6h1.1v1.1h-1.1zM1106.1 850.7h1.1v1.1h-1.1zM1081.7 847.2h1.1v1.1h-1.1zM1075.3 860.4h1.1v1.1h-1.1zM1107.5 854.6h1.1v1.1h-1.1zM1047.2 859.3h1.1v1.1h-1.1z" fill="#2d50aa"/><path d="M1082.0 847.9h1.1v1.1h-1.1zM1058.2 847.3h1.1v1.1h-1.1zM1075.4 847.1h1.1v1.1h-1.1zM1103.2 852.3h1.1v1.1h-1.1zM1105.4 854.6h1.1v1.1h-1.1zM1105.1 854.5h1.1v1.1h-1.1zM1045.5 858.8h1.1v1.1h-1.1zM1101.2 855.9h1.1v1.1h-1.1zM1100.2 856.5h1.1v1.1h-1.1zM1081.6 847.4h1.1v1.1h-1.1zM1105.0 855.1h1.1v1.1h-1.1zM1096.2 857.7h1.1v1.1h-1.1zM1050.5 858.8h1.1v1.1h-1.1zM1090.2 858.5h1.1v1.1h-1.1zM1095.4 849.3h1.1v1.1h-1.1zM1076.0 859.7h1.1v1.1h-1.1zM1099.9 850.4h1.1v1.1h-1.1zM1083.8 848.1h1.1v1.1h-1.1zM1105.5 854.6h1.1v1.1h-1.1zM1055.3 847.4h1.1v1.1h-1.1zM1082.4 859.5h1.1v1.1h-1.1zM1103.2 851.0h1.1v1.1h-1.1zM1059.7 859.6h1.1v1.1h-1.1zM1103.1 855.3h1.1v1.1h-1.1zM1088.8 848.1h1.1v1.1h-1.1zM1064.0 859.7h1.1v1.1h-1.1zM1098.6 850.3h1.1v1.1h-1.1zM1091.5 848.5h1.1v1.1h-1.1zM1078.7 859.7h1.1v1.1h-1.1zM1086.0 848.2h1.1v1.1h-1.1zM1052.1 847.9h1.1v1.1h-1.1zM1101.3 850.4h1.1v1.1h-1.1zM1058.5 847.2h1.1v1.1h-1.1zM1091.8 848.4h1.1v1.1h-1.1zM1098.9 849.9h1.1v1.1h-1.1zM1076.4 859.7h1.1v1.1h-1.1zM1074.7 859.5h1.1v1.1h-1.1zM1098.8 850.5h1.1v1.1h-1.1zM1103.9 852.6h1.1v1.1h-1.1zM1096.1 857.4h1.1v1.1h-1.1zM1062.0 859.8h1.1v1.1h-1.1zM1073.7 847.1h1.1v1.1h-1.1zM1105.9 853.1h1.1v1.1h-1.1zM1101.9 856.2h1.1v1.1h-1.1zM1083.3 848.0h1.1v1.1h-1.1zM1073.9 847.4h1.1v1.1h-1.1zM1088.5 848.0h1.1v1.1h-1.1zM1103.6 854.3h1.1v1.1h-1.1zM1044.1 858.3h1.1v1.1h-1.1zM1099.7 849.9h1.1v1.1h-1.1zM1104.6 854.2h1.1v1.1h-1.1zM1101.1 856.0h1.1v1.1h-1.1zM1051.4 848.1h1.1v1.1h-1.1zM1104.1 853.0h1.1v1.1h-1.1zM1102.9 851.5h1.1v1.1h-1.1zM1082.8 847.5h1.1v1.1h-1.1zM1078.3 847.4h1.1v1.1h-1.1zM1096.0 857.5h1.1v1.1h-1.1zM1105.6 853.3h1.1v1.1h-1.1zM1096.3 849.4h1.1v1.1h-1.1zM1097.8 857.4h1.1v1.1h-1.1zM1052.8 847.8h1.1v1.1h-1.1zM1082.5 859.6h1.1v1.1h-1.1zM1105.0 855.1h1.1v1.1h-1.1zM1095.5 849.5h1.1v1.1h-1.1zM1095.8 857.8h1.1v1.1h-1.1zM1046.5 848.4h1.1v1.1h-1.1zM1102.7 851.3h1.1v1.1h-1.1zM1094.1 849.2h1.1v1.1h-1.1zM1105.0 853.1h1.1v1.1h-1.1zM1075.5 847.4h1.1v1.1h-1.1zM1057.8 847.5h1.1v1.1h-1.1zM1066.0 859.6h1.1v1.1h-1.1zM1043.8 849.1h1.1v1.1h-1.1zM1101.1 850.6h1.1v1.1h-1.1zM1104.3 852.1h1.1v1.1h-1.1zM1077.3 847.6h1.1v1.1h-1.1zM1100.8 851.0h1.1v1.1h-1.1zM1058.0 859.4h1.1v1.1h-1.1zM1103.7 851.9h1.1v1.1h-1.1zM1100.4 851.0h1.1v1.1h-1.1zM1105.4 853.7h1.1v1.1h-1.1zM1073.4 859.6h1.1v1.1h-1.1zM1066.2 847.0h1.1v1.1h-1.1zM1099.4 857.0h1.1v1.1h-1.1zM1100.5 850.6h1.1v1.1h-1.1zM1102.9 854.4h1.1v1.1h-1.1zM1058.4 847.7h1.1v1.1h-1.1zM1104.8 852.8h1.1v1.1h-1.1zM1085.3 848.0h1.1v1.1h-1.1z" fill="#2e58af"/><path d="M1090.9 849.1h1.1v1.1h-1.1zM1083.0 858.6h1.1v1.1h-1.1zM1098.5 850.6h1.1v1.1h-1.1zM1099.8 855.0h1.1v1.1h-1.1zM1100.4 851.4h1.1v1.1h-1.1zM1065.1 847.7h1.1v1.1h-1.1zM1099.3 856.0h1.1v1.1h-1.1zM1072.9 859.3h1.1v1.1h-1.1zM1095.8 857.1h1.1v1.1h-1.1zM1073.5 847.8h1.1v1.1h-1.1zM1101.2 853.5h1.1v1.1h-1.1zM1088.2 848.6h1.1v1.1h-1.1zM1092.8 857.4h1.1v1.1h-1.1zM1100.9 853.7h1.1v1.1h-1.1zM1067.0 847.5h1.1v1.1h-1.1zM1100.6 852.1h1.1v1.1h-1.1zM1058.6 848.0h1.1v1.1h-1.1zM1070.0 859.1h1.1v1.1h-1.1zM1091.4 857.5h1.1v1.1h-1.1zM1061.0 859.4h1.1v1.1h-1.1zM1073.8 847.6h1.1v1.1h-1.1zM1100.5 852.3h1.1v1.1h-1.1zM1100.4 854.8h1.1v1.1h-1.1zM1077.0 858.9h1.1v1.1h-1.1zM1077.7 859.1h1.1v1.1h-1.1zM1090.3 858.0h1.1v1.1h-1.1zM1098.9 856.3h1.1v1.1h-1.1zM1085.9 858.7h1.1v1.1h-1.1zM1050.1 858.5h1.1v1.1h-1.1zM1098.1 856.1h1.1v1.1h-1.1zM1072.8 847.7h1.1v1.1h-1.1zM1096.2 850.3h1.1v1.1h-1.1zM1075.8 859.3h1.1v1.1h-1.1zM1074.8 859.3h1.1v1.1h-1.1zM1047.3 848.9h1.1v1.1h-1.1zM1095.8 856.6h1.1v1.1h-1.1zM1078.7 848.1h1.1v1.1h-1.1zM1047.7 858.0h1.1v1.1h-1.1zM1094.4 856.8h1.1v1.1h-1.1zM1046.1 848.9h1.1v1.1h-1.1zM1060.7 859.2h1.1v1.1h-1.1zM1097.5 856.5h1.1v1.1h-1.1zM1051.8 848.4h1.1v1.1h-1.1zM1049.1 858.1h1.1v1.1h-1.1zM1064.5 847.5h1.1v1.1h-1.1zM1095.0 849.8h1.1v1.1h-1.1zM1098.3 850.5h1.1v1.1h-1.1zM1100.4 855.9h1.1v1.1h-1.1zM1094.5 857.3h1.1v1.1h-1.1zM1067.9 847.7h1.1v1.1h-1.1zM1074.6 847.8h1.1v1.1h-1.1zM1051.3 858.4h1.1v1.1h-1.1zM1084.6 858.4h1.1v1.1h-1.1zM1082.5 848.0h1.1v1.1h-1.1zM1043.1 857.1h1.1v1.1h-1.1zM1050.5 858.4h1.1v1.1h-1.1zM1070.9 847.9h1.1v1.1h-1.1zM1100.3 852.3h1.1v1.1h-1.1zM1090.8 849.2h1.1v1.1h-1.1zM1057.2 848.0h1.1v1.1h-1.1zM1046.1 857.7h1.1v1.1h-1.1zM1087.1 848.9h1.1v1.1h-1.1zM1087.6 848.7h1.1v1.1h-1.1zM1074.0 859.3h1.1v1.1h-1.1zM1095.0 850.2h1.1v1.1h-1.1zM1095.8 856.5h1.1v1.1h-1.1zM1048.6 849.0h1.1v1.1h-1.1zM1069.8 847.5h1.1v1.1h-1.1zM1047.2 858.2h1.1v1.1h-1.1zM1067.7 847.5h1.1v1.1h-1.1zM1095.1 856.8h1.1v1.1h-1.1zM1050.5 858.5h1.1v1.1h-1.1zM1089.8 849.2h1.1v1.1h-1.1z" fill="#2f61b5"/><path d="M1084.4 858.2h1.1v1.1h-1.1zM1095.3 856.2h1.1v1.1h-1.1zM1044.3 857.2h1.1v1.1h-1.1zM1074.4 858.9h1.1v1.1h-1.1zM1076.7 848.2h1.1v1.1h-1.1zM1083.8 848.7h1.1v1.1h-1.1zM1087.3 857.8h1.1v1.1h-1.1zM1084.4 849.0h1.1v1.1h-1.1zM1090.6 857.2h1.1v1.1h-1.1zM1051.5 849.1h1.1v1.1h-1.1zM1052.9 848.7h1.1v1.1h-1.1zM1055.7 848.7h1.1v1.1h-1.1zM1056.6 858.5h1.1v1.1h-1.1zM1063.3 858.8h1.1v1.1h-1.1zM1054.8 848.5h1.1v1.1h-1.1zM1085.7 849.0h1.1v1.1h-1.1zM1073.2 858.9h1.1v1.1h-1.1zM1064.5 848.0h1.1v1.1h-1.1zM1070.3 858.7h1.1v1.1h-1.1zM1084.9 848.8h1.1v1.1h-1.1zM1098.0 852.0h1.1v1.1h-1.1zM1047.7 849.6h1.1v1.1h-1.1zM1095.5 851.1h1.1v1.1h-1.1zM1099.6 853.7h1.1v1.1h-1.1zM1079.6 848.4h1.1v1.1h-1.1zM1064.9 848.0h1.1v1.1h-1.1zM1094.7 851.0h1.1v1.1h-1.1zM1071.5 859.0h1.1v1.1h-1.1zM1065.6 848.1h1.1v1.1h-1.1zM1069.7 858.9h1.1v1.1h-1.1zM1089.8 849.4h1.1v1.1h-1.1zM1097.8 854.8h1.1v1.1h-1.1zM1048.9 849.2h1.1v1.1h-1.1zM1078.0 858.5h1.1v1.1h-1.1zM1068.8 848.0h1.1v1.1h-1.1zM1098.3 852.1h1.1v1.1h-1.1zM1050.4 849.2h1.1v1.1h-1.1zM1096.4 855.6h1.1v1.1h-1.1zM1094.6 856.3h1.1v1.1h-1.1zM1095.5 851.2h1.1v1.1h-1.1zM1079.8 848.4h1.1v1.1h-1.1zM1060.5 858.6h1.1v1.1h-1.1zM1076.2 858.9h1.1v1.1h-1.1zM1080.6 858.5h1.1v1.1h-1.1zM1078.9 848.2h1.1v1.1h-1.1zM1098.3 851.7h1.1v1.1h-1.1zM1098.7 853.4h1.1v1.1h-1.1zM1060.7 858.8h1.1v1.1h-1.1zM1096.8 855.4h1.1v1.1h-1.1zM1091.0 857.3h1.1v1.1h-1.1zM1098.9 854.0h1.1v1.1h-1.1zM1098.2 852.7h1.1v1.1h-1.1zM1054.1 848.5h1.1v1.1h-1.1zM1088.0 849.1h1.1v1.1h-1.1zM1099.1 854.9h1.1v1.1h-1.1zM1097.7 855.4h1.1v1.1h-1.1zM1088.3 857.8h1.1v1.1h-1.1zM1079.0 848.3h1.1v1.1h-1.1zM1095.0 856.0h1.1v1.1h-1.1zM1098.4 854.7h1.1v1.1h-1.1zM1051.7 858.0h1.1v1.1h-1.1zM1058.0 858.4h1.1v1.1h-1.1zM1099.9 854.2h1.1v1.1h-1.1zM1045.4 857.2h1.1v1.1h-1.1zM1077.2 848.2h1.1v1.1h-1.1zM1090.8 849.6h1.1v1.1h-1.1zM1084.0 858.3h1.1v1.1h-1.1zM1043.0 850.5h1.1v1.1h-1.1zM1049.8 849.3h1.1v1.1h-1.1zM1084.2 848.9h1.1v1.1h-1.1zM1064.8 858.9h1.1v1.1h-1.1zM1045.9 849.8h1.1v1.1h-1.1zM1098.7 852.5h1.1v1.1h-1.1zM1095.6 855.7h1.1v1.1h-1.1zM1079.9 848.5h1.1v1.1h-1.1zM1058.6 848.6h1.1v1.1h-1.1zM1092.6 850.4h1.1v1.1h-1.1zM1053.2 858.2h1.1v1.1h-1.1zM1081.5 858.2h1.1v1.1h-1.1zM1053.5 858.2h1.1v1.1h-1.1zM1046.9 849.3h1.1v1.1h-1.1zM1058.4 848.2h1.1v1.1h-1.1zM1046.0 849.5h1.1v1.1h-1.1z" fill="#3169bb"/><path d="M1047.9 850.0h1.1v1.1h-1.1zM1044.1 856.1h1.1v1.1h-1.1zM1072.2 848.4h1.1v1.1h-1.1zM1097.8 853.6h1.1v1.1h-1.1zM1079.4 849.0h1.1v1.1h-1.1zM1045.3 856.7h1.1v1.1h-1.1zM1094.7 855.0h1.1v1.1h-1.1zM1082.6 849.0h1.1v1.1h-1.1zM1063.2 848.7h1.1v1.1h-1.1zM1064.3 858.3h1.1v1.1h-1.1zM1057.1 858.2h1.1v1.1h-1.1zM1088.2 849.8h1.1v1.1h-1.1zM1092.5 851.0h1.1v1.1h-1.1zM1089.3 850.3h1.1v1.1h-1.1zM1074.1 858.3h1.1v1.1h-1.1zM1094.9 855.3h1.1v1.1h-1.1zM1058.6 848.7h1.1v1.1h-1.1zM1086.2 849.4h1.1v1.1h-1.1zM1081.4 857.8h1.1v1.1h-1.1zM1097.9 852.8h1.1v1.1h-1.1zM1089.6 856.7h1.1v1.1h-1.1zM1070.7 848.5h1.1v1.1h-1.1zM1059.5 848.7h1.1v1.1h-1.1zM1070.3 848.5h1.1v1.1h-1.1zM1088.8 850.0h1.1v1.1h-1.1zM1097.5 853.8h1.1v1.1h-1.1zM1070.4 848.4h1.1v1.1h-1.1zM1048.0 849.8h1.1v1.1h-1.1zM1045.4 856.9h1.1v1.1h-1.1zM1093.0 855.9h1.1v1.1h-1.1zM1047.7 857.3h1.1v1.1h-1.1zM1043.0 851.3h1.1v1.1h-1.1zM1065.5 858.4h1.1v1.1h-1.1zM1097.1 852.6h1.1v1.1h-1.1zM1095.3 855.6h1.1v1.1h-1.1zM1086.9 849.5h1.1v1.1h-1.1zM1091.4 850.6h1.1v1.1h-1.1zM1043.3 851.2h1.1v1.1h-1.1zM1057.9 849.0h1.1v1.1h-1.1zM1061.3 858.5h1.1v1.1h-1.1zM1093.2 856.1h1.1v1.1h-1.1zM1096.3 853.6h1.1v1.1h-1.1zM1074.3 858.4h1.1v1.1h-1.1zM1092.0 856.6h1.1v1.1h-1.1zM1051.2 849.4h1.1v1.1h-1.1zM1086.4 849.6h1.1v1.1h-1.1zM1091.8 856.7h1.1v1.1h-1.1zM1069.4 858.6h1.1v1.1h-1.1zM1095.3 851.9h1.1v1.1h-1.1zM1067.9 858.7h1.1v1.1h-1.1zM1090.4 856.5h1.1v1.1h-1.1zM1069.9 848.4h1.1v1.1h-1.1zM1086.5 849.6h1.1v1.1h-1.1zM1096.1 852.3h1.1v1.1h-1.1zM1094.7 855.2h1.1v1.1h-1.1zM1092.2 850.9h1.1v1.1h-1.1zM1082.7 849.1h1.1v1.1h-1.1zM1077.8 858.1h1.1v1.1h-1.1zM1089.0 857.0h1.1v1.1h-1.1zM1084.6 849.3h1.1v1.1h-1.1zM1083.1 857.7h1.1v1.1h-1.1zM1076.6 858.4h1.1v1.1h-1.1zM1086.7 857.5h1.1v1.1h-1.1zM1095.2 855.3h1.1v1.1h-1.1zM1089.4 856.8h1.1v1.1h-1.1zM1093.2 851.1h1.1v1.1h-1.1zM1088.3 850.2h1.1v1.1h-1.1zM1095.6 855.0h1.1v1.1h-1.1zM1075.0 848.8h1.1v1.1h-1.1zM1091.0 856.4h1.1v1.1h-1.1zM1066.5 858.3h1.1v1.1h-1.1zM1043.3 856.4h1.1v1.1h-1.1zM1084.0 849.2h1.1v1.1h-1.1zM1070.1 848.4h1.1v1.1h-1.1zM1094.6 855.8h1.1v1.1h-1.1zM1051.5 857.5h1.1v1.1h-1.1zM1094.4 851.3h1.1v1.1h-1.1zM1092.3 851.0h1.1v1.1h-1.1zM1096.3 853.3h1.1v1.1h-1.1zM1094.9 851.7h1.1v1.1h-1.1zM1076.6 858.4h1.1v1.1h-1.1zM1080.1 858.0h1.1v1.1h-1.1zM1062.1 858.5h1.1v1.1h-1.1z" fill="#3276bb"/><path d="M1070.2 848.8h1.1v1.1h-1.1zM1044.6 851.6h1.1v1.1h-1.1zM1043.2 855.6h1.1v1.1h-1.1zM1058.7 857.7h1.1v1.1h-1.1zM1092.0 851.2h1.1v1.1h-1.1zM1080.3 849.2h1.1v1.1h-1.1zM1056.1 857.5h1.1v1.1h-1.1zM1055.8 849.4h1.1v1.1h-1.1zM1060.8 857.9h1.1v1.1h-1.1zM1060.4 848.9h1.1v1.1h-1.1zM1092.2 855.1h1.1v1.1h-1.1zM1044.0 855.8h1.1v1.1h-1.1zM1085.3 849.9h1.1v1.1h-1.1zM1054.1 849.5h1.1v1.1h-1.1zM1049.1 857.0h1.1v1.1h-1.1zM1046.0 856.0h1.1v1.1h-1.1zM1080.4 857.7h1.1v1.1h-1.1zM1093.0 854.8h1.1v1.1h-1.1zM1084.5 857.0h1.1v1.1h-1.1zM1065.6 858.1h1.1v1.1h-1.1zM1047.5 856.4h1.1v1.1h-1.1zM1045.1 851.3h1.1v1.1h-1.1zM1085.3 850.1h1.1v1.1h-1.1zM1077.0 849.1h1.1v1.1h-1.1zM1089.6 856.3h1.1v1.1h-1.1zM1091.1 855.8h1.1v1.1h-1.1zM1087.4 850.5h1.1v1.1h-1.1zM1063.6 857.9h1.1v1.1h-1.1zM1092.5 851.5h1.1v1.1h-1.1zM1074.8 858.0h1.1v1.1h-1.1zM1094.6 853.5h1.1v1.1h-1.1zM1065.6 858.1h1.1v1.1h-1.1zM1043.4 855.0h1.1v1.1h-1.1zM1095.0 852.8h1.1v1.1h-1.1zM1047.7 850.2h1.1v1.1h-1.1zM1045.0 856.0h1.1v1.1h-1.1zM1092.4 855.4h1.1v1.1h-1.1zM1076.5 849.0h1.1v1.1h-1.1zM1059.4 849.2h1.1v1.1h-1.1zM1091.5 855.4h1.1v1.1h-1.1zM1094.2 853.1h1.1v1.1h-1.1zM1044.0 851.2h1.1v1.1h-1.1zM1043.2 851.9h1.1v1.1h-1.1zM1086.2 850.1h1.1v1.1h-1.1zM1046.8 856.2h1.1v1.1h-1.1zM1074.4 857.9h1.1v1.1h-1.1zM1060.8 857.9h1.1v1.1h-1.1zM1093.5 855.1h1.1v1.1h-1.1zM1094.5 854.2h1.1v1.1h-1.1zM1083.3 849.8h1.1v1.1h-1.1zM1093.3 855.5h1.1v1.1h-1.1zM1090.7 850.9h1.1v1.1h-1.1zM1073.5 848.9h1.1v1.1h-1.1zM1087.5 850.3h1.1v1.1h-1.1zM1095.6 854.0h1.1v1.1h-1.1zM1058.9 857.8h1.1v1.1h-1.1zM1075.5 858.1h1.1v1.1h-1.1zM1084.1 849.8h1.1v1.1h-1.1zM1094.5 852.7h1.1v1.1h-1.1zM1076.1 857.9h1.1v1.1h-1.1zM1095.3 853.2h1.1v1.1h-1.1zM1094.2 853.9h1.1v1.1h-1.1zM1069.8 848.9h1.1v1.1h-1.1zM1073.7 857.9h1.1v1.1h-1.1zM1047.9 850.4h1.1v1.1h-1.1zM1068.3 858.2h1.1v1.1h-1.1zM1081.0 849.4h1.1v1.1h-1.1zM1050.3 856.8h1.1v1.1h-1.1zM1049.6 850.0h1.1v1.1h-1.1zM1095.0 854.2h1.1v1.1h-1.1zM1059.1 857.8h1.1v1.1h-1.1zM1076.6 849.3h1.1v1.1h-1.1zM1073.8 848.9h1.1v1.1h-1.1zM1094.3 854.9h1.1v1.1h-1.1z" fill="#3288b6"/><path d="M1076.9 849.5h1.1v1.1h-1.1zM1085.2 856.3h1.1v1.1h-1.1zM1092.6 853.3h1.1v1.1h-1.1zM1067.4 849.4h1.1v1.1h-1.1zM1092.8 852.4h1.1v1.1h-1.1zM1047.9 851.0h1.1v1.1h-1.1zM1044.3 855.0h1.1v1.1h-1.1zM1078.9 849.6h1.1v1.1h-1.1zM1080.1 849.6h1.1v1.1h-1.1zM1079.4 849.7h1.1v1.1h-1.1zM1076.4 857.6h1.1v1.1h-1.1zM1074.6 857.6h1.1v1.1h-1.1zM1089.3 851.3h1.1v1.1h-1.1zM1091.2 852.4h1.1v1.1h-1.1zM1087.2 856.3h1.1v1.1h-1.1zM1062.7 849.4h1.1v1.1h-1.1zM1093.0 852.8h1.1v1.1h-1.1zM1091.8 852.5h1.1v1.1h-1.1zM1051.2 856.4h1.1v1.1h-1.1zM1062.7 849.2h1.1v1.1h-1.1zM1080.4 849.7h1.1v1.1h-1.1zM1044.0 852.5h1.1v1.1h-1.1zM1045.8 851.9h1.1v1.1h-1.1zM1050.6 850.3h1.1v1.1h-1.1zM1044.3 851.7h1.1v1.1h-1.1zM1078.5 857.3h1.1v1.1h-1.1zM1088.7 856.1h1.1v1.1h-1.1zM1072.2 857.6h1.1v1.1h-1.1zM1085.3 856.8h1.1v1.1h-1.1zM1058.4 849.5h1.1v1.1h-1.1zM1049.8 856.6h1.1v1.1h-1.1zM1045.0 854.7h1.1v1.1h-1.1zM1085.9 856.5h1.1v1.1h-1.1zM1092.5 854.7h1.1v1.1h-1.1zM1092.2 853.0h1.1v1.1h-1.1zM1059.1 857.4h1.1v1.1h-1.1zM1075.7 857.6h1.1v1.1h-1.1zM1076.8 857.3h1.1v1.1h-1.1zM1062.8 849.4h1.1v1.1h-1.1zM1050.9 850.5h1.1v1.1h-1.1zM1083.5 850.2h1.1v1.1h-1.1zM1072.8 857.8h1.1v1.1h-1.1zM1063.0 857.6h1.1v1.1h-1.1zM1091.5 854.9h1.1v1.1h-1.1zM1045.4 855.3h1.1v1.1h-1.1zM1064.6 849.3h1.1v1.1h-1.1zM1093.3 853.9h1.1v1.1h-1.1zM1045.0 855.5h1.1v1.1h-1.1zM1084.3 850.2h1.1v1.1h-1.1zM1077.4 849.5h1.1v1.1h-1.1zM1082.7 857.0h1.1v1.1h-1.1zM1064.5 849.4h1.1v1.1h-1.1zM1056.7 849.7h1.1v1.1h-1.1zM1045.5 852.0h1.1v1.1h-1.1zM1084.5 850.5h1.1v1.1h-1.1zM1064.9 849.3h1.1v1.1h-1.1zM1087.8 856.2h1.1v1.1h-1.1zM1064.1 857.9h1.1v1.1h-1.1zM1065.8 849.1h1.1v1.1h-1.1zM1090.0 851.9h1.1v1.1h-1.1zM1084.5 856.9h1.1v1.1h-1.1zM1090.9 852.0h1.1v1.1h-1.1zM1084.8 856.6h1.1v1.1h-1.1zM1045.0 854.9h1.1v1.1h-1.1zM1085.5 856.6h1.1v1.1h-1.1zM1089.1 851.2h1.1v1.1h-1.1zM1093.7 853.8h1.1v1.1h-1.1zM1078.1 849.5h1.1v1.1h-1.1zM1048.1 851.1h1.1v1.1h-1.1zM1056.4 849.9h1.1v1.1h-1.1zM1071.8 849.3h1.1v1.1h-1.1zM1089.1 855.7h1.1v1.1h-1.1zM1092.8 854.8h1.1v1.1h-1.1zM1086.3 850.8h1.1v1.1h-1.1zM1068.2 857.6h1.1v1.1h-1.1zM1088.0 856.3h1.1v1.1h-1.1zM1093.5 852.8h1.1v1.1h-1.1zM1079.1 849.7h1.1v1.1h-1.1zM1075.2 857.7h1.1v1.1h-1.1zM1083.4 857.1h1.1v1.1h-1.1zM1080.7 857.2h1.1v1.1h-1.1zM1070.6 857.8h1.1v1.1h-1.1zM1047.1 851.0h1.1v1.1h-1.1zM1053.7 849.9h1.1v1.1h-1.1zM1051.2 850.2h1.1v1.1h-1.1zM1093.5 853.8h1.1v1.1h-1.1zM1092.6 853.2h1.1v1.1h-1.1zM1091.3 855.4h1.1v1.1h-1.1zM1087.5 856.1h1.1v1.1h-1.1zM1075.4 849.4h1.1v1.1h-1.1zM1082.1 857.2h1.1v1.1h-1.1zM1083.9 850.0h1.1v1.1h-1.1zM1071.2 857.6h1.1v1.1h-1.1zM1064.0 857.6h1.1v1.1h-1.1zM1091.4 852.1h1.1v1.1h-1.1zM1087.9 856.1h1.1v1.1h-1.1zM1090.8 852.0h1.1v1.1h-1.1zM1085.3 856.4h1.1v1.1h-1.1zM1065.0 857.8h1.1v1.1h-1.1zM1079.0 849.8h1.1v1.1h-1.1zM1047.6 855.7h1.1v1.1h-1.1zM1075.8 857.5h1.1v1.1h-1.1z" fill="#3299b1"/><path d="M1088.7 851.8h1.1v1.1h-1.1zM1088.3 851.9h1.1v1.1h-1.1zM1077.8 849.9h1.1v1.1h-1.1zM1076.6 849.9h1.1v1.1h-1.1zM1046.0 853.5h1.1v1.1h-1.1zM1048.4 851.7h1.1v1.1h-1.1zM1053.8 850.4h1.1v1.1h-1.1zM1076.8 849.8h1.1v1.1h-1.1zM1090.3 852.2h1.1v1.1h-1.1zM1088.3 855.0h1.1v1.1h-1.1zM1051.0 856.0h1.1v1.1h-1.1zM1057.2 850.0h1.1v1.1h-1.1zM1080.0 850.2h1.1v1.1h-1.1zM1046.2 852.1h1.1v1.1h-1.1zM1046.7 855.0h1.1v1.1h-1.1zM1071.4 857.5h1.1v1.1h-1.1zM1084.7 856.2h1.1v1.1h-1.1zM1090.0 852.9h1.1v1.1h-1.1zM1063.1 849.6h1.1v1.1h-1.1zM1049.6 855.7h1.1v1.1h-1.1zM1072.5 849.8h1.1v1.1h-1.1zM1081.8 856.6h1.1v1.1h-1.1zM1091.4 852.9h1.1v1.1h-1.1zM1087.9 851.3h1.1v1.1h-1.1zM1087.0 851.4h1.1v1.1h-1.1zM1057.8 857.0h1.1v1.1h-1.1zM1078.3 850.0h1.1v1.1h-1.1zM1051.5 856.0h1.1v1.1h-1.1zM1065.4 849.7h1.1v1.1h-1.1zM1045.5 852.6h1.1v1.1h-1.1zM1064.5 857.3h1.1v1.1h-1.1zM1085.8 855.9h1.1v1.1h-1.1zM1077.8 849.8h1.1v1.1h-1.1zM1048.1 855.7h1.1v1.1h-1.1zM1089.6 855.2h1.1v1.1h-1.1zM1086.3 851.0h1.1v1.1h-1.1zM1076.8 857.1h1.1v1.1h-1.1zM1058.4 857.1h1.1v1.1h-1.1zM1080.4 856.8h1.1v1.1h-1.1zM1050.1 855.8h1.1v1.1h-1.1zM1049.0 851.5h1.1v1.1h-1.1zM1090.1 852.6h1.1v1.1h-1.1zM1045.4 854.3h1.1v1.1h-1.1zM1076.8 857.2h1.1v1.1h-1.1zM1091.0 854.0h1.1v1.1h-1.1zM1073.6 857.5h1.1v1.1h-1.1zM1057.0 856.8h1.1v1.1h-1.1zM1090.5 853.5h1.1v1.1h-1.1zM1050.1 856.0h1.1v1.1h-1.1zM1085.8 856.0h1.1v1.1h-1.1zM1050.8 856.3h1.1v1.1h-1.1zM1062.0 849.7h1.1v1.1h-1.1zM1089.4 854.3h1.1v1.1h-1.1zM1089.1 852.4h1.1v1.1h-1.1zM1070.1 857.3h1.1v1.1h-1.1zM1091.1 854.6h1.1v1.1h-1.1zM1090.6 853.4h1.1v1.1h-1.1zM1090.2 852.9h1.1v1.1h-1.1zM1046.9 852.3h1.1v1.1h-1.1zM1046.7 854.9h1.1v1.1h-1.1zM1086.6 851.2h1.1v1.1h-1.1zM1059.3 849.9h1.1v1.1h-1.1zM1072.4 849.7h1.1v1.1h-1.1zM1069.4 849.7h1.1v1.1h-1.1zM1061.6 849.8h1.1v1.1h-1.1zM1079.1 850.2h1.1v1.1h-1.1zM1057.3 856.9h1.1v1.1h-1.1zM1080.5 856.6h1.1v1.1h-1.1zM1061.8 849.7h1.1v1.1h-1.1zM1068.6 857.3h1.1v1.1h-1.1zM1080.5 856.8h1.1v1.1h-1.1zM1089.7 852.9h1.1v1.1h-1.1zM1081.2 856.8h1.1v1.1h-1.1zM1054.3 856.6h1.1v1.1h-1.1zM1074.9 857.1h1.1v1.1h-1.1zM1080.1 856.8h1.1v1.1h-1.1zM1055.7 856.9h1.1v1.1h-1.1zM1063.8 857.5h1.1v1.1h-1.1zM1075.3 849.7h1.1v1.1h-1.1zM1090.0 852.4h1.1v1.1h-1.1zM1082.7 856.7h1.1v1.1h-1.1zM1063.7 857.3h1.1v1.1h-1.1zM1050.7 851.2h1.1v1.1h-1.1zM1071.6 857.4h1.1v1.1h-1.1zM1080.4 856.6h1.1v1.1h-1.1zM1046.9 851.9h1.1v1.1h-1.1zM1090.4 852.9h1.1v1.1h-1.1zM1089.9 855.1h1.1v1.1h-1.1zM1086.4 855.6h1.1v1.1h-1.1zM1067.7 857.4h1.1v1.1h-1.1z" fill="#32abac"/><path d="M1051.1 855.3h1.1v1.1h-1.1zM1067.0 857.2h1.1v1.1h-1.1zM1070.5 857.0h1.1v1.1h-1.1zM1047.6 853.5h1.1v1.1h-1.1zM1055.0 850.5h1.1v1.1h-1.1zM1082.5 850.9h1.1v1.1h-1.1zM1056.4 850.5h1.1v1.1h-1.1zM1088.0 853.9h1.1v1.1h-1.1zM1058.7 856.6h1.1v1.1h-1.1zM1087.2 851.7h1.1v1.1h-1.1zM1087.8 852.8h1.1v1.1h-1.1zM1075.0 850.1h1.1v1.1h-1.1zM1047.5 853.8h1.1v1.1h-1.1zM1080.0 850.4h1.1v1.1h-1.1zM1049.6 852.0h1.1v1.1h-1.1zM1048.2 852.7h1.1v1.1h-1.1zM1082.8 851.0h1.1v1.1h-1.1zM1050.0 851.7h1.1v1.1h-1.1zM1089.0 852.8h1.1v1.1h-1.1zM1049.4 855.2h1.1v1.1h-1.1zM1087.9 852.3h1.1v1.1h-1.1zM1056.4 850.5h1.1v1.1h-1.1zM1085.7 855.1h1.1v1.1h-1.1zM1081.5 856.4h1.1v1.1h-1.1zM1056.9 850.5h1.1v1.1h-1.1zM1087.9 854.5h1.1v1.1h-1.1zM1065.8 849.9h1.1v1.1h-1.1zM1052.3 851.3h1.1v1.1h-1.1zM1050.1 851.9h1.1v1.1h-1.1zM1086.6 854.8h1.1v1.1h-1.1zM1071.6 857.1h1.1v1.1h-1.1zM1088.2 854.5h1.1v1.1h-1.1zM1083.6 855.8h1.1v1.1h-1.1zM1075.5 856.8h1.1v1.1h-1.1zM1071.5 857.1h1.1v1.1h-1.1zM1086.7 855.2h1.1v1.1h-1.1zM1057.5 856.5h1.1v1.1h-1.1zM1054.2 856.1h1.1v1.1h-1.1zM1054.4 856.1h1.1v1.1h-1.1zM1085.6 851.9h1.1v1.1h-1.1zM1074.1 850.1h1.1v1.1h-1.1zM1087.8 854.4h1.1v1.1h-1.1zM1086.1 851.7h1.1v1.1h-1.1zM1083.0 856.1h1.1v1.1h-1.1zM1087.4 854.3h1.1v1.1h-1.1zM1061.8 856.8h1.1v1.1h-1.1zM1059.8 856.9h1.1v1.1h-1.1zM1048.5 854.4h1.1v1.1h-1.1zM1051.0 855.8h1.1v1.1h-1.1zM1082.6 855.9h1.1v1.1h-1.1zM1047.0 853.2h1.1v1.1h-1.1zM1072.4 850.1h1.1v1.1h-1.1zM1082.4 850.7h1.1v1.1h-1.1zM1080.4 856.3h1.1v1.1h-1.1zM1080.9 856.2h1.1v1.1h-1.1zM1086.2 855.2h1.1v1.1h-1.1zM1064.5 857.2h1.1v1.1h-1.1zM1083.4 855.8h1.1v1.1h-1.1zM1048.2 852.0h1.1v1.1h-1.1zM1061.7 850.2h1.1v1.1h-1.1zM1080.1 856.5h1.1v1.1h-1.1zM1069.6 849.9h1.1v1.1h-1.1zM1084.9 855.3h1.1v1.1h-1.1zM1059.5 850.3h1.1v1.1h-1.1zM1083.1 851.0h1.1v1.1h-1.1zM1048.6 854.8h1.1v1.1h-1.1zM1084.8 851.6h1.1v1.1h-1.1zM1074.0 857.1h1.1v1.1h-1.1zM1049.2 852.3h1.1v1.1h-1.1zM1082.2 850.7h1.1v1.1h-1.1zM1072.4 856.9h1.1v1.1h-1.1zM1048.4 852.1h1.1v1.1h-1.1zM1051.2 855.6h1.1v1.1h-1.1zM1051.8 855.5h1.1v1.1h-1.1zM1072.6 850.2h1.1v1.1h-1.1zM1083.6 856.0h1.1v1.1h-1.1zM1067.5 849.8h1.1v1.1h-1.1zM1048.5 852.0h1.1v1.1h-1.1zM1085.4 851.7h1.1v1.1h-1.1zM1088.5 853.6h1.1v1.1h-1.1zM1074.7 850.2h1.1v1.1h-1.1zM1060.5 857.0h1.1v1.1h-1.1zM1055.5 856.1h1.1v1.1h-1.1zM1048.2 852.6h1.1v1.1h-1.1zM1080.5 850.4h1.1v1.1h-1.1zM1068.9 857.1h1.1v1.1h-1.1zM1066.6 857.2h1.1v1.1h-1.1zM1047.8 852.6h1.1v1.1h-1.1zM1073.5 850.1h1.1v1.1h-1.1zM1086.1 851.7h1.1v1.1h-1.1zM1067.2 850.0h1.1v1.1h-1.1zM1088.2 853.5h1.1v1.1h-1.1zM1087.5 854.2h1.1v1.1h-1.1zM1053.6 851.0h1.1v1.1h-1.1zM1087.6 854.7h1.1v1.1h-1.1zM1074.8 856.7h1.1v1.1h-1.1zM1073.1 850.1h1.1v1.1h-1.1zM1064.8 857.0h1.1v1.1h-1.1zM1053.3 855.9h1.1v1.1h-1.1zM1088.0 853.0h1.1v1.1h-1.1zM1048.9 852.5h1.1v1.1h-1.1zM1050.7 851.4h1.1v1.1h-1.1z" fill="#37b69c"/><path d="M1079.6 855.9h1.1v1.1h-1.1zM1085.7 852.9h1.1v1.1h-1.1zM1073.2 856.6h1.1v1.1h-1.1zM1065.6 856.8h1.1v1.1h-1.1zM1087.5 853.7h1.1v1.1h-1.1zM1078.1 850.7h1.1v1.1h-1.1zM1073.7 850.4h1.1v1.1h-1.1zM1062.0 856.5h1.1v1.1h-1.1zM1077.9 856.3h1.1v1.1h-1.1zM1081.9 851.4h1.1v1.1h-1.1zM1086.0 853.1h1.1v1.1h-1.1zM1069.0 856.8h1.1v1.1h-1.1zM1075.7 856.5h1.1v1.1h-1.1zM1078.0 850.6h1.1v1.1h-1.1zM1086.9 853.5h1.1v1.1h-1.1zM1069.5 856.7h1.1v1.1h-1.1zM1085.4 854.2h1.1v1.1h-1.1zM1053.6 855.8h1.1v1.1h-1.1zM1086.7 852.7h1.1v1.1h-1.1zM1080.4 856.1h1.1v1.1h-1.1zM1067.3 850.4h1.1v1.1h-1.1zM1087.5 853.5h1.1v1.1h-1.1zM1079.0 851.0h1.1v1.1h-1.1zM1081.3 855.9h1.1v1.1h-1.1zM1056.2 850.9h1.1v1.1h-1.1zM1087.2 853.1h1.1v1.1h-1.1zM1066.9 850.3h1.1v1.1h-1.1zM1049.8 854.8h1.1v1.1h-1.1zM1058.4 850.7h1.1v1.1h-1.1zM1077.0 850.6h1.1v1.1h-1.1zM1080.5 850.9h1.1v1.1h-1.1zM1077.9 856.2h1.1v1.1h-1.1zM1080.3 855.9h1.1v1.1h-1.1zM1084.5 854.9h1.1v1.1h-1.1zM1061.0 850.6h1.1v1.1h-1.1zM1085.1 851.9h1.1v1.1h-1.1zM1057.7 856.0h1.1v1.1h-1.1zM1087.0 853.4h1.1v1.1h-1.1zM1085.6 853.0h1.1v1.1h-1.1zM1083.9 855.1h1.1v1.1h-1.1zM1053.8 855.6h1.1v1.1h-1.1zM1071.7 850.3h1.1v1.1h-1.1zM1071.3 856.8h1.1v1.1h-1.1zM1084.9 855.1h1.1v1.1h-1.1zM1068.8 856.7h1.1v1.1h-1.1zM1084.0 855.1h1.1v1.1h-1.1zM1085.7 853.1h1.1v1.1h-1.1zM1081.3 855.6h1.1v1.1h-1.1zM1071.7 856.7h1.1v1.1h-1.1zM1087.2 853.7h1.1v1.1h-1.1zM1063.8 856.6h1.1v1.1h-1.1zM1077.3 850.9h1.1v1.1h-1.1zM1050.4 852.1h1.1v1.1h-1.1zM1049.4 853.2h1.1v1.1h-1.1zM1081.7 855.5h1.1v1.1h-1.1zM1081.5 851.4h1.1v1.1h-1.1zM1081.6 851.1h1.1v1.1h-1.1zM1073.0 850.4h1.1v1.1h-1.1zM1066.5 856.5h1.1v1.1h-1.1zM1063.5 850.4h1.1v1.1h-1.1zM1055.1 855.8h1.1v1.1h-1.1zM1059.0 856.3h1.1v1.1h-1.1zM1056.9 856.1h1.1v1.1h-1.1zM1049.7 852.4h1.1v1.1h-1.1zM1054.2 855.8h1.1v1.1h-1.1zM1075.9 850.6h1.1v1.1h-1.1zM1054.3 855.8h1.1v1.1h-1.1zM1051.0 854.5h1.1v1.1h-1.1zM1070.2 850.4h1.1v1.1h-1.1zM1050.2 852.9h1.1v1.1h-1.1zM1067.3 856.7h1.1v1.1h-1.1zM1050.3 852.2h1.1v1.1h-1.1zM1086.6 854.5h1.1v1.1h-1.1zM1074.2 850.3h1.1v1.1h-1.1zM1083.4 855.5h1.1v1.1h-1.1zM1081.6 855.8h1.1v1.1h-1.1zM1057.2 850.8h1.1v1.1h-1.1zM1067.2 850.4h1.1v1.1h-1.1zM1082.4 851.5h1.1v1.1h-1.1zM1082.9 851.5h1.1v1.1h-1.1zM1075.0 850.5h1.1v1.1h-1.1zM1085.0 854.7h1.1v1.1h-1.1zM1079.0 851.1h1.1v1.1h-1.1zM1085.8 852.2h1.1v1.1h-1.1zM1087.0 854.2h1.1v1.1h-1.1zM1086.5 853.6h1.1v1.1h-1.1zM1048.6 852.9h1.1v1.1h-1.1zM1054.8 855.7h1.1v1.1h-1.1zM1050.1 854.0h1.1v1.1h-1.1zM1080.1 850.9h1.1v1.1h-1.1zM1059.3 856.3h1.1v1.1h-1.1zM1060.2 850.5h1.1v1.1h-1.1zM1083.0 851.7h1.1v1.1h-1.1zM1051.6 852.3h1.1v1.1h-1.1zM1057.1 856.1h1.1v1.1h-1.1zM1075.9 856.3h1.1v1.1h-1.1zM1072.0 850.4h1.1v1.1h-1.1z" fill="#43bc82"/><path d="M1083.4 854.1h1.1v1.1h-1.1zM1081.7 851.6h1.1v1.1h-1.1zM1061.2 851.0h1.1v1.1h-1.1zM1061.0 856.0h1.1v1.1h-1.1zM1056.7 855.4h1.1v1.1h-1.1zM1084.9 853.1h1.1v1.1h-1.1zM1055.9 855.6h1.1v1.1h-1.1zM1061.6 856.1h1.1v1.1h-1.1zM1060.5 856.0h1.1v1.1h-1.1zM1060.2 855.9h1.1v1.1h-1.1zM1085.1 853.6h1.1v1.1h-1.1zM1052.1 852.6h1.1v1.1h-1.1zM1081.2 855.4h1.1v1.1h-1.1zM1062.8 850.8h1.1v1.1h-1.1zM1085.0 852.7h1.1v1.1h-1.1zM1084.6 853.8h1.1v1.1h-1.1zM1083.7 853.8h1.1v1.1h-1.1zM1051.2 854.4h1.1v1.1h-1.1zM1059.7 851.1h1.1v1.1h-1.1zM1052.2 854.7h1.1v1.1h-1.1zM1070.4 856.3h1.1v1.1h-1.1zM1054.1 855.2h1.1v1.1h-1.1zM1084.6 853.2h1.1v1.1h-1.1zM1081.4 855.0h1.1v1.1h-1.1zM1082.7 852.5h1.1v1.1h-1.1zM1069.3 856.5h1.1v1.1h-1.1zM1067.8 856.3h1.1v1.1h-1.1zM1082.3 854.6h1.1v1.1h-1.1zM1072.8 856.3h1.1v1.1h-1.1zM1070.4 856.2h1.1v1.1h-1.1zM1055.2 852.0h1.1v1.1h-1.1zM1067.8 850.5h1.1v1.1h-1.1zM1059.3 851.0h1.1v1.1h-1.1zM1051.2 852.9h1.1v1.1h-1.1zM1083.6 853.1h1.1v1.1h-1.1zM1084.8 854.1h1.1v1.1h-1.1zM1083.8 852.4h1.1v1.1h-1.1zM1051.4 852.6h1.1v1.1h-1.1zM1058.1 856.0h1.1v1.1h-1.1zM1054.8 851.9h1.1v1.1h-1.1zM1079.1 855.6h1.1v1.1h-1.1zM1051.3 854.4h1.1v1.1h-1.1zM1059.2 851.0h1.1v1.1h-1.1zM1064.3 850.8h1.1v1.1h-1.1zM1054.8 855.1h1.1v1.1h-1.1zM1083.7 853.4h1.1v1.1h-1.1zM1084.3 852.6h1.1v1.1h-1.1zM1070.6 850.7h1.1v1.1h-1.1zM1076.6 851.1h1.1v1.1h-1.1zM1055.1 851.9h1.1v1.1h-1.1zM1083.4 852.0h1.1v1.1h-1.1zM1073.0 850.6h1.1v1.1h-1.1zM1067.1 856.2h1.1v1.1h-1.1zM1052.5 852.5h1.1v1.1h-1.1zM1084.4 853.9h1.1v1.1h-1.1zM1057.7 855.8h1.1v1.1h-1.1zM1055.6 855.6h1.1v1.1h-1.1zM1081.2 852.0h1.1v1.1h-1.1zM1077.5 855.7h1.1v1.1h-1.1zM1083.3 854.2h1.1v1.1h-1.1zM1073.1 850.6h1.1v1.1h-1.1zM1085.4 853.8h1.1v1.1h-1.1zM1050.4 853.3h1.1v1.1h-1.1zM1076.7 855.9h1.1v1.1h-1.1zM1081.7 851.7h1.1v1.1h-1.1zM1051.4 853.8h1.1v1.1h-1.1zM1066.0 856.4h1.1v1.1h-1.1zM1084.4 852.6h1.1v1.1h-1.1zM1081.0 855.0h1.1v1.1h-1.1zM1076.6 850.9h1.1v1.1h-1.1zM1057.4 855.6h1.1v1.1h-1.1zM1075.7 856.0h1.1v1.1h-1.1zM1068.4 856.3h1.1v1.1h-1.1zM1054.0 851.8h1.1v1.1h-1.1zM1082.9 854.7h1.1v1.1h-1.1zM1067.0 856.4h1.1v1.1h-1.1zM1054.2 855.1h1.1v1.1h-1.1zM1064.4 850.6h1.1v1.1h-1.1zM1077.7 851.0h1.1v1.1h-1.1zM1078.5 851.2h1.1v1.1h-1.1zM1070.8 850.6h1.1v1.1h-1.1zM1085.2 853.5h1.1v1.1h-1.1zM1071.1 856.2h1.1v1.1h-1.1zM1068.4 856.5h1.1v1.1h-1.1zM1075.5 855.9h1.1v1.1h-1.1zM1054.2 852.0h1.1v1.1h-1.1zM1083.7 852.5h1.1v1.1h-1.1zM1071.8 856.3h1.1v1.1h-1.1zM1056.7 855.6h1.1v1.1h-1.1zM1084.4 853.0h1.1v1.1h-1.1zM1072.7 850.8h1.1v1.1h-1.1zM1075.0 856.2h1.1v1.1h-1.1zM1063.6 850.8h1.1v1.1h-1.1zM1050.7 853.9h1.1v1.1h-1.1zM1085.1 854.1h1.1v1.1h-1.1zM1055.3 851.7h1.1v1.1h-1.1zM1079.0 851.5h1.1v1.1h-1.1zM1051.0 853.5h1.1v1.1h-1.1zM1067.1 850.8h1.1v1.1h-1.1zM1053.6 854.7h1.1v1.1h-1.1zM1083.0 852.1h1.1v1.1h-1.1zM1084.2 853.4h1.1v1.1h-1.1zM1051.1 853.1h1.1v1.1h-1.1zM1082.5 854.6h1.1v1.1h-1.1zM1052.8 852.4h1.1v1.1h-1.1zM1079.6 851.6h1.1v1.1h-1.1zM1050.9 853.7h1.1v1.1h-1.1zM1077.3 856.0h1.1v1.1h-1.1zM1081.3 851.7h1.1v1.1h-1.1zM1051.4 854.2h1.1v1.1h-1.1zM1078.6 855.5h1.1v1.1h-1.1zM1079.6 855.7h1.1v1.1h-1.1z" fill="#4fc267"/><path d="M1053.5 853.8h1.1v1.1h-1.1zM1082.3 853.9h1.1v1.1h-1.1zM1074.7 855.5h1.1v1.1h-1.1zM1080.3 851.9h1.1v1.1h-1.1zM1079.2 855.1h1.1v1.1h-1.1zM1070.6 856.1h1.1v1.1h-1.1zM1080.9 854.2h1.1v1.1h-1.1zM1053.8 852.7h1.1v1.1h-1.1zM1055.7 854.4h1.1v1.1h-1.1zM1081.5 852.5h1.1v1.1h-1.1zM1078.5 851.8h1.1v1.1h-1.1zM1069.0 851.1h1.1v1.1h-1.1zM1060.4 851.2h1.1v1.1h-1.1zM1055.1 854.6h1.1v1.1h-1.1zM1077.3 855.6h1.1v1.1h-1.1zM1075.8 855.4h1.1v1.1h-1.1zM1083.4 853.1h1.1v1.1h-1.1zM1074.8 855.5h1.1v1.1h-1.1zM1058.3 851.5h1.1v1.1h-1.1zM1059.8 851.4h1.1v1.1h-1.1zM1058.7 851.7h1.1v1.1h-1.1zM1073.9 855.7h1.1v1.1h-1.1zM1080.8 852.5h1.1v1.1h-1.1zM1079.3 852.1h1.1v1.1h-1.1zM1076.8 851.7h1.1v1.1h-1.1zM1057.2 855.2h1.1v1.1h-1.1zM1066.8 851.0h1.1v1.1h-1.1zM1073.5 855.6h1.1v1.1h-1.1zM1054.1 853.0h1.1v1.1h-1.1zM1055.7 852.5h1.1v1.1h-1.1zM1080.9 852.9h1.1v1.1h-1.1zM1082.7 852.9h1.1v1.1h-1.1zM1055.7 852.0h1.1v1.1h-1.1zM1066.2 856.1h1.1v1.1h-1.1zM1055.1 852.6h1.1v1.1h-1.1zM1081.9 852.4h1.1v1.1h-1.1zM1078.1 855.4h1.1v1.1h-1.1zM1078.4 855.1h1.1v1.1h-1.1zM1056.3 854.6h1.1v1.1h-1.1zM1054.4 854.1h1.1v1.1h-1.1zM1071.5 855.9h1.1v1.1h-1.1zM1055.1 854.2h1.1v1.1h-1.1zM1074.4 851.4h1.1v1.1h-1.1zM1080.6 854.3h1.1v1.1h-1.1zM1059.8 851.6h1.1v1.1h-1.1zM1060.6 851.4h1.1v1.1h-1.1zM1054.2 854.4h1.1v1.1h-1.1zM1056.0 852.3h1.1v1.1h-1.1zM1055.1 852.7h1.1v1.1h-1.1zM1057.4 855.1h1.1v1.1h-1.1zM1071.2 856.0h1.1v1.1h-1.1zM1065.0 856.1h1.1v1.1h-1.1zM1071.6 856.0h1.1v1.1h-1.1zM1070.4 851.0h1.1v1.1h-1.1zM1081.0 854.6h1.1v1.1h-1.1zM1066.4 855.9h1.1v1.1h-1.1zM1073.9 851.0h1.1v1.1h-1.1zM1079.1 855.4h1.1v1.1h-1.1zM1077.7 851.5h1.1v1.1h-1.1zM1072.8 856.0h1.1v1.1h-1.1zM1062.7 851.1h1.1v1.1h-1.1zM1082.8 853.5h1.1v1.1h-1.1zM1080.8 852.1h1.1v1.1h-1.1zM1055.8 855.2h1.1v1.1h-1.1zM1060.6 851.3h1.1v1.1h-1.1zM1081.7 852.8h1.1v1.1h-1.1zM1058.8 851.6h1.1v1.1h-1.1zM1075.6 855.5h1.1v1.1h-1.1zM1054.8 853.9h1.1v1.1h-1.1zM1075.6 855.5h1.1v1.1h-1.1zM1082.8 854.3h1.1v1.1h-1.1zM1057.9 855.2h1.1v1.1h-1.1zM1076.2 855.4h1.1v1.1h-1.1zM1082.1 853.7h1.1v1.1h-1.1zM1077.8 855.1h1.1v1.1h-1.1zM1065.3 851.1h1.1v1.1h-1.1zM1075.8 851.5h1.1v1.1h-1.1zM1069.6 851.2h1.1v1.1h-1.1zM1066.6 856.2h1.1v1.1h-1.1zM1055.5 854.7h1.1v1.1h-1.1zM1079.7 854.9h1.1v1.1h-1.1zM1082.2 854.0h1.1v1.1h-1.1zM1059.0 855.6h1.1v1.1h-1.1zM1081.4 854.1h1.1v1.1h-1.1zM1059.5 855.6h1.1v1.1h-1.1zM1062.1 851.2h1.1v1.1h-1.1zM1083.0 852.9h1.1v1.1h-1.1zM1082.9 854.2h1.1v1.1h-1.1zM1067.8 856.1h1.1v1.1h-1.1zM1063.6 851.2h1.1v1.1h-1.1zM1055.8 852.4h1.1v1.1h-1.1zM1070.8 850.9h1.1v1.1h-1.1zM1071.7 855.9h1.1v1.1h-1.1zM1082.8 853.9h1.1v1.1h-1.1zM1083.3 853.6h1.1v1.1h-1.1zM1075.1 851.1h1.1v1.1h-1.1zM1068.5 851.0h1.1v1.1h-1.1zM1082.9 854.1h1.1v1.1h-1.1zM1070.2 851.1h1.1v1.1h-1.1zM1058.6 855.6h1.1v1.1h-1.1zM1077.5 851.5h1.1v1.1h-1.1z" fill="#5ec84e"/><path d="M1079.2 854.2h1.1v1.1h-1.1zM1076.7 852.4h1.1v1.1h-1.1zM1070.6 851.6h1.1v1.1h-1.1zM1079.5 854.6h1.1v1.1h-1.1zM1074.4 851.6h1.1v1.1h-1.1zM1078.4 852.5h1.1v1.1h-1.1zM1061.6 855.4h1.1v1.1h-1.1zM1054.9 853.5h1.1v1.1h-1.1zM1078.5 852.4h1.1v1.1h-1.1zM1074.1 851.5h1.1v1.1h-1.1zM1060.3 854.9h1.1v1.1h-1.1zM1077.1 852.2h1.1v1.1h-1.1zM1071.7 855.6h1.1v1.1h-1.1zM1055.4 853.9h1.1v1.1h-1.1zM1060.8 851.9h1.1v1.1h-1.1zM1060.0 855.0h1.1v1.1h-1.1zM1059.5 852.2h1.1v1.1h-1.1zM1068.3 855.7h1.1v1.1h-1.1zM1061.4 851.6h1.1v1.1h-1.1zM1059.9 855.2h1.1v1.1h-1.1zM1054.8 853.7h1.1v1.1h-1.1zM1074.3 855.5h1.1v1.1h-1.1zM1058.4 854.6h1.1v1.1h-1.1zM1057.9 854.3h1.1v1.1h-1.1zM1065.0 851.4h1.1v1.1h-1.1zM1064.6 851.4h1.1v1.1h-1.1zM1074.9 851.9h1.1v1.1h-1.1zM1056.3 853.5h1.1v1.1h-1.1zM1067.0 851.5h1.1v1.1h-1.1zM1076.8 854.8h1.1v1.1h-1.1zM1058.7 854.6h1.1v1.1h-1.1zM1063.6 855.2h1.1v1.1h-1.1zM1062.7 851.6h1.1v1.1h-1.1zM1056.8 854.1h1.1v1.1h-1.1zM1078.4 852.6h1.1v1.1h-1.1zM1077.4 852.5h1.1v1.1h-1.1zM1059.7 852.1h1.1v1.1h-1.1zM1075.6 854.9h1.1v1.1h-1.1zM1069.2 855.5h1.1v1.1h-1.1zM1065.9 851.6h1.1v1.1h-1.1zM1062.2 855.1h1.1v1.1h-1.1zM1056.5 853.1h1.1v1.1h-1.1zM1058.5 852.5h1.1v1.1h-1.1zM1070.0 851.4h1.1v1.1h-1.1zM1068.6 851.6h1.1v1.1h-1.1zM1079.1 854.0h1.1v1.1h-1.1zM1069.9 851.7h1.1v1.1h-1.1zM1078.6 853.1h1.1v1.1h-1.1zM1065.1 855.4h1.1v1.1h-1.1zM1056.8 853.1h1.1v1.1h-1.1zM1071.8 855.5h1.1v1.1h-1.1zM1056.3 852.8h1.1v1.1h-1.1zM1078.7 853.5h1.1v1.1h-1.1zM1076.7 855.1h1.1v1.1h-1.1zM1077.1 852.4h1.1v1.1h-1.1zM1076.4 854.7h1.1v1.1h-1.1zM1057.1 853.7h1.1v1.1h-1.1zM1068.1 851.4h1.1v1.1h-1.1zM1058.3 852.5h1.1v1.1h-1.1zM1066.3 851.3h1.1v1.1h-1.1zM1072.9 855.5h1.1v1.1h-1.1zM1072.0 855.4h1.1v1.1h-1.1zM1059.5 852.2h1.1v1.1h-1.1zM1057.1 854.4h1.1v1.1h-1.1zM1075.0 854.9h1.1v1.1h-1.1zM1079.8 852.7h1.1v1.1h-1.1zM1080.9 853.1h1.1v1.1h-1.1zM1077.2 852.1h1.1v1.1h-1.1zM1059.3 854.6h1.1v1.1h-1.1zM1057.2 853.3h1.1v1.1h-1.1zM1066.4 855.5h1.1v1.1h-1.1zM1076.1 854.8h1.1v1.1h-1.1zM1074.3 855.1h1.1v1.1h-1.1zM1056.9 853.9h1.1v1.1h-1.1zM1078.2 854.3h1.1v1.1h-1.1zM1077.9 854.4h1.1v1.1h-1.1zM1069.4 851.6h1.1v1.1h-1.1zM1079.1 854.2h1.1v1.1h-1.1zM1078.2 854.6h1.1v1.1h-1.1zM1079.8 852.7h1.1v1.1h-1.1zM1057.8 854.5h1.1v1.1h-1.1zM1056.7 852.9h1.1v1.1h-1.1zM1078.4 852.6h1.1v1.1h-1.1zM1078.9 852.7h1.1v1.1h-1.1zM1058.8 854.9h1.1v1.1h-1.1zM1075.3 851.8h1.1v1.1h-1.1zM1078.9 853.6h1.1v1.1h-1.1zM1068.7 851.3h1.1v1.1h-1.1zM1061.4 851.8h1.1v1.1h-1.1zM1058.9 852.2h1.1v1.1h-1.1zM1076.1 855.0h1.1v1.1h-1.1zM1061.0 855.1h1.1v1.1h-1.1zM1063.8 855.3h1.1v1.1h-1.1zM1057.7 852.3h1.1v1.1h-1.1zM1077.8 854.6h1.1v1.1h-1.1zM1054.9 853.6h1.1v1.1h-1.1zM1077.4 852.1h1.1v1.1h-1.1zM1056.7 852.8h1.1v1.1h-1.1zM1064.0 855.3h1.1v1.1h-1.1zM1068.8 855.5h1.1v1.1h-1.1zM1060.3 855.0h1.1v1.1h-1.1zM1075.7 855.1h1.1v1.1h-1.1z" fill="#8dcf44"/><path d="M1061.2 852.8h1.1v1.1h-1.1zM1077.2 853.8h1.1v1.1h-1.1zM1074.8 854.1h1.1v1.1h-1.1zM1060.6 853.8h1.1v1.1h-1.1zM1059.9 853.0h1.1v1.1h-1.1zM1059.6 853.3h1.1v1.1h-1.1zM1058.4 854.1h1.1v1.1h-1.1zM1057.8 853.1h1.1v1.1h-1.1zM1062.5 854.9h1.1v1.1h-1.1zM1075.7 852.8h1.1v1.1h-1.1zM1072.4 854.8h1.1v1.1h-1.1zM1077.3 853.5h1.1v1.1h-1.1zM1060.4 854.7h1.1v1.1h-1.1zM1068.6 851.9h1.1v1.1h-1.1zM1057.9 853.1h1.1v1.1h-1.1zM1069.7 855.3h1.1v1.1h-1.1zM1077.0 853.1h1.1v1.1h-1.1zM1064.4 852.3h1.1v1.1h-1.1zM1066.2 851.9h1.1v1.1h-1.1zM1078.0 854.1h1.1v1.1h-1.1zM1069.6 855.0h1.1v1.1h-1.1zM1072.5 854.6h1.1v1.1h-1.1zM1059.6 852.5h1.1v1.1h-1.1zM1074.7 854.8h1.1v1.1h-1.1zM1067.5 851.8h1.1v1.1h-1.1zM1060.8 852.4h1.1v1.1h-1.1zM1071.2 854.8h1.1v1.1h-1.1zM1076.2 852.5h1.1v1.1h-1.1zM1059.5 852.5h1.1v1.1h-1.1zM1076.7 852.8h1.1v1.1h-1.1zM1062.4 854.5h1.1v1.1h-1.1zM1077.2 853.7h1.1v1.1h-1.1zM1077.1 853.5h1.1v1.1h-1.1zM1068.5 855.0h1.1v1.1h-1.1zM1062.8 852.0h1.1v1.1h-1.1zM1073.3 852.2h1.1v1.1h-1.1zM1076.3 854.3h1.1v1.1h-1.1zM1075.3 854.6h1.1v1.1h-1.1zM1066.3 852.2h1.1v1.1h-1.1zM1075.1 854.4h1.1v1.1h-1.1zM1060.4 854.6h1.1v1.1h-1.1zM1076.3 852.8h1.1v1.1h-1.1zM1064.3 855.0h1.1v1.1h-1.1zM1061.0 854.6h1.1v1.1h-1.1zM1076.6 853.5h1.1v1.1h-1.1zM1059.5 853.5h1.1v1.1h-1.1zM1058.5 853.9h1.1v1.1h-1.1zM1057.7 853.8h1.1v1.1h-1.1zM1076.1 853.2h1.1v1.1h-1.1zM1074.6 854.1h1.1v1.1h-1.1zM1069.5 855.2h1.1v1.1h-1.1zM1058.9 854.0h1.1v1.1h-1.1zM1074.3 854.6h1.1v1.1h-1.1zM1073.3 852.6h1.1v1.1h-1.1zM1064.6 852.0h1.1v1.1h-1.1zM1069.5 851.8h1.1v1.1h-1.1zM1071.6 851.9h1.1v1.1h-1.1zM1077.1 853.6h1.1v1.1h-1.1zM1070.3 851.9h1.1v1.1h-1.1zM1061.3 852.8h1.1v1.1h-1.1zM1065.5 854.8h1.1v1.1h-1.1zM1078.1 853.2h1.1v1.1h-1.1zM1060.9 853.9h1.1v1.1h-1.1zM1070.2 851.9h1.1v1.1h-1.1zM1074.3 854.3h1.1v1.1h-1.1zM1077.3 853.0h1.1v1.1h-1.1zM1062.3 852.6h1.1v1.1h-1.1zM1069.7 855.2h1.1v1.1h-1.1zM1078.1 853.2h1.1v1.1h-1.1zM1076.5 853.5h1.1v1.1h-1.1zM1068.6 852.1h1.1v1.1h-1.1zM1067.0 855.0h1.1v1.1h-1.1zM1074.6 852.2h1.1v1.1h-1.1zM1075.3 854.5h1.1v1.1h-1.1zM1076.4 852.9h1.1v1.1h-1.1zM1059.4 853.3h1.1v1.1h-1.1zM1061.8 852.5h1.1v1.1h-1.1zM1072.9 852.4h1.1v1.1h-1.1zM1071.0 852.2h1.1v1.1h-1.1zM1075.6 853.4h1.1v1.1h-1.1zM1061.3 852.7h1.1v1.1h-1.1zM1070.7 851.8h1.1v1.1h-1.1zM1061.2 854.2h1.1v1.1h-1.1zM1067.7 851.9h1.1v1.1h-1.1zM1075.1 852.9h1.1v1.1h-1.1zM1065.8 855.0h1.1v1.1h-1.1zM1064.3 851.8h1.1v1.1h-1.1zM1075.0 852.6h1.1v1.1h-1.1zM1070.3 855.1h1.1v1.1h-1.1zM1074.3 854.8h1.1v1.1h-1.1zM1073.6 854.5h1.1v1.1h-1.1zM1071.8 852.1h1.1v1.1h-1.1zM1072.9 852.0h1.1v1.1h-1.1zM1076.3 852.4h1.1v1.1h-1.1zM1068.1 852.0h1.1v1.1h-1.1zM1075.9 852.4h1.1v1.1h-1.1zM1076.8 853.5h1.1v1.1h-1.1z" fill="#bbd739"/><path d="M1068.1 853.8h1.1v1.1h-1.1zM1068.3 853.0h1.1v1.1h-1.1zM1072.4 853.3h1.1v1.1h-1.1zM1071.8 852.5h1.1v1.1h-1.1zM1065.0 853.0h1.1v1.1h-1.1zM1069.4 854.5h1.1v1.1h-1.1zM1071.6 852.8h1.1v1.1h-1.1zM1065.7 853.9h1.1v1.1h-1.1zM1061.0 853.6h1.1v1.1h-1.1zM1068.6 852.4h1.1v1.1h-1.1zM1070.6 854.0h1.1v1.1h-1.1zM1066.2 854.0h1.1v1.1h-1.1zM1062.5 852.8h1.1v1.1h-1.1zM1072.8 852.9h1.1v1.1h-1.1zM1067.6 854.5h1.1v1.1h-1.1zM1061.9 853.4h1.1v1.1h-1.1zM1063.7 852.8h1.1v1.1h-1.1zM1067.8 853.5h1.1v1.1h-1.1zM1070.2 854.6h1.1v1.1h-1.1zM1074.9 853.9h1.1v1.1h-1.1zM1069.6 852.9h1.1v1.1h-1.1zM1063.4 852.8h1.1v1.1h-1.1zM1074.5 854.1h1.1v1.1h-1.1zM1065.5 854.4h1.1v1.1h-1.1zM1069.4 853.7h1.1v1.1h-1.1zM1066.9 854.4h1.1v1.1h-1.1zM1066.7 854.7h1.1v1.1h-1.1zM1071.3 854.5h1.1v1.1h-1.1zM1068.3 853.3h1.1v1.1h-1.1zM1061.7 854.0h1.1v1.1h-1.1zM1069.4 853.9h1.1v1.1h-1.1zM1068.6 854.7h1.1v1.1h-1.1zM1061.6 853.8h1.1v1.1h-1.1zM1070.1 852.5h1.1v1.1h-1.1zM1067.7 853.6h1.1v1.1h-1.1zM1067.3 854.3h1.1v1.1h-1.1zM1063.4 852.8h1.1v1.1h-1.1zM1064.6 853.3h1.1v1.1h-1.1zM1074.5 853.6h1.1v1.1h-1.1zM1068.9 854.0h1.1v1.1h-1.1zM1068.4 853.3h1.1v1.1h-1.1zM1066.8 852.9h1.1v1.1h-1.1zM1069.3 853.2h1.1v1.1h-1.1zM1060.9 853.4h1.1v1.1h-1.1zM1071.8 854.5h1.1v1.1h-1.1zM1066.2 854.4h1.1v1.1h-1.1zM1061.6 853.8h1.1v1.1h-1.1zM1068.6 853.8h1.1v1.1h-1.1zM1073.7 853.5h1.1v1.1h-1.1zM1067.8 854.8h1.1v1.1h-1.1zM1069.4 853.4h1.1v1.1h-1.1zM1068.8 853.3h1.1v1.1h-1.1zM1071.5 853.0h1.1v1.1h-1.1zM1070.9 852.9h1.1v1.1h-1.1zM1072.5 853.4h1.1v1.1h-1.1zM1073.8 853.3h1.1v1.1h-1.1zM1073.8 853.1h1.1v1.1h-1.1zM1072.5 853.2h1.1v1.1h-1.1zM1065.5 854.4h1.1v1.1h-1.1zM1061.2 853.9h1.1v1.1h-1.1zM1068.9 853.5h1.1v1.1h-1.1zM1073.8 854.2h1.1v1.1h-1.1zM1061.4 853.7h1.1v1.1h-1.1zM1071.5 853.0h1.1v1.1h-1.1zM1075.2 853.4h1.1v1.1h-1.1zM1073.0 853.4h1.1v1.1h-1.1zM1074.3 853.9h1.1v1.1h-1.1zM1065.2 853.0h1.1v1.1h-1.1zM1065.7 853.5h1.1v1.1h-1.1zM1067.9 853.7h1.1v1.1h-1.1zM1068.9 854.2h1.1v1.1h-1.1zM1065.5 852.5h1.1v1.1h-1.1zM1074.1 853.0h1.1v1.1h-1.1zM1073.9 852.9h1.1v1.1h-1.1zM1068.4 852.4h1.1v1.1h-1.1zM1069.0 853.8h1.1v1.1h-1.1zM1063.6 853.1h1.1v1.1h-1.1zM1074.2 853.1h1.1v1.1h-1.1zM1068.0 853.4h1.1v1.1h-1.1zM1067.3 852.9h1.1v1.1h-1.1zM1070.2 852.8h1.1v1.1h-1.1zM1074.1 853.1h1.1v1.1h-1.1zM1075.4 853.5h1.1v1.1h-1.1zM1061.5 853.3h1.1v1.1h-1.1zM1072.6 852.6h1.1v1.1h-1.1zM1067.1 853.2h1.1v1.1h-1.1zM1064.3 853.9h1.1v1.1h-1.1zM1071.0 853.2h1.1v1.1h-1.1zM1068.5 853.5h1.1v1.1h-1.1zM1069.7 854.5h1.1v1.1h-1.1zM1072.9 853.7h1.1v1.1h-1.1zM1068.6 854.7h1.1v1.1h-1.1zM1068.9 853.0h1.1v1.1h-1.1zM1071.7 852.5h1.1v1.1h-1.1zM1069.4 853.6h1.1v1.1h-1.1zM1072.4 854.4h1.1v1.1h-1.1zM1072.5 853.4h1.1v1.1h-1.1zM1071.6 852.4h1.1v1.1h-1.1zM1065.7 853.9h1.1v1.1h-1.1z" fill="#ddcd30"/>
<rect x="981.5" y="928.8" width="183" height="183" fill="none" stroke="#6b6b6b" stroke-width="1.2"/>
<rect x="1020.6" y="965.8" width="109.1" height="100.5" fill="none" stroke="#6b6b6b" stroke-width="1.2"/>
<path d="M978,930 H981.5 M979.5,958.24 H981.5 M979.5,951.12 H981.5 M979.5,946.08 H981.5 M979.5,942.16 H981.5 M979.5,938.96 H981.5 M979.5,936.26 H981.5 M979.5,933.92 H981.5 M979.5,931.85 H981.5 M978,970.4 H981.5 M979.5,999.27 H981.5 M979.5,991.99 H981.5 M979.5,986.83 H981.5 M979.5,982.83 H981.5 M979.5,979.56 H981.5 M979.5,976.8 H981.5 M979.5,974.4 H981.5 M979.5,972.29 H981.5 M978,1011.7 H981.5 M979.5,1043.08 H981.5 M979.5,1035.18 H981.5 M979.5,1029.57 H981.5 M979.5,1025.22 H981.5 M979.5,1021.66 H981.5 M979.5,1018.66 H981.5 M979.5,1016.05 H981.5 M979.5,1013.75 H981.5 M978,1056.6 H981.5 M978,1092.3 H981.5 M979.5,1088.3 H981.5 M979.5,1096.3 H981.5 M979.5,1109.3 H981.5 M981.5,1111.8 V1115.3 M998.9,1111.8 V1113.8 M1016.3,1111.8 V1115.3 M1033.7,1111.8 V1113.8 M1051.1,1111.8 V1115.3 M1068.5,1111.8 V1113.8 M1085.9,1111.8 V1115.3 M1103.3,1111.8 V1113.8 M1120.7,1111.8 V1115.3 M1138.1,1111.8 V1113.8 M1155.5,1111.8 V1115.3 " stroke="#444" stroke-width="1" fill="none"/>
<path d="M981.5,1111.8 H1164.5 M981.5,928.8 V1111.8" stroke="#444" stroke-width="1.8" fill="none"/>
<text x="975" y="933.5" font-size="9.5" fill="#333" text-anchor="end">10<tspan dy="-4" font-size="6.5">6</tspan></text>
<text x="975" y="973.9" font-size="9.5" fill="#333" text-anchor="end">10<tspan dy="-4" font-size="6.5">5</tspan></text>
<text x="975" y="1015.2" font-size="9.5" fill="#333" text-anchor="end">10<tspan dy="-4" font-size="6.5">4</tspan></text>
<text x="975" y="1060.1" font-size="9.5" fill="#333" text-anchor="end">10<tspan dy="-4" font-size="6.5">3</tspan></text>
<text x="975" y="1095.8" font-size="9.5" font-weight="normal" fill="#333" text-anchor="end" >0</text>
<text x="982.1" y="1129.8" font-size="9.5" font-weight="normal" fill="#333" text-anchor="middle" >0</text>
<text x="1016.82" y="1129.8" font-size="9.5" font-weight="normal" fill="#333" text-anchor="middle" >200K</text>
<text x="1051.54" y="1129.8" font-size="9.5" font-weight="normal" fill="#333" text-anchor="middle" >400K</text>
<text x="1086.26" y="1129.8" font-size="9.5" font-weight="normal" fill="#333" text-anchor="middle" >600K</text>
<text x="1120.98" y="1129.8" font-size="9.5" font-weight="normal" fill="#333" text-anchor="middle" >800K</text>
<text x="1155.7" y="1129.8" font-size="9.5" font-weight="normal" fill="#333" text-anchor="middle" >1M</text>
<text x="1073.3" y="1144.8" font-size="14.3" font-weight="normal" fill="#333" text-anchor="middle" >FSC-A</text>
<text transform="translate(957.6,1020.8) rotate(-90)" font-size="16.5" fill="#222" text-anchor="middle" textLength="85" lengthAdjust="spacingAndGlyphs">S Alexa-647</text>
<text x="1042.6" y="950.4" font-size="18.5" font-weight="bold" fill="#1a1a1a" stroke="#1a1a1a" stroke-width="0.4" textLength="116.4" lengthAdjust="spacingAndGlyphs">SARS-CoV 2</text>
<text x="1081.6" y="984.3" font-size="16.5" font-weight="bold" fill="#1a1a1a" stroke="#1a1a1a" stroke-width="0.45" textLength="41.6" lengthAdjust="spacingAndGlyphs">20%</text>
<path d="M1102.9 1093.0h1.1v1.1h-1.1zM1098.3 1096.1h1.1v1.1h-1.1zM1119.5 1085.3h1.1v1.1h-1.1zM1118.0 1089.3h1.1v1.1h-1.1zM1118.9 1084.4h1.1v1.1h-1.1zM1077.4 1095.6h1.1v1.1h-1.1zM1057.2 1098.7h1.1v1.1h-1.1zM1087.2 1095.7h1.1v1.1h-1.1zM1047.8 1075.1h1.1v1.1h-1.1zM1089.8 1095.0h1.1v1.1h-1.1zM1109.9 1077.5h1.1v1.1h-1.1zM1091.9 1075.9h1.1v1.1h-1.1zM1117.8 1082.9h1.1v1.1h-1.1zM1059.9 1103.8h1.1v1.1h-1.1zM1065.1 1074.6h1.1v1.1h-1.1zM1115.2 1092.3h1.1v1.1h-1.1zM1098.1 1094.5h1.1v1.1h-1.1zM1117.3 1091.4h1.1v1.1h-1.1zM1056.8 1073.5h1.1v1.1h-1.1zM1118.2 1088.6h1.1v1.1h-1.1zM1115.8 1079.2h1.1v1.1h-1.1zM1074.2 1098.8h1.1v1.1h-1.1zM1082.9 1075.1h1.1v1.1h-1.1zM1119.4 1088.5h1.1v1.1h-1.1zM1075.8 1074.5h1.1v1.1h-1.1zM1106.2 1093.6h1.1v1.1h-1.1zM1110.4 1091.7h1.1v1.1h-1.1zM1091.6 1096.1h1.1v1.1h-1.1zM1105.4 1097.6h1.1v1.1h-1.1zM1073.3 1099.0h1.1v1.1h-1.1zM1119.6 1083.8h1.1v1.1h-1.1zM1066.2 1072.6h1.1v1.1h-1.1zM1112.5 1077.1h1.1v1.1h-1.1zM1105.8 1074.3h1.1v1.1h-1.1zM1063.7 1074.2h1.1v1.1h-1.1zM1075.1 1100.8h1.1v1.1h-1.1zM1118.2 1087.5h1.1v1.1h-1.1zM1099.7 1075.8h1.1v1.1h-1.1zM1090.6 1074.8h1.1v1.1h-1.1zM1119.2 1084.3h1.1v1.1h-1.1zM1113.3 1079.6h1.1v1.1h-1.1zM1088.4 1075.8h1.1v1.1h-1.1zM1117.7 1078.0h1.1v1.1h-1.1zM1114.6 1089.1h1.1v1.1h-1.1zM1101.9 1075.7h1.1v1.1h-1.1zM1119.1 1088.6h1.1v1.1h-1.1zM1108.8 1076.9h1.1v1.1h-1.1zM1105.6 1078.2h1.1v1.1h-1.1zM1084.0 1074.7h1.1v1.1h-1.1zM1116.8 1081.4h1.1v1.1h-1.1zM1101.7 1076.8h1.1v1.1h-1.1zM1103.7 1076.6h1.1v1.1h-1.1zM1065.3 1059.3h1.1v1.1h-1.1zM1053.3 1055.1h1.1v1.1h-1.1zM1066.2 1073.8h1.1v1.1h-1.1zM1057.9 1065.4h1.1v1.1h-1.1zM1089.1 1051.7h1.1v1.1h-1.1zM1082.5 1033.2h1.1v1.1h-1.1zM1062.9 1074.2h1.1v1.1h-1.1zM1064.5 1051.3h1.1v1.1h-1.1zM1068.8 1064.6h1.1v1.1h-1.1zM1090.9 1055.7h1.1v1.1h-1.1zM1081.8 1039.7h1.1v1.1h-1.1zM1064.7 1066.2h1.1v1.1h-1.1zM1078.9 1060.4h1.1v1.1h-1.1zM1049.4 1018.5h1.1v1.1h-1.1zM1118.1 991.7h1.1v1.1h-1.1zM1054.2 1017.8h1.1v1.1h-1.1zM1089.3 1067.6h1.1v1.1h-1.1zM1084.2 1064.5h1.1v1.1h-1.1zM1075.2 1069.3h1.1v1.1h-1.1zM1077.7 997.0h1.1v1.1h-1.1zM1061.8 1078.9h1.1v1.1h-1.1zM1073.1 1076.6h1.1v1.1h-1.1zM1077.9 1060.5h1.1v1.1h-1.1zM1079.3 1065.6h1.1v1.1h-1.1zM1097.6 1039.2h1.1v1.1h-1.1zM1101.1 1038.0h1.1v1.1h-1.1zM1054.6 1074.8h1.1v1.1h-1.1zM1082.8 1039.7h1.1v1.1h-1.1zM1076.1 1078.9h1.1v1.1h-1.1zM1079.7 1068.1h1.1v1.1h-1.1zM1079.7 1054.3h1.1v1.1h-1.1zM1089.7 991.4h1.1v1.1h-1.1zM1101.9 1062.2h1.1v1.1h-1.1zM1097.9 1079.3h1.1v1.1h-1.1zM1064.5 1055.1h1.1v1.1h-1.1zM1065.0 1079.2h1.1v1.1h-1.1zM1075.3 1071.5h1.1v1.1h-1.1zM1114.6 1047.2h1.1v1.1h-1.1zM1074.9 1078.4h1.1v1.1h-1.1zM1079.5 1055.9h1.1v1.1h-1.1zM1101.2 1049.5h1.1v1.1h-1.1zM1069.8 1049.0h1.1v1.1h-1.1zM1055.1 1060.6h1.1v1.1h-1.1zM1089.5 1077.6h1.1v1.1h-1.1zM1096.8 1079.5h1.1v1.1h-1.1zM1088.2 1058.2h1.1v1.1h-1.1zM1095.2 1071.1h1.1v1.1h-1.1zM1073.2 1052.7h1.1v1.1h-1.1zM1079.1 1063.8h1.1v1.1h-1.1zM1081.0 1079.9h1.1v1.1h-1.1zM1061.3 1077.3h1.1v1.1h-1.1zM1084.2 1070.2h1.1v1.1h-1.1zM1069.7 1033.3h1.1v1.1h-1.1zM1046.7 1014.3h1.1v1.1h-1.1zM1073.1 1054.7h1.1v1.1h-1.1zM1085.3 1059.9h1.1v1.1h-1.1zM1058.7 1070.8h1.1v1.1h-1.1zM1083.9 1056.7h1.1v1.1h-1.1zM1065.7 1065.0h1.1v1.1h-1.1zM1077.1 1038.4h1.1v1.1h-1.1zM1090.9 1050.0h1.1v1.1h-1.1zM1084.2 1070.6h1.1v1.1h-1.1zM1064.0 1012.2h1.1v1.1h-1.1zM1071.3 1074.3h1.1v1.1h-1.1zM1097.2 998.3h1.1v1.1h-1.1zM1079.3 1067.5h1.1v1.1h-1.1zM1082.0 1060.1h1.1v1.1h-1.1zM1085.5 1071.6h1.1v1.1h-1.1zM1116.7 1039.5h1.1v1.1h-1.1zM1094.2 1074.2h1.1v1.1h-1.1zM1077.2 1072.7h1.1v1.1h-1.1zM1055.8 1025.6h1.1v1.1h-1.1zM1083.8 1077.4h1.1v1.1h-1.1zM1052.3 1060.7h1.1v1.1h-1.1zM1086.8 1067.4h1.1v1.1h-1.1zM1088.9 999.5h1.1v1.1h-1.1zM1092.1 1011.0h1.1v1.1h-1.1zM1108.2 1048.9h1.1v1.1h-1.1zM1063.1 1047.2h1.1v1.1h-1.1zM1073.9 1067.5h1.1v1.1h-1.1zM1051.6 1033.4h1.1v1.1h-1.1zM1078.4 1060.2h1.1v1.1h-1.1zM1108.1 1071.3h1.1v1.1h-1.1zM1077.1 1025.5h1.1v1.1h-1.1zM1084.1 1067.2h1.1v1.1h-1.1zM1082.6 997.1h1.1v1.1h-1.1zM1085.5 1001.5h1.1v1.1h-1.1zM1062.6 1014.8h1.1v1.1h-1.1zM1106.3 1071.7h1.1v1.1h-1.1zM1080.4 1060.5h1.1v1.1h-1.1zM1079.7 1047.3h1.1v1.1h-1.1zM1078.4 1075.9h1.1v1.1h-1.1zM1077.3 1012.2h1.1v1.1h-1.1zM1083.0 1048.4h1.1v1.1h-1.1zM1070.0 1049.2h1.1v1.1h-1.1zM1075.6 1074.0h1.1v1.1h-1.1zM1058.7 1063.9h1.1v1.1h-1.1zM1062.8 1058.0h1.1v1.1h-1.1zM1088.2 1070.9h1.1v1.1h-1.1zM1070.8 1036.2h1.1v1.1h-1.1zM1063.1 1013.0h1.1v1.1h-1.1zM1092.8 1068.2h1.1v1.1h-1.1zM1095.7 1080.2h1.1v1.1h-1.1zM1083.6 1055.7h1.1v1.1h-1.1zM1090.4 1074.0h1.1v1.1h-1.1zM1062.4 1037.8h1.1v1.1h-1.1zM1047.6 1001.9h1.1v1.1h-1.1zM1064.2 1058.7h1.1v1.1h-1.1zM1098.3 1041.1h1.1v1.1h-1.1zM1110.9 1048.5h1.1v1.1h-1.1zM1066.6 1071.7h1.1v1.1h-1.1zM1086.9 1077.1h1.1v1.1h-1.1zM1045.6 1040.1h1.1v1.1h-1.1zM1078.3 1062.1h1.1v1.1h-1.1zM1057.0 1069.4h1.1v1.1h-1.1zM1070.0 1068.1h1.1v1.1h-1.1zM1074.1 1035.6h1.1v1.1h-1.1zM1075.5 1078.6h1.1v1.1h-1.1zM1094.0 1045.6h1.1v1.1h-1.1zM1103.8 1076.3h1.1v1.1h-1.1zM1101.1 1064.7h1.1v1.1h-1.1zM1073.9 1063.1h1.1v1.1h-1.1zM1083.0 1042.1h1.1v1.1h-1.1zM1071.7 1057.5h1.1v1.1h-1.1zM1091.9 1080.1h1.1v1.1h-1.1zM1066.3 1077.0h1.1v1.1h-1.1zM1070.9 1026.7h1.1v1.1h-1.1zM1082.0 1074.8h1.1v1.1h-1.1zM1083.1 1078.5h1.1v1.1h-1.1zM1063.8 1049.9h1.1v1.1h-1.1zM1092.7 1006.7h1.1v1.1h-1.1zM1107.0 1042.3h1.1v1.1h-1.1zM1078.9 1077.2h1.1v1.1h-1.1zM1098.6 1077.1h1.1v1.1h-1.1zM1100.4 1066.5h1.1v1.1h-1.1zM1060.2 1047.2h1.1v1.1h-1.1zM1089.3 990.6h1.1v1.1h-1.1zM1090.9 1042.4h1.1v1.1h-1.1zM1073.4 1076.4h1.1v1.1h-1.1zM1068.1 1060.1h1.1v1.1h-1.1zM1106.6 1072.6h1.1v1.1h-1.1zM1084.9 1035.3h1.1v1.1h-1.1zM1093.7 991.1h1.1v1.1h-1.1zM1095.9 1067.9h1.1v1.1h-1.1zM1070.3 1046.0h1.1v1.1h-1.1zM1069.0 1054.7h1.1v1.1h-1.1zM1065.1 1055.6h1.1v1.1h-1.1zM1092.5 1069.3h1.1v1.1h-1.1zM1071.6 1061.8h1.1v1.1h-1.1zM1082.9 1069.0h1.1v1.1h-1.1zM1077.2 1010.6h1.1v1.1h-1.1zM1107.0 1017.9h1.1v1.1h-1.1zM1106.2 1037.0h1.1v1.1h-1.1zM1087.9 1042.0h1.1v1.1h-1.1zM1089.5 1074.2h1.1v1.1h-1.1zM1106.5 1059.2h1.1v1.1h-1.1zM1081.8 1023.9h1.1v1.1h-1.1zM1066.2 1059.3h1.1v1.1h-1.1zM1092.8 997.1h1.1v1.1h-1.1zM1092.1 1077.1h1.1v1.1h-1.1zM1048.3 1057.3h1.1v1.1h-1.1zM1074.9 1063.9h1.1v1.1h-1.1zM1091.8 1032.5h1.1v1.1h-1.1zM1094.3 1070.6h1.1v1.1h-1.1zM1092.2 1000.7h1.1v1.1h-1.1zM1066.3 1013.9h1.1v1.1h-1.1zM1062.0 1069.3h1.1v1.1h-1.1zM1079.3 1078.1h1.1v1.1h-1.1zM1106.9 1024.5h1.1v1.1h-1.1zM1075.2 1058.1h1.1v1.1h-1.1zM1076.2 1052.6h1.1v1.1h-1.1zM1064.3 1045.5h1.1v1.1h-1.1zM1071.4 1036.6h1.1v1.1h-1.1zM1094.3 1073.5h1.1v1.1h-1.1zM1064.1 1057.2h1.1v1.1h-1.1zM1087.6 1026.3h1.1v1.1h-1.1zM1093.7 1026.2h1.1v1.1h-1.1zM1077.3 1028.5h1.1v1.1h-1.1zM1054.4 1068.1h1.1v1.1h-1.1zM1104.8 1070.7h1.1v1.1h-1.1zM1088.8 1063.7h1.1v1.1h-1.1zM1093.9 1054.0h1.1v1.1h-1.1zM1063.5 1058.5h1.1v1.1h-1.1zM1059.6 1045.1h1.1v1.1h-1.1zM1072.1 1058.4h1.1v1.1h-1.1zM1076.2 1012.3h1.1v1.1h-1.1zM1081.8 1049.1h1.1v1.1h-1.1zM1073.6 1057.9h1.1v1.1h-1.1zM1063.1 1031.9h1.1v1.1h-1.1zM1059.3 1003.0h1.1v1.1h-1.1zM1089.8 1059.6h1.1v1.1h-1.1zM1070.4 1019.4h1.1v1.1h-1.1zM1076.8 1038.6h1.1v1.1h-1.1zM1109.9 1076.0h1.1v1.1h-1.1zM1088.9 1080.9h1.1v1.1h-1.1zM1090.7 1063.0h1.1v1.1h-1.1zM1056.7 1074.8h1.1v1.1h-1.1zM1045.8 1062.4h1.1v1.1h-1.1zM1094.3 1039.4h1.1v1.1h-1.1zM1061.7 1031.1h1.1v1.1h-1.1zM1079.0 1070.6h1.1v1.1h-1.1zM1042.7 1077.9h1.1v1.1h-1.1zM1097.2 1053.0h1.1v1.1h-1.1zM1094.0 1080.6h1.1v1.1h-1.1zM1085.8 1051.9h1.1v1.1h-1.1zM1062.8 1056.7h1.1v1.1h-1.1zM1073.4 1019.1h1.1v1.1h-1.1zM1106.1 1075.3h1.1v1.1h-1.1zM1074.5 1031.5h1.1v1.1h-1.1zM1071.4 1036.1h1.1v1.1h-1.1zM1100.4 1070.4h1.1v1.1h-1.1zM1064.6 1040.8h1.1v1.1h-1.1zM1071.5 1056.3h1.1v1.1h-1.1zM1073.5 996.1h1.1v1.1h-1.1zM1093.5 1080.7h1.1v1.1h-1.1zM1071.3 1025.9h1.1v1.1h-1.1zM1096.3 1069.3h1.1v1.1h-1.1zM1085.2 1050.8h1.1v1.1h-1.1zM1087.3 1059.9h1.1v1.1h-1.1zM1094.4 1066.5h1.1v1.1h-1.1zM1111.9 1063.2h1.1v1.1h-1.1zM1069.6 1080.6h1.1v1.1h-1.1zM1102.2 1075.6h1.1v1.1h-1.1zM1099.0 1078.3h1.1v1.1h-1.1zM1092.1 1072.2h1.1v1.1h-1.1zM1078.6 1039.6h1.1v1.1h-1.1zM1048.1 1080.9h1.1v1.1h-1.1zM1078.5 1055.9h1.1v1.1h-1.1zM1094.4 1043.6h1.1v1.1h-1.1zM1076.4 1078.6h1.1v1.1h-1.1zM1079.7 1079.3h1.1v1.1h-1.1zM1093.2 1055.3h1.1v1.1h-1.1zM1114.7 1052.2h1.1v1.1h-1.1zM1108.1 1022.9h1.1v1.1h-1.1zM1071.8 1002.0h1.1v1.1h-1.1zM1099.3 1043.7h1.1v1.1h-1.1zM1077.1 1071.9h1.1v1.1h-1.1zM1093.8 1073.8h1.1v1.1h-1.1zM1055.7 1028.9h1.1v1.1h-1.1zM1066.6 1055.1h1.1v1.1h-1.1zM1091.9 1060.6h1.1v1.1h-1.1zM1064.8 993.0h1.1v1.1h-1.1zM1070.3 1053.1h1.1v1.1h-1.1zM1049.6 1066.4h1.1v1.1h-1.1zM1053.3 1069.7h1.1v1.1h-1.1zM1104.9 1062.4h1.1v1.1h-1.1zM1062.0 1079.7h1.1v1.1h-1.1zM1097.1 1025.5h1.1v1.1h-1.1zM1073.7 1080.8h1.1v1.1h-1.1zM1092.2 1018.1h1.1v1.1h-1.1zM1092.4 1078.4h1.1v1.1h-1.1zM1103.7 1004.1h1.1v1.1h-1.1zM1089.0 1027.2h1.1v1.1h-1.1zM1077.3 1043.7h1.1v1.1h-1.1zM1074.4 1072.9h1.1v1.1h-1.1zM1076.3 1080.3h1.1v1.1h-1.1zM1108.0 1058.5h1.1v1.1h-1.1zM1099.3 1071.5h1.1v1.1h-1.1zM1096.6 1031.2h1.1v1.1h-1.1zM1070.6 1066.4h1.1v1.1h-1.1zM1062.8 1074.9h1.1v1.1h-1.1zM1077.9 1064.5h1.1v1.1h-1.1zM1058.1 1038.1h1.1v1.1h-1.1zM1071.3 1029.0h1.1v1.1h-1.1zM1060.5 1046.7h1.1v1.1h-1.1zM1077.7 1028.2h1.1v1.1h-1.1zM1070.9 1073.5h1.1v1.1h-1.1zM1082.2 1065.3h1.1v1.1h-1.1zM1056.0 1079.3h1.1v1.1h-1.1zM1087.2 1071.7h1.1v1.1h-1.1zM1081.1 1043.6h1.1v1.1h-1.1zM1051.0 1061.1h1.1v1.1h-1.1zM1058.4 1055.7h1.1v1.1h-1.1zM1064.4 1057.1h1.1v1.1h-1.1zM1060.9 1058.3h1.1v1.1h-1.1zM1077.5 1073.1h1.1v1.1h-1.1zM1057.9 1079.2h1.1v1.1h-1.1zM1086.9 1080.1h1.1v1.1h-1.1zM1074.7 1008.0h1.1v1.1h-1.1zM1088.7 1073.0h1.1v1.1h-1.1zM1071.9 994.0h1.1v1.1h-1.1zM1114.9 1053.5h1.1v1.1h-1.1zM1070.9 1071.8h1.1v1.1h-1.1zM1050.6 1060.8h1.1v1.1h-1.1zM1098.5 1011.3h1.1v1.1h-1.1zM1073.7 1075.7h1.1v1.1h-1.1zM1052.1 1015.1h1.1v1.1h-1.1zM1117.6 1064.6h1.1v1.1h-1.1zM1067.7 1077.7h1.1v1.1h-1.1zM1101.7 1073.9h1.1v1.1h-1.1zM1078.6 1052.2h1.1v1.1h-1.1zM1089.0 1022.6h1.1v1.1h-1.1zM1050.5 1068.8h1.1v1.1h-1.1zM1084.8 1073.0h1.1v1.1h-1.1zM1059.0 1077.4h1.1v1.1h-1.1zM1042.5 1043.7h1.1v1.1h-1.1zM1078.7 1050.9h1.1v1.1h-1.1zM1087.8 1076.6h1.1v1.1h-1.1zM1102.3 1080.9h1.1v1.1h-1.1zM1074.8 1034.1h1.1v1.1h-1.1zM1070.7 1007.2h1.1v1.1h-1.1zM1055.6 1065.7h1.1v1.1h-1.1zM1083.2 1042.9h1.1v1.1h-1.1zM1072.7 1045.5h1.1v1.1h-1.1zM1069.5 994.2h1.1v1.1h-1.1zM1066.1 1072.6h1.1v1.1h-1.1zM1073.9 1067.4h1.1v1.1h-1.1zM1072.8 1065.8h1.1v1.1h-1.1zM1078.0 1077.2h1.1v1.1h-1.1zM1059.0 1027.9h1.1v1.1h-1.1zM1094.0 1035.1h1.1v1.1h-1.1zM1092.7 1000.3h1.1v1.1h-1.1zM1045.5 1045.0h1.1v1.1h-1.1zM1052.7 992.1h1.1v1.1h-1.1zM1081.7 1080.2h1.1v1.1h-1.1zM1073.9 1071.4h1.1v1.1h-1.1zM1057.5 1068.4h1.1v1.1h-1.1zM1042.3 1070.4h1.1v1.1h-1.1zM1078.5 1033.6h1.1v1.1h-1.1zM1077.0 1019.2h1.1v1.1h-1.1zM1071.1 1046.4h1.1v1.1h-1.1zM1091.1 1050.6h1.1v1.1h-1.1zM1065.5 1056.8h1.1v1.1h-1.1zM1097.0 1026.4h1.1v1.1h-1.1zM1084.6 1056.0h1.1v1.1h-1.1zM1097.9 1064.8h1.1v1.1h-1.1zM1076.3 1028.2h1.1v1.1h-1.1zM1073.1 1041.5h1.1v1.1h-1.1zM1085.0 1015.9h1.1v1.1h-1.1zM1059.2 1027.7h1.1v1.1h-1.1zM1077.3 1030.1h1.1v1.1h-1.1zM1080.6 1056.2h1.1v1.1h-1.1zM1082.8 1078.7h1.1v1.1h-1.1zM1092.5 1076.7h1.1v1.1h-1.1zM1088.3 1060.8h1.1v1.1h-1.1zM1068.1 1020.4h1.1v1.1h-1.1zM1074.0 1075.3h1.1v1.1h-1.1zM1060.9 1071.2h1.1v1.1h-1.1zM1061.5 1013.9h1.1v1.1h-1.1zM1067.7 1071.7h1.1v1.1h-1.1zM1093.0 1036.7h1.1v1.1h-1.1zM1058.4 1042.0h1.1v1.1h-1.1zM1083.0 1057.5h1.1v1.1h-1.1zM1083.2 1026.9h1.1v1.1h-1.1zM1119.5 1077.2h1.1v1.1h-1.1zM1107.7 1076.3h1.1v1.1h-1.1zM1048.7 1010.8h1.1v1.1h-1.1zM1096.5 1067.5h1.1v1.1h-1.1zM1065.2 1065.4h1.1v1.1h-1.1zM1088.3 1069.9h1.1v1.1h-1.1zM1092.5 1057.6h1.1v1.1h-1.1zM1055.4 1052.0h1.1v1.1h-1.1zM1101.3 1048.3h1.1v1.1h-1.1zM1079.9 1065.4h1.1v1.1h-1.1zM1070.1 1040.9h1.1v1.1h-1.1zM1094.2 1072.8h1.1v1.1h-1.1zM1056.2 1047.8h1.1v1.1h-1.1zM1108.5 1042.5h1.1v1.1h-1.1zM1060.0 1077.2h1.1v1.1h-1.1zM1067.0 1059.2h1.1v1.1h-1.1zM1117.0 1043.8h1.1v1.1h-1.1zM1082.4 1075.7h1.1v1.1h-1.1zM1057.5 1017.4h1.1v1.1h-1.1zM1071.8 1053.3h1.1v1.1h-1.1zM1071.6 1052.3h1.1v1.1h-1.1zM1084.9 1052.5h1.1v1.1h-1.1zM1071.8 1077.5h1.1v1.1h-1.1zM1088.2 1035.2h1.1v1.1h-1.1zM1069.3 1068.9h1.1v1.1h-1.1zM1101.1 1075.7h1.1v1.1h-1.1zM1087.9 1012.7h1.1v1.1h-1.1zM1078.5 1064.6h1.1v1.1h-1.1zM1078.8 1043.3h1.1v1.1h-1.1zM1056.3 1071.8h1.1v1.1h-1.1zM1080.2 1074.6h1.1v1.1h-1.1zM1082.8 1070.4h1.1v1.1h-1.1zM1064.8 1066.9h1.1v1.1h-1.1zM1067.6 1043.9h1.1v1.1h-1.1zM1092.7 1079.4h1.1v1.1h-1.1zM1065.8 1065.3h1.1v1.1h-1.1zM1052.0 1027.2h1.1v1.1h-1.1zM1080.4 1065.2h1.1v1.1h-1.1zM1061.3 1022.5h1.1v1.1h-1.1zM1065.6 1062.0h1.1v1.1h-1.1zM1097.1 1079.6h1.1v1.1h-1.1zM1092.1 1010.5h1.1v1.1h-1.1zM1093.1 1065.0h1.1v1.1h-1.1zM1056.7 1064.4h1.1v1.1h-1.1zM1063.3 1078.2h1.1v1.1h-1.1zM1085.0 1011.4h1.1v1.1h-1.1zM1081.2 1013.6h1.1v1.1h-1.1zM1078.2 1032.7h1.1v1.1h-1.1zM1061.6 1060.6h1.1v1.1h-1.1zM1080.3 1024.3h1.1v1.1h-1.1zM1071.9 1053.6h1.1v1.1h-1.1zM1096.0 1025.5h1.1v1.1h-1.1zM1104.5 1061.7h1.1v1.1h-1.1zM1079.3 1056.8h1.1v1.1h-1.1zM1085.8 1044.2h1.1v1.1h-1.1zM1090.7 1046.4h1.1v1.1h-1.1zM1061.8 1079.1h1.1v1.1h-1.1zM1067.2 1038.6h1.1v1.1h-1.1zM1093.1 1049.2h1.1v1.1h-1.1zM1101.9 1027.2h1.1v1.1h-1.1zM1074.6 1065.6h1.1v1.1h-1.1zM1077.8 1054.3h1.1v1.1h-1.1zM1103.3 1011.6h1.1v1.1h-1.1zM1061.5 1067.6h1.1v1.1h-1.1zM1080.7 1050.4h1.1v1.1h-1.1zM1082.6 1074.9h1.1v1.1h-1.1zM1059.3 1071.1h1.1v1.1h-1.1zM1049.0 1064.7h1.1v1.1h-1.1zM1078.0 1068.2h1.1v1.1h-1.1zM1048.7 1061.9h1.1v1.1h-1.1zM1083.5 1060.5h1.1v1.1h-1.1zM1087.1 998.5h1.1v1.1h-1.1zM1066.5 1065.1h1.1v1.1h-1.1zM1079.1 1017.5h1.1v1.1h-1.1zM1100.4 1056.4h1.1v1.1h-1.1zM1097.7 1073.3h1.1v1.1h-1.1zM1072.2 1069.9h1.1v1.1h-1.1zM1070.0 1076.6h1.1v1.1h-1.1zM1081.2 1034.8h1.1v1.1h-1.1zM1079.4 1042.9h1.1v1.1h-1.1zM1072.5 1068.9h1.1v1.1h-1.1zM1070.4 1070.2h1.1v1.1h-1.1zM1062.0 1062.6h1.1v1.1h-1.1zM1100.1 1079.3h1.1v1.1h-1.1zM1094.1 1068.6h1.1v1.1h-1.1zM1077.3 1074.0h1.1v1.1h-1.1zM1060.5 1069.4h1.1v1.1h-1.1zM1084.2 1069.3h1.1v1.1h-1.1zM1086.0 1078.9h1.1v1.1h-1.1zM1084.1 1068.6h1.1v1.1h-1.1zM1075.7 1070.5h1.1v1.1h-1.1zM1079.3 1014.3h1.1v1.1h-1.1zM1098.8 1063.5h1.1v1.1h-1.1zM1064.4 1070.8h1.1v1.1h-1.1zM1060.5 1043.1h1.1v1.1h-1.1zM1085.0 1076.3h1.1v1.1h-1.1zM1097.9 1068.1h1.1v1.1h-1.1zM1074.1 1017.8h1.1v1.1h-1.1zM1071.5 1079.6h1.1v1.1h-1.1zM1069.0 1078.6h1.1v1.1h-1.1zM1059.1 1067.4h1.1v1.1h-1.1zM1101.0 1037.3h1.1v1.1h-1.1zM1100.0 1012.2h1.1v1.1h-1.1zM1087.4 1064.1h1.1v1.1h-1.1zM1066.9 1078.4h1.1v1.1h-1.1zM1050.2 1080.5h1.1v1.1h-1.1zM1082.7 1055.0h1.1v1.1h-1.1zM1061.0 992.8h1.1v1.1h-1.1zM1111.4 1041.8h1.1v1.1h-1.1zM1083.0 1052.3h1.1v1.1h-1.1zM1046.8 1023.2h1.1v1.1h-1.1zM1097.4 1032.3h1.1v1.1h-1.1zM1094.7 1070.2h1.1v1.1h-1.1zM1071.1 1072.4h1.1v1.1h-1.1zM1084.2 1047.6h1.1v1.1h-1.1zM1045.7 1008.1h1.1v1.1h-1.1zM1115.9 1073.0h1.1v1.1h-1.1zM1048.9 1079.5h1.1v1.1h-1.1zM1082.7 1025.3h1.1v1.1h-1.1zM1084.6 1040.9h1.1v1.1h-1.1zM1098.7 1042.5h1.1v1.1h-1.1zM1043.3 1066.9h1.1v1.1h-1.1zM1051.7 1057.2h1.1v1.1h-1.1zM1066.4 1061.4h1.1v1.1h-1.1zM1085.2 1077.2h1.1v1.1h-1.1zM1084.8 1074.0h1.1v1.1h-1.1zM1047.4 1066.2h1.1v1.1h-1.1zM1099.0 1076.2h1.1v1.1h-1.1zM1065.8 1065.1h1.1v1.1h-1.1zM1064.4 1071.1h1.1v1.1h-1.1zM1094.5 1072.5h1.1v1.1h-1.1zM1089.0 993.8h1.1v1.1h-1.1zM1079.4 1014.0h1.1v1.1h-1.1zM1079.0 1074.5h1.1v1.1h-1.1zM1069.6 1056.6h1.1v1.1h-1.1zM1106.8 1059.4h1.1v1.1h-1.1zM1081.7 1032.1h1.1v1.1h-1.1zM1082.9 1016.7h1.1v1.1h-1.1zM1070.4 1054.7h1.1v1.1h-1.1zM1101.1 1078.2h1.1v1.1h-1.1zM1083.7 1056.4h1.1v1.1h-1.1zM1086.4 1051.7h1.1v1.1h-1.1zM1088.5 1076.9h1.1v1.1h-1.1zM1080.2 1075.1h1.1v1.1h-1.1zM1092.9 1063.2h1.1v1.1h-1.1zM1088.7 1078.0h1.1v1.1h-1.1zM1066.5 1050.5h1.1v1.1h-1.1zM1113.9 991.7h1.1v1.1h-1.1zM1089.8 1078.5h1.1v1.1h-1.1zM1105.9 1045.8h1.1v1.1h-1.1zM1068.1 1059.6h1.1v1.1h-1.1zM1079.2 1063.7h1.1v1.1h-1.1zM1102.2 1075.6h1.1v1.1h-1.1zM1064.0 1065.1h1.1v1.1h-1.1zM1066.6 1003.5h1.1v1.1h-1.1zM1043.2 1067.2h1.1v1.1h-1.1zM1077.3 1023.4h1.1v1.1h-1.1zM1063.9 1079.8h1.1v1.1h-1.1zM1060.4 1066.0h1.1v1.1h-1.1zM1059.9 1072.8h1.1v1.1h-1.1zM1081.7 1058.2h1.1v1.1h-1.1zM1085.4 1075.1h1.1v1.1h-1.1zM1107.9 1063.4h1.1v1.1h-1.1zM1106.6 1071.3h1.1v1.1h-1.1zM1089.1 1078.9h1.1v1.1h-1.1zM1112.5 1031.2h1.1v1.1h-1.1zM1064.6 1071.1h1.1v1.1h-1.1zM1047.1 995.8h1.1v1.1h-1.1zM1104.1 1022.8h1.1v1.1h-1.1zM1085.5 1073.4h1.1v1.1h-1.1zM1091.9 1086.2h1.1v1.1h-1.1zM1056.0 1087.6h1.1v1.1h-1.1zM1058.4 1085.8h1.1v1.1h-1.1zM1081.3 1083.5h1.1v1.1h-1.1zM1094.1 1083.9h1.1v1.1h-1.1zM1087.1 1083.6h1.1v1.1h-1.1zM1048.3 1084.3h1.1v1.1h-1.1zM1082.1 1084.9h1.1v1.1h-1.1zM1117.1 1092.5h1.1v1.1h-1.1zM1077.2 1085.7h1.1v1.1h-1.1zM1097.5 1082.5h1.1v1.1h-1.1zM1083.2 1088.2h1.1v1.1h-1.1zM1075.8 1087.7h1.1v1.1h-1.1zM1108.9 1086.4h1.1v1.1h-1.1zM1056.9 1088.2h1.1v1.1h-1.1zM1085.1 1088.1h1.1v1.1h-1.1zM1060.5 1091.4h1.1v1.1h-1.1zM1082.1 1088.7h1.1v1.1h-1.1zM1111.8 1083.5h1.1v1.1h-1.1zM1087.5 1085.6h1.1v1.1h-1.1zM1054.2 1084.6h1.1v1.1h-1.1zM1060.3 1085.5h1.1v1.1h-1.1zM1072.0 1089.8h1.1v1.1h-1.1zM1073.1 1085.0h1.1v1.1h-1.1zM1116.4 1090.4h1.1v1.1h-1.1zM1097.3 1091.4h1.1v1.1h-1.1zM1069.1 1085.6h1.1v1.1h-1.1zM1094.1 1090.7h1.1v1.1h-1.1zM1107.6 1084.9h1.1v1.1h-1.1zM1093.2 1089.1h1.1v1.1h-1.1zM1086.8 1085.8h1.1v1.1h-1.1zM1102.7 1087.3h1.1v1.1h-1.1zM1066.8 1087.7h1.1v1.1h-1.1zM1090.4 1082.0h1.1v1.1h-1.1zM1062.8 1086.8h1.1v1.1h-1.1zM1075.1 1087.7h1.1v1.1h-1.1zM1061.3 1085.7h1.1v1.1h-1.1zM1050.0 1086.3h1.1v1.1h-1.1zM1094.7 1083.2h1.1v1.1h-1.1zM1085.3 1096.1h1.1v1.1h-1.1zM1063.8 1094.5h1.1v1.1h-1.1zM1100.5 1088.5h1.1v1.1h-1.1zM1085.3 1087.6h1.1v1.1h-1.1zM1109.0 1081.5h1.1v1.1h-1.1zM1098.8 1086.8h1.1v1.1h-1.1zM1079.1 1084.8h1.1v1.1h-1.1zM1096.6 1088.7h1.1v1.1h-1.1zM1106.2 1080.8h1.1v1.1h-1.1zM1066.8 1088.7h1.1v1.1h-1.1zM1068.5 1086.2h1.1v1.1h-1.1zM1099.9 1082.7h1.1v1.1h-1.1zM1052.4 1086.8h1.1v1.1h-1.1zM1074.9 1082.4h1.1v1.1h-1.1zM1053.5 1092.2h1.1v1.1h-1.1zM1057.7 1087.7h1.1v1.1h-1.1zM1062.2 1081.6h1.1v1.1h-1.1zM1064.0 1089.1h1.1v1.1h-1.1zM1060.3 1087.3h1.1v1.1h-1.1zM1048.9 1091.0h1.1v1.1h-1.1zM1091.2 1093.8h1.1v1.1h-1.1zM1112.6 1085.4h1.1v1.1h-1.1zM1062.9 1082.1h1.1v1.1h-1.1zM1083.8 1085.5h1.1v1.1h-1.1zM1067.0 1090.6h1.1v1.1h-1.1zM1085.1 1088.6h1.1v1.1h-1.1zM1051.4 1088.1h1.1v1.1h-1.1zM1085.7 1083.6h1.1v1.1h-1.1zM1071.7 1084.5h1.1v1.1h-1.1zM1082.3 1086.9h1.1v1.1h-1.1zM1089.2 1091.4h1.1v1.1h-1.1zM1070.9 1084.7h1.1v1.1h-1.1zM1082.9 1088.9h1.1v1.1h-1.1zM1086.0 1087.8h1.1v1.1h-1.1zM1104.0 1086.2h1.1v1.1h-1.1zM1096.6 1095.3h1.1v1.1h-1.1zM1061.7 1091.9h1.1v1.1h-1.1zM1059.2 1083.4h1.1v1.1h-1.1zM1064.0 1085.3h1.1v1.1h-1.1zM1072.6 1083.9h1.1v1.1h-1.1zM1076.9 1083.1h1.1v1.1h-1.1zM1096.4 1083.2h1.1v1.1h-1.1zM1076.3 1088.4h1.1v1.1h-1.1zM1092.6 1087.2h1.1v1.1h-1.1zM1087.8 1083.3h1.1v1.1h-1.1zM1078.9 1089.2h1.1v1.1h-1.1zM1100.6 1089.0h1.1v1.1h-1.1zM1082.3 1080.9h1.1v1.1h-1.1zM1059.2 1090.1h1.1v1.1h-1.1zM1112.3 1086.1h1.1v1.1h-1.1zM1090.9 1088.5h1.1v1.1h-1.1zM1078.8 1080.1h1.1v1.1h-1.1zM1092.4 1083.1h1.1v1.1h-1.1zM1095.7 1079.7h1.1v1.1h-1.1zM1066.0 1086.2h1.1v1.1h-1.1zM1078.5 1091.1h1.1v1.1h-1.1zM1103.6 1085.8h1.1v1.1h-1.1zM1107.7 1090.4h1.1v1.1h-1.1zM1049.8 1084.7h1.1v1.1h-1.1zM1075.9 1077.9h1.1v1.1h-1.1zM1079.5 1089.2h1.1v1.1h-1.1zM1084.3 1085.9h1.1v1.1h-1.1zM1044.8 1088.0h1.1v1.1h-1.1zM1079.6 1086.6h1.1v1.1h-1.1zM1071.9 1088.0h1.1v1.1h-1.1zM1108.7 1086.2h1.1v1.1h-1.1zM1060.7 1083.2h1.1v1.1h-1.1zM1092.4 1085.0h1.1v1.1h-1.1zM1096.2 1085.0h1.1v1.1h-1.1zM1069.7 1086.6h1.1v1.1h-1.1zM1074.4 1083.2h1.1v1.1h-1.1zM1077.9 1086.0h1.1v1.1h-1.1zM1058.6 1085.6h1.1v1.1h-1.1zM1079.5 1085.5h1.1v1.1h-1.1zM1086.0 1086.2h1.1v1.1h-1.1zM1068.6 1083.0h1.1v1.1h-1.1zM1073.4 1082.9h1.1v1.1h-1.1zM1059.0 1082.6h1.1v1.1h-1.1zM1099.8 1089.1h1.1v1.1h-1.1zM1072.8 1087.0h1.1v1.1h-1.1zM1092.2 1086.0h1.1v1.1h-1.1zM1068.3 1091.7h1.1v1.1h-1.1zM1064.3 1087.0h1.1v1.1h-1.1zM1073.5 1086.7h1.1v1.1h-1.1zM1084.1 1084.0h1.1v1.1h-1.1zM1065.4 1092.1h1.1v1.1h-1.1zM1076.1 1080.0h1.1v1.1h-1.1zM1088.7 1080.1h1.1v1.1h-1.1z" fill="#283698"/><path d="M1114.7 1088.0h1.1v1.1h-1.1zM1104.3 1090.1h1.1v1.1h-1.1zM1069.2 1094.3h1.1v1.1h-1.1zM1108.9 1089.0h1.1v1.1h-1.1zM1105.7 1089.5h1.1v1.1h-1.1zM1113.1 1083.6h1.1v1.1h-1.1zM1115.9 1086.0h1.1v1.1h-1.1zM1082.7 1093.2h1.1v1.1h-1.1zM1114.0 1082.6h1.1v1.1h-1.1zM1116.9 1087.6h1.1v1.1h-1.1zM1103.4 1091.8h1.1v1.1h-1.1zM1107.0 1089.9h1.1v1.1h-1.1zM1114.0 1083.9h1.1v1.1h-1.1zM1109.0 1089.0h1.1v1.1h-1.1zM1081.8 1076.4h1.1v1.1h-1.1zM1109.1 1079.2h1.1v1.1h-1.1zM1102.9 1078.0h1.1v1.1h-1.1zM1092.8 1092.3h1.1v1.1h-1.1zM1092.7 1093.0h1.1v1.1h-1.1zM1108.0 1081.2h1.1v1.1h-1.1zM1116.3 1087.6h1.1v1.1h-1.1zM1115.5 1082.9h1.1v1.1h-1.1zM1112.8 1086.3h1.1v1.1h-1.1zM1078.4 1076.3h1.1v1.1h-1.1zM1043.7 1076.3h1.1v1.1h-1.1zM1116.6 1085.6h1.1v1.1h-1.1zM1103.0 1091.2h1.1v1.1h-1.1zM1089.0 1093.5h1.1v1.1h-1.1zM1112.4 1085.0h1.1v1.1h-1.1zM1109.1 1079.8h1.1v1.1h-1.1zM1082.0 1093.4h1.1v1.1h-1.1zM1064.6 1075.0h1.1v1.1h-1.1zM1049.9 1076.2h1.1v1.1h-1.1zM1112.2 1086.2h1.1v1.1h-1.1zM1112.0 1083.1h1.1v1.1h-1.1zM1103.2 1090.4h1.1v1.1h-1.1zM1088.6 1076.4h1.1v1.1h-1.1zM1097.5 1077.9h1.1v1.1h-1.1zM1074.9 1075.9h1.1v1.1h-1.1zM1049.5 1094.4h1.1v1.1h-1.1zM1055.9 1093.7h1.1v1.1h-1.1zM1115.0 1083.1h1.1v1.1h-1.1zM1114.3 1082.4h1.1v1.1h-1.1zM1095.2 1092.5h1.1v1.1h-1.1zM1097.6 1078.5h1.1v1.1h-1.1zM1109.9 1081.2h1.1v1.1h-1.1zM1115.1 1085.3h1.1v1.1h-1.1zM1112.4 1086.9h1.1v1.1h-1.1zM1104.1 1090.9h1.1v1.1h-1.1zM1092.1 1092.4h1.1v1.1h-1.1zM1115.0 1084.3h1.1v1.1h-1.1zM1114.0 1083.6h1.1v1.1h-1.1zM1072.4 1075.8h1.1v1.1h-1.1zM1060.3 1094.3h1.1v1.1h-1.1zM1091.7 1092.8h1.1v1.1h-1.1zM1118.1 1085.6h1.1v1.1h-1.1zM1098.2 1078.7h1.1v1.1h-1.1zM1100.1 1092.3h1.1v1.1h-1.1zM1059.1 1094.0h1.1v1.1h-1.1zM1117.9 1084.7h1.1v1.1h-1.1zM1115.8 1084.5h1.1v1.1h-1.1zM1105.4 1079.2h1.1v1.1h-1.1zM1113.9 1083.2h1.1v1.1h-1.1zM1085.2 1094.1h1.1v1.1h-1.1zM1048.4 1076.4h1.1v1.1h-1.1zM1097.7 1078.5h1.1v1.1h-1.1zM1113.4 1084.9h1.1v1.1h-1.1zM1115.3 1088.5h1.1v1.1h-1.1zM1094.6 1092.4h1.1v1.1h-1.1zM1109.5 1080.1h1.1v1.1h-1.1zM1112.5 1083.5h1.1v1.1h-1.1zM1078.6 1076.5h1.1v1.1h-1.1zM1085.3 1093.3h1.1v1.1h-1.1zM1109.9 1088.6h1.1v1.1h-1.1zM1108.9 1088.5h1.1v1.1h-1.1zM1050.0 1094.3h1.1v1.1h-1.1zM1101.8 1078.8h1.1v1.1h-1.1zM1114.4 1084.3h1.1v1.1h-1.1zM1114.7 1083.4h1.1v1.1h-1.1zM1114.4 1086.2h1.1v1.1h-1.1zM1115.4 1082.5h1.1v1.1h-1.1zM1109.4 1081.7h1.1v1.1h-1.1zM1054.0 1094.1h1.1v1.1h-1.1zM1074.1 1094.7h1.1v1.1h-1.1zM1104.5 1079.2h1.1v1.1h-1.1zM1109.7 1081.7h1.1v1.1h-1.1zM1113.2 1084.1h1.1v1.1h-1.1zM1105.8 1090.5h1.1v1.1h-1.1zM1117.4 1084.0h1.1v1.1h-1.1zM1070.6 1075.9h1.1v1.1h-1.1zM1113.2 1088.5h1.1v1.1h-1.1zM1111.1 1080.3h1.1v1.1h-1.1zM1109.4 1088.4h1.1v1.1h-1.1zM1091.7 1072.5h1.1v1.1h-1.1zM1075.8 1078.7h1.1v1.1h-1.1zM1060.9 1037.1h1.1v1.1h-1.1zM1054.7 1045.9h1.1v1.1h-1.1zM1055.8 1080.0h1.1v1.1h-1.1zM1072.1 1035.3h1.1v1.1h-1.1zM1098.6 1028.7h1.1v1.1h-1.1zM1082.8 1080.4h1.1v1.1h-1.1zM1051.1 1063.4h1.1v1.1h-1.1zM1051.3 1039.6h1.1v1.1h-1.1zM1113.6 1077.9h1.1v1.1h-1.1zM1089.6 1077.6h1.1v1.1h-1.1zM1079.2 1018.5h1.1v1.1h-1.1zM1119.6 1072.0h1.1v1.1h-1.1zM1074.7 1019.6h1.1v1.1h-1.1zM1088.1 1080.4h1.1v1.1h-1.1zM1061.7 1053.0h1.1v1.1h-1.1zM1049.3 1024.5h1.1v1.1h-1.1zM1098.6 1065.1h1.1v1.1h-1.1zM1078.4 1072.6h1.1v1.1h-1.1zM1063.9 1074.8h1.1v1.1h-1.1zM1098.6 1045.1h1.1v1.1h-1.1zM1096.8 1033.5h1.1v1.1h-1.1zM1082.7 1077.8h1.1v1.1h-1.1zM1071.3 1043.3h1.1v1.1h-1.1zM1059.0 1070.6h1.1v1.1h-1.1zM1053.7 1043.9h1.1v1.1h-1.1zM1043.6 1072.5h1.1v1.1h-1.1zM1074.0 1067.8h1.1v1.1h-1.1zM1072.2 1059.7h1.1v1.1h-1.1zM1070.9 1068.3h1.1v1.1h-1.1zM1092.3 1071.6h1.1v1.1h-1.1zM1076.6 1038.5h1.1v1.1h-1.1zM1068.1 1072.4h1.1v1.1h-1.1zM1100.9 1023.3h1.1v1.1h-1.1zM1065.9 1073.3h1.1v1.1h-1.1zM1065.1 1060.7h1.1v1.1h-1.1zM1097.2 1000.3h1.1v1.1h-1.1zM1099.7 1065.9h1.1v1.1h-1.1zM1093.2 1035.9h1.1v1.1h-1.1zM1061.8 1076.9h1.1v1.1h-1.1zM1074.0 1051.6h1.1v1.1h-1.1zM1087.2 1059.8h1.1v1.1h-1.1zM1100.9 1049.0h1.1v1.1h-1.1zM1092.0 1052.2h1.1v1.1h-1.1zM1075.2 1074.6h1.1v1.1h-1.1zM1077.3 1057.3h1.1v1.1h-1.1zM1083.9 1056.4h1.1v1.1h-1.1zM1107.7 1061.4h1.1v1.1h-1.1zM1075.3 1036.3h1.1v1.1h-1.1zM1086.2 1061.8h1.1v1.1h-1.1zM1087.7 1076.1h1.1v1.1h-1.1zM1087.7 1036.8h1.1v1.1h-1.1zM1107.4 1060.0h1.1v1.1h-1.1zM1078.9 1076.3h1.1v1.1h-1.1zM1087.4 1073.5h1.1v1.1h-1.1zM1097.3 1076.1h1.1v1.1h-1.1zM1089.2 1045.8h1.1v1.1h-1.1zM1065.6 1044.7h1.1v1.1h-1.1zM1094.6 1069.6h1.1v1.1h-1.1zM1082.7 1059.1h1.1v1.1h-1.1zM1108.5 1026.8h1.1v1.1h-1.1zM1098.5 1014.1h1.1v1.1h-1.1zM1060.4 1078.2h1.1v1.1h-1.1zM1074.1 1006.6h1.1v1.1h-1.1zM1072.4 1005.3h1.1v1.1h-1.1zM1056.5 1068.5h1.1v1.1h-1.1zM1061.5 1073.3h1.1v1.1h-1.1zM1093.3 1035.4h1.1v1.1h-1.1zM1078.1 1076.8h1.1v1.1h-1.1zM1085.0 1072.3h1.1v1.1h-1.1zM1079.8 1074.4h1.1v1.1h-1.1zM1061.5 1058.2h1.1v1.1h-1.1zM1059.1 1052.9h1.1v1.1h-1.1zM1091.9 1049.4h1.1v1.1h-1.1zM1080.4 1042.8h1.1v1.1h-1.1zM1072.1 1079.1h1.1v1.1h-1.1zM1052.7 1023.4h1.1v1.1h-1.1zM1093.2 1077.5h1.1v1.1h-1.1zM1072.0 1015.7h1.1v1.1h-1.1zM1064.6 1069.7h1.1v1.1h-1.1zM1087.8 1071.0h1.1v1.1h-1.1zM1067.4 1043.5h1.1v1.1h-1.1zM1050.0 1040.3h1.1v1.1h-1.1zM1061.1 1032.1h1.1v1.1h-1.1zM1089.1 1032.2h1.1v1.1h-1.1zM1113.1 1074.2h1.1v1.1h-1.1zM1074.3 1074.5h1.1v1.1h-1.1zM1085.6 1054.7h1.1v1.1h-1.1zM1079.5 1074.2h1.1v1.1h-1.1zM1076.4 1077.7h1.1v1.1h-1.1zM1069.4 1027.3h1.1v1.1h-1.1zM1083.3 1015.2h1.1v1.1h-1.1zM1102.8 1068.2h1.1v1.1h-1.1zM1076.2 1019.2h1.1v1.1h-1.1zM1066.7 1007.5h1.1v1.1h-1.1zM1089.9 1074.6h1.1v1.1h-1.1zM1063.1 1056.7h1.1v1.1h-1.1zM1068.3 1064.4h1.1v1.1h-1.1zM1085.9 1048.3h1.1v1.1h-1.1zM1071.4 1035.2h1.1v1.1h-1.1zM1116.9 1066.8h1.1v1.1h-1.1zM1063.3 1043.1h1.1v1.1h-1.1zM1095.6 1054.6h1.1v1.1h-1.1zM1080.6 1067.9h1.1v1.1h-1.1zM1055.5 1057.2h1.1v1.1h-1.1zM1071.3 1076.5h1.1v1.1h-1.1zM1056.2 1021.3h1.1v1.1h-1.1zM1107.3 1059.5h1.1v1.1h-1.1zM1083.8 1034.2h1.1v1.1h-1.1zM1062.0 1019.5h1.1v1.1h-1.1zM1079.9 1074.7h1.1v1.1h-1.1zM1066.3 1070.2h1.1v1.1h-1.1zM1093.5 1006.4h1.1v1.1h-1.1zM1103.0 1023.2h1.1v1.1h-1.1zM1060.6 1060.5h1.1v1.1h-1.1zM1113.1 1075.5h1.1v1.1h-1.1zM1082.6 1072.4h1.1v1.1h-1.1zM1066.4 995.5h1.1v1.1h-1.1zM1107.8 1078.6h1.1v1.1h-1.1zM1072.1 1074.3h1.1v1.1h-1.1zM1093.6 1062.0h1.1v1.1h-1.1zM1081.5 1028.7h1.1v1.1h-1.1zM1083.2 1079.4h1.1v1.1h-1.1zM1063.6 1039.4h1.1v1.1h-1.1zM1088.7 1069.5h1.1v1.1h-1.1zM1105.2 1047.2h1.1v1.1h-1.1zM1079.0 1061.4h1.1v1.1h-1.1zM1067.8 1038.6h1.1v1.1h-1.1zM1071.5 1079.9h1.1v1.1h-1.1zM1098.1 1015.7h1.1v1.1h-1.1zM1099.9 1070.1h1.1v1.1h-1.1zM1058.8 1047.4h1.1v1.1h-1.1zM1085.2 1076.2h1.1v1.1h-1.1zM1065.8 1057.9h1.1v1.1h-1.1zM1091.8 1038.9h1.1v1.1h-1.1zM1093.0 1055.5h1.1v1.1h-1.1zM1110.5 1027.7h1.1v1.1h-1.1zM1082.1 1064.7h1.1v1.1h-1.1zM1073.2 992.1h1.1v1.1h-1.1zM1046.4 1077.3h1.1v1.1h-1.1zM1100.9 1054.0h1.1v1.1h-1.1zM1093.5 1068.6h1.1v1.1h-1.1zM1094.5 990.7h1.1v1.1h-1.1zM1079.9 1058.8h1.1v1.1h-1.1zM1073.1 1072.6h1.1v1.1h-1.1zM1083.2 1040.0h1.1v1.1h-1.1zM1074.2 1069.7h1.1v1.1h-1.1zM1084.9 1060.0h1.1v1.1h-1.1zM1091.1 1019.9h1.1v1.1h-1.1zM1084.4 1080.8h1.1v1.1h-1.1zM1089.7 1001.2h1.1v1.1h-1.1zM1058.6 1071.8h1.1v1.1h-1.1zM1106.5 1069.0h1.1v1.1h-1.1zM1098.3 992.9h1.1v1.1h-1.1zM1070.4 1009.2h1.1v1.1h-1.1zM1067.2 1012.6h1.1v1.1h-1.1zM1076.0 1073.2h1.1v1.1h-1.1zM1082.2 1072.6h1.1v1.1h-1.1zM1103.8 1052.8h1.1v1.1h-1.1zM1063.6 1059.4h1.1v1.1h-1.1zM1047.8 1078.3h1.1v1.1h-1.1zM1083.0 1069.1h1.1v1.1h-1.1zM1072.1 1072.9h1.1v1.1h-1.1zM1076.6 1015.4h1.1v1.1h-1.1zM1072.9 1067.2h1.1v1.1h-1.1zM1082.3 1027.2h1.1v1.1h-1.1zM1057.3 1058.5h1.1v1.1h-1.1zM1045.7 1080.7h1.1v1.1h-1.1zM1104.8 1074.5h1.1v1.1h-1.1zM1072.5 1071.6h1.1v1.1h-1.1zM1080.2 1005.9h1.1v1.1h-1.1zM1093.3 1050.8h1.1v1.1h-1.1zM1069.7 1074.2h1.1v1.1h-1.1zM1084.0 1063.2h1.1v1.1h-1.1zM1098.9 1062.7h1.1v1.1h-1.1zM1052.5 1048.5h1.1v1.1h-1.1zM1075.9 1036.8h1.1v1.1h-1.1zM1059.2 1073.4h1.1v1.1h-1.1zM1098.3 1074.9h1.1v1.1h-1.1zM1043.3 1064.5h1.1v1.1h-1.1zM1103.9 1013.3h1.1v1.1h-1.1zM1095.2 1079.0h1.1v1.1h-1.1zM1045.6 1059.0h1.1v1.1h-1.1zM1084.4 1015.5h1.1v1.1h-1.1zM1097.4 1037.5h1.1v1.1h-1.1zM1104.5 1069.5h1.1v1.1h-1.1zM1076.3 1060.3h1.1v1.1h-1.1zM1065.5 1057.5h1.1v1.1h-1.1zM1084.0 1048.9h1.1v1.1h-1.1zM1091.5 1034.5h1.1v1.1h-1.1zM1053.4 1062.6h1.1v1.1h-1.1zM1075.8 1075.0h1.1v1.1h-1.1zM1060.1 1024.6h1.1v1.1h-1.1zM1082.5 1032.1h1.1v1.1h-1.1zM1051.6 1023.0h1.1v1.1h-1.1zM1050.7 1075.6h1.1v1.1h-1.1zM1083.7 1058.6h1.1v1.1h-1.1zM1068.9 1016.1h1.1v1.1h-1.1zM1100.9 1070.1h1.1v1.1h-1.1zM1055.5 1078.3h1.1v1.1h-1.1zM1048.7 1001.1h1.1v1.1h-1.1zM1045.4 1061.9h1.1v1.1h-1.1zM1092.5 1074.5h1.1v1.1h-1.1zM1091.2 1072.7h1.1v1.1h-1.1zM1080.1 1076.1h1.1v1.1h-1.1zM1091.5 1066.5h1.1v1.1h-1.1zM1094.3 1057.9h1.1v1.1h-1.1zM1086.2 1000.8h1.1v1.1h-1.1zM1088.6 1073.3h1.1v1.1h-1.1zM1061.3 1015.3h1.1v1.1h-1.1zM1062.1 1022.6h1.1v1.1h-1.1zM1088.5 1069.5h1.1v1.1h-1.1zM1098.9 1073.5h1.1v1.1h-1.1zM1109.0 1061.1h1.1v1.1h-1.1zM1080.8 1080.7h1.1v1.1h-1.1zM1091.6 1064.1h1.1v1.1h-1.1zM1068.8 1077.6h1.1v1.1h-1.1zM1083.0 1060.9h1.1v1.1h-1.1zM1058.1 1026.0h1.1v1.1h-1.1zM1102.2 1011.9h1.1v1.1h-1.1zM1088.6 1075.5h1.1v1.1h-1.1zM1100.9 1064.5h1.1v1.1h-1.1zM1094.1 1078.7h1.1v1.1h-1.1zM1083.5 1058.7h1.1v1.1h-1.1zM1082.2 1075.5h1.1v1.1h-1.1zM1048.9 1045.4h1.1v1.1h-1.1zM1064.9 1051.1h1.1v1.1h-1.1zM1082.5 1068.4h1.1v1.1h-1.1zM1085.3 1075.3h1.1v1.1h-1.1zM1105.6 1055.9h1.1v1.1h-1.1zM1062.5 996.9h1.1v1.1h-1.1zM1078.9 1058.8h1.1v1.1h-1.1zM1070.3 1069.5h1.1v1.1h-1.1zM1088.4 1064.1h1.1v1.1h-1.1zM1072.3 1056.8h1.1v1.1h-1.1zM1110.1 1047.1h1.1v1.1h-1.1zM1083.0 1052.8h1.1v1.1h-1.1zM1090.1 1014.2h1.1v1.1h-1.1zM1099.1 1033.8h1.1v1.1h-1.1zM1092.1 1074.7h1.1v1.1h-1.1zM1115.9 1055.4h1.1v1.1h-1.1zM1054.6 1075.8h1.1v1.1h-1.1zM1092.5 1055.9h1.1v1.1h-1.1zM1079.3 1062.3h1.1v1.1h-1.1zM1059.7 1016.0h1.1v1.1h-1.1zM1086.7 1045.8h1.1v1.1h-1.1zM1073.9 1050.1h1.1v1.1h-1.1zM1096.0 1070.2h1.1v1.1h-1.1zM1082.1 1050.2h1.1v1.1h-1.1zM1095.7 1005.4h1.1v1.1h-1.1zM1063.2 1048.7h1.1v1.1h-1.1zM1072.9 1040.6h1.1v1.1h-1.1zM1073.1 1018.1h1.1v1.1h-1.1zM1085.6 1045.9h1.1v1.1h-1.1zM1075.1 1018.8h1.1v1.1h-1.1zM1065.1 1049.4h1.1v1.1h-1.1zM1077.8 1070.1h1.1v1.1h-1.1zM1103.0 1063.8h1.1v1.1h-1.1zM1060.7 1060.7h1.1v1.1h-1.1zM1085.5 1051.0h1.1v1.1h-1.1zM1069.7 1027.4h1.1v1.1h-1.1zM1098.6 991.7h1.1v1.1h-1.1zM1056.3 1073.3h1.1v1.1h-1.1zM1063.1 1079.2h1.1v1.1h-1.1zM1064.3 1009.4h1.1v1.1h-1.1zM1091.9 1054.6h1.1v1.1h-1.1zM1099.9 1027.6h1.1v1.1h-1.1zM1086.2 1067.8h1.1v1.1h-1.1zM1070.1 1061.2h1.1v1.1h-1.1zM1085.3 1080.2h1.1v1.1h-1.1zM1072.7 1002.4h1.1v1.1h-1.1zM1096.3 1073.9h1.1v1.1h-1.1zM1045.6 1076.2h1.1v1.1h-1.1zM1090.9 1040.9h1.1v1.1h-1.1zM1073.1 1045.5h1.1v1.1h-1.1zM1070.7 1060.2h1.1v1.1h-1.1zM1071.6 1001.0h1.1v1.1h-1.1zM1082.7 1059.4h1.1v1.1h-1.1zM1087.0 1035.3h1.1v1.1h-1.1zM1081.4 1072.9h1.1v1.1h-1.1zM1059.3 1044.0h1.1v1.1h-1.1zM1095.4 1057.8h1.1v1.1h-1.1zM1115.8 1069.2h1.1v1.1h-1.1zM1087.6 1030.2h1.1v1.1h-1.1zM1093.2 1052.8h1.1v1.1h-1.1zM1090.6 1026.4h1.1v1.1h-1.1zM1095.7 1048.5h1.1v1.1h-1.1zM1103.0 1073.7h1.1v1.1h-1.1zM1098.0 1042.4h1.1v1.1h-1.1zM1100.1 1007.2h1.1v1.1h-1.1zM1059.9 1007.5h1.1v1.1h-1.1zM1092.2 1056.0h1.1v1.1h-1.1zM1091.1 1004.0h1.1v1.1h-1.1zM1100.3 1080.3h1.1v1.1h-1.1zM1070.6 1051.9h1.1v1.1h-1.1zM1075.6 1077.0h1.1v1.1h-1.1zM1068.1 1062.9h1.1v1.1h-1.1zM1072.6 1033.0h1.1v1.1h-1.1zM1094.5 1066.5h1.1v1.1h-1.1zM1096.8 1050.7h1.1v1.1h-1.1zM1119.0 1024.5h1.1v1.1h-1.1zM1058.1 1066.9h1.1v1.1h-1.1zM1055.2 1058.8h1.1v1.1h-1.1zM1111.9 1062.4h1.1v1.1h-1.1zM1059.0 1066.8h1.1v1.1h-1.1zM1068.3 1079.5h1.1v1.1h-1.1zM1106.9 1059.3h1.1v1.1h-1.1zM1070.4 1033.1h1.1v1.1h-1.1zM1085.9 1079.1h1.1v1.1h-1.1zM1087.6 1051.0h1.1v1.1h-1.1zM1107.3 1055.8h1.1v1.1h-1.1zM1092.0 1054.7h1.1v1.1h-1.1zM1082.8 1033.7h1.1v1.1h-1.1zM1055.1 1072.4h1.1v1.1h-1.1zM1067.7 1056.3h1.1v1.1h-1.1zM1079.4 1070.1h1.1v1.1h-1.1zM1061.4 1077.9h1.1v1.1h-1.1zM1084.1 1061.3h1.1v1.1h-1.1zM1113.5 1064.7h1.1v1.1h-1.1zM1074.4 1004.3h1.1v1.1h-1.1zM1075.9 1071.4h1.1v1.1h-1.1zM1075.3 1070.5h1.1v1.1h-1.1zM1080.8 1026.0h1.1v1.1h-1.1zM1051.0 1067.0h1.1v1.1h-1.1zM1081.5 1081.0h1.1v1.1h-1.1zM1047.4 1080.0h1.1v1.1h-1.1zM1091.9 1080.9h1.1v1.1h-1.1zM1096.1 1061.3h1.1v1.1h-1.1zM1082.2 1047.1h1.1v1.1h-1.1zM1109.2 1072.1h1.1v1.1h-1.1zM1083.7 1066.4h1.1v1.1h-1.1zM1058.9 1025.7h1.1v1.1h-1.1zM1083.4 1071.9h1.1v1.1h-1.1zM1085.1 1034.8h1.1v1.1h-1.1zM1082.9 1071.9h1.1v1.1h-1.1zM1087.1 1029.2h1.1v1.1h-1.1zM1092.9 1035.2h1.1v1.1h-1.1zM1054.7 1043.6h1.1v1.1h-1.1zM1045.0 1063.5h1.1v1.1h-1.1zM1084.6 1007.2h1.1v1.1h-1.1zM1087.1 1050.5h1.1v1.1h-1.1zM1099.7 1059.0h1.1v1.1h-1.1zM1058.7 996.0h1.1v1.1h-1.1zM1057.7 1078.7h1.1v1.1h-1.1zM1075.8 1036.6h1.1v1.1h-1.1zM1081.7 1060.2h1.1v1.1h-1.1zM1105.7 1075.0h1.1v1.1h-1.1zM1082.4 1078.1h1.1v1.1h-1.1zM1069.4 1070.5h1.1v1.1h-1.1zM1089.7 1070.5h1.1v1.1h-1.1zM1116.1 1044.7h1.1v1.1h-1.1zM1077.2 1058.1h1.1v1.1h-1.1zM1065.4 1059.2h1.1v1.1h-1.1zM1086.4 1068.6h1.1v1.1h-1.1zM1099.7 1016.7h1.1v1.1h-1.1zM1095.3 1039.6h1.1v1.1h-1.1zM1050.9 1062.4h1.1v1.1h-1.1zM1080.6 1046.9h1.1v1.1h-1.1zM1089.3 1075.1h1.1v1.1h-1.1zM1055.4 1051.5h1.1v1.1h-1.1zM1071.7 1059.8h1.1v1.1h-1.1zM1058.5 1068.5h1.1v1.1h-1.1zM1094.9 1077.6h1.1v1.1h-1.1zM1115.2 1006.8h1.1v1.1h-1.1zM1062.7 1034.2h1.1v1.1h-1.1zM1066.4 1031.9h1.1v1.1h-1.1zM1048.0 1072.1h1.1v1.1h-1.1zM1088.8 1079.7h1.1v1.1h-1.1zM1082.5 1080.1h1.1v1.1h-1.1zM1107.9 1056.4h1.1v1.1h-1.1zM1061.9 1028.3h1.1v1.1h-1.1zM1094.7 999.5h1.1v1.1h-1.1zM1071.7 1075.9h1.1v1.1h-1.1zM1077.8 1052.5h1.1v1.1h-1.1zM1077.8 1050.7h1.1v1.1h-1.1zM1092.8 1074.9h1.1v1.1h-1.1zM1084.2 1079.9h1.1v1.1h-1.1zM1057.1 1029.1h1.1v1.1h-1.1zM1077.6 1073.2h1.1v1.1h-1.1zM1086.5 1059.1h1.1v1.1h-1.1zM1117.6 1064.6h1.1v1.1h-1.1zM1055.1 1077.7h1.1v1.1h-1.1zM1096.6 1070.3h1.1v1.1h-1.1zM1105.2 1080.8h1.1v1.1h-1.1zM1075.7 1052.8h1.1v1.1h-1.1zM1070.1 1064.3h1.1v1.1h-1.1zM1056.9 1026.9h1.1v1.1h-1.1zM1064.8 1067.3h1.1v1.1h-1.1zM1068.0 1070.7h1.1v1.1h-1.1zM1111.8 1069.7h1.1v1.1h-1.1zM1088.8 1079.6h1.1v1.1h-1.1zM1091.0 1052.3h1.1v1.1h-1.1zM1071.0 1030.7h1.1v1.1h-1.1zM1088.5 1053.7h1.1v1.1h-1.1zM1070.0 1010.2h1.1v1.1h-1.1zM1079.4 1065.1h1.1v1.1h-1.1zM1087.5 1068.0h1.1v1.1h-1.1zM1062.6 1052.1h1.1v1.1h-1.1zM1082.9 1075.1h1.1v1.1h-1.1zM1062.0 1065.0h1.1v1.1h-1.1zM1065.6 1040.4h1.1v1.1h-1.1zM1066.1 1068.7h1.1v1.1h-1.1zM1087.6 1071.8h1.1v1.1h-1.1zM1055.5 1061.9h1.1v1.1h-1.1zM1111.8 1067.5h1.1v1.1h-1.1zM1111.5 1074.2h1.1v1.1h-1.1zM1072.8 1006.2h1.1v1.1h-1.1zM1075.4 1050.8h1.1v1.1h-1.1zM1093.8 1046.0h1.1v1.1h-1.1zM1059.7 1058.6h1.1v1.1h-1.1zM1063.2 1072.0h1.1v1.1h-1.1zM1085.2 1052.6h1.1v1.1h-1.1zM1069.8 1069.6h1.1v1.1h-1.1zM1092.7 1036.4h1.1v1.1h-1.1zM1108.1 1060.0h1.1v1.1h-1.1zM1067.8 1075.4h1.1v1.1h-1.1zM1066.9 1041.4h1.1v1.1h-1.1zM1113.3 997.1h1.1v1.1h-1.1zM1049.0 1054.7h1.1v1.1h-1.1zM1086.1 999.6h1.1v1.1h-1.1zM1077.1 1038.6h1.1v1.1h-1.1zM1091.5 1019.0h1.1v1.1h-1.1zM1076.9 1025.4h1.1v1.1h-1.1zM1113.6 1073.2h1.1v1.1h-1.1zM1068.4 1034.6h1.1v1.1h-1.1zM1101.7 1053.7h1.1v1.1h-1.1zM1051.6 1036.1h1.1v1.1h-1.1zM1085.8 1045.8h1.1v1.1h-1.1zM1067.2 1065.7h1.1v1.1h-1.1zM1087.7 1076.1h1.1v1.1h-1.1zM1100.7 1004.4h1.1v1.1h-1.1zM1097.9 1011.5h1.1v1.1h-1.1zM1060.4 1077.8h1.1v1.1h-1.1zM1099.2 1063.7h1.1v1.1h-1.1zM1064.2 1077.3h1.1v1.1h-1.1zM1084.5 990.6h1.1v1.1h-1.1zM1092.0 1053.7h1.1v1.1h-1.1zM1079.8 1078.6h1.1v1.1h-1.1zM1079.9 1022.5h1.1v1.1h-1.1zM1091.7 1061.2h1.1v1.1h-1.1zM1042.4 1063.4h1.1v1.1h-1.1zM1064.3 1059.7h1.1v1.1h-1.1zM1086.3 1043.6h1.1v1.1h-1.1zM1078.1 1075.3h1.1v1.1h-1.1zM1083.7 1072.8h1.1v1.1h-1.1zM1098.1 1067.1h1.1v1.1h-1.1zM1066.1 1077.1h1.1v1.1h-1.1zM1101.2 1080.7h1.1v1.1h-1.1zM1082.1 1061.0h1.1v1.1h-1.1zM1068.8 1047.0h1.1v1.1h-1.1zM1064.1 1032.8h1.1v1.1h-1.1zM1056.2 1072.5h1.1v1.1h-1.1zM1066.0 1059.1h1.1v1.1h-1.1zM1093.1 1048.0h1.1v1.1h-1.1zM1061.8 1045.5h1.1v1.1h-1.1zM1072.0 1062.9h1.1v1.1h-1.1zM1071.5 1066.6h1.1v1.1h-1.1zM1105.5 1035.7h1.1v1.1h-1.1zM1088.7 1067.7h1.1v1.1h-1.1zM1068.2 1038.2h1.1v1.1h-1.1zM1084.8 1048.8h1.1v1.1h-1.1zM1087.0 1071.1h1.1v1.1h-1.1zM1084.6 1079.2h1.1v1.1h-1.1zM1095.1 1005.7h1.1v1.1h-1.1zM1063.5 1059.6h1.1v1.1h-1.1zM1084.4 1071.9h1.1v1.1h-1.1zM1106.3 1065.6h1.1v1.1h-1.1zM1086.4 1059.5h1.1v1.1h-1.1zM1062.9 1036.7h1.1v1.1h-1.1zM1085.6 1072.3h1.1v1.1h-1.1zM1103.3 1077.6h1.1v1.1h-1.1zM1089.5 1023.2h1.1v1.1h-1.1zM1076.7 1071.7h1.1v1.1h-1.1zM1059.4 1073.1h1.1v1.1h-1.1zM1103.6 1058.5h1.1v1.1h-1.1zM1075.4 1060.1h1.1v1.1h-1.1zM1072.3 1035.7h1.1v1.1h-1.1zM1063.8 1060.1h1.1v1.1h-1.1zM1073.0 1057.7h1.1v1.1h-1.1zM1081.6 1074.6h1.1v1.1h-1.1zM1058.2 1064.0h1.1v1.1h-1.1zM1068.4 1055.5h1.1v1.1h-1.1zM1091.9 1041.4h1.1v1.1h-1.1zM1055.7 1080.7h1.1v1.1h-1.1zM1095.8 1086.1h1.1v1.1h-1.1zM1072.2 1082.6h1.1v1.1h-1.1zM1092.4 1081.7h1.1v1.1h-1.1zM1098.3 1090.4h1.1v1.1h-1.1zM1080.0 1087.9h1.1v1.1h-1.1zM1052.6 1091.6h1.1v1.1h-1.1zM1084.3 1080.5h1.1v1.1h-1.1zM1077.6 1081.8h1.1v1.1h-1.1zM1113.8 1082.1h1.1v1.1h-1.1zM1089.0 1087.4h1.1v1.1h-1.1zM1054.1 1087.2h1.1v1.1h-1.1zM1075.0 1077.4h1.1v1.1h-1.1zM1070.8 1092.7h1.1v1.1h-1.1zM1048.2 1084.0h1.1v1.1h-1.1zM1077.7 1084.2h1.1v1.1h-1.1zM1092.1 1084.4h1.1v1.1h-1.1zM1063.3 1084.8h1.1v1.1h-1.1zM1095.3 1085.7h1.1v1.1h-1.1zM1075.4 1088.0h1.1v1.1h-1.1zM1084.0 1083.7h1.1v1.1h-1.1zM1054.5 1078.4h1.1v1.1h-1.1zM1083.4 1090.4h1.1v1.1h-1.1zM1077.0 1086.1h1.1v1.1h-1.1zM1090.3 1083.2h1.1v1.1h-1.1zM1051.8 1089.6h1.1v1.1h-1.1zM1102.9 1087.1h1.1v1.1h-1.1zM1051.7 1085.3h1.1v1.1h-1.1zM1104.5 1082.9h1.1v1.1h-1.1zM1042.4 1086.6h1.1v1.1h-1.1zM1092.7 1086.5h1.1v1.1h-1.1zM1089.2 1089.8h1.1v1.1h-1.1zM1094.1 1087.8h1.1v1.1h-1.1zM1074.9 1087.0h1.1v1.1h-1.1zM1075.8 1085.9h1.1v1.1h-1.1zM1089.1 1087.5h1.1v1.1h-1.1zM1057.7 1088.4h1.1v1.1h-1.1zM1093.7 1085.7h1.1v1.1h-1.1zM1073.9 1086.5h1.1v1.1h-1.1zM1093.9 1081.8h1.1v1.1h-1.1zM1107.4 1091.1h1.1v1.1h-1.1zM1105.8 1082.2h1.1v1.1h-1.1zM1067.8 1088.0h1.1v1.1h-1.1zM1076.8 1089.0h1.1v1.1h-1.1zM1064.0 1086.0h1.1v1.1h-1.1zM1072.9 1083.1h1.1v1.1h-1.1zM1070.6 1086.8h1.1v1.1h-1.1zM1091.1 1089.0h1.1v1.1h-1.1zM1091.7 1088.9h1.1v1.1h-1.1zM1058.5 1088.4h1.1v1.1h-1.1zM1097.8 1085.2h1.1v1.1h-1.1zM1090.8 1084.9h1.1v1.1h-1.1zM1105.9 1090.3h1.1v1.1h-1.1zM1076.1 1087.4h1.1v1.1h-1.1zM1096.3 1088.7h1.1v1.1h-1.1zM1116.0 1091.0h1.1v1.1h-1.1zM1059.5 1084.7h1.1v1.1h-1.1zM1091.7 1085.9h1.1v1.1h-1.1zM1058.2 1087.3h1.1v1.1h-1.1zM1084.2 1090.1h1.1v1.1h-1.1zM1099.3 1085.5h1.1v1.1h-1.1zM1086.6 1083.7h1.1v1.1h-1.1zM1064.6 1081.1h1.1v1.1h-1.1zM1066.3 1082.1h1.1v1.1h-1.1zM1066.4 1089.2h1.1v1.1h-1.1zM1054.6 1084.5h1.1v1.1h-1.1zM1099.2 1090.4h1.1v1.1h-1.1zM1089.8 1087.6h1.1v1.1h-1.1zM1080.0 1083.3h1.1v1.1h-1.1zM1097.1 1088.4h1.1v1.1h-1.1zM1093.0 1078.7h1.1v1.1h-1.1zM1080.2 1089.4h1.1v1.1h-1.1zM1088.5 1087.4h1.1v1.1h-1.1zM1067.7 1091.0h1.1v1.1h-1.1zM1074.8 1084.8h1.1v1.1h-1.1zM1084.0 1090.0h1.1v1.1h-1.1zM1059.1 1083.9h1.1v1.1h-1.1zM1075.8 1086.7h1.1v1.1h-1.1zM1086.5 1088.0h1.1v1.1h-1.1zM1065.9 1084.7h1.1v1.1h-1.1zM1088.9 1082.7h1.1v1.1h-1.1zM1061.0 1087.4h1.1v1.1h-1.1zM1100.4 1082.5h1.1v1.1h-1.1zM1076.2 1085.2h1.1v1.1h-1.1zM1092.0 1083.1h1.1v1.1h-1.1zM1060.7 1084.4h1.1v1.1h-1.1zM1096.9 1086.1h1.1v1.1h-1.1zM1083.5 1086.4h1.1v1.1h-1.1zM1117.3 1083.6h1.1v1.1h-1.1zM1071.5 1091.6h1.1v1.1h-1.1zM1076.7 1083.5h1.1v1.1h-1.1zM1074.6 1089.0h1.1v1.1h-1.1zM1061.5 1086.2h1.1v1.1h-1.1zM1091.7 1085.6h1.1v1.1h-1.1zM1069.2 1085.7h1.1v1.1h-1.1zM1062.1 1087.0h1.1v1.1h-1.1zM1095.1 1081.5h1.1v1.1h-1.1zM1105.8 1087.5h1.1v1.1h-1.1zM1075.1 1087.7h1.1v1.1h-1.1zM1050.5 1087.4h1.1v1.1h-1.1zM1090.2 1082.6h1.1v1.1h-1.1zM1092.6 1087.1h1.1v1.1h-1.1zM1092.2 1082.1h1.1v1.1h-1.1zM1056.1 1083.8h1.1v1.1h-1.1zM1100.3 1085.9h1.1v1.1h-1.1zM1107.2 1090.1h1.1v1.1h-1.1zM1084.6 1086.2h1.1v1.1h-1.1zM1089.7 1087.7h1.1v1.1h-1.1zM1095.9 1079.1h1.1v1.1h-1.1zM1094.4 1084.7h1.1v1.1h-1.1zM1080.0 1089.0h1.1v1.1h-1.1zM1065.2 1085.5h1.1v1.1h-1.1zM1074.1 1086.1h1.1v1.1h-1.1zM1055.1 1089.2h1.1v1.1h-1.1zM1074.7 1088.8h1.1v1.1h-1.1zM1045.9 1084.9h1.1v1.1h-1.1zM1093.3 1086.3h1.1v1.1h-1.1zM1098.1 1087.5h1.1v1.1h-1.1zM1093.7 1082.1h1.1v1.1h-1.1zM1068.7 1087.0h1.1v1.1h-1.1zM1084.2 1087.9h1.1v1.1h-1.1zM1063.3 1081.1h1.1v1.1h-1.1zM1073.4 1088.8h1.1v1.1h-1.1zM1106.7 1089.3h1.1v1.1h-1.1zM1084.2 1092.4h1.1v1.1h-1.1zM1078.0 1085.6h1.1v1.1h-1.1z" fill="#2a3e9e"/><path d="M1100.0 1079.7h1.1v1.1h-1.1zM1110.6 1085.4h1.1v1.1h-1.1zM1107.7 1086.3h1.1v1.1h-1.1zM1042.3 1078.1h1.1v1.1h-1.1zM1042.8 1078.4h1.1v1.1h-1.1zM1103.3 1080.4h1.1v1.1h-1.1zM1110.7 1084.2h1.1v1.1h-1.1zM1088.6 1077.8h1.1v1.1h-1.1zM1082.4 1077.1h1.1v1.1h-1.1zM1068.9 1093.0h1.1v1.1h-1.1zM1062.4 1093.3h1.1v1.1h-1.1zM1101.4 1090.6h1.1v1.1h-1.1zM1106.1 1089.2h1.1v1.1h-1.1zM1102.5 1090.1h1.1v1.1h-1.1zM1104.2 1080.9h1.1v1.1h-1.1zM1082.7 1077.6h1.1v1.1h-1.1zM1067.1 1076.7h1.1v1.1h-1.1zM1094.9 1078.2h1.1v1.1h-1.1zM1109.0 1083.7h1.1v1.1h-1.1zM1110.0 1084.7h1.1v1.1h-1.1zM1045.9 1092.8h1.1v1.1h-1.1zM1074.1 1076.8h1.1v1.1h-1.1zM1110.2 1082.8h1.1v1.1h-1.1zM1102.4 1079.7h1.1v1.1h-1.1zM1095.7 1079.0h1.1v1.1h-1.1zM1054.2 1077.2h1.1v1.1h-1.1zM1094.3 1091.6h1.1v1.1h-1.1zM1100.7 1090.2h1.1v1.1h-1.1zM1055.4 1076.7h1.1v1.1h-1.1zM1106.5 1088.0h1.1v1.1h-1.1zM1076.7 1092.9h1.1v1.1h-1.1zM1108.2 1083.8h1.1v1.1h-1.1zM1110.1 1087.4h1.1v1.1h-1.1zM1092.3 1091.4h1.1v1.1h-1.1zM1104.2 1089.0h1.1v1.1h-1.1zM1090.4 1091.8h1.1v1.1h-1.1zM1045.4 1077.9h1.1v1.1h-1.1zM1086.7 1092.1h1.1v1.1h-1.1zM1107.9 1085.4h1.1v1.1h-1.1zM1098.2 1090.1h1.1v1.1h-1.1zM1079.1 1077.0h1.1v1.1h-1.1zM1099.9 1090.6h1.1v1.1h-1.1zM1110.0 1084.1h1.1v1.1h-1.1zM1103.5 1088.8h1.1v1.1h-1.1zM1087.2 1092.2h1.1v1.1h-1.1zM1089.1 1092.6h1.1v1.1h-1.1zM1108.0 1084.5h1.1v1.1h-1.1zM1109.7 1084.3h1.1v1.1h-1.1zM1066.6 1076.8h1.1v1.1h-1.1zM1096.5 1090.6h1.1v1.1h-1.1zM1096.9 1090.4h1.1v1.1h-1.1zM1066.1 1093.4h1.1v1.1h-1.1zM1111.4 1086.6h1.1v1.1h-1.1zM1111.4 1086.2h1.1v1.1h-1.1zM1107.0 1082.3h1.1v1.1h-1.1zM1109.6 1087.9h1.1v1.1h-1.1zM1105.9 1081.4h1.1v1.1h-1.1zM1107.3 1082.7h1.1v1.1h-1.1zM1087.6 1091.9h1.1v1.1h-1.1zM1081.0 1092.7h1.1v1.1h-1.1zM1082.4 1093.1h1.1v1.1h-1.1zM1058.6 1076.5h1.1v1.1h-1.1zM1107.7 1083.6h1.1v1.1h-1.1zM1089.1 1091.8h1.1v1.1h-1.1zM1106.7 1087.5h1.1v1.1h-1.1zM1110.5 1087.3h1.1v1.1h-1.1zM1046.8 1092.4h1.1v1.1h-1.1zM1103.5 1088.7h1.1v1.1h-1.1zM1076.0 1076.4h1.1v1.1h-1.1zM1107.6 1087.9h1.1v1.1h-1.1zM1066.0 1076.6h1.1v1.1h-1.1zM1100.0 1089.8h1.1v1.1h-1.1zM1071.0 1076.7h1.1v1.1h-1.1zM1092.6 1077.9h1.1v1.1h-1.1zM1090.9 1077.9h1.1v1.1h-1.1zM1074.5 1093.0h1.1v1.1h-1.1zM1107.0 1083.2h1.1v1.1h-1.1zM1108.9 1086.6h1.1v1.1h-1.1zM1056.5 1076.6h1.1v1.1h-1.1zM1065.3 1076.8h1.1v1.1h-1.1zM1102.6 1080.9h1.1v1.1h-1.1zM1097.6 1090.6h1.1v1.1h-1.1zM1110.5 1084.3h1.1v1.1h-1.1zM1094.1 1073.4h1.1v1.1h-1.1zM1095.8 1057.4h1.1v1.1h-1.1zM1081.9 1044.5h1.1v1.1h-1.1zM1064.9 1070.5h1.1v1.1h-1.1zM1075.8 1071.9h1.1v1.1h-1.1zM1115.2 1011.7h1.1v1.1h-1.1zM1060.6 1069.4h1.1v1.1h-1.1zM1057.4 1004.6h1.1v1.1h-1.1zM1061.0 1070.3h1.1v1.1h-1.1zM1051.0 1071.9h1.1v1.1h-1.1zM1078.0 1078.8h1.1v1.1h-1.1zM1042.7 1073.7h1.1v1.1h-1.1zM1084.2 1072.2h1.1v1.1h-1.1zM1074.3 1072.2h1.1v1.1h-1.1zM1056.6 1076.5h1.1v1.1h-1.1zM1079.7 1032.4h1.1v1.1h-1.1zM1076.2 1070.0h1.1v1.1h-1.1zM1057.2 1061.3h1.1v1.1h-1.1zM1072.0 1056.1h1.1v1.1h-1.1zM1087.2 1076.4h1.1v1.1h-1.1zM1047.3 1045.3h1.1v1.1h-1.1zM1099.4 1056.8h1.1v1.1h-1.1zM1087.6 1070.5h1.1v1.1h-1.1zM1077.2 1079.5h1.1v1.1h-1.1zM1101.4 1041.3h1.1v1.1h-1.1zM1059.8 1040.5h1.1v1.1h-1.1zM1106.1 1067.9h1.1v1.1h-1.1zM1089.9 1079.2h1.1v1.1h-1.1zM1043.5 1053.2h1.1v1.1h-1.1zM1087.2 1071.4h1.1v1.1h-1.1zM1088.6 1072.0h1.1v1.1h-1.1zM1086.7 1061.6h1.1v1.1h-1.1zM1118.3 1073.5h1.1v1.1h-1.1zM1084.7 1067.6h1.1v1.1h-1.1zM1065.9 1004.7h1.1v1.1h-1.1zM1094.2 1039.9h1.1v1.1h-1.1zM1077.8 1070.1h1.1v1.1h-1.1zM1049.2 1080.4h1.1v1.1h-1.1zM1095.4 1042.4h1.1v1.1h-1.1zM1084.7 1066.0h1.1v1.1h-1.1zM1085.3 1060.0h1.1v1.1h-1.1zM1088.9 1069.0h1.1v1.1h-1.1zM1052.8 1009.9h1.1v1.1h-1.1zM1056.5 1023.9h1.1v1.1h-1.1zM1118.8 1032.4h1.1v1.1h-1.1zM1049.9 1065.0h1.1v1.1h-1.1zM1100.7 1034.3h1.1v1.1h-1.1zM1054.7 1064.9h1.1v1.1h-1.1zM1091.4 1062.7h1.1v1.1h-1.1zM1063.6 1051.9h1.1v1.1h-1.1zM1085.8 1078.2h1.1v1.1h-1.1zM1066.2 1048.4h1.1v1.1h-1.1zM1048.7 1048.0h1.1v1.1h-1.1zM1108.5 1040.4h1.1v1.1h-1.1zM1081.8 1072.0h1.1v1.1h-1.1zM1065.1 1016.1h1.1v1.1h-1.1zM1095.2 1072.8h1.1v1.1h-1.1zM1101.2 1077.0h1.1v1.1h-1.1zM1094.7 1033.3h1.1v1.1h-1.1zM1104.8 1080.4h1.1v1.1h-1.1zM1100.1 1048.0h1.1v1.1h-1.1zM1067.1 1073.5h1.1v1.1h-1.1zM1058.4 1044.1h1.1v1.1h-1.1zM1043.8 1020.7h1.1v1.1h-1.1zM1048.5 1032.5h1.1v1.1h-1.1zM1076.0 1052.5h1.1v1.1h-1.1zM1062.0 1031.1h1.1v1.1h-1.1zM1079.0 1005.1h1.1v1.1h-1.1zM1056.3 1028.9h1.1v1.1h-1.1zM1069.1 1038.6h1.1v1.1h-1.1zM1078.4 1005.7h1.1v1.1h-1.1zM1071.3 1043.0h1.1v1.1h-1.1zM1096.7 1043.3h1.1v1.1h-1.1zM1109.8 1044.1h1.1v1.1h-1.1zM1055.4 1080.2h1.1v1.1h-1.1zM1082.0 1065.9h1.1v1.1h-1.1zM1057.7 1055.5h1.1v1.1h-1.1zM1100.2 1079.9h1.1v1.1h-1.1zM1097.7 1077.6h1.1v1.1h-1.1zM1073.5 1019.0h1.1v1.1h-1.1zM1109.2 1014.6h1.1v1.1h-1.1zM1074.2 1078.0h1.1v1.1h-1.1zM1067.8 1079.0h1.1v1.1h-1.1zM1077.2 1067.6h1.1v1.1h-1.1zM1042.0 1071.0h1.1v1.1h-1.1zM1054.3 1071.2h1.1v1.1h-1.1zM1070.1 1072.2h1.1v1.1h-1.1zM1069.7 1035.5h1.1v1.1h-1.1zM1060.2 1078.0h1.1v1.1h-1.1zM1084.7 1078.8h1.1v1.1h-1.1zM1088.7 1066.7h1.1v1.1h-1.1zM1079.7 1080.4h1.1v1.1h-1.1zM1102.0 1014.7h1.1v1.1h-1.1zM1069.1 1059.9h1.1v1.1h-1.1zM1082.6 1009.7h1.1v1.1h-1.1zM1079.3 1070.3h1.1v1.1h-1.1zM1096.4 1017.3h1.1v1.1h-1.1zM1063.1 1075.1h1.1v1.1h-1.1zM1091.8 1052.1h1.1v1.1h-1.1zM1086.6 1060.0h1.1v1.1h-1.1zM1091.0 1034.6h1.1v1.1h-1.1zM1100.2 1008.8h1.1v1.1h-1.1zM1097.9 1014.3h1.1v1.1h-1.1zM1082.7 1073.7h1.1v1.1h-1.1zM1074.6 1001.8h1.1v1.1h-1.1zM1067.5 1081.0h1.1v1.1h-1.1zM1087.9 1058.7h1.1v1.1h-1.1zM1101.2 1034.4h1.1v1.1h-1.1zM1068.8 1014.3h1.1v1.1h-1.1zM1049.7 1042.9h1.1v1.1h-1.1zM1110.8 1058.5h1.1v1.1h-1.1zM1057.1 1078.6h1.1v1.1h-1.1zM1092.4 1024.5h1.1v1.1h-1.1zM1100.3 1052.2h1.1v1.1h-1.1zM1084.0 1060.6h1.1v1.1h-1.1zM1098.2 1019.2h1.1v1.1h-1.1zM1060.7 1059.2h1.1v1.1h-1.1zM1093.6 1066.5h1.1v1.1h-1.1zM1117.2 1055.7h1.1v1.1h-1.1zM1078.9 1024.2h1.1v1.1h-1.1zM1064.8 1035.2h1.1v1.1h-1.1zM1093.5 1046.2h1.1v1.1h-1.1zM1057.8 1077.4h1.1v1.1h-1.1zM1048.3 1073.7h1.1v1.1h-1.1zM1100.1 1001.7h1.1v1.1h-1.1zM1075.3 1076.0h1.1v1.1h-1.1zM1090.3 1079.9h1.1v1.1h-1.1zM1092.1 1072.1h1.1v1.1h-1.1zM1056.7 1050.9h1.1v1.1h-1.1zM1047.8 1020.5h1.1v1.1h-1.1zM1072.3 998.6h1.1v1.1h-1.1zM1053.6 1078.1h1.1v1.1h-1.1zM1065.1 1074.7h1.1v1.1h-1.1zM1098.2 1075.0h1.1v1.1h-1.1zM1078.6 1079.2h1.1v1.1h-1.1zM1066.8 1077.9h1.1v1.1h-1.1zM1055.3 1040.9h1.1v1.1h-1.1zM1116.6 1075.3h1.1v1.1h-1.1zM1047.2 1060.6h1.1v1.1h-1.1zM1068.8 1043.9h1.1v1.1h-1.1zM1068.3 1077.3h1.1v1.1h-1.1zM1105.9 1063.9h1.1v1.1h-1.1zM1081.0 1075.2h1.1v1.1h-1.1zM1049.3 1074.3h1.1v1.1h-1.1zM1100.3 1069.8h1.1v1.1h-1.1zM1052.2 1076.9h1.1v1.1h-1.1zM1094.2 1034.5h1.1v1.1h-1.1zM1099.0 1040.1h1.1v1.1h-1.1zM1079.5 1063.2h1.1v1.1h-1.1zM1085.2 1075.6h1.1v1.1h-1.1zM1092.4 1032.1h1.1v1.1h-1.1zM1049.2 1076.2h1.1v1.1h-1.1zM1082.4 1071.2h1.1v1.1h-1.1zM1088.7 1072.5h1.1v1.1h-1.1zM1105.8 1059.5h1.1v1.1h-1.1zM1110.1 1025.1h1.1v1.1h-1.1zM1103.3 1079.9h1.1v1.1h-1.1zM1094.2 1079.7h1.1v1.1h-1.1zM1056.2 1035.4h1.1v1.1h-1.1zM1063.2 1062.5h1.1v1.1h-1.1zM1061.2 1043.1h1.1v1.1h-1.1zM1088.8 1073.3h1.1v1.1h-1.1zM1087.4 1075.2h1.1v1.1h-1.1zM1088.2 1061.4h1.1v1.1h-1.1zM1064.4 1056.0h1.1v1.1h-1.1zM1046.9 1033.0h1.1v1.1h-1.1zM1067.0 1072.6h1.1v1.1h-1.1zM1104.6 1049.7h1.1v1.1h-1.1zM1073.0 1065.2h1.1v1.1h-1.1zM1045.9 1060.7h1.1v1.1h-1.1zM1076.3 1039.9h1.1v1.1h-1.1zM1082.3 1078.8h1.1v1.1h-1.1zM1056.1 1045.3h1.1v1.1h-1.1zM1090.0 1071.7h1.1v1.1h-1.1zM1096.7 1071.2h1.1v1.1h-1.1zM1057.4 1056.0h1.1v1.1h-1.1zM1096.3 1073.3h1.1v1.1h-1.1zM1100.7 1071.2h1.1v1.1h-1.1zM1108.3 1076.7h1.1v1.1h-1.1zM1079.6 1048.7h1.1v1.1h-1.1zM1087.1 1050.7h1.1v1.1h-1.1zM1072.5 1056.0h1.1v1.1h-1.1zM1062.2 1049.3h1.1v1.1h-1.1zM1077.1 1055.0h1.1v1.1h-1.1zM1104.8 1020.1h1.1v1.1h-1.1zM1096.2 1061.3h1.1v1.1h-1.1zM1055.4 1071.1h1.1v1.1h-1.1zM1076.6 1053.0h1.1v1.1h-1.1zM1090.8 1079.8h1.1v1.1h-1.1zM1087.1 1060.3h1.1v1.1h-1.1zM1066.2 1077.0h1.1v1.1h-1.1zM1056.7 1079.8h1.1v1.1h-1.1zM1077.7 1029.5h1.1v1.1h-1.1zM1065.3 1020.3h1.1v1.1h-1.1zM1096.7 1086.5h1.1v1.1h-1.1zM1104.2 1091.8h1.1v1.1h-1.1zM1082.5 1084.3h1.1v1.1h-1.1zM1067.5 1087.4h1.1v1.1h-1.1zM1058.6 1089.0h1.1v1.1h-1.1zM1066.7 1092.5h1.1v1.1h-1.1zM1086.6 1095.6h1.1v1.1h-1.1zM1075.9 1081.8h1.1v1.1h-1.1zM1070.1 1085.4h1.1v1.1h-1.1zM1080.8 1082.7h1.1v1.1h-1.1zM1112.8 1084.4h1.1v1.1h-1.1zM1078.0 1085.2h1.1v1.1h-1.1zM1064.7 1083.1h1.1v1.1h-1.1zM1081.0 1083.7h1.1v1.1h-1.1zM1053.5 1079.5h1.1v1.1h-1.1zM1085.3 1087.0h1.1v1.1h-1.1zM1072.6 1082.2h1.1v1.1h-1.1zM1083.3 1093.8h1.1v1.1h-1.1zM1082.0 1084.3h1.1v1.1h-1.1zM1087.0 1084.9h1.1v1.1h-1.1zM1093.0 1086.5h1.1v1.1h-1.1zM1056.8 1086.1h1.1v1.1h-1.1zM1081.0 1085.3h1.1v1.1h-1.1zM1075.1 1087.0h1.1v1.1h-1.1zM1067.7 1087.0h1.1v1.1h-1.1zM1078.2 1093.5h1.1v1.1h-1.1zM1090.9 1085.5h1.1v1.1h-1.1zM1097.1 1086.1h1.1v1.1h-1.1zM1086.8 1072.4h1.1v1.1h-1.1zM1059.7 1087.2h1.1v1.1h-1.1zM1100.5 1086.8h1.1v1.1h-1.1zM1094.2 1090.5h1.1v1.1h-1.1zM1073.7 1086.8h1.1v1.1h-1.1zM1067.4 1083.7h1.1v1.1h-1.1zM1043.2 1085.4h1.1v1.1h-1.1zM1094.3 1085.6h1.1v1.1h-1.1zM1077.9 1084.2h1.1v1.1h-1.1zM1063.7 1087.0h1.1v1.1h-1.1zM1077.2 1089.5h1.1v1.1h-1.1zM1079.1 1080.9h1.1v1.1h-1.1zM1060.9 1082.2h1.1v1.1h-1.1zM1072.4 1084.9h1.1v1.1h-1.1zM1085.4 1092.1h1.1v1.1h-1.1zM1094.5 1084.0h1.1v1.1h-1.1zM1117.1 1090.7h1.1v1.1h-1.1zM1081.7 1083.2h1.1v1.1h-1.1zM1074.1 1088.0h1.1v1.1h-1.1zM1084.2 1087.4h1.1v1.1h-1.1zM1074.3 1085.4h1.1v1.1h-1.1zM1120.9 1087.6h1.1v1.1h-1.1zM1067.7 1086.3h1.1v1.1h-1.1zM1062.5 1084.0h1.1v1.1h-1.1zM1056.8 1086.0h1.1v1.1h-1.1zM1055.9 1086.6h1.1v1.1h-1.1zM1084.7 1088.5h1.1v1.1h-1.1zM1082.8 1086.8h1.1v1.1h-1.1zM1071.6 1087.5h1.1v1.1h-1.1zM1096.9 1085.6h1.1v1.1h-1.1zM1091.0 1084.1h1.1v1.1h-1.1zM1087.0 1088.7h1.1v1.1h-1.1zM1092.5 1086.5h1.1v1.1h-1.1zM1084.2 1081.5h1.1v1.1h-1.1zM1092.3 1084.8h1.1v1.1h-1.1zM1080.5 1083.4h1.1v1.1h-1.1zM1116.1 1084.1h1.1v1.1h-1.1zM1098.7 1082.5h1.1v1.1h-1.1zM1071.1 1081.9h1.1v1.1h-1.1zM1078.7 1089.5h1.1v1.1h-1.1zM1068.6 1089.1h1.1v1.1h-1.1zM1065.6 1088.9h1.1v1.1h-1.1zM1091.8 1086.5h1.1v1.1h-1.1zM1044.8 1089.5h1.1v1.1h-1.1zM1071.8 1085.1h1.1v1.1h-1.1zM1065.3 1083.6h1.1v1.1h-1.1zM1082.5 1081.4h1.1v1.1h-1.1zM1085.8 1088.1h1.1v1.1h-1.1zM1091.5 1081.7h1.1v1.1h-1.1zM1077.8 1086.8h1.1v1.1h-1.1zM1097.2 1080.6h1.1v1.1h-1.1zM1086.6 1089.4h1.1v1.1h-1.1zM1082.0 1083.8h1.1v1.1h-1.1zM1104.1 1096.8h1.1v1.1h-1.1zM1103.7 1084.6h1.1v1.1h-1.1zM1051.6 1088.7h1.1v1.1h-1.1zM1056.1 1088.7h1.1v1.1h-1.1zM1071.8 1087.6h1.1v1.1h-1.1zM1087.7 1086.8h1.1v1.1h-1.1zM1082.6 1089.0h1.1v1.1h-1.1zM1098.4 1086.5h1.1v1.1h-1.1zM1069.4 1084.7h1.1v1.1h-1.1zM1075.5 1083.7h1.1v1.1h-1.1zM1078.0 1085.2h1.1v1.1h-1.1zM1088.3 1083.3h1.1v1.1h-1.1zM1072.1 1084.8h1.1v1.1h-1.1zM1080.9 1085.6h1.1v1.1h-1.1zM1110.9 1087.1h1.1v1.1h-1.1zM1086.2 1082.2h1.1v1.1h-1.1zM1079.4 1087.1h1.1v1.1h-1.1zM1068.0 1082.3h1.1v1.1h-1.1zM1083.8 1082.9h1.1v1.1h-1.1zM1064.2 1084.7h1.1v1.1h-1.1zM1103.5 1086.7h1.1v1.1h-1.1zM1096.0 1083.9h1.1v1.1h-1.1zM1096.0 1084.9h1.1v1.1h-1.1zM1083.6 1085.2h1.1v1.1h-1.1zM1103.7 1092.2h1.1v1.1h-1.1zM1063.8 1087.7h1.1v1.1h-1.1zM1112.6 1084.2h1.1v1.1h-1.1zM1077.7 1088.2h1.1v1.1h-1.1zM1095.5 1079.7h1.1v1.1h-1.1zM1096.9 1083.2h1.1v1.1h-1.1zM1096.5 1086.0h1.1v1.1h-1.1zM1100.8 1087.7h1.1v1.1h-1.1zM1079.2 1089.6h1.1v1.1h-1.1zM1052.5 1083.3h1.1v1.1h-1.1zM1084.6 1093.2h1.1v1.1h-1.1zM1087.8 1086.1h1.1v1.1h-1.1zM1090.0 1085.5h1.1v1.1h-1.1z" fill="#2b47a4"/><path d="M1100.3 1089.0h1.1v1.1h-1.1zM1096.3 1089.8h1.1v1.1h-1.1zM1070.4 1077.5h1.1v1.1h-1.1zM1100.1 1088.8h1.1v1.1h-1.1zM1102.9 1082.8h1.1v1.1h-1.1zM1102.5 1081.9h1.1v1.1h-1.1zM1099.7 1089.4h1.1v1.1h-1.1zM1084.9 1091.5h1.1v1.1h-1.1zM1082.4 1091.9h1.1v1.1h-1.1zM1046.5 1078.2h1.1v1.1h-1.1zM1076.0 1092.7h1.1v1.1h-1.1zM1047.7 1091.7h1.1v1.1h-1.1zM1104.4 1083.2h1.1v1.1h-1.1zM1064.8 1092.7h1.1v1.1h-1.1zM1051.9 1092.1h1.1v1.1h-1.1zM1104.4 1085.4h1.1v1.1h-1.1zM1094.2 1079.3h1.1v1.1h-1.1zM1105.7 1083.5h1.1v1.1h-1.1zM1050.1 1092.0h1.1v1.1h-1.1zM1103.3 1082.3h1.1v1.1h-1.1zM1104.1 1084.3h1.1v1.1h-1.1zM1105.5 1087.4h1.1v1.1h-1.1zM1091.3 1090.9h1.1v1.1h-1.1zM1105.0 1086.1h1.1v1.1h-1.1zM1048.7 1078.4h1.1v1.1h-1.1zM1094.5 1090.5h1.1v1.1h-1.1zM1067.9 1077.3h1.1v1.1h-1.1zM1090.2 1078.7h1.1v1.1h-1.1zM1097.7 1089.9h1.1v1.1h-1.1zM1082.0 1078.3h1.1v1.1h-1.1zM1081.1 1091.9h1.1v1.1h-1.1zM1063.8 1092.3h1.1v1.1h-1.1zM1104.9 1083.3h1.1v1.1h-1.1zM1100.1 1081.6h1.1v1.1h-1.1zM1060.4 1077.4h1.1v1.1h-1.1zM1083.8 1091.4h1.1v1.1h-1.1zM1069.4 1092.9h1.1v1.1h-1.1zM1047.5 1078.4h1.1v1.1h-1.1zM1104.0 1083.4h1.1v1.1h-1.1zM1103.7 1083.6h1.1v1.1h-1.1zM1094.5 1089.9h1.1v1.1h-1.1zM1103.7 1083.8h1.1v1.1h-1.1zM1075.4 1092.3h1.1v1.1h-1.1zM1091.2 1079.1h1.1v1.1h-1.1zM1051.4 1092.0h1.1v1.1h-1.1zM1059.1 1092.2h1.1v1.1h-1.1zM1060.2 1092.5h1.1v1.1h-1.1zM1092.2 1090.7h1.1v1.1h-1.1zM1092.4 1078.9h1.1v1.1h-1.1zM1103.6 1081.6h1.1v1.1h-1.1zM1105.1 1086.6h1.1v1.1h-1.1zM1103.6 1088.3h1.1v1.1h-1.1zM1051.6 1077.6h1.1v1.1h-1.1zM1045.2 1078.9h1.1v1.1h-1.1zM1088.0 1091.3h1.1v1.1h-1.1zM1071.1 1077.6h1.1v1.1h-1.1zM1084.2 1078.2h1.1v1.1h-1.1zM1100.9 1088.8h1.1v1.1h-1.1zM1089.2 1078.7h1.1v1.1h-1.1zM1099.3 1080.2h1.1v1.1h-1.1zM1090.0 1091.3h1.1v1.1h-1.1zM1068.0 1092.7h1.1v1.1h-1.1zM1047.1 1092.0h1.1v1.1h-1.1zM1099.2 1089.4h1.1v1.1h-1.1zM1065.6 1077.6h1.1v1.1h-1.1zM1093.1 1079.3h1.1v1.1h-1.1zM1103.3 1088.2h1.1v1.1h-1.1zM1105.5 1084.2h1.1v1.1h-1.1zM1066.7 1077.6h1.1v1.1h-1.1zM1058.1 1077.3h1.1v1.1h-1.1zM1096.8 1090.3h1.1v1.1h-1.1zM1093.7 1080.0h1.1v1.1h-1.1zM1064.0 1092.5h1.1v1.1h-1.1z" fill="#2d50aa"/><path d="M1096.9 1081.0h1.1v1.1h-1.1zM1077.7 1078.4h1.1v1.1h-1.1zM1101.2 1085.5h1.1v1.1h-1.1zM1103.6 1085.6h1.1v1.1h-1.1zM1098.6 1088.5h1.1v1.1h-1.1zM1046.8 1078.8h1.1v1.1h-1.1zM1060.1 1078.4h1.1v1.1h-1.1zM1044.2 1079.4h1.1v1.1h-1.1zM1089.1 1079.2h1.1v1.1h-1.1zM1101.2 1086.4h1.1v1.1h-1.1zM1100.1 1083.1h1.1v1.1h-1.1zM1098.9 1081.9h1.1v1.1h-1.1zM1102.4 1085.1h1.1v1.1h-1.1zM1091.5 1079.7h1.1v1.1h-1.1zM1103.0 1086.7h1.1v1.1h-1.1zM1076.7 1078.4h1.1v1.1h-1.1zM1093.0 1089.6h1.1v1.1h-1.1zM1100.8 1087.6h1.1v1.1h-1.1zM1077.0 1091.9h1.1v1.1h-1.1zM1101.6 1085.9h1.1v1.1h-1.1zM1044.6 1079.6h1.1v1.1h-1.1zM1088.3 1079.6h1.1v1.1h-1.1zM1080.2 1091.6h1.1v1.1h-1.1zM1099.8 1082.4h1.1v1.1h-1.1zM1092.7 1089.9h1.1v1.1h-1.1zM1050.3 1078.4h1.1v1.1h-1.1zM1077.3 1091.5h1.1v1.1h-1.1zM1081.3 1078.4h1.1v1.1h-1.1zM1092.1 1089.7h1.1v1.1h-1.1zM1066.6 1077.8h1.1v1.1h-1.1zM1096.0 1088.8h1.1v1.1h-1.1zM1103.5 1085.3h1.1v1.1h-1.1zM1072.7 1092.1h1.1v1.1h-1.1zM1100.8 1083.9h1.1v1.1h-1.1zM1098.1 1081.2h1.1v1.1h-1.1zM1055.3 1078.1h1.1v1.1h-1.1zM1102.3 1086.9h1.1v1.1h-1.1zM1087.1 1079.4h1.1v1.1h-1.1zM1092.8 1090.0h1.1v1.1h-1.1zM1099.7 1088.0h1.1v1.1h-1.1zM1101.7 1087.5h1.1v1.1h-1.1zM1103.7 1085.0h1.1v1.1h-1.1zM1091.1 1080.0h1.1v1.1h-1.1zM1101.9 1084.8h1.1v1.1h-1.1zM1100.1 1082.3h1.1v1.1h-1.1zM1085.9 1090.8h1.1v1.1h-1.1zM1075.1 1091.7h1.1v1.1h-1.1zM1043.0 1090.5h1.1v1.1h-1.1zM1102.2 1084.7h1.1v1.1h-1.1zM1090.1 1079.4h1.1v1.1h-1.1zM1102.8 1086.4h1.1v1.1h-1.1zM1064.4 1091.8h1.1v1.1h-1.1zM1099.2 1088.3h1.1v1.1h-1.1zM1102.8 1084.0h1.1v1.1h-1.1zM1081.6 1091.5h1.1v1.1h-1.1zM1102.3 1084.7h1.1v1.1h-1.1zM1054.6 1078.3h1.1v1.1h-1.1zM1049.5 1091.3h1.1v1.1h-1.1zM1080.0 1078.7h1.1v1.1h-1.1zM1089.4 1090.7h1.1v1.1h-1.1zM1098.0 1081.6h1.1v1.1h-1.1zM1076.6 1078.0h1.1v1.1h-1.1zM1087.5 1079.1h1.1v1.1h-1.1zM1051.7 1078.7h1.1v1.1h-1.1zM1103.4 1083.5h1.1v1.1h-1.1z" fill="#2e58af"/><path d="M1092.7 1089.0h1.1v1.1h-1.1zM1091.2 1089.0h1.1v1.1h-1.1zM1098.6 1083.0h1.1v1.1h-1.1zM1096.0 1088.5h1.1v1.1h-1.1zM1084.8 1090.5h1.1v1.1h-1.1zM1045.2 1079.9h1.1v1.1h-1.1zM1099.4 1084.7h1.1v1.1h-1.1zM1070.7 1078.6h1.1v1.1h-1.1zM1089.3 1080.2h1.1v1.1h-1.1zM1092.2 1088.8h1.1v1.1h-1.1zM1043.0 1080.0h1.1v1.1h-1.1zM1079.4 1079.2h1.1v1.1h-1.1zM1099.6 1083.1h1.1v1.1h-1.1zM1100.8 1084.5h1.1v1.1h-1.1zM1062.3 1078.6h1.1v1.1h-1.1zM1064.3 1091.3h1.1v1.1h-1.1zM1096.5 1082.0h1.1v1.1h-1.1zM1070.1 1091.4h1.1v1.1h-1.1zM1060.1 1078.8h1.1v1.1h-1.1zM1060.4 1091.5h1.1v1.1h-1.1zM1095.9 1088.4h1.1v1.1h-1.1zM1100.5 1083.7h1.1v1.1h-1.1zM1089.0 1080.5h1.1v1.1h-1.1zM1067.2 1091.3h1.1v1.1h-1.1zM1048.2 1079.6h1.1v1.1h-1.1zM1081.0 1079.4h1.1v1.1h-1.1zM1060.7 1091.5h1.1v1.1h-1.1zM1055.3 1091.2h1.1v1.1h-1.1zM1085.9 1090.5h1.1v1.1h-1.1zM1099.6 1086.1h1.1v1.1h-1.1zM1049.1 1079.4h1.1v1.1h-1.1zM1075.3 1079.0h1.1v1.1h-1.1zM1081.3 1090.8h1.1v1.1h-1.1zM1070.5 1078.5h1.1v1.1h-1.1zM1059.4 1078.8h1.1v1.1h-1.1zM1049.6 1090.5h1.1v1.1h-1.1zM1081.3 1079.3h1.1v1.1h-1.1zM1057.0 1091.0h1.1v1.1h-1.1zM1068.0 1091.6h1.1v1.1h-1.1zM1100.9 1085.2h1.1v1.1h-1.1zM1097.8 1087.0h1.1v1.1h-1.1zM1098.6 1083.3h1.1v1.1h-1.1zM1067.8 1078.3h1.1v1.1h-1.1zM1097.0 1082.9h1.1v1.1h-1.1zM1096.7 1082.8h1.1v1.1h-1.1zM1083.6 1090.6h1.1v1.1h-1.1zM1063.1 1078.6h1.1v1.1h-1.1zM1095.1 1088.4h1.1v1.1h-1.1zM1093.4 1088.7h1.1v1.1h-1.1zM1099.4 1083.7h1.1v1.1h-1.1zM1094.9 1088.6h1.1v1.1h-1.1zM1075.9 1091.3h1.1v1.1h-1.1zM1083.5 1079.3h1.1v1.1h-1.1zM1065.0 1091.6h1.1v1.1h-1.1zM1078.7 1078.8h1.1v1.1h-1.1zM1072.1 1091.5h1.1v1.1h-1.1zM1067.8 1091.5h1.1v1.1h-1.1zM1093.3 1081.1h1.1v1.1h-1.1zM1091.9 1080.5h1.1v1.1h-1.1zM1087.8 1079.8h1.1v1.1h-1.1zM1097.0 1082.0h1.1v1.1h-1.1zM1084.6 1079.3h1.1v1.1h-1.1zM1088.6 1089.9h1.1v1.1h-1.1zM1099.9 1084.6h1.1v1.1h-1.1zM1081.9 1079.4h1.1v1.1h-1.1zM1077.3 1078.8h1.1v1.1h-1.1zM1089.6 1080.5h1.1v1.1h-1.1zM1097.1 1082.8h1.1v1.1h-1.1zM1092.9 1088.7h1.1v1.1h-1.1zM1086.8 1080.1h1.1v1.1h-1.1zM1049.6 1079.4h1.1v1.1h-1.1zM1094.9 1081.5h1.1v1.1h-1.1z" fill="#2f61b5"/><path d="M1092.2 1088.0h1.1v1.1h-1.1zM1088.9 1089.2h1.1v1.1h-1.1zM1044.7 1089.5h1.1v1.1h-1.1zM1093.0 1082.4h1.1v1.1h-1.1zM1083.5 1080.0h1.1v1.1h-1.1zM1096.2 1084.6h1.1v1.1h-1.1zM1096.0 1084.2h1.1v1.1h-1.1zM1082.9 1090.1h1.1v1.1h-1.1zM1092.7 1088.1h1.1v1.1h-1.1zM1096.0 1083.5h1.1v1.1h-1.1zM1096.1 1087.2h1.1v1.1h-1.1zM1067.8 1079.2h1.1v1.1h-1.1zM1042.1 1081.3h1.1v1.1h-1.1zM1061.2 1091.1h1.1v1.1h-1.1zM1047.8 1080.2h1.1v1.1h-1.1zM1081.7 1090.0h1.1v1.1h-1.1zM1050.0 1079.8h1.1v1.1h-1.1zM1085.6 1089.4h1.1v1.1h-1.1zM1081.5 1080.0h1.1v1.1h-1.1zM1047.9 1090.1h1.1v1.1h-1.1zM1066.9 1078.8h1.1v1.1h-1.1zM1044.0 1080.8h1.1v1.1h-1.1zM1063.1 1091.1h1.1v1.1h-1.1zM1089.5 1081.0h1.1v1.1h-1.1zM1064.3 1091.0h1.1v1.1h-1.1zM1094.2 1082.9h1.1v1.1h-1.1zM1075.1 1090.8h1.1v1.1h-1.1zM1046.3 1089.4h1.1v1.1h-1.1zM1083.6 1089.8h1.1v1.1h-1.1zM1095.2 1086.9h1.1v1.1h-1.1zM1092.7 1082.2h1.1v1.1h-1.1zM1092.6 1088.5h1.1v1.1h-1.1zM1096.9 1084.4h1.1v1.1h-1.1zM1069.8 1090.8h1.1v1.1h-1.1zM1066.5 1078.8h1.1v1.1h-1.1zM1096.1 1084.1h1.1v1.1h-1.1zM1097.1 1084.9h1.1v1.1h-1.1zM1083.1 1080.0h1.1v1.1h-1.1zM1063.9 1091.0h1.1v1.1h-1.1zM1094.7 1087.3h1.1v1.1h-1.1zM1052.6 1079.6h1.1v1.1h-1.1zM1072.7 1079.3h1.1v1.1h-1.1zM1052.9 1079.8h1.1v1.1h-1.1zM1060.7 1078.9h1.1v1.1h-1.1zM1077.3 1090.6h1.1v1.1h-1.1zM1088.5 1080.6h1.1v1.1h-1.1zM1078.6 1090.5h1.1v1.1h-1.1zM1076.1 1079.4h1.1v1.1h-1.1zM1073.6 1090.6h1.1v1.1h-1.1zM1083.4 1080.0h1.1v1.1h-1.1zM1095.1 1087.3h1.1v1.1h-1.1zM1042.8 1081.2h1.1v1.1h-1.1zM1077.7 1079.5h1.1v1.1h-1.1zM1098.0 1084.7h1.1v1.1h-1.1zM1070.2 1078.8h1.1v1.1h-1.1zM1082.8 1079.7h1.1v1.1h-1.1zM1090.7 1081.7h1.1v1.1h-1.1zM1092.0 1088.2h1.1v1.1h-1.1zM1080.1 1090.1h1.1v1.1h-1.1zM1093.8 1082.6h1.1v1.1h-1.1zM1087.2 1089.4h1.1v1.1h-1.1zM1098.3 1084.7h1.1v1.1h-1.1zM1096.5 1087.1h1.1v1.1h-1.1zM1085.9 1080.6h1.1v1.1h-1.1zM1088.6 1081.0h1.1v1.1h-1.1zM1097.5 1086.1h1.1v1.1h-1.1zM1061.4 1090.8h1.1v1.1h-1.1zM1085.2 1080.2h1.1v1.1h-1.1zM1069.5 1079.1h1.1v1.1h-1.1zM1068.5 1090.9h1.1v1.1h-1.1zM1067.9 1090.9h1.1v1.1h-1.1zM1060.5 1090.7h1.1v1.1h-1.1zM1068.4 1079.1h1.1v1.1h-1.1zM1076.7 1090.8h1.1v1.1h-1.1zM1049.5 1080.1h1.1v1.1h-1.1zM1097.3 1083.6h1.1v1.1h-1.1zM1090.8 1081.1h1.1v1.1h-1.1zM1080.9 1079.8h1.1v1.1h-1.1zM1043.0 1089.1h1.1v1.1h-1.1zM1096.8 1086.7h1.1v1.1h-1.1zM1057.6 1079.1h1.1v1.1h-1.1zM1091.6 1081.3h1.1v1.1h-1.1zM1060.7 1078.9h1.1v1.1h-1.1zM1094.4 1088.0h1.1v1.1h-1.1zM1048.3 1079.8h1.1v1.1h-1.1zM1042.9 1080.9h1.1v1.1h-1.1zM1064.2 1078.9h1.1v1.1h-1.1zM1088.1 1089.0h1.1v1.1h-1.1zM1096.2 1083.2h1.1v1.1h-1.1zM1092.0 1081.9h1.1v1.1h-1.1zM1086.2 1080.5h1.1v1.1h-1.1zM1045.8 1089.8h1.1v1.1h-1.1z" fill="#3169bb"/><path d="M1090.3 1081.6h1.1v1.1h-1.1zM1042.9 1081.7h1.1v1.1h-1.1zM1093.5 1082.7h1.1v1.1h-1.1zM1084.3 1089.3h1.1v1.1h-1.1zM1059.1 1079.8h1.1v1.1h-1.1zM1066.2 1079.3h1.1v1.1h-1.1zM1093.3 1086.9h1.1v1.1h-1.1zM1044.5 1089.0h1.1v1.1h-1.1zM1089.7 1088.4h1.1v1.1h-1.1zM1074.1 1079.6h1.1v1.1h-1.1zM1077.4 1090.1h1.1v1.1h-1.1zM1074.0 1090.4h1.1v1.1h-1.1zM1058.9 1079.6h1.1v1.1h-1.1zM1094.8 1085.8h1.1v1.1h-1.1zM1042.9 1081.5h1.1v1.1h-1.1zM1084.1 1080.6h1.1v1.1h-1.1zM1081.4 1080.5h1.1v1.1h-1.1zM1091.5 1087.4h1.1v1.1h-1.1zM1085.8 1081.0h1.1v1.1h-1.1zM1092.3 1087.1h1.1v1.1h-1.1zM1071.4 1079.7h1.1v1.1h-1.1zM1055.3 1079.7h1.1v1.1h-1.1zM1078.5 1090.1h1.1v1.1h-1.1zM1070.7 1090.5h1.1v1.1h-1.1zM1074.0 1079.8h1.1v1.1h-1.1zM1093.4 1083.8h1.1v1.1h-1.1zM1058.3 1079.8h1.1v1.1h-1.1zM1043.0 1081.5h1.1v1.1h-1.1zM1094.9 1084.0h1.1v1.1h-1.1zM1095.9 1084.8h1.1v1.1h-1.1zM1084.4 1089.3h1.1v1.1h-1.1zM1086.6 1089.0h1.1v1.1h-1.1zM1090.4 1082.0h1.1v1.1h-1.1zM1094.0 1087.0h1.1v1.1h-1.1zM1091.6 1087.3h1.1v1.1h-1.1zM1063.0 1090.7h1.1v1.1h-1.1zM1047.6 1080.6h1.1v1.1h-1.1zM1094.8 1084.0h1.1v1.1h-1.1zM1076.6 1079.6h1.1v1.1h-1.1zM1070.9 1079.5h1.1v1.1h-1.1zM1080.6 1089.9h1.1v1.1h-1.1zM1066.7 1090.4h1.1v1.1h-1.1zM1059.1 1090.5h1.1v1.1h-1.1zM1076.3 1079.7h1.1v1.1h-1.1zM1089.3 1081.8h1.1v1.1h-1.1zM1079.5 1090.0h1.1v1.1h-1.1zM1077.8 1079.9h1.1v1.1h-1.1zM1091.1 1088.0h1.1v1.1h-1.1zM1083.4 1089.2h1.1v1.1h-1.1zM1054.9 1090.3h1.1v1.1h-1.1zM1063.9 1079.4h1.1v1.1h-1.1zM1090.5 1081.9h1.1v1.1h-1.1zM1080.2 1089.7h1.1v1.1h-1.1zM1080.3 1080.1h1.1v1.1h-1.1zM1095.8 1084.2h1.1v1.1h-1.1zM1060.3 1079.5h1.1v1.1h-1.1zM1093.3 1083.4h1.1v1.1h-1.1zM1089.7 1081.8h1.1v1.1h-1.1zM1095.4 1083.9h1.1v1.1h-1.1zM1064.5 1079.5h1.1v1.1h-1.1zM1086.1 1081.1h1.1v1.1h-1.1zM1094.0 1083.0h1.1v1.1h-1.1zM1073.5 1090.2h1.1v1.1h-1.1zM1070.4 1090.5h1.1v1.1h-1.1zM1087.6 1088.7h1.1v1.1h-1.1zM1075.0 1079.7h1.1v1.1h-1.1zM1094.5 1083.6h1.1v1.1h-1.1zM1077.4 1079.9h1.1v1.1h-1.1zM1093.8 1086.7h1.1v1.1h-1.1zM1079.9 1090.0h1.1v1.1h-1.1zM1094.0 1087.0h1.1v1.1h-1.1zM1091.8 1082.7h1.1v1.1h-1.1zM1084.0 1080.7h1.1v1.1h-1.1zM1071.6 1090.5h1.1v1.1h-1.1zM1082.2 1080.2h1.1v1.1h-1.1zM1094.8 1084.0h1.1v1.1h-1.1zM1095.2 1084.1h1.1v1.1h-1.1zM1069.9 1079.6h1.1v1.1h-1.1zM1072.6 1079.8h1.1v1.1h-1.1zM1093.8 1087.0h1.1v1.1h-1.1zM1048.2 1089.2h1.1v1.1h-1.1zM1066.6 1090.7h1.1v1.1h-1.1zM1091.2 1082.5h1.1v1.1h-1.1zM1044.0 1088.9h1.1v1.1h-1.1zM1087.4 1089.0h1.1v1.1h-1.1z" fill="#3276bb"/><path d="M1069.5 1079.8h1.1v1.1h-1.1zM1058.8 1089.8h1.1v1.1h-1.1zM1042.0 1087.0h1.1v1.1h-1.1zM1092.4 1086.5h1.1v1.1h-1.1zM1092.1 1085.9h1.1v1.1h-1.1zM1090.8 1083.2h1.1v1.1h-1.1zM1092.9 1084.0h1.1v1.1h-1.1zM1088.0 1082.3h1.1v1.1h-1.1zM1078.4 1089.4h1.1v1.1h-1.1zM1093.6 1085.4h1.1v1.1h-1.1zM1090.0 1087.5h1.1v1.1h-1.1zM1068.7 1090.1h1.1v1.1h-1.1zM1085.9 1081.7h1.1v1.1h-1.1zM1054.0 1089.4h1.1v1.1h-1.1zM1069.9 1079.9h1.1v1.1h-1.1zM1048.9 1089.2h1.1v1.1h-1.1zM1079.8 1080.5h1.1v1.1h-1.1zM1085.0 1081.2h1.1v1.1h-1.1zM1082.2 1081.0h1.1v1.1h-1.1zM1071.2 1080.1h1.1v1.1h-1.1zM1082.0 1089.3h1.1v1.1h-1.1zM1042.3 1082.3h1.1v1.1h-1.1zM1064.4 1090.1h1.1v1.1h-1.1zM1058.0 1080.1h1.1v1.1h-1.1zM1043.1 1082.4h1.1v1.1h-1.1zM1067.6 1090.1h1.1v1.1h-1.1zM1065.3 1090.2h1.1v1.1h-1.1zM1074.0 1089.9h1.1v1.1h-1.1zM1045.6 1088.1h1.1v1.1h-1.1zM1090.5 1082.4h1.1v1.1h-1.1zM1075.2 1090.0h1.1v1.1h-1.1zM1050.7 1080.7h1.1v1.1h-1.1zM1081.6 1080.7h1.1v1.1h-1.1zM1065.9 1079.8h1.1v1.1h-1.1zM1092.6 1086.7h1.1v1.1h-1.1zM1056.4 1080.3h1.1v1.1h-1.1zM1051.8 1080.6h1.1v1.1h-1.1zM1089.2 1087.8h1.1v1.1h-1.1zM1064.4 1090.0h1.1v1.1h-1.1zM1090.5 1086.7h1.1v1.1h-1.1zM1054.6 1089.6h1.1v1.1h-1.1zM1093.3 1084.3h1.1v1.1h-1.1zM1061.6 1079.8h1.1v1.1h-1.1zM1054.7 1089.5h1.1v1.1h-1.1zM1092.3 1085.6h1.1v1.1h-1.1zM1060.9 1080.0h1.1v1.1h-1.1zM1073.8 1090.0h1.1v1.1h-1.1zM1076.2 1089.9h1.1v1.1h-1.1zM1075.6 1089.6h1.1v1.1h-1.1zM1092.0 1083.4h1.1v1.1h-1.1zM1071.3 1090.2h1.1v1.1h-1.1zM1090.8 1083.3h1.1v1.1h-1.1zM1051.7 1089.4h1.1v1.1h-1.1zM1093.6 1084.1h1.1v1.1h-1.1zM1081.7 1080.9h1.1v1.1h-1.1zM1086.4 1081.9h1.1v1.1h-1.1zM1074.0 1080.2h1.1v1.1h-1.1zM1053.5 1089.6h1.1v1.1h-1.1zM1092.8 1086.5h1.1v1.1h-1.1zM1060.2 1079.8h1.1v1.1h-1.1zM1053.6 1089.7h1.1v1.1h-1.1zM1064.2 1079.8h1.1v1.1h-1.1zM1092.4 1084.0h1.1v1.1h-1.1zM1082.3 1089.0h1.1v1.1h-1.1zM1076.6 1080.1h1.1v1.1h-1.1zM1067.1 1079.7h1.1v1.1h-1.1zM1088.2 1087.6h1.1v1.1h-1.1zM1074.9 1089.7h1.1v1.1h-1.1zM1048.2 1088.8h1.1v1.1h-1.1zM1074.6 1089.9h1.1v1.1h-1.1zM1050.0 1080.9h1.1v1.1h-1.1zM1071.7 1090.2h1.1v1.1h-1.1zM1069.5 1090.0h1.1v1.1h-1.1zM1069.1 1090.0h1.1v1.1h-1.1zM1092.3 1085.7h1.1v1.1h-1.1zM1087.3 1088.4h1.1v1.1h-1.1zM1042.8 1082.8h1.1v1.1h-1.1zM1088.8 1087.5h1.1v1.1h-1.1zM1087.8 1082.3h1.1v1.1h-1.1zM1064.7 1090.0h1.1v1.1h-1.1zM1072.6 1089.8h1.1v1.1h-1.1zM1075.0 1089.6h1.1v1.1h-1.1zM1059.6 1079.8h1.1v1.1h-1.1zM1093.0 1084.5h1.1v1.1h-1.1zM1067.3 1079.9h1.1v1.1h-1.1zM1080.3 1089.2h1.1v1.1h-1.1zM1077.7 1089.7h1.1v1.1h-1.1zM1090.4 1087.5h1.1v1.1h-1.1zM1067.3 1079.8h1.1v1.1h-1.1zM1077.1 1080.3h1.1v1.1h-1.1zM1047.9 1080.9h1.1v1.1h-1.1zM1085.1 1081.6h1.1v1.1h-1.1zM1073.2 1079.9h1.1v1.1h-1.1z" fill="#3288b6"/><path d="M1042.7 1082.9h1.1v1.1h-1.1zM1052.8 1088.9h1.1v1.1h-1.1zM1063.9 1080.3h1.1v1.1h-1.1zM1052.3 1089.1h1.1v1.1h-1.1zM1072.1 1089.6h1.1v1.1h-1.1zM1072.0 1089.5h1.1v1.1h-1.1zM1089.4 1086.2h1.1v1.1h-1.1zM1082.6 1088.6h1.1v1.1h-1.1zM1090.4 1084.0h1.1v1.1h-1.1zM1069.6 1080.4h1.1v1.1h-1.1zM1046.0 1087.7h1.1v1.1h-1.1zM1047.1 1088.3h1.1v1.1h-1.1zM1058.4 1089.3h1.1v1.1h-1.1zM1084.2 1088.2h1.1v1.1h-1.1zM1049.2 1088.7h1.1v1.1h-1.1zM1065.2 1089.7h1.1v1.1h-1.1zM1064.2 1080.3h1.1v1.1h-1.1zM1042.8 1086.1h1.1v1.1h-1.1zM1050.6 1081.3h1.1v1.1h-1.1zM1044.9 1082.8h1.1v1.1h-1.1zM1090.9 1084.9h1.1v1.1h-1.1zM1057.4 1080.4h1.1v1.1h-1.1zM1082.0 1081.3h1.1v1.1h-1.1zM1090.8 1083.6h1.1v1.1h-1.1zM1056.8 1080.6h1.1v1.1h-1.1zM1089.8 1084.2h1.1v1.1h-1.1zM1056.2 1089.4h1.1v1.1h-1.1zM1091.8 1084.8h1.1v1.1h-1.1zM1086.5 1082.0h1.1v1.1h-1.1zM1087.9 1087.4h1.1v1.1h-1.1zM1080.8 1081.2h1.1v1.1h-1.1zM1075.9 1080.7h1.1v1.1h-1.1zM1045.9 1082.3h1.1v1.1h-1.1zM1042.3 1084.2h1.1v1.1h-1.1zM1071.8 1089.7h1.1v1.1h-1.1zM1088.6 1082.6h1.1v1.1h-1.1zM1070.8 1089.5h1.1v1.1h-1.1zM1089.9 1084.6h1.1v1.1h-1.1zM1091.1 1086.3h1.1v1.1h-1.1zM1080.2 1081.3h1.1v1.1h-1.1zM1072.0 1080.3h1.1v1.1h-1.1zM1084.2 1081.9h1.1v1.1h-1.1zM1091.7 1084.8h1.1v1.1h-1.1zM1053.4 1089.1h1.1v1.1h-1.1zM1063.4 1080.3h1.1v1.1h-1.1zM1089.5 1086.6h1.1v1.1h-1.1zM1084.2 1088.1h1.1v1.1h-1.1zM1053.5 1081.0h1.1v1.1h-1.1zM1061.0 1089.5h1.1v1.1h-1.1zM1087.5 1087.3h1.1v1.1h-1.1zM1089.6 1083.8h1.1v1.1h-1.1zM1085.4 1088.2h1.1v1.1h-1.1zM1077.3 1080.9h1.1v1.1h-1.1zM1042.3 1086.6h1.1v1.1h-1.1zM1091.8 1084.8h1.1v1.1h-1.1zM1091.4 1085.0h1.1v1.1h-1.1zM1075.5 1089.5h1.1v1.1h-1.1zM1085.3 1087.9h1.1v1.1h-1.1zM1047.9 1081.5h1.1v1.1h-1.1zM1088.4 1086.6h1.1v1.1h-1.1zM1046.7 1082.1h1.1v1.1h-1.1zM1062.0 1089.5h1.1v1.1h-1.1zM1049.6 1081.7h1.1v1.1h-1.1zM1047.3 1081.7h1.1v1.1h-1.1zM1043.0 1086.8h1.1v1.1h-1.1zM1077.0 1080.6h1.1v1.1h-1.1zM1090.7 1085.6h1.1v1.1h-1.1zM1074.8 1089.3h1.1v1.1h-1.1zM1049.7 1088.6h1.1v1.1h-1.1zM1060.2 1080.4h1.1v1.1h-1.1zM1070.4 1080.4h1.1v1.1h-1.1zM1061.9 1080.4h1.1v1.1h-1.1zM1088.0 1086.9h1.1v1.1h-1.1zM1071.3 1080.3h1.1v1.1h-1.1zM1043.1 1083.1h1.1v1.1h-1.1zM1042.4 1083.0h1.1v1.1h-1.1zM1090.2 1083.7h1.1v1.1h-1.1zM1044.3 1082.7h1.1v1.1h-1.1zM1076.0 1089.2h1.1v1.1h-1.1zM1058.9 1080.3h1.1v1.1h-1.1zM1067.4 1080.5h1.1v1.1h-1.1zM1055.0 1080.9h1.1v1.1h-1.1zM1058.1 1089.4h1.1v1.1h-1.1zM1087.9 1083.1h1.1v1.1h-1.1zM1088.0 1083.1h1.1v1.1h-1.1zM1085.1 1082.1h1.1v1.1h-1.1zM1042.3 1084.4h1.1v1.1h-1.1zM1078.5 1080.9h1.1v1.1h-1.1zM1047.4 1082.0h1.1v1.1h-1.1zM1081.0 1081.0h1.1v1.1h-1.1zM1043.4 1087.2h1.1v1.1h-1.1zM1042.6 1086.3h1.1v1.1h-1.1zM1048.1 1081.5h1.1v1.1h-1.1zM1084.6 1088.0h1.1v1.1h-1.1zM1089.2 1086.3h1.1v1.1h-1.1zM1090.2 1083.3h1.1v1.1h-1.1z" fill="#3299b1"/><path d="M1071.2 1089.3h1.1v1.1h-1.1zM1053.1 1081.5h1.1v1.1h-1.1zM1083.5 1087.9h1.1v1.1h-1.1zM1089.4 1084.7h1.1v1.1h-1.1zM1083.2 1081.9h1.1v1.1h-1.1zM1083.0 1087.9h1.1v1.1h-1.1zM1044.5 1086.3h1.1v1.1h-1.1zM1086.0 1087.2h1.1v1.1h-1.1zM1059.2 1080.8h1.1v1.1h-1.1zM1084.3 1087.4h1.1v1.1h-1.1zM1051.6 1088.6h1.1v1.1h-1.1zM1058.2 1089.0h1.1v1.1h-1.1zM1072.8 1089.2h1.1v1.1h-1.1zM1069.0 1089.3h1.1v1.1h-1.1zM1043.4 1084.2h1.1v1.1h-1.1zM1066.2 1080.7h1.1v1.1h-1.1zM1075.9 1089.1h1.1v1.1h-1.1zM1088.6 1086.4h1.1v1.1h-1.1zM1079.4 1088.4h1.1v1.1h-1.1zM1070.3 1089.4h1.1v1.1h-1.1zM1082.6 1082.1h1.1v1.1h-1.1zM1058.9 1089.3h1.1v1.1h-1.1zM1084.6 1082.8h1.1v1.1h-1.1zM1074.1 1089.1h1.1v1.1h-1.1zM1080.5 1081.6h1.1v1.1h-1.1zM1043.5 1083.5h1.1v1.1h-1.1zM1079.1 1088.6h1.1v1.1h-1.1zM1051.9 1081.6h1.1v1.1h-1.1zM1059.8 1089.0h1.1v1.1h-1.1zM1074.3 1081.1h1.1v1.1h-1.1zM1082.4 1087.9h1.1v1.1h-1.1zM1088.3 1085.1h1.1v1.1h-1.1zM1067.9 1089.5h1.1v1.1h-1.1zM1042.7 1084.8h1.1v1.1h-1.1zM1088.2 1086.3h1.1v1.1h-1.1zM1058.9 1089.1h1.1v1.1h-1.1zM1061.6 1089.1h1.1v1.1h-1.1zM1088.1 1086.5h1.1v1.1h-1.1zM1043.7 1085.4h1.1v1.1h-1.1zM1078.3 1088.7h1.1v1.1h-1.1zM1072.1 1080.8h1.1v1.1h-1.1zM1058.3 1080.9h1.1v1.1h-1.1zM1067.2 1089.4h1.1v1.1h-1.1zM1087.7 1085.4h1.1v1.1h-1.1zM1046.8 1087.1h1.1v1.1h-1.1zM1082.2 1088.0h1.1v1.1h-1.1zM1043.1 1085.5h1.1v1.1h-1.1zM1075.2 1081.0h1.1v1.1h-1.1zM1067.4 1089.5h1.1v1.1h-1.1zM1045.6 1086.6h1.1v1.1h-1.1zM1080.9 1081.7h1.1v1.1h-1.1zM1076.1 1089.1h1.1v1.1h-1.1zM1044.9 1083.5h1.1v1.1h-1.1zM1048.7 1082.4h1.1v1.1h-1.1zM1055.7 1081.0h1.1v1.1h-1.1zM1063.3 1080.6h1.1v1.1h-1.1zM1087.1 1086.5h1.1v1.1h-1.1zM1059.2 1089.0h1.1v1.1h-1.1zM1045.4 1087.0h1.1v1.1h-1.1zM1061.8 1089.3h1.1v1.1h-1.1zM1089.3 1084.5h1.1v1.1h-1.1zM1088.2 1085.1h1.1v1.1h-1.1zM1087.5 1086.3h1.1v1.1h-1.1zM1075.3 1081.2h1.1v1.1h-1.1zM1053.6 1081.3h1.1v1.1h-1.1zM1066.4 1080.6h1.1v1.1h-1.1zM1080.0 1081.7h1.1v1.1h-1.1zM1058.6 1081.0h1.1v1.1h-1.1zM1050.2 1082.0h1.1v1.1h-1.1zM1075.5 1081.0h1.1v1.1h-1.1zM1045.8 1086.9h1.1v1.1h-1.1zM1079.8 1081.5h1.1v1.1h-1.1zM1043.2 1084.8h1.1v1.1h-1.1zM1065.7 1080.5h1.1v1.1h-1.1zM1089.8 1085.3h1.1v1.1h-1.1zM1071.3 1080.7h1.1v1.1h-1.1zM1070.4 1089.3h1.1v1.1h-1.1zM1045.9 1083.0h1.1v1.1h-1.1zM1063.1 1089.1h1.1v1.1h-1.1zM1058.2 1081.0h1.1v1.1h-1.1zM1049.0 1088.0h1.1v1.1h-1.1zM1075.7 1081.1h1.1v1.1h-1.1zM1052.9 1081.6h1.1v1.1h-1.1zM1079.4 1088.4h1.1v1.1h-1.1zM1046.9 1087.7h1.1v1.1h-1.1zM1074.9 1088.9h1.1v1.1h-1.1zM1088.8 1086.4h1.1v1.1h-1.1zM1069.6 1089.4h1.1v1.1h-1.1zM1084.1 1087.9h1.1v1.1h-1.1zM1077.9 1088.6h1.1v1.1h-1.1zM1072.3 1080.9h1.1v1.1h-1.1zM1084.6 1082.4h1.1v1.1h-1.1zM1074.6 1081.0h1.1v1.1h-1.1zM1052.0 1088.4h1.1v1.1h-1.1zM1058.9 1081.0h1.1v1.1h-1.1z" fill="#32abac"/><path d="M1053.6 1088.3h1.1v1.1h-1.1zM1047.5 1087.0h1.1v1.1h-1.1zM1058.8 1088.9h1.1v1.1h-1.1zM1046.5 1084.2h1.1v1.1h-1.1zM1080.1 1087.8h1.1v1.1h-1.1zM1077.8 1088.3h1.1v1.1h-1.1zM1053.9 1088.0h1.1v1.1h-1.1zM1081.7 1087.8h1.1v1.1h-1.1zM1044.6 1085.0h1.1v1.1h-1.1zM1085.9 1085.3h1.1v1.1h-1.1zM1084.2 1083.1h1.1v1.1h-1.1zM1087.1 1084.3h1.1v1.1h-1.1zM1062.4 1088.8h1.1v1.1h-1.1zM1083.7 1082.6h1.1v1.1h-1.1zM1051.5 1082.0h1.1v1.1h-1.1zM1083.7 1083.0h1.1v1.1h-1.1zM1051.7 1082.3h1.1v1.1h-1.1zM1084.8 1086.4h1.1v1.1h-1.1zM1055.9 1088.6h1.1v1.1h-1.1zM1076.0 1088.6h1.1v1.1h-1.1zM1049.5 1082.8h1.1v1.1h-1.1zM1087.1 1085.4h1.1v1.1h-1.1zM1053.1 1082.1h1.1v1.1h-1.1zM1057.3 1081.5h1.1v1.1h-1.1zM1067.2 1080.9h1.1v1.1h-1.1zM1067.7 1089.1h1.1v1.1h-1.1zM1052.9 1082.1h1.1v1.1h-1.1zM1086.6 1085.6h1.1v1.1h-1.1zM1085.5 1084.2h1.1v1.1h-1.1zM1061.3 1081.1h1.1v1.1h-1.1zM1079.9 1082.0h1.1v1.1h-1.1zM1068.9 1089.1h1.1v1.1h-1.1zM1072.4 1088.6h1.1v1.1h-1.1zM1076.2 1081.7h1.1v1.1h-1.1zM1046.7 1083.8h1.1v1.1h-1.1zM1061.0 1088.8h1.1v1.1h-1.1zM1080.3 1087.8h1.1v1.1h-1.1zM1056.6 1081.5h1.1v1.1h-1.1zM1086.0 1084.8h1.1v1.1h-1.1zM1056.2 1081.3h1.1v1.1h-1.1zM1044.3 1084.6h1.1v1.1h-1.1zM1086.4 1084.2h1.1v1.1h-1.1zM1046.4 1083.9h1.1v1.1h-1.1zM1069.4 1081.2h1.1v1.1h-1.1zM1050.2 1087.4h1.1v1.1h-1.1zM1044.5 1085.2h1.1v1.1h-1.1zM1057.2 1088.6h1.1v1.1h-1.1zM1084.5 1082.9h1.1v1.1h-1.1zM1077.8 1081.8h1.1v1.1h-1.1zM1078.9 1081.8h1.1v1.1h-1.1zM1050.2 1082.3h1.1v1.1h-1.1zM1054.6 1088.3h1.1v1.1h-1.1zM1052.8 1081.8h1.1v1.1h-1.1zM1054.3 1081.7h1.1v1.1h-1.1zM1057.2 1088.6h1.1v1.1h-1.1zM1084.2 1083.3h1.1v1.1h-1.1zM1079.4 1088.2h1.1v1.1h-1.1zM1077.7 1088.2h1.1v1.1h-1.1zM1054.3 1088.4h1.1v1.1h-1.1zM1084.8 1083.2h1.1v1.1h-1.1zM1077.7 1081.7h1.1v1.1h-1.1zM1049.2 1082.5h1.1v1.1h-1.1zM1078.1 1081.9h1.1v1.1h-1.1zM1045.6 1085.4h1.1v1.1h-1.1zM1060.6 1081.0h1.1v1.1h-1.1zM1086.8 1085.4h1.1v1.1h-1.1zM1082.9 1087.1h1.1v1.1h-1.1zM1075.4 1088.7h1.1v1.1h-1.1zM1086.4 1084.9h1.1v1.1h-1.1zM1050.3 1082.6h1.1v1.1h-1.1zM1057.6 1081.4h1.1v1.1h-1.1zM1086.5 1086.1h1.1v1.1h-1.1zM1084.1 1083.1h1.1v1.1h-1.1zM1087.5 1084.5h1.1v1.1h-1.1zM1045.1 1084.4h1.1v1.1h-1.1zM1087.3 1085.1h1.1v1.1h-1.1zM1046.1 1084.4h1.1v1.1h-1.1zM1080.4 1087.8h1.1v1.1h-1.1zM1084.0 1083.2h1.1v1.1h-1.1zM1060.4 1081.1h1.1v1.1h-1.1zM1071.8 1081.2h1.1v1.1h-1.1zM1079.8 1082.1h1.1v1.1h-1.1zM1085.5 1085.8h1.1v1.1h-1.1zM1054.0 1081.8h1.1v1.1h-1.1zM1085.3 1083.0h1.1v1.1h-1.1zM1051.7 1081.9h1.1v1.1h-1.1zM1068.5 1088.9h1.1v1.1h-1.1zM1084.9 1086.4h1.1v1.1h-1.1zM1085.8 1085.8h1.1v1.1h-1.1zM1055.0 1081.8h1.1v1.1h-1.1zM1076.9 1081.8h1.1v1.1h-1.1zM1080.3 1081.9h1.1v1.1h-1.1zM1070.4 1088.8h1.1v1.1h-1.1zM1087.4 1085.5h1.1v1.1h-1.1zM1081.3 1087.4h1.1v1.1h-1.1zM1086.9 1085.1h1.1v1.1h-1.1zM1087.1 1085.3h1.1v1.1h-1.1zM1046.7 1083.3h1.1v1.1h-1.1zM1045.2 1085.8h1.1v1.1h-1.1zM1067.3 1088.8h1.1v1.1h-1.1zM1045.8 1085.0h1.1v1.1h-1.1zM1060.7 1088.7h1.1v1.1h-1.1zM1065.6 1089.2h1.1v1.1h-1.1zM1084.6 1083.6h1.1v1.1h-1.1zM1046.5 1084.1h1.1v1.1h-1.1zM1084.7 1083.5h1.1v1.1h-1.1z" fill="#37b69c"/><path d="M1083.4 1083.5h1.1v1.1h-1.1zM1047.7 1084.5h1.1v1.1h-1.1zM1081.7 1086.6h1.1v1.1h-1.1zM1085.0 1085.5h1.1v1.1h-1.1zM1071.6 1081.6h1.1v1.1h-1.1zM1085.3 1085.2h1.1v1.1h-1.1zM1062.5 1088.4h1.1v1.1h-1.1zM1061.8 1088.4h1.1v1.1h-1.1zM1062.5 1081.4h1.1v1.1h-1.1zM1074.8 1081.6h1.1v1.1h-1.1zM1077.8 1082.4h1.1v1.1h-1.1zM1082.5 1083.7h1.1v1.1h-1.1zM1066.3 1088.6h1.1v1.1h-1.1zM1066.5 1081.3h1.1v1.1h-1.1zM1051.6 1082.6h1.1v1.1h-1.1zM1057.3 1081.8h1.1v1.1h-1.1zM1047.7 1083.8h1.1v1.1h-1.1zM1084.4 1083.8h1.1v1.1h-1.1zM1069.1 1088.4h1.1v1.1h-1.1zM1081.0 1087.4h1.1v1.1h-1.1zM1085.4 1084.6h1.1v1.1h-1.1zM1047.2 1083.8h1.1v1.1h-1.1zM1077.2 1082.2h1.1v1.1h-1.1zM1066.5 1081.4h1.1v1.1h-1.1zM1085.2 1085.3h1.1v1.1h-1.1zM1069.8 1081.3h1.1v1.1h-1.1zM1068.5 1081.5h1.1v1.1h-1.1zM1083.2 1083.8h1.1v1.1h-1.1zM1078.5 1082.3h1.1v1.1h-1.1zM1063.7 1081.4h1.1v1.1h-1.1zM1051.0 1086.8h1.1v1.1h-1.1zM1055.2 1087.8h1.1v1.1h-1.1zM1058.6 1088.4h1.1v1.1h-1.1zM1051.0 1083.0h1.1v1.1h-1.1zM1075.4 1087.9h1.1v1.1h-1.1zM1077.6 1082.2h1.1v1.1h-1.1zM1064.0 1088.6h1.1v1.1h-1.1zM1078.5 1082.1h1.1v1.1h-1.1zM1071.6 1081.8h1.1v1.1h-1.1zM1051.8 1082.5h1.1v1.1h-1.1zM1067.3 1088.6h1.1v1.1h-1.1zM1081.0 1087.4h1.1v1.1h-1.1zM1047.9 1084.6h1.1v1.1h-1.1zM1085.2 1085.7h1.1v1.1h-1.1zM1073.5 1081.7h1.1v1.1h-1.1zM1046.9 1084.1h1.1v1.1h-1.1zM1049.5 1083.1h1.1v1.1h-1.1zM1072.6 1081.6h1.1v1.1h-1.1zM1084.5 1084.8h1.1v1.1h-1.1zM1084.3 1084.9h1.1v1.1h-1.1zM1083.7 1083.7h1.1v1.1h-1.1zM1081.1 1087.0h1.1v1.1h-1.1zM1068.2 1081.5h1.1v1.1h-1.1zM1075.4 1088.1h1.1v1.1h-1.1zM1049.7 1083.2h1.1v1.1h-1.1zM1062.4 1088.7h1.1v1.1h-1.1zM1067.5 1088.5h1.1v1.1h-1.1zM1062.2 1081.4h1.1v1.1h-1.1zM1047.9 1084.6h1.1v1.1h-1.1zM1080.9 1087.2h1.1v1.1h-1.1zM1071.0 1081.7h1.1v1.1h-1.1zM1066.6 1081.5h1.1v1.1h-1.1zM1060.2 1081.4h1.1v1.1h-1.1zM1083.2 1083.6h1.1v1.1h-1.1zM1083.8 1083.5h1.1v1.1h-1.1zM1066.7 1088.4h1.1v1.1h-1.1zM1062.0 1081.5h1.1v1.1h-1.1zM1053.8 1082.2h1.1v1.1h-1.1zM1054.4 1087.8h1.1v1.1h-1.1zM1084.9 1085.1h1.1v1.1h-1.1zM1082.0 1083.3h1.1v1.1h-1.1zM1083.5 1083.7h1.1v1.1h-1.1zM1051.4 1087.5h1.1v1.1h-1.1zM1076.7 1088.2h1.1v1.1h-1.1zM1065.3 1081.3h1.1v1.1h-1.1zM1080.7 1082.8h1.1v1.1h-1.1zM1047.9 1083.9h1.1v1.1h-1.1zM1070.2 1081.6h1.1v1.1h-1.1zM1060.9 1081.6h1.1v1.1h-1.1zM1055.7 1081.9h1.1v1.1h-1.1zM1049.3 1083.1h1.1v1.1h-1.1zM1062.7 1081.5h1.1v1.1h-1.1zM1047.5 1084.9h1.1v1.1h-1.1zM1083.8 1085.1h1.1v1.1h-1.1zM1076.3 1088.2h1.1v1.1h-1.1zM1072.4 1081.7h1.1v1.1h-1.1zM1066.9 1081.5h1.1v1.1h-1.1zM1049.6 1083.1h1.1v1.1h-1.1zM1080.2 1087.6h1.1v1.1h-1.1z" fill="#43bc82"/><path d="M1058.7 1087.9h1.1v1.1h-1.1zM1072.1 1088.1h1.1v1.1h-1.1zM1051.9 1086.7h1.1v1.1h-1.1zM1070.7 1082.1h1.1v1.1h-1.1zM1070.6 1088.0h1.1v1.1h-1.1zM1072.8 1082.3h1.1v1.1h-1.1zM1069.5 1088.3h1.1v1.1h-1.1zM1055.6 1082.3h1.1v1.1h-1.1zM1049.6 1085.7h1.1v1.1h-1.1zM1076.6 1082.6h1.1v1.1h-1.1zM1058.8 1082.2h1.1v1.1h-1.1zM1081.2 1086.0h1.1v1.1h-1.1zM1076.6 1087.4h1.1v1.1h-1.1zM1074.7 1087.9h1.1v1.1h-1.1zM1061.9 1081.7h1.1v1.1h-1.1zM1072.0 1082.2h1.1v1.1h-1.1zM1076.3 1087.3h1.1v1.1h-1.1zM1056.3 1087.5h1.1v1.1h-1.1zM1055.3 1087.7h1.1v1.1h-1.1zM1074.1 1087.8h1.1v1.1h-1.1zM1077.9 1082.6h1.1v1.1h-1.1zM1068.5 1088.2h1.1v1.1h-1.1zM1060.4 1088.1h1.1v1.1h-1.1zM1059.4 1082.0h1.1v1.1h-1.1zM1051.3 1083.3h1.1v1.1h-1.1zM1080.4 1083.7h1.1v1.1h-1.1zM1059.9 1082.2h1.1v1.1h-1.1zM1069.1 1082.0h1.1v1.1h-1.1zM1082.7 1085.3h1.1v1.1h-1.1zM1070.8 1088.0h1.1v1.1h-1.1zM1082.7 1084.0h1.1v1.1h-1.1zM1074.8 1082.4h1.1v1.1h-1.1zM1055.8 1087.7h1.1v1.1h-1.1zM1050.4 1085.3h1.1v1.1h-1.1zM1080.2 1083.6h1.1v1.1h-1.1zM1067.6 1088.3h1.1v1.1h-1.1zM1074.7 1087.9h1.1v1.1h-1.1zM1048.7 1085.1h1.1v1.1h-1.1zM1072.5 1082.0h1.1v1.1h-1.1zM1050.4 1083.6h1.1v1.1h-1.1zM1056.5 1082.5h1.1v1.1h-1.1zM1049.7 1085.7h1.1v1.1h-1.1zM1054.0 1087.4h1.1v1.1h-1.1zM1075.9 1087.3h1.1v1.1h-1.1zM1082.9 1084.6h1.1v1.1h-1.1zM1049.9 1083.8h1.1v1.1h-1.1zM1072.1 1081.8h1.1v1.1h-1.1zM1082.6 1084.2h1.1v1.1h-1.1zM1054.2 1087.4h1.1v1.1h-1.1zM1078.7 1086.9h1.1v1.1h-1.1zM1061.6 1081.9h1.1v1.1h-1.1zM1083.1 1085.2h1.1v1.1h-1.1zM1048.6 1085.5h1.1v1.1h-1.1zM1072.2 1087.8h1.1v1.1h-1.1zM1054.4 1087.0h1.1v1.1h-1.1zM1077.6 1087.1h1.1v1.1h-1.1zM1068.1 1088.1h1.1v1.1h-1.1zM1053.2 1086.8h1.1v1.1h-1.1zM1064.6 1082.0h1.1v1.1h-1.1zM1052.0 1083.0h1.1v1.1h-1.1zM1056.9 1087.6h1.1v1.1h-1.1zM1049.4 1084.4h1.1v1.1h-1.1zM1075.6 1087.4h1.1v1.1h-1.1zM1048.5 1084.5h1.1v1.1h-1.1zM1056.3 1082.6h1.1v1.1h-1.1zM1069.4 1088.1h1.1v1.1h-1.1zM1056.5 1082.4h1.1v1.1h-1.1zM1068.7 1088.3h1.1v1.1h-1.1zM1082.6 1085.5h1.1v1.1h-1.1zM1079.3 1082.8h1.1v1.1h-1.1zM1075.6 1082.4h1.1v1.1h-1.1zM1074.4 1087.9h1.1v1.1h-1.1zM1080.2 1083.1h1.1v1.1h-1.1zM1082.4 1084.8h1.1v1.1h-1.1zM1056.9 1087.6h1.1v1.1h-1.1zM1069.6 1088.1h1.1v1.1h-1.1zM1059.5 1087.8h1.1v1.1h-1.1zM1050.0 1084.0h1.1v1.1h-1.1zM1069.5 1081.9h1.1v1.1h-1.1zM1071.2 1088.1h1.1v1.1h-1.1zM1048.8 1085.8h1.1v1.1h-1.1zM1049.5 1084.5h1.1v1.1h-1.1zM1051.5 1083.1h1.1v1.1h-1.1zM1048.5 1084.5h1.1v1.1h-1.1zM1071.9 1087.8h1.1v1.1h-1.1zM1052.6 1087.0h1.1v1.1h-1.1zM1060.5 1082.1h1.1v1.1h-1.1zM1079.4 1087.0h1.1v1.1h-1.1zM1050.5 1086.5h1.1v1.1h-1.1zM1081.7 1084.3h1.1v1.1h-1.1zM1050.3 1085.5h1.1v1.1h-1.1zM1052.9 1086.9h1.1v1.1h-1.1zM1063.0 1082.0h1.1v1.1h-1.1zM1066.1 1081.9h1.1v1.1h-1.1z" fill="#4fc267"/><path d="M1080.3 1084.4h1.1v1.1h-1.1zM1081.4 1085.1h1.1v1.1h-1.1zM1081.5 1084.7h1.1v1.1h-1.1zM1074.7 1082.7h1.1v1.1h-1.1zM1052.7 1084.3h1.1v1.1h-1.1zM1070.6 1087.5h1.1v1.1h-1.1zM1052.3 1084.6h1.1v1.1h-1.1zM1059.6 1082.4h1.1v1.1h-1.1zM1067.1 1087.7h1.1v1.1h-1.1zM1073.7 1087.3h1.1v1.1h-1.1zM1052.3 1083.6h1.1v1.1h-1.1zM1053.5 1086.3h1.1v1.1h-1.1zM1067.9 1082.2h1.1v1.1h-1.1zM1068.5 1087.5h1.1v1.1h-1.1zM1078.7 1086.3h1.1v1.1h-1.1zM1074.6 1087.3h1.1v1.1h-1.1zM1074.7 1087.1h1.1v1.1h-1.1zM1057.6 1087.0h1.1v1.1h-1.1zM1064.0 1082.4h1.1v1.1h-1.1zM1076.7 1087.0h1.1v1.1h-1.1zM1067.8 1082.1h1.1v1.1h-1.1zM1063.2 1087.7h1.1v1.1h-1.1zM1052.4 1084.9h1.1v1.1h-1.1zM1080.0 1085.4h1.1v1.1h-1.1zM1066.3 1087.5h1.1v1.1h-1.1zM1073.1 1082.8h1.1v1.1h-1.1zM1052.4 1084.2h1.1v1.1h-1.1zM1055.2 1083.2h1.1v1.1h-1.1zM1060.5 1087.3h1.1v1.1h-1.1zM1077.9 1083.6h1.1v1.1h-1.1zM1056.1 1083.2h1.1v1.1h-1.1zM1076.6 1086.7h1.1v1.1h-1.1zM1078.9 1086.6h1.1v1.1h-1.1zM1068.7 1087.5h1.1v1.1h-1.1zM1079.3 1086.1h1.1v1.1h-1.1zM1068.8 1087.7h1.1v1.1h-1.1zM1067.3 1082.1h1.1v1.1h-1.1zM1078.9 1083.9h1.1v1.1h-1.1zM1067.4 1087.7h1.1v1.1h-1.1zM1076.9 1082.9h1.1v1.1h-1.1zM1057.1 1087.0h1.1v1.1h-1.1zM1071.4 1082.6h1.1v1.1h-1.1zM1069.9 1082.5h1.1v1.1h-1.1zM1067.0 1087.9h1.1v1.1h-1.1zM1078.0 1086.5h1.1v1.1h-1.1zM1061.4 1087.6h1.1v1.1h-1.1zM1051.3 1084.3h1.1v1.1h-1.1zM1081.4 1084.6h1.1v1.1h-1.1zM1073.9 1087.1h1.1v1.1h-1.1zM1072.9 1087.5h1.1v1.1h-1.1zM1059.3 1087.3h1.1v1.1h-1.1zM1080.5 1084.9h1.1v1.1h-1.1zM1067.4 1087.8h1.1v1.1h-1.1zM1055.6 1087.1h1.1v1.1h-1.1zM1076.7 1086.8h1.1v1.1h-1.1zM1072.5 1082.5h1.1v1.1h-1.1zM1051.5 1084.9h1.1v1.1h-1.1zM1079.8 1083.7h1.1v1.1h-1.1zM1065.0 1082.2h1.1v1.1h-1.1zM1070.5 1087.8h1.1v1.1h-1.1zM1051.5 1085.5h1.1v1.1h-1.1zM1065.0 1082.1h1.1v1.1h-1.1zM1064.0 1087.7h1.1v1.1h-1.1zM1070.9 1082.4h1.1v1.1h-1.1zM1070.6 1087.5h1.1v1.1h-1.1zM1053.5 1083.6h1.1v1.1h-1.1zM1061.3 1082.2h1.1v1.1h-1.1zM1072.8 1087.3h1.1v1.1h-1.1zM1069.9 1082.1h1.1v1.1h-1.1zM1078.0 1086.6h1.1v1.1h-1.1zM1063.1 1087.8h1.1v1.1h-1.1zM1050.5 1084.8h1.1v1.1h-1.1zM1079.3 1085.8h1.1v1.1h-1.1zM1061.9 1087.6h1.1v1.1h-1.1zM1051.8 1086.0h1.1v1.1h-1.1zM1079.5 1084.5h1.1v1.1h-1.1zM1069.0 1082.1h1.1v1.1h-1.1zM1075.6 1082.7h1.1v1.1h-1.1zM1054.2 1086.7h1.1v1.1h-1.1zM1066.4 1082.1h1.1v1.1h-1.1zM1069.6 1087.6h1.1v1.1h-1.1zM1060.0 1087.6h1.1v1.1h-1.1zM1080.6 1085.1h1.1v1.1h-1.1zM1068.4 1087.9h1.1v1.1h-1.1zM1059.3 1082.6h1.1v1.1h-1.1zM1076.8 1087.1h1.1v1.1h-1.1zM1053.0 1086.0h1.1v1.1h-1.1zM1053.6 1083.2h1.1v1.1h-1.1zM1051.3 1084.5h1.1v1.1h-1.1zM1055.4 1083.2h1.1v1.1h-1.1zM1079.9 1084.3h1.1v1.1h-1.1zM1080.6 1085.4h1.1v1.1h-1.1zM1066.2 1082.1h1.1v1.1h-1.1zM1081.2 1085.5h1.1v1.1h-1.1zM1078.4 1083.7h1.1v1.1h-1.1zM1075.2 1087.0h1.1v1.1h-1.1zM1051.7 1085.6h1.1v1.1h-1.1z" fill="#5ec84e"/><path d="M1076.5 1086.2h1.1v1.1h-1.1zM1063.3 1087.4h1.1v1.1h-1.1zM1078.0 1084.5h1.1v1.1h-1.1zM1056.1 1084.0h1.1v1.1h-1.1zM1056.0 1086.1h1.1v1.1h-1.1zM1053.2 1084.7h1.1v1.1h-1.1zM1068.1 1087.0h1.1v1.1h-1.1zM1075.3 1083.5h1.1v1.1h-1.1zM1078.2 1084.9h1.1v1.1h-1.1zM1055.8 1083.8h1.1v1.1h-1.1zM1074.3 1086.8h1.1v1.1h-1.1zM1074.7 1083.3h1.1v1.1h-1.1zM1066.6 1087.1h1.1v1.1h-1.1zM1070.2 1082.7h1.1v1.1h-1.1zM1074.4 1086.9h1.1v1.1h-1.1zM1052.9 1084.8h1.1v1.1h-1.1zM1055.2 1085.9h1.1v1.1h-1.1zM1068.8 1083.0h1.1v1.1h-1.1zM1065.9 1083.0h1.1v1.1h-1.1zM1068.8 1087.1h1.1v1.1h-1.1zM1073.6 1086.9h1.1v1.1h-1.1zM1075.8 1086.7h1.1v1.1h-1.1zM1077.9 1084.7h1.1v1.1h-1.1zM1073.8 1083.4h1.1v1.1h-1.1zM1058.9 1086.8h1.1v1.1h-1.1zM1070.1 1087.3h1.1v1.1h-1.1zM1070.5 1082.6h1.1v1.1h-1.1zM1078.5 1084.2h1.1v1.1h-1.1zM1076.7 1084.8h1.1v1.1h-1.1zM1057.9 1087.0h1.1v1.1h-1.1zM1074.5 1083.8h1.1v1.1h-1.1zM1074.9 1086.3h1.1v1.1h-1.1zM1053.4 1085.6h1.1v1.1h-1.1zM1056.9 1086.3h1.1v1.1h-1.1zM1059.2 1083.0h1.1v1.1h-1.1zM1076.5 1083.6h1.1v1.1h-1.1zM1055.4 1084.3h1.1v1.1h-1.1zM1068.7 1087.3h1.1v1.1h-1.1zM1061.6 1086.9h1.1v1.1h-1.1zM1077.4 1084.7h1.1v1.1h-1.1zM1056.0 1086.4h1.1v1.1h-1.1zM1055.4 1083.8h1.1v1.1h-1.1zM1053.3 1084.6h1.1v1.1h-1.1zM1076.6 1083.8h1.1v1.1h-1.1zM1063.5 1082.6h1.1v1.1h-1.1zM1053.6 1084.9h1.1v1.1h-1.1zM1068.5 1087.4h1.1v1.1h-1.1zM1078.8 1084.5h1.1v1.1h-1.1zM1055.1 1085.3h1.1v1.1h-1.1zM1077.5 1086.1h1.1v1.1h-1.1zM1076.2 1083.6h1.1v1.1h-1.1zM1076.6 1086.0h1.1v1.1h-1.1zM1056.3 1086.6h1.1v1.1h-1.1zM1070.6 1087.0h1.1v1.1h-1.1zM1052.9 1085.2h1.1v1.1h-1.1zM1067.6 1082.9h1.1v1.1h-1.1zM1061.2 1087.2h1.1v1.1h-1.1zM1062.7 1087.4h1.1v1.1h-1.1zM1059.5 1086.8h1.1v1.1h-1.1zM1069.1 1082.7h1.1v1.1h-1.1zM1067.1 1087.1h1.1v1.1h-1.1zM1058.0 1083.4h1.1v1.1h-1.1zM1073.3 1083.2h1.1v1.1h-1.1zM1070.5 1087.4h1.1v1.1h-1.1zM1066.9 1087.3h1.1v1.1h-1.1zM1062.3 1087.3h1.1v1.1h-1.1zM1054.6 1083.9h1.1v1.1h-1.1zM1064.4 1082.6h1.1v1.1h-1.1zM1054.2 1085.6h1.1v1.1h-1.1zM1053.9 1084.0h1.1v1.1h-1.1zM1077.9 1085.5h1.1v1.1h-1.1zM1079.1 1085.1h1.1v1.1h-1.1zM1057.6 1083.4h1.1v1.1h-1.1zM1076.1 1086.6h1.1v1.1h-1.1zM1074.3 1086.3h1.1v1.1h-1.1zM1078.1 1085.7h1.1v1.1h-1.1zM1078.8 1085.2h1.1v1.1h-1.1zM1072.2 1083.2h1.1v1.1h-1.1zM1076.5 1083.8h1.1v1.1h-1.1zM1055.3 1086.4h1.1v1.1h-1.1zM1065.5 1082.7h1.1v1.1h-1.1zM1076.2 1086.6h1.1v1.1h-1.1zM1057.2 1083.2h1.1v1.1h-1.1zM1053.7 1085.4h1.1v1.1h-1.1zM1054.8 1084.5h1.1v1.1h-1.1zM1071.0 1082.9h1.1v1.1h-1.1zM1072.0 1082.8h1.1v1.1h-1.1zM1074.8 1083.4h1.1v1.1h-1.1zM1077.3 1084.7h1.1v1.1h-1.1zM1065.2 1087.2h1.1v1.1h-1.1zM1054.4 1085.7h1.1v1.1h-1.1zM1054.3 1083.8h1.1v1.1h-1.1zM1073.5 1083.4h1.1v1.1h-1.1zM1073.2 1083.3h1.1v1.1h-1.1zM1055.1 1086.3h1.1v1.1h-1.1zM1076.7 1086.2h1.1v1.1h-1.1zM1071.7 1083.2h1.1v1.1h-1.1zM1069.1 1082.8h1.1v1.1h-1.1zM1069.3 1082.7h1.1v1.1h-1.1zM1058.2 1083.5h1.1v1.1h-1.1zM1056.8 1083.5h1.1v1.1h-1.1zM1065.6 1087.3h1.1v1.1h-1.1zM1059.2 1083.1h1.1v1.1h-1.1zM1060.1 1086.9h1.1v1.1h-1.1zM1055.5 1084.5h1.1v1.1h-1.1zM1078.9 1084.8h1.1v1.1h-1.1z" fill="#8dcf44"/><path d="M1075.2 1084.1h1.1v1.1h-1.1zM1073.0 1086.1h1.1v1.1h-1.1zM1062.3 1083.5h1.1v1.1h-1.1zM1061.8 1086.5h1.1v1.1h-1.1zM1071.5 1086.0h1.1v1.1h-1.1zM1064.2 1086.9h1.1v1.1h-1.1zM1061.0 1086.2h1.1v1.1h-1.1zM1065.2 1083.2h1.1v1.1h-1.1zM1064.9 1083.1h1.1v1.1h-1.1zM1073.0 1086.2h1.1v1.1h-1.1zM1076.1 1084.7h1.1v1.1h-1.1zM1064.2 1086.9h1.1v1.1h-1.1zM1060.8 1083.9h1.1v1.1h-1.1zM1058.9 1085.7h1.1v1.1h-1.1zM1055.7 1085.2h1.1v1.1h-1.1zM1057.6 1086.2h1.1v1.1h-1.1zM1071.3 1084.0h1.1v1.1h-1.1zM1072.5 1083.5h1.1v1.1h-1.1zM1063.3 1083.2h1.1v1.1h-1.1zM1068.2 1083.2h1.1v1.1h-1.1zM1058.2 1084.0h1.1v1.1h-1.1zM1065.3 1086.9h1.1v1.1h-1.1zM1065.2 1086.9h1.1v1.1h-1.1zM1074.8 1084.5h1.1v1.1h-1.1zM1072.7 1086.2h1.1v1.1h-1.1zM1057.7 1085.3h1.1v1.1h-1.1zM1065.0 1083.3h1.1v1.1h-1.1zM1074.8 1085.4h1.1v1.1h-1.1zM1068.5 1083.3h1.1v1.1h-1.1zM1065.6 1086.9h1.1v1.1h-1.1zM1067.5 1083.0h1.1v1.1h-1.1zM1058.1 1083.7h1.1v1.1h-1.1zM1063.5 1086.6h1.1v1.1h-1.1zM1073.8 1084.6h1.1v1.1h-1.1zM1058.7 1084.1h1.1v1.1h-1.1zM1067.3 1083.4h1.1v1.1h-1.1zM1074.2 1084.0h1.1v1.1h-1.1zM1071.2 1083.6h1.1v1.1h-1.1zM1056.4 1085.1h1.1v1.1h-1.1zM1075.4 1084.2h1.1v1.1h-1.1zM1069.0 1086.6h1.1v1.1h-1.1zM1066.8 1083.4h1.1v1.1h-1.1zM1072.1 1086.6h1.1v1.1h-1.1zM1063.8 1083.5h1.1v1.1h-1.1zM1058.5 1084.4h1.1v1.1h-1.1zM1058.4 1084.7h1.1v1.1h-1.1zM1066.5 1086.5h1.1v1.1h-1.1zM1072.3 1085.9h1.1v1.1h-1.1zM1061.3 1083.2h1.1v1.1h-1.1zM1065.6 1083.2h1.1v1.1h-1.1zM1068.7 1086.9h1.1v1.1h-1.1zM1074.8 1084.1h1.1v1.1h-1.1zM1058.4 1086.1h1.1v1.1h-1.1zM1057.8 1084.5h1.1v1.1h-1.1zM1072.4 1083.9h1.1v1.1h-1.1zM1068.5 1083.1h1.1v1.1h-1.1zM1069.9 1086.8h1.1v1.1h-1.1zM1065.9 1086.9h1.1v1.1h-1.1zM1069.7 1086.5h1.1v1.1h-1.1zM1074.9 1084.2h1.1v1.1h-1.1zM1070.2 1083.6h1.1v1.1h-1.1zM1057.2 1085.7h1.1v1.1h-1.1zM1062.8 1083.3h1.1v1.1h-1.1zM1062.7 1086.9h1.1v1.1h-1.1zM1057.7 1084.7h1.1v1.1h-1.1zM1072.3 1084.0h1.1v1.1h-1.1zM1073.9 1085.7h1.1v1.1h-1.1zM1066.0 1087.0h1.1v1.1h-1.1zM1071.6 1084.0h1.1v1.1h-1.1zM1060.3 1083.6h1.1v1.1h-1.1zM1073.2 1084.0h1.1v1.1h-1.1zM1072.7 1084.0h1.1v1.1h-1.1zM1073.6 1085.1h1.1v1.1h-1.1zM1072.1 1086.3h1.1v1.1h-1.1zM1066.9 1083.0h1.1v1.1h-1.1zM1065.4 1083.4h1.1v1.1h-1.1zM1058.2 1085.5h1.1v1.1h-1.1zM1073.9 1086.1h1.1v1.1h-1.1zM1068.3 1086.4h1.1v1.1h-1.1zM1056.9 1084.5h1.1v1.1h-1.1zM1070.5 1086.2h1.1v1.1h-1.1zM1057.5 1085.1h1.1v1.1h-1.1zM1058.1 1085.3h1.1v1.1h-1.1zM1058.0 1083.8h1.1v1.1h-1.1zM1072.5 1086.4h1.1v1.1h-1.1zM1062.9 1083.1h1.1v1.1h-1.1zM1059.9 1086.2h1.1v1.1h-1.1zM1058.6 1084.3h1.1v1.1h-1.1zM1074.3 1085.1h1.1v1.1h-1.1zM1068.4 1083.2h1.1v1.1h-1.1zM1075.5 1084.3h1.1v1.1h-1.1zM1070.0 1083.2h1.1v1.1h-1.1zM1075.4 1084.4h1.1v1.1h-1.1zM1064.2 1083.0h1.1v1.1h-1.1zM1073.7 1086.0h1.1v1.1h-1.1zM1062.8 1086.4h1.1v1.1h-1.1zM1076.1 1084.3h1.1v1.1h-1.1zM1058.6 1084.5h1.1v1.1h-1.1zM1068.3 1083.5h1.1v1.1h-1.1zM1057.6 1086.1h1.1v1.1h-1.1zM1058.5 1083.6h1.1v1.1h-1.1zM1060.1 1083.4h1.1v1.1h-1.1zM1060.3 1086.1h1.1v1.1h-1.1zM1065.5 1083.5h1.1v1.1h-1.1zM1062.1 1083.2h1.1v1.1h-1.1zM1066.2 1086.8h1.1v1.1h-1.1zM1055.6 1085.5h1.1v1.1h-1.1zM1056.9 1085.0h1.1v1.1h-1.1zM1073.8 1086.1h1.1v1.1h-1.1zM1070.6 1083.3h1.1v1.1h-1.1z" fill="#bbd739"/><path d="M1067.2 1085.2h1.1v1.1h-1.1zM1064.7 1085.7h1.1v1.1h-1.1zM1060.1 1085.4h1.1v1.1h-1.1zM1066.8 1083.7h1.1v1.1h-1.1zM1069.8 1084.9h1.1v1.1h-1.1zM1070.2 1084.7h1.1v1.1h-1.1zM1063.1 1085.2h1.1v1.1h-1.1zM1068.3 1086.1h1.1v1.1h-1.1zM1061.9 1084.8h1.1v1.1h-1.1zM1063.9 1084.9h1.1v1.1h-1.1zM1072.6 1085.5h1.1v1.1h-1.1zM1063.2 1084.6h1.1v1.1h-1.1zM1059.4 1085.5h1.1v1.1h-1.1zM1062.2 1085.8h1.1v1.1h-1.1zM1063.7 1084.5h1.1v1.1h-1.1zM1059.2 1085.2h1.1v1.1h-1.1zM1059.1 1085.2h1.1v1.1h-1.1zM1070.7 1085.7h1.1v1.1h-1.1zM1068.4 1084.3h1.1v1.1h-1.1zM1065.5 1086.0h1.1v1.1h-1.1zM1064.3 1084.8h1.1v1.1h-1.1zM1068.6 1086.3h1.1v1.1h-1.1zM1061.2 1084.2h1.1v1.1h-1.1zM1070.5 1085.7h1.1v1.1h-1.1zM1072.0 1084.3h1.1v1.1h-1.1zM1063.1 1085.7h1.1v1.1h-1.1zM1069.5 1085.8h1.1v1.1h-1.1zM1066.1 1085.3h1.1v1.1h-1.1zM1064.1 1085.5h1.1v1.1h-1.1zM1065.4 1085.3h1.1v1.1h-1.1zM1071.5 1085.5h1.1v1.1h-1.1zM1060.4 1085.1h1.1v1.1h-1.1zM1064.9 1086.2h1.1v1.1h-1.1zM1069.6 1084.2h1.1v1.1h-1.1zM1066.9 1085.6h1.1v1.1h-1.1zM1072.3 1085.4h1.1v1.1h-1.1zM1068.9 1085.2h1.1v1.1h-1.1zM1069.2 1083.9h1.1v1.1h-1.1zM1071.7 1085.6h1.1v1.1h-1.1zM1064.8 1084.3h1.1v1.1h-1.1zM1068.9 1085.1h1.1v1.1h-1.1zM1066.9 1084.2h1.1v1.1h-1.1zM1073.2 1084.8h1.1v1.1h-1.1zM1068.8 1084.4h1.1v1.1h-1.1zM1058.7 1084.8h1.1v1.1h-1.1zM1071.7 1085.6h1.1v1.1h-1.1zM1068.6 1084.6h1.1v1.1h-1.1zM1059.7 1085.5h1.1v1.1h-1.1zM1067.3 1085.6h1.1v1.1h-1.1zM1066.0 1083.6h1.1v1.1h-1.1zM1062.1 1085.7h1.1v1.1h-1.1zM1067.9 1085.9h1.1v1.1h-1.1zM1069.5 1084.2h1.1v1.1h-1.1zM1069.9 1083.8h1.1v1.1h-1.1zM1070.4 1083.9h1.1v1.1h-1.1zM1068.5 1084.0h1.1v1.1h-1.1zM1067.0 1084.4h1.1v1.1h-1.1zM1061.1 1085.8h1.1v1.1h-1.1zM1065.1 1084.5h1.1v1.1h-1.1zM1072.7 1085.3h1.1v1.1h-1.1zM1064.8 1086.4h1.1v1.1h-1.1zM1070.4 1085.5h1.1v1.1h-1.1zM1068.3 1085.3h1.1v1.1h-1.1zM1066.3 1086.4h1.1v1.1h-1.1zM1069.4 1084.4h1.1v1.1h-1.1zM1063.5 1084.7h1.1v1.1h-1.1zM1062.0 1084.1h1.1v1.1h-1.1zM1067.0 1083.9h1.1v1.1h-1.1zM1063.5 1085.4h1.1v1.1h-1.1zM1064.6 1084.8h1.1v1.1h-1.1zM1069.5 1086.0h1.1v1.1h-1.1zM1070.0 1086.2h1.1v1.1h-1.1zM1068.6 1083.9h1.1v1.1h-1.1zM1061.4 1084.7h1.1v1.1h-1.1zM1067.4 1084.4h1.1v1.1h-1.1zM1065.3 1085.4h1.1v1.1h-1.1zM1066.4 1085.2h1.1v1.1h-1.1zM1072.2 1085.1h1.1v1.1h-1.1zM1073.0 1085.1h1.1v1.1h-1.1zM1072.5 1084.7h1.1v1.1h-1.1zM1061.2 1085.1h1.1v1.1h-1.1zM1070.7 1084.8h1.1v1.1h-1.1zM1065.4 1085.8h1.1v1.1h-1.1zM1061.8 1085.4h1.1v1.1h-1.1zM1070.1 1085.1h1.1v1.1h-1.1zM1071.8 1084.6h1.1v1.1h-1.1zM1070.1 1085.6h1.1v1.1h-1.1zM1072.6 1085.4h1.1v1.1h-1.1zM1071.7 1084.2h1.1v1.1h-1.1zM1070.1 1085.6h1.1v1.1h-1.1zM1062.1 1084.2h1.1v1.1h-1.1z" fill="#ddcd30"/>
<path d="M951,1142.5 V1100 M951,1142.5 H995" stroke="#1a1a1a" stroke-width="2.6" fill="none"/>
<path d="M951,1084 L958,1108 L951,1102 L944,1108 Z" fill="#1a1a1a"/>
<path d="M1009.5,1142.5 L985.5,1135.5 L991,1142.5 L985.5,1149.5 Z" fill="#1a1a1a"/>
<text x="930.2" y="1126" font-size="20.5" font-weight="bold" fill="#1a1a1a" text-anchor="start" stroke="#1a1a1a" stroke-width="0.5">S</text>
<text x="950.5" y="1166.5" font-size="20.5" font-weight="bold" fill="#1a1a1a" stroke="#1a1a1a" stroke-width="0.5" textLength="40.5" lengthAdjust="spacingAndGlyphs">FSC</text>
</svg>
</body></html>
